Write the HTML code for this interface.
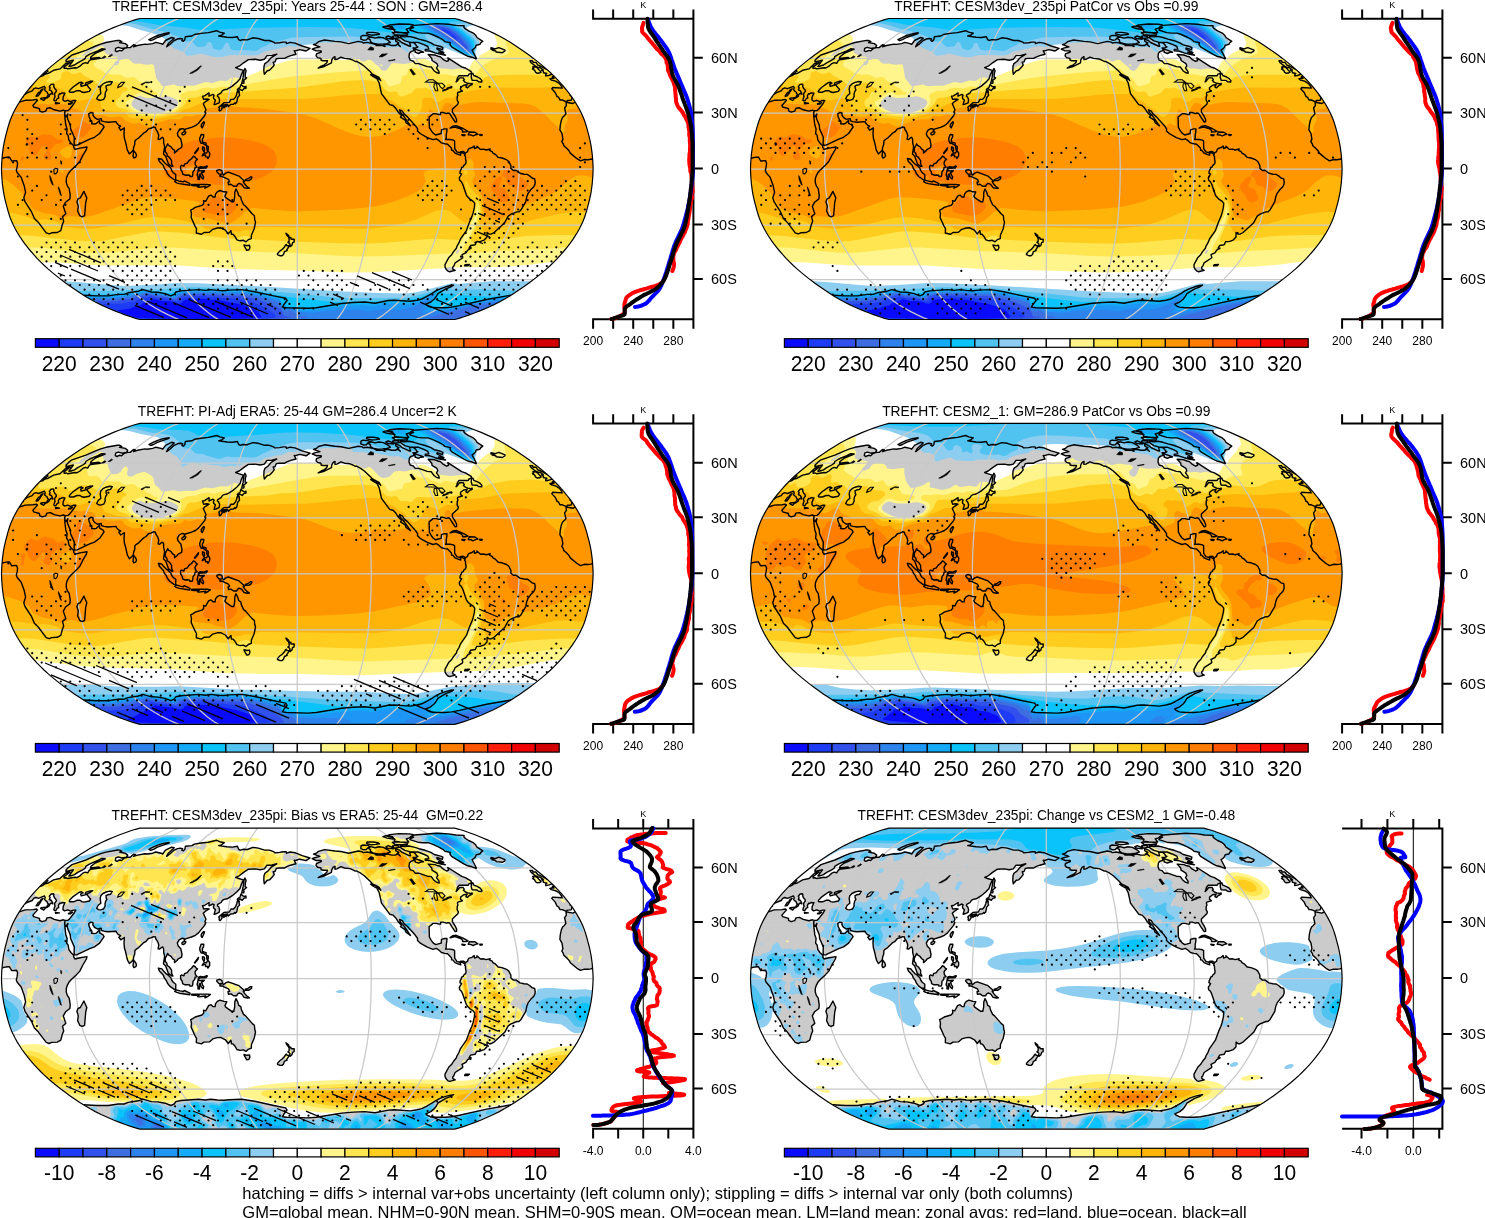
<!DOCTYPE html><html><head><meta charset="utf-8"><title>TREFHT SON</title><style>html,body{margin:0;padding:0;background:#fff}body{width:1485px;height:1218px;position:relative;overflow:hidden;font-family:"Liberation Sans",sans-serif}</style></head><body><svg width="1485" height="1218" viewBox="0 0 1485 1218" style="position:absolute;left:0;top:0" font-family="Liberation Sans, Arimo, Helvetica, Arial, sans-serif" fill="#000">
<defs>
<path id="land" d="M-272.1,-68.7l7.9-0.3 3.4-0.6 1,0.9-4.6,5.2 0.7,1.5 5.9,1.7 0.1,2.1 2.5,1.3 3.6-1 1.3-2.8 3.4-0.5 3.8,2 5.7,1.3 3.5-0.9 1.8,0.6-0.6,2.2 0.4,5.6 0.8,6.5 1.3,3.8-0.5,4.6 1.5,1.9 0.8,4.7 2,2.8 2.8,2.8 0.1,1.8 1.1,1.9 5.1-1.3 7-1.1-0.6,2.4-3.8,6.5-2.8,5.6-3.5,3.8-5,4.6-2.4,2.8-1.5,2.8-1,2.8-0.2,3.8 1.1,3.7 1.9,2.8 1,6.5-0.3,3.8-4.3,3.3-2.3,4.1 2.5,7.5-3.3,2.8 1.2,4.7-1.5,3.7-1.4,5.6-3.5,1.9-5.6,0.3-2.5,1.1-3-1.1-8-10.6-3.8-3.7-2.8-6.6-6.6-10.2-0.6-1.9-0.6-1.9 1.8-5.6-1.4-6.5-3-8.4-4-4.7-0.9-2.4 0.8-3.2 0.5-3.7-1-2.8-4.9,0.4-2.2-3.8-1.8-0.1-4,0.7-1.7,0.7 1-9.3 1.7-9.4 3.5-13.2 2.5-7.5 3.3-7.5 5.4-9.4zM275.6,-65.5l2.3-1.3 6.3,11.3 3.8,9.4 4.1,15 1.9,9.4 1.3,11.2-1.6,0.8-3.2,0.4-3.3-0.2-4,1.3-3.5-2.1-6.7-5.6-0.9-1.8-2.4-2.8-3.2-2.8-0.5-1.9-1.5-2.2 1.1-2.5-0.9-5.6-2.1-3.7 0.4-4.7 1-4.6 1.3-3.2 1.7-1.5 1.6-1.9-1.3-5.9 1.8-2.5-0.4-3.3zM-257.3,-92l3.1-1.3 1.9-1.5 3.3-0.8 5.3-3.1 6.4-1.4 5.6-5.3 4.5-1.2-6.1,4.7 0.1,1.3 2.2-0.2 1.3,0.7 7.5-1.2 1.7,0.3 3.2-1.8 2.8-2.6 2.5-1 2.4,0.7 1.3-2.3 1.4-1.2 10-1.4-1.4-1-8.4,1 0.4-1.7 4.3-3.3 9.9-4.2-3.5-0.4-3.9,2.1-8,3.3-4.1,2.5-0.3,1.7-2.7,1.8-5,2.6-3.2,2.2-3.6,1.2-2,0.2 4.5-6.2-7.4,1.7 0.1-1.7 2.6-2.6 3.3-2.6 13.9-4.6 9.7-4.4 5.1-1.9 5.2-1.6 11.6-2.1 2.4,0.1 1.9,1.2-2.3,0.8 5.8,1.1 2.4,1.9-1.2,2.1-4.6,0.8-3.6-1.1-2.6,1.1-0.4,2.5 1.6,0.8 2.7-1.3 2,0.5 2.8-2.5 3.4-0.8 2.4,0 3.3-2.9 1.9,0.5-1.8,1.6 3.8-1.3 7.6-1.4 2.1,0.3 5.6-0.8 3.1-1.2 5.3,1.2 1.6,0.8 2.8-3.9 6.1-3 2.6,0.7-5.9,5.4-1.7,3.2 3.3-2.4 4.3-3.9 3.3-1.5 2.7-0.5 2.4,0.5-0.8,1.5 1.6,0.8 1.4-1.6 0.6-3 6.4-0.7 2.6-1.5 6.7-1.1 7.3-0.8 8.3-1.9 3,1.4 4.6,1-2.8,2.1-2.8,0.8 8.3,1.2 5.5,0.3 4.9-0.8 1.3,3 1.4,0.8 2.7-0.8 4.6,0.2 5.4-2.1 5.5,0.7 6.3,2 4.7,0 4.4,1.6 1,1 4.8-0.3 3.6-0.7 3,0 0.4,1.5 3.7-1.2 4.7,0.7 7.3,2.9 7.8,2.4-3.9,2.6-6.3-1.4-4.4,1.3-1.2-0.3 1.8,3.6-5.2,1.4-3.9,1.5-2.3,1.3-5.7,0-2.6,0.4-1.3,3.1-1.8,0.3 1,2.8-1.6,2.1-3.1,3.2-2.2,0.4-3,3.5-0.5-3.5 0.2-4.5 0.9-2.6 3-2.1 3.3-3.9 5.6-3.4-4.7,1.2-5.1,0.2-2.7,3.7-4.1,0.9-5.1-0.9-6.7,0.3-4.8,3.2-4.4,3.4-3.5,1.5 2.8,1.2 4.9,1.4-2.2,4.8-1.1,3.7-3.4,3.6-4.4,3.7-5.1,3.1-3.1,0.6-1.7,0.9-1.3,2.2-3.4,1.9-0.3,1.4 1.3,1 0.9,2.8-0.5,2.8-3.2,1.4-1.8,0.4 1.3-4.6-1.6-1.3-0.4-1.5 0.7-1.9-1.2-0.9-3.9,1.8 0.1-3.3-4.6,3-2,0.3 1.2,3.2 3.2-0.4 2.2,0.4-3.9,2.4-1.9,1.9 2.7,6-1.2,2.4 1,0.9-1.2,2.8-6.1,7.5-3.1,2.4-3.9,1.7-6.1,1.8-1,1.9-0.3-2.2-2.2-0.2-2.8,1.5-1.8,3.3 0.9,2.8 2.6,2.8 1.2,5.6-0.4,2.8-3.7,2.1-0.9,1.3-2.5,2.1 0.1-2.7-1.6-0.9-2.2-2.8-2.4-1.3-0.7-1.5-2.3,4.7-0.2,3.1 1.6,1.9 0.5,2.4 2.1,1.5 2.2,3.2 0,3.2 1.3,2.6-1.5-0.2-3-2.4-2.7-7.5-2.2-2.2 1.1-7.5-0.9-3.7-0.1-3.8-0.9-1.8-1.2,0.5-1.8,1.7-1.6-0.4 0.7-3.7-1.2-3.4-2-3.1-0.1-1.5-2-0.4-2.6,1.3-2.5,0.6-2.3,2.8-2.3,1.3-5.1,5-2.3,1.5-1.5,1.5-0.2,3.6-1.1,2.9-0.2,2.3-1.4,1.8-2.6,2.3-1.8-3.2-0.6-2-1.5-6.8-1.1-3.7-0.4-4.7 0.4-5.6-3.6,2.3-2-2.6 1.9-1.5-2.2-1-1.6-1.8-0.9-1.7-8.1,0.6-3.9-0.6-2.5-0.7-0.2-2.3-3.9,0.8-2.7-1.7-1.7-2.4 0-2.3-2.2-0.5-2.1,1.4 0.4,2.8 1.2,2.5-0.2,2.2 1.4-0.9 0.5,1.8-0.5,1.4 3.1,0.3 1.8-0.5 3.1-3 0.1,2.8 3.2,1.7 1.3,2-4.5,6.5-5.1,3.8-4.8,1.8-12.6,6-2.5,0.2-0.5-2.4 0.2-5.6-3.7-8.4-0.3-3.8-2.4-5.6-0.7-2.8 0.7-2.8-1.8,2.8-1-0.9-0.4-2.6 0.5-2.4 2.8-0.2 1.6-1.3 4.3-5.6 1.9-3.2-2.3,0-2.9,1.1-2.8-1.3-3.2,1-1.6-1.3 0.1-2.8 1.8-4.1-2.9-0.2-1.5,1.1-0.8-0.4-1.3,2.1 0.3,2.4-1.4,0.4-1.4,2.4-1.2,0-0.8-0.6 0.3-1.8 0.9-1.9-0.5-1.7 0.1-1.4 1.7-2.3-0.4-1.4-1.3-1.3-1-2.1 0.2-1.6-0.6-0.7-2.2,0.3-1.8,2.2 0.8,1.3-0.7,2 2,1 1.3,2.4 0.1,0.9-1.7-0.7-1.6,1.4-0.1,1.3-2.7,1.9 0.4-1.5 1.4-2.2-1.1-1.1-0.2-1.1-1.6-1.2-1-1.1 0.6-2-0.8-1.6-5.9,2.4-2.7-0.8-2.1,0.9-1.5,2.1-5.2,2-2.5,1.8 8.1-10 5.3-5.8zM-223.8,-76.8l3.5-1.5 3,0 1.7,1.3 2.4,0.5 5.2-1.1 1.3-2-1.8-1.9-2.2-2.9 3.6-1.8 2.5-1.7-2.6,0.2-4.4,1.5-0.3,1.6 0.5,0.6-4.7,1.3-0.5-1.9 2.3-1.3-1.8-0.9-1.9,0.4-6.2,4.4-2.9,2.8-1,1.6 0.8,0.8zM-192.1,-72.8l-0.2-1.8 0.7-2.8 1.2-1.8-0.7-1.5-0.2-2.2 1.6-0.9 3-0.6 1.7-2.7-2.7-0.4-3.5,0.9-3.1,1.5-2.2,2.2-0.6,2.7 0.6,4.8-2.6,2.1-1.5,3 1.7,1.3 2.1,0.3 3.2-0.9zM267.4,-68.1l-2.4-0.9-2.3,0-1.5-2.8-1.4-0.6-1.9-4.1-3.4-3.7 0.8-1.3 9.6,0.6-0.8-2-2.2-2.8-3.6-2.2-4.3-1.1-1.4-1.2 1.9-0.6 2.2,0.2-1.6-1.8 2.5,0.3 1.8,2 8.7,9.8 4.7,6 0,0.6 1.7,1.7 0,1.8-0.8,1.5-3.6,0.2-0.9,1.3zM17.3,-120.9l5.3-1.3-6.4-2.2 2.9-1 2.1-1.9 6.1-1.7 10.3,1.4 6,0.5 7.8,1.7 9.7-2.2 3.8,0.7 1.1,0.9 3.8-0.6 5.5,1.2 3.7,1.3-0.3,0.6 6-0.1 3.1,1.1-1-1.6 3.3-0.5 4.4,1.1 4.2,0 0.4-1.1 2.2,0.5 1.7,1.6-2.6-2.9 1.2-0.8-3-1.5-0.5-2.2 4,1.4 2.2,2 7.5,3.5 1.5,0.3-1-3.5 1.3-0.4 2.8,0.4 2,1.6 0.7,1.6 1.5,0.8-1.8,1.1-3.1,0 1,1.3-0.6,1.7-2.6,0.8-1.4,1.7-0.4,3.7 1.2,3.1 2.9,0.8 2.2,2.6 3.4,0 8.6,3 4,0.4 2.7,3.7 2.4,1.8 2.7,0.9-0.1-1.8-2.5-3.6 1.3-2.1-0.9-2.3-4.9-3.1-0.2-2.1-3.6-3.9 6.8,0.5 2.9,1.2 2.4,0.5 2.7,2.6 3.6,2.1 2-0.9-0.8-2.6 13.9,8.9 3.7,1.2 5.8,3.6 0.3,1.8-2.6,0.8-0.7,1.5-9.2,0-1.6,2.2-0.6,2.7-0.7,1.3 1.5-1.3 2-2.7 3.6,0 1.1,1.8-0.9,0.9 2,1.8 2.4,0.9 3.3,0.6 1-0.6 0.1,1.3-2.9,1.3-1.9,2-1.5-0.9 1.2-2.4-3.4,0.6-3.1,2.3-0.1,2.3 1.6,0.9 0.3,0.5-4.6,1.3-0.4,1 0.5,1.8-0.6,1.3-0.2,3.4 1.3,2.4-0.6,1.8-5.4,5.1 0,2.8 2.7,4.1 1.5,3.3 0,2.3-1.4,0.2-3.6-5.3-2-3.3-1.6-0.4-1.5,0.6-3.4-1.1-2.4,0-0.1,2-1.8,0-2.5-0.7-3.2,0-4,3.3 0.3,10.3 1.8,3.3 1.9,2.5 2.6,1.8 5.5-1.5 0.3-3.7 3.1-0.9 2.4,0-0.3,3.7-0.5,2.2 0,3.4-0.7,1.3 4.6,0 3.3,0.6 1.2,0.9 0.1,7.5 2.2,3.3 2.5,0.8 1.7-1 2.3-0.1 2.1,1.5 2-1.4 0.7-2.2 1-0.9 2.9-0.8 2-1.8 0.5,2.6 2.4-1-0.1-1.3 3.5,3.2 3.3-0.2 2.5,0.8 4-1-0.7,1.3 2.6,1.3 0.9,1.5 2.6,1.5 2.6,2.8 3.8,0.6 4.5,1.7 2.3,1.8 2.1,4.1 0,2.8 2.5,2.1 2.5-0.2 4,3 4.1,0.9 3.2,0.2 2.4,1.5 2.4,2.1 2.7,0.9 0.5,3.2-0.2,2-1.2,2.6-2.8,2.8-2.9,3.8-1.4,3.7-0.9,4.7-4.9,8.4-2,1.8-2,0-5.8,2.3-2.9,2-3.5,6.5-10.6,9.8-3.1,1.6-1.8,0-2.1-1.6-0.1,4.6-2.8,3-4.2,1.5-3.3,0-1.5,3.1-4.6,0.8-1.5,2.7 2,0-3.4,1.9-1.8,2.7-3.9,1.9 0.8,2.4-0.3,0.9-7.4,4.9-1.4,3.4-1,1 0.2,1.8 2.3,1.2-5.5,1.5-1.7-0.6-1.6-1.6-1.3-2.3-0.1-2.7 3.9-7.2 2.8-2.7 1.7-2.8 3-3.7 0.5-1.8 2.1-3.7 1.5-3.7 5.9-8.4 3.4-9.3 2.1-4.7 1.2-3.7 1.3-5.6 0.3-4-1.5-2-3-1.9-2.8-2.8-1.1-1.8-3.6-10.5-1.3-2.6-1.7-1.5-0.4-2.4 2.3-3.8-1.7-0.9 0.4-2.2 1-1.9 0.3-1.5 1.7-0.7 0.3-1.2 2.1-1.8 0.4-2.1-0.6-3 0-2.2-0.9-1.1 0.6-1.3-1.3-0.4-2.1-1.3-1.4,1.3 0.3,1.5-2-0.6-3.7-1.6-2.3-2.7-1.1,0-0.2-2.2-3.8-3.9-2.8-0.4-3.3-0.9-2.7-2.5-2.6-1.6-3.2,0.9-5.7-2.1-7.1-4.1-2.7-2.6 0.1-2-2.2-3.2-7.7-8.6-3.7-3.2-1.7-2.8-2.7-1.3 0.6,2.3 3.3,3.7 7,10.1-4.4-3.2-0.9-2.6-4.7-3 1.1-1.3-3.1-3.3-2.7-4.2-2.8-2.8-3.3-0.9-8.2-11-2.3-10.6-2.2-4.1 2.5,0.2 1.2,1.5-1.7-3.1-6.6-3.3-2.3-2.6-5.8-5.4-3.6-2.6-4.1-2.2-1.3,0.1-2.4-1.3-3-1.2-5.4-0.6-3.6-1.3-4,2.2-2,0.3 0.1-2.9-1.8,0.9-1.5,2.6-0.2,2.6-8.2,4-5.1,1.2 3-1.8 3.2-1.4 2.4-2 0.7-2.1-4.3,0-2.1-0.5-0.2-1.8-3.4-0.8-1.4-1.7 0.4-2 4.8-1.9-0.2-1.1-5,0-3.9-1.8zM116.9,-143.6l22.8-1.8 11.3,0.7 7.5,1.1 8.3,0.4-0.2,1.4 1.6,1.7 3.1,2 4.7,2.2 2.3,2.1 1.4,2.3 5.8,3.8-2,1.5-0.9,1.6-3.7,0.8-0.7,1.9-1.6,1.8-1.8,1.2 4.3,8.3-0.3,0.4-4.1-1.6-4.3-1-3.9-2-12.2-7.4-1.7-2.4 0.6-1.6-5.5-1.2-2.2-1.9-3.9-2.2-6.6-3-4.2-1.4-5.5,0-4.9-0.5-7.8-2.6 0.6-1.1 3.2-1.3-3-0.6zM-104.6,40.1l2.5-1.7 6.8-2 1.8-1.9-0.3-2.8 2.2,0.6 2.9-5.2 2.4-1 2,1.9 2.1,0 0.4-2.8 1.8-2.4 2.7-1.3 3.8,1.3 3,0.2-1.9,4.1 0.8,1.5 6,4.1 2.1,0 0.9-4.7 0.1-4.7 1.2-3.3 1.7,3.3 1,3.4 2.1,1.3 0.5,2.8 2.3,5 2,1.5 6.5,7.5 2.3,1.9 0.3,3.7 0.8,3-1.3,6.3-2.8,6.5-0.1,3.4-3,1.1-2.3,2.1-2.6-1.5-3.3,0.5-3.2-0.9-2.1-3.7-1.8-1.9-1.5,0-0.6-3.7-2.6,3.3-2.9-3.7-4.7-2.4-3.4,0.2-4.5,1.3-3.4,3-5.4,0.2-2.7,1.8-5-1.3 0.2-4.3-1.6-2.8-3.8-8.4 0.4-3.7-0.8-3.7zM-50.4,76.7l2.6-0.4 0.4,2.4-0.9,2-2.2,0.6-2.6-4.5-0.2-0.9zM-8.8,66.2l0.8,2.5 1.5-0.2 0.4,1.7 3,0-0.1,2.9-1.5,0.6-0.6,2.4-1.8,1.5-0.7-0.6 0.5-1.8-0.4-0.8-1.7-1.1 1.2-0.9 0.1-2.4-0.7-1.9-2-2.4-0.5-1.5zM-10.1,76.8l1.5,0-0.1,1.2-2,3.1 0.5,0.5-2.7,1.1-0.9,2.8-1.5,1.3-1.8,0-2.7-1.1 0-0.9 2-2.4 2.9-2.2 2.1-2.2 0.9-1.7 0.9-0.8zM-210.5,28.9l-1.1,4.7-1.1,13.1-2.5,1.1-2.3-1.1-2.2-4.7 0.7-4.7-1.4-4.6 1.1-2.8 2.3-1 3.6-6.5zM-73.4,-66.2l5.4-0.4 1.7-3 2.6,0 1.9-2.2 1.2-2.8 0.4-2.2 2.2-0.4-0.2,1.7 0.5,1.8-1.9,2.2-1,4.9-1.4,1.3-0.3-0.9-1.6,1.4-2.8,0.2-2.2,2.1-0.9-2.1-6.6,1.1zM-75.3,-62.1l0.1,1.4-1.3,2.1-1,0.6-0.7-0.8 0.3-1.9-0.6-0.9 0.9-1.1 1.2-0.6zM-71.5,-64l1,0.9-0.9,1-1.1-0.4-0.9,1.3-0.8-0.9 0.3-1.4zM-59.4,-78.9l-0.6-0.5 1.2-1.3 1.2,0 1.3-3.9 1.6,1.7 2,0.9 1.4-0.6 0,1.9-2.3,0.5-1.4,1.9-1.8-1.1-1.5,0.3-0.7,1.1-1,0.6zM-51.2,-98.3l-0.7,2.7-0.3,3.6 1.5,0.9-3.2,2.7 0.7,1.3-0.4,1.4-2,0 1.3-5.4 1-7.2 0.9-2.3zM-92.8,-46.5l-1,2.6-1.3,2.8-1-1.3 0.1-1.8 1.3-1.9 1.2-1.1zM-113,-37.5l1.6,0.7-1,1.9-1.7,0.9-1.3-0.7 0.2-1.3zM-161.6,-15.9l0.8,2.3-0.7,1.7-1.9,0.9-0.9-1.7 0.7-5.6zM-135.4,-9.7l1.6,2.2 2.4,2.5 2.4,1.6 2.5,2.5 1.1,2.8 1.4,1.8 2.5,1.9-0.1,5.2-1.4,0-4.6-3.3-2.2-2.8-1.2-2.8-2.1-2.8-0.8-2.5-4-4.1-1.1-3zM-121,11.2l3.8,1.1 3.3,0.6 0.8-1 5.8,2.7-0.1,1.6-10.6-1.6-2.5-0.8-2.1-1.1zM-99.9,15.5l9.8,0 3.3,0.4-2.4,1.8-3.2,1.5 0.7-1.8-6.5,0.9-1.6-0.4 1.6-1.3-4.9,0.2-2.5-0.4 0-0.9zM-115.8,-3.7l2.4,0.9 0.6-2.1 2.8-1.1 1.7-2.4 2.5-1.9 2-2.6 1.6,1 1.3,1.6 1.1,0.6-1.6,1.5-0.9,1.7 0.4,2.4 1.7,2.2-2,0.4-0.5,2.4-1.6,1.9-0.3,3.4-0.5,1.3-2.3,0-0.2-1.2-2.4-0.3-2.2,0.2-2.5-1.2-0.3-2.2-1.3-1.9-0.4-1.5 0-2.2zM-96.9,-2.2l3.2,0.5 3.3-1.3 0.4,0.4-1.2,1.7-5.8,0.2-1.3,0.3-0.3,1.9 1.6,0.4 4-0.2-1,1.1-1.8,0.7 1,2.7 1.2,1.8-0.6,2.1-1.8-1.7-0.9-1.9 0-1.5-1,0.4 0.1,5.1-1.5-0.2 0-2.8-0.9-1.3 1.6-7.7zM-78.1,0.7l2.5,0.8 0.9,3.2 0.8,1.5 2.4-2.1 2.5-0.9 10.7,3.9 4.5,4.1 1,1.3-1.3,0.2 1.7,2.6 1.7,1.9 2.8,2-2,0.2-3.3-0.7-2.5-3.4-2.5-0.9-1.6,1.1-0.8,1.7-3.2,0-2.5-1.9-2.5,0.4-0.5-2.6 1.6-0.4-1.2-2.4-6.6-3-1.7,0.2-0.3-1.3 1.6-1-2.5-0.2-2.1-2.4 0-1.1zM-49.2,9.7l2.4-1.7 1.3,0-0.4,1.9-2.5,1.7-3.3,0-0.3-1zM-93.5,-34.3l-0.3,2.6-1.1,1.8 0,2.8 3.7,1.2 0,2.4-3.3-2.1-1.6,0-1.2-2.4-0.3-2.4 1.5-4.1zM-87.6,-15.9l-0.1,2.8-1.7,2.6-0.5-1.6-1.9,0 0-1.9-1.6,0-1.7,0.9 0.9-1.8 1.7-1.1 1.6,0.1 1.7-2.4zM-89,-22.4l-0.1,2.8-0.9,0.9-0.7-1.8 0.1-2.8zM-93.1,-21.5l0.4,2.8-0.6,1.7-1.5-2.6 0.1-2.4zM-98.8,-21.1l-0.5,1.9-3.1,3.7-0.4-0.4zM-250.6,-98.3l1.3,0.5-3.8,2.7-1.8,0.3 5.1-4.6zM253.3,-94.2l-2.1,0.7-2.8,0.4 0.2-1.8 1-0.6-3.5-0.7 0.3-0.3-0.8-1.5-1.4-0.9 1.9-0.1-3.7-2.7-1.7,0.4-0.4-0.6-1.8-0.7-4.6-3.6-1.2-2 2.5,0 0.7,1.6 2.7,0 2.2,3 1.1,0 7.9,4.2 5.1,4.6zM243.8,-96.9l-1.5,0.9-2.6,0.2-1.5-1.1-0.8-1.8-2.2-1.4 1.3-0.7-1.1-1.2 1.4-0.4 3,1.1zM193.7,-121.2l4.2,1.1 3.6-1.3 6.2,2.5-0.2,1.1-2.5,1.5-6.2-0.7-0.3-1-3.5-0.8 1.6-0.6-2.9-0.4zM-144.8,-131.2l5.1-2.3 5.7-1.7 5.8-1-0.1,0.8-11.6,3.9-3.9,2.2-2.8,1-1.8-1zM143.6,-114.6l-5.7-1.5-5.4-1.9-4.6-0.3 0.1-1.3 3.5-0.3-1-2.6-3.3-1.6-6.5-2.5-8.5-0.3-4.6-1.3-4-2.6-0.5-1.8 4.4,0.5 4.1-0.5 5,1.1 5.1,1.6 6.2,1.6 5.7,2.1 3.3,2.1 6.4,1.6 2.3,1.1-0.5,2.1-5.4-1.8 0,1.3 6.9,3.5-5.3-0.5 6.9,3zM85.1,-124.9l-4.7,0.2-4.7-1-2.7-1.7 0.2-1.6-2.8-1.8 3.2-1.2 4.2,1.1 3.9-0.9 4.4,0.6 4.9,2.7 2,2-3.4,1.1zM63.7,-132.6l2.1-1 4.8,0.4 2.6,1.4-3.1,1.5-1,1.2-2.8,0.3-2.8-1.1zM108.5,-136.4l-5.8-0.2-5.1-0.8-2.4-4.6-5.3-1 2.6-1 9.3-1 10.3,0.3 4,0.7-2.3,2.2-1.7,1-3.2,1 2.5,3.2zM109.8,-133.8l-6.2,0-6-0.4-2.5-2 2.6-0.6 6.3,0.3 6.4,1.3zM89.9,-140.5l-4.3-1.5 3-0.9 5.8,1.5 3.3,2.2zM78.8,-134.2l-4.7,0.4-4.9-1.4 0.5-1.4 6,0 4.9,0.7 1.6,1.1zM97,-130.5l-1.8-2.1 2.2-0.7 3.3,0.6 1.4,1.5zM90.1,-130.5l-1.6-1.3 2.4-1.2 3.5,1.5 1.5,1.8zM117,-120.2l7.6,2.6 1.6,0.8-2.7,0.2-2.3,1.1-3.5-1.3 0.3-0.5zM173.9,-92l0.3-2.8 1.3-1 1,2.3 3.8,1.5 2.6,1.6 1.7,2-0.2,1.4-3.2-0.3-1.5-1.3-4.9-0.2zM77.9,-93.3l3.5,3.1-2.3-0.4-3.4-2-2.4-1.8zM155.7,-42.9l3.2-0.4 6.9,2.8 4.9,2.8-2,0.6-3.5,0.1 0.1-1.4-1.9-1.7-5.9-1.9-4.7,1.1zM172.1,-37l5.5,0.2 3,2.1-2.5,0.5-2.3,1.2-1.8-1-3.1-0.3zM167.9,-34l-1,0.8-2.2-0.6-0.1-0.5zM185,-34.3l-0.4,0.8-1.9-0.1-0.2-0.9zM172.2,95.5l-1.7,1.4-3.2,0 0.6-1.3zM-251.3,-71.3l-2.3,2.8-3-1.7 0.5-0.7zM-256.7,-76.5l-2.4,3.4-2.1,0.3 2.4-3.7zM-254.2,-80.2l-2,2.8-1,0 1.1-1.8zM-237.9,-65.7l-3.8,0.4-0.2-0.9 2,0.2zM-224.8,-66.4l-1.9,1.5-2.1,0.1 0-0.5zM-213.8,126.2l13,0.7 11.9,0 9.7-1.5 6,0 4-1.6 10.3-1.6 4.5-1.6 8.6,2.4 6.4,0.3 7.2,1.3 5.8,2.3 3.3-1.5 1.6-2.4 5.2-1.1 17.5-1.3 6.7,0.8 5.6-0.8 6.6,0.8 6.3,0.3 5.9-0.6 12.1-0.5 13,2.1 19,4.2 12,2.4 1.4,2.2-3,3.7-1.7,2.9 4.3,0.6 21.1,0.6 8.5-0.6 25.3-4.2 11.6-1 11.4-0.5 10.4,1.2 13.3-2.7 5.9-0.3 16.1,1.1 6.8-1.1 4.7-1.2 4.6-2.3 5.5-3.1 3.5-2.4 4.7-2.4 5.6-2 5-1.3 2.9-0.4-3.2,2-4.7,1.7-7.8,4.8-1.3,2.3-2.2,3.1-3.6,3-5,2.2 1.3,1.4 3.2,1.5 6.3,0.6 8.5,0 6.5-0.6 7.9-1.5 27.2-6.1 24.4-4.3-13.6,7.7-12.5,5.8-15.3,6.1-15,4.7-314.8,0-15-4.7-15.3-6.1-12.5-5.8z" fill="#cbcbcb" fill-rule="evenodd"/>
<path id="coast" d="M-277.9,-66.8l5.8-1.9 7.9-0.3 3.4-0.6 1,0.9-4.6,5.2 0.7,1.5 5.9,1.7 0.1,2.1 2.5,1.3 3.6-1 1.3-2.8 3.4-0.5 3.8,2 5.7,1.3 3.5-0.9 1.8,0.6-0.6,2.2 0.4,5.6 0.8,6.5 1.3,3.8-0.5,4.6 1.5,1.9 0.8,4.7 2,2.8 2.8,2.8 0.1,1.8 1.1,1.9 5.1-1.3 7-1.1-0.6,2.4-3.8,6.5-2.8,5.6-3.5,3.8-5,4.6-2.4,2.8-1.5,2.8-1,2.8-0.2,3.8 1.1,3.7 1.9,2.8 1,6.5-0.3,3.8-4.3,3.3-2.3,4.1 2.5,7.5-3.3,2.8 1.2,4.7-1.5,3.7-1.4,5.6-3.5,1.9-5.6,0.3-2.5,1.1-3-1.1-8-10.6-3.8-3.7-2.8-6.6-6.6-10.2-0.6-1.9-0.6-1.9 1.8-5.6-1.4-6.5-3-8.4-4-4.7-0.9-2.4 0.8-3.2 0.5-3.7-1-2.8-4.9,0.4-2.2-3.8-1.8-0.1-4,0.7-1.7,0.7M295.3,-10.5l-1.6,0.8-3.2,0.4-3.3-0.2-4,1.3-3.5-2.1-6.7-5.6-0.9-1.8-2.4-2.8-3.2-2.8-0.5-1.9-1.5-2.2 1.1-2.5-0.9-5.6-2.1-3.7 0.4-4.7 1-4.6 1.3-3.2 1.7-1.5 1.6-1.9-1.3-5.9 1.8-2.5-0.4-3.3 6.9,1.3 2.3-1.3M-257.6,-92.1l3.4-1.2 1.9-1.5 3.3-0.8 5.3-3.1 6.4-1.4 5.6-5.3 4.5-1.2-6.1,4.7 0.1,1.3 2.2-0.2 1.3,0.7 7.5-1.2 1.7,0.3 3.2-1.8 2.8-2.6 2.5-1 2.4,0.7 1.3-2.3 1.4-1.2 10-1.4-1.4-1-8.4,1 0.4-1.7 4.3-3.3 9.9-4.2-3.5-0.4-3.9,2.1-8,3.3-4.1,2.5-0.3,1.7-2.7,1.8-5,2.6-3.2,2.2-3.6,1.2-2,0.2 4.5-6.2-7.4,1.7 0.1-1.7 2.6-2.6 3.3-2.6 13.9-4.6 9.7-4.4 5.1-1.9 5.2-1.6 11.6-2.1 2.4,0.1 1.9,1.2-2.3,0.8 5.8,1.1 2.4,1.9-1.2,2.1-4.6,0.8-3.6-1.1-2.6,1.1-0.4,2.5 1.6,0.8 2.7-1.3 2,0.5 2.8-2.5 3.4-0.8 2.4,0 3.3-2.9 1.9,0.5-1.8,1.6 3.8-1.3 7.6-1.4 2.1,0.3 5.6-0.8 3.1-1.2 5.3,1.2 1.6,0.8 2.8-3.9 6.1-3 2.6,0.7-5.9,5.4-1.7,3.2 3.3-2.4 4.3-3.9 3.3-1.5 2.7-0.5 2.4,0.5-0.8,1.5 1.6,0.8 1.4-1.6 0.6-3 6.4-0.7 2.6-1.5 6.7-1.1 7.3-0.8 8.3-1.9 3,1.4 4.6,1-2.8,2.1-2.8,0.8 8.3,1.2 5.5,0.3 4.9-0.8 1.3,3 1.4,0.8 2.7-0.8 4.6,0.2 5.4-2.1 5.5,0.7 6.3,2 4.7,0 4.4,1.6 1,1 4.8-0.3 3.6-0.7 3,0 0.4,1.5 3.7-1.2 4.7,0.7 7.3,2.9 7.8,2.4-3.9,2.6-6.3-1.4-4.4,1.3-1.2-0.3 1.8,3.6-5.2,1.4-3.9,1.5-2.3,1.3-5.7,0-2.6,0.4-1.3,3.1-1.8,0.3 1,2.8-1.6,2.1-3.1,3.2-2.2,0.4-3,3.5-0.5-3.5 0.2-4.5 0.9-2.6 3-2.1 3.3-3.9 5.6-3.4-4.7,1.2-5.1,0.2-2.7,3.7-4.1,0.9-5.1-0.9-6.7,0.3-4.8,3.2-4.4,3.4-3.5,1.5 2.8,1.2 4.9,1.4-2.2,4.8-1.1,3.7-3.4,3.6-4.4,3.7-5.1,3.1-3.1,0.6-1.7,0.9-1.3,2.2-3.4,1.9-0.3,1.4 1.3,1 0.9,2.8-0.5,2.8-3.2,1.4-1.8,0.4 1.3-4.6-1.6-1.3-0.4-1.5 0.7-1.9-1.2-0.9-3.9,1.8 0.1-3.3-4.6,3-2,0.3 1.2,3.2 3.2-0.4 2.2,0.4-3.9,2.4-1.9,1.9 2.7,6-1.2,2.4 1,0.9-1.2,2.8-6.1,7.5-3.1,2.4-3.9,1.7-6.1,1.8-1,1.9-0.3-2.2-2.2-0.2-2.8,1.5-1.8,3.3 0.9,2.8 2.6,2.8 1.2,5.6-0.4,2.8-3.7,2.1-0.9,1.3-2.5,2.1 0.1-2.7-1.6-0.9-2.2-2.8-2.4-1.3-0.7-1.5-2.3,4.7-0.2,3.1 1.6,1.9 0.5,2.4 2.1,1.5 2.2,3.2 0,3.2 1.3,2.6-1.5-0.2-3-2.4-2.7-7.5-2.2-2.2 1.1-7.5-0.9-3.7-0.1-3.8-0.9-1.8-1.2,0.5-1.8,1.7-1.6-0.4 0.7-3.7-1.2-3.4-2-3.1-0.1-1.5-2-0.4-2.6,1.3-2.5,0.6-2.3,2.8-2.3,1.3-5.1,5-2.3,1.5-1.5,1.5-0.2,3.6-1.1,2.9-0.2,2.3-1.4,1.8-2.6,2.3-1.8-3.2-0.6-2-1.5-6.8-1.1-3.7-0.4-4.7 0.4-5.6-3.6,2.3-2-2.6 1.9-1.5-2.2-1-1.6-1.8-0.9-1.7-8.1,0.6-3.9-0.6-2.5-0.7-0.2-2.3-3.9,0.8-2.7-1.7-1.7-2.4 0-2.3-2.2-0.5-2.1,1.4 0.4,2.8 1.2,2.5-0.2,2.2 1.4-0.9 0.5,1.8-0.5,1.4 3.1,0.3 1.8-0.5 3.1-3 0.1,2.8 3.2,1.7 1.3,2-4.5,6.5-5.1,3.8-4.8,1.8-12.6,6-2.5,0.2-0.5-2.4 0.2-5.6-3.7-8.4-0.3-3.8-2.4-5.6-0.7-2.8 0.7-2.8-1.8,2.8-1-0.9-0.4-2.6 0.5-2.4 2.8-0.2 1.6-1.3 4.3-5.6 1.9-3.2-2.3,0-2.9,1.1-2.8-1.3-3.2,1-1.6-1.3 0.1-2.8 1.8-4.1-2.9-0.2-1.5,1.1-0.8-0.4-1.3,2.1 0.3,2.4-1.4,0.4-1.4,2.4-1.2,0-0.8-0.6 0.3-1.8 0.9-1.9-0.5-1.7 0.1-1.4 1.7-2.3-0.4-1.4-1.3-1.3-1-2.1 0.2-1.6-0.6-0.7-2.2,0.3-1.8,2.2 0.8,1.3-0.7,2 2,1 1.3,2.4 0.1,0.9-1.7-0.7-1.6,1.4-0.1,1.3-2.7,1.9 0.4-1.5 1.4-2.2-1.1-1.1-0.2-1.1-1.6-1.2-1-1.1 0.6-2-0.8-1.6-5.9,2.4-2.7-0.8-2.1,0.9-1.5,2.1-5.2,2-2.5,1.8M-223.8,-76.8l3.5-1.5 3,0 1.7,1.3 2.4,0.5 5.2-1.1 1.3-2-1.8-1.9-2.2-2.9 3.6-1.8 2.5-1.7-2.6,0.2-4.4,1.5-0.3,1.6 0.5,0.6-4.7,1.3-0.5-1.9 2.3-1.3-1.8-0.9-1.9,0.4-6.2,4.4-2.9,2.8-1,1.6 0.8,0.8zM-192.1,-72.8l-0.2-1.8 0.7-2.8 1.2-1.8-0.7-1.5-0.2-2.2 1.6-0.9 3-0.6 1.7-2.7-2.7-0.4-3.5,0.9-3.1,1.5-2.2,2.2-0.6,2.7 0.6,4.8-2.6,2.1-1.5,3 1.7,1.3 2.1,0.3 3.2-0.9zM-273.9,-72.9l0,0.5-0.6,0.4M272.8,-74.3l0,0.6 1.1,0.8M274.5,-72l0,1.8-0.8,1.5-3.6,0.2-0.9,1.3-4.2-1.8-2.3,0-1.5-2.8-1.4-0.6-1.9-4.1-3.4-3.7 0.8-1.3 9.6,0.6-0.8-2-2.2-2.8-3.6-2.2-4.3-1.1-1.4-1.2 1.9-0.6 2.2,0.2-1.6-1.8 2.5,0.3M17.3,-120.9l5.3-1.3-6.4-2.2 2.9-1 2.1-1.9 6.1-1.7 10.3,1.4 6,0.5 7.8,1.7 9.7-2.2 3.8,0.7 1.1,0.9 3.8-0.6 5.5,1.2 3.7,1.3-0.3,0.6 6-0.1 3.1,1.1-1-1.6 3.3-0.5 4.4,1.1 4.2,0 0.4-1.1 2.2,0.5 1.7,1.6-2.6-2.9 1.2-0.8-3-1.5-0.5-2.2 4,1.4 2.2,2 7.5,3.5 1.5,0.3-1-3.5 1.3-0.4 2.8,0.4 2,1.6 0.7,1.6 1.5,0.8-1.8,1.1-3.1,0 1,1.3-0.6,1.7-2.6,0.8-1.4,1.7-0.4,3.7 1.2,3.1 2.9,0.8 2.2,2.6 3.4,0 8.6,3 4,0.4 2.7,3.7 2.4,1.8 2.7,0.9-0.1-1.8-2.5-3.6 1.3-2.1-0.9-2.3-4.9-3.1-0.2-2.1-3.6-3.9 6.8,0.5 2.9,1.2 2.4,0.5 2.7,2.6 3.6,2.1 2-0.9-0.8-2.6 13.9,8.9 3.7,1.2 5.8,3.6 0.3,1.8-2.6,0.8-0.7,1.5-9.2,0-1.6,2.2-0.6,2.7-0.7,1.3 1.5-1.3 2-2.7 3.6,0 1.1,1.8-0.9,0.9 2,1.8 2.4,0.9 3.3,0.6 1-0.6 0.1,1.3-2.9,1.3-1.9,2-1.5-0.9 1.2-2.4-3.4,0.6-3.1,2.3-0.1,2.3 1.6,0.9 0.3,0.5-4.6,1.3-0.4,1 0.5,1.8-0.6,1.3-0.2,3.4 1.3,2.4-0.6,1.8-5.4,5.1 0,2.8 2.7,4.1 1.5,3.3 0,2.3-1.4,0.2-3.6-5.3-2-3.3-1.6-0.4-1.5,0.6-3.4-1.1-2.4,0-0.1,2-1.8,0-2.5-0.7-3.2,0-4,3.3 0.3,10.3 1.8,3.3 1.9,2.5 2.6,1.8 5.5-1.5 0.3-3.7 3.1-0.9 2.4,0-0.3,3.7-0.5,2.2 0,3.4-0.7,1.3 4.6,0 3.3,0.6 1.2,0.9 0.1,7.5 2.2,3.3 2.5,0.8 1.7-1 2.3-0.1 2.1,1.5 2-1.4 0.7-2.2 1-0.9 2.9-0.8 2-1.8 0.5,2.6 2.4-1-0.1-1.3 3.5,3.2 3.3-0.2 2.5,0.8 4-1-0.7,1.3 2.6,1.3 0.9,1.5 2.6,1.5 2.6,2.8 3.8,0.6 4.5,1.7 2.3,1.8 2.1,4.1 0,2.8 2.5,2.1 2.5-0.2 4,3 4.1,0.9 3.2,0.2 2.4,1.5 2.4,2.1 2.7,0.9 0.5,3.2-0.2,2-1.2,2.6-2.8,2.8-2.9,3.8-1.4,3.7-0.9,4.7-4.9,8.4-2,1.8-2,0-5.8,2.3-2.9,2-3.5,6.5-10.6,9.8-3.1,1.6-1.8,0-2.1-1.6-0.1,4.6-2.8,3-4.2,1.5-3.3,0-1.5,3.1-4.6,0.8-1.5,2.7 2,0-3.4,1.9-1.8,2.7-3.9,1.9 0.8,2.4-0.3,0.9-7.4,4.9-1.4,3.4-1,1 0.2,1.8 2.3,1.2-5.5,1.5-1.7-0.6-1.6-1.6-1.3-2.3-0.1-2.7 3.9-7.2 2.8-2.7 1.7-2.8 3-3.7 0.5-1.8 2.1-3.7 1.5-3.7 5.9-8.4 3.4-9.3 2.1-4.7 1.2-3.7 1.3-5.6 0.3-4-1.5-2-3-1.9-2.8-2.8-1.1-1.8-3.6-10.5-1.3-2.6-1.7-1.5-0.4-2.4 2.3-3.8-1.7-0.9 0.4-2.2 1-1.9 0.3-1.5 1.7-0.7 0.3-1.2 2.1-1.8 0.4-2.1-0.6-3 0-2.2-0.9-1.1 0.6-1.3-1.3-0.4-2.1-1.3-1.4,1.3 0.3,1.5-2-0.6-3.7-1.6-2.3-2.7-1.1,0-0.2-2.2-3.8-3.9-2.8-0.4-3.3-0.9-2.7-2.5-2.6-1.6-3.2,0.9-5.7-2.1-7.1-4.1-2.7-2.6 0.1-2-2.2-3.2-7.7-8.6-3.7-3.2-1.7-2.8-2.7-1.3 0.6,2.3 3.3,3.7 7,10.1-4.4-3.2-0.9-2.6-4.7-3 1.1-1.3-3.1-3.3-2.7-4.2-2.8-2.8-3.3-0.9-8.2-11-2.3-10.6-2.2-4.1 2.5,0.2 1.2,1.5-1.7-3.1-6.6-3.3-2.3-2.6-5.8-5.4-3.6-2.6-4.1-2.2-1.3,0.1-2.4-1.3-3-1.2-5.4-0.6-3.6-1.3-4,2.2-2,0.3 0.1-2.9-1.8,0.9-1.5,2.6-0.2,2.6-8.2,4-5.1,1.2 3-1.8 3.2-1.4 2.4-2 0.7-2.1-4.3,0-2.1-0.5-0.2-1.8-3.4-0.8-1.4-1.7 0.4-2 4.8-1.9-0.2-1.1-5,0-3.9-1.8zM116.9,-143.6l22.8-1.8 11.3,0.7 7.5,1.1 8.3,0.4-0.2,1.4 1.6,1.7 3.1,2 4.7,2.2 2.3,2.1 1.4,2.3 5.8,3.8-2,1.5-0.9,1.6-3.7,0.8-0.7,1.9-1.6,1.8-1.8,1.2 4.3,8.3-0.3,0.4-4.1-1.6-4.3-1-3.9-2-12.2-7.4-1.7-2.4 0.6-1.6-5.5-1.2-2.2-1.9-3.9-2.2-6.6-3-4.2-1.4-5.5,0-4.9-0.5-7.8-2.6 0.6-1.1 3.2-1.3-3-0.6zM-104.6,40.1l2.5-1.7 6.8-2 1.8-1.9-0.3-2.8 2.2,0.6 2.9-5.2 2.4-1 2,1.9 2.1,0 0.4-2.8 1.8-2.4 2.7-1.3 3.8,1.3 3,0.2-1.9,4.1 0.8,1.5 6,4.1 2.1,0 0.9-4.7 0.1-4.7 1.2-3.3 1.7,3.3 1,3.4 2.1,1.3 0.5,2.8 2.3,5 2,1.5 6.5,7.5 2.3,1.9 0.3,3.7 0.8,3-1.3,6.3-2.8,6.5-0.1,3.4-3,1.1-2.3,2.1-2.6-1.5-3.3,0.5-3.2-0.9-2.1-3.7-1.8-1.9-1.5,0-0.6-3.7-2.6,3.3-2.9-3.7-4.7-2.4-3.4,0.2-4.5,1.3-3.4,3-5.4,0.2-2.7,1.8-5-1.3 0.2-4.3-1.6-2.8-3.8-8.4 0.4-3.7-0.8-3.7zM-50.4,76.7l2.6-0.4 0.4,2.4-0.9,2-2.2,0.6-2.6-4.5-0.2-0.9zM-8.8,66.2l0.8,2.5 1.5-0.2 0.4,1.7 3,0-0.1,2.9-1.5,0.6-0.6,2.4-1.8,1.5-0.7-0.6 0.5-1.8-0.4-0.8-1.7-1.1 1.2-0.9 0.1-2.4-0.7-1.9-2-2.4-0.5-1.5zM-10.1,76.8l1.5,0-0.1,1.2-2,3.1 0.5,0.5-2.7,1.1-0.9,2.8-1.5,1.3-1.8,0-2.7-1.1 0-0.9 2-2.4 2.9-2.2 2.1-2.2 0.9-1.7 0.9-0.8zM-210.5,28.9l-1.1,4.7-1.1,13.1-2.5,1.1-2.3-1.1-2.2-4.7 0.7-4.7-1.4-4.6 1.1-2.8 2.3-1 3.6-6.5zM-73.4,-66.2l5.4-0.4 1.7-3 2.6,0 1.9-2.2 1.2-2.8 0.4-2.2 2.2-0.4-0.2,1.7 0.5,1.8-1.9,2.2-1,4.9-1.4,1.3-0.3-0.9-1.6,1.4-2.8,0.2-2.2,2.1-0.9-2.1-6.6,1.1zM-75.3,-62.1l0.1,1.4-1.3,2.1-1,0.6-0.7-0.8 0.3-1.9-0.6-0.9 0.9-1.1 1.2-0.6zM-71.5,-64l1,0.9-0.9,1-1.1-0.4-0.9,1.3-0.8-0.9 0.3-1.4zM-59.4,-78.9l-0.6-0.5 1.2-1.3 1.2,0 1.3-3.9 1.6,1.7 2,0.9 1.4-0.6 0,1.9-2.3,0.5-1.4,1.9-1.8-1.1-1.5,0.3-0.7,1.1-1,0.6zM-51.2,-98.3l-0.7,2.7-0.3,3.6 1.5,0.9-3.2,2.7 0.7,1.3-0.4,1.4-2,0 1.3-5.4 1-7.2 0.9-2.3zM-92.8,-46.5l-1,2.6-1.3,2.8-1-1.3 0.1-1.8 1.3-1.9 1.2-1.1zM-113,-37.5l1.6,0.7-1,1.9-1.7,0.9-1.3-0.7 0.2-1.3zM-161.6,-15.9l0.8,2.3-0.7,1.7-1.9,0.9-0.9-1.7 0.7-5.6zM-135.4,-9.7l1.6,2.2 2.4,2.5 2.4,1.6 2.5,2.5 1.1,2.8 1.4,1.8 2.5,1.9-0.1,5.2-1.4,0-4.6-3.3-2.2-2.8-1.2-2.8-2.1-2.8-0.8-2.5-4-4.1-1.1-3zM-121,11.2l3.8,1.1 3.3,0.6 0.8-1 5.8,2.7-0.1,1.6-10.6-1.6-2.5-0.8-2.1-1.1zM-99.9,15.5l9.8,0 3.3,0.4-2.4,1.8-3.2,1.5 0.7-1.8-6.5,0.9-1.6-0.4 1.6-1.3-4.9,0.2-2.5-0.4 0-0.9zM-115.8,-3.7l2.4,0.9 0.6-2.1 2.8-1.1 1.7-2.4 2.5-1.9 2-2.6 1.6,1 1.3,1.6 1.1,0.6-1.6,1.5-0.9,1.7 0.4,2.4 1.7,2.2-2,0.4-0.5,2.4-1.6,1.9-0.3,3.4-0.5,1.3-2.3,0-0.2-1.2-2.4-0.3-2.2,0.2-2.5-1.2-0.3-2.2-1.3-1.9-0.4-1.5 0-2.2zM-96.9,-2.2l3.2,0.5 3.3-1.3 0.4,0.4-1.2,1.7-5.8,0.2-1.3,0.3-0.3,1.9 1.6,0.4 4-0.2-1,1.1-1.8,0.7 1,2.7 1.2,1.8-0.6,2.1-1.8-1.7-0.9-1.9 0-1.5-1,0.4 0.1,5.1-1.5-0.2 0-2.8-0.9-1.3 1.6-7.7zM-78.1,0.7l2.5,0.8 0.9,3.2 0.8,1.5 2.4-2.1 2.5-0.9 10.7,3.9 4.5,4.1 1,1.3-1.3,0.2 1.7,2.6 1.7,1.9 2.8,2-2,0.2-3.3-0.7-2.5-3.4-2.5-0.9-1.6,1.1-0.8,1.7-3.2,0-2.5-1.9-2.5,0.4-0.5-2.6 1.6-0.4-1.2-2.4-6.6-3-1.7,0.2-0.3-1.3 1.6-1-2.5-0.2-2.1-2.4 0-1.1zM-49.2,9.7l2.4-1.7 1.3,0-0.4,1.9-2.5,1.7-3.3,0-0.3-1zM-93.5,-34.3l-0.3,2.6-1.1,1.8 0,2.8 3.7,1.2 0,2.4-3.3-2.1-1.6,0-1.2-2.4-0.3-2.4 1.5-4.1zM-87.6,-15.9l-0.1,2.8-1.7,2.6-0.5-1.6-1.9,0 0-1.9-1.6,0-1.7,0.9 0.9-1.8 1.7-1.1 1.6,0.1 1.7-2.4zM-89,-22.4l-0.1,2.8-0.9,0.9-0.7-1.8 0.1-2.8zM-93.1,-21.5l0.4,2.8-0.6,1.7-1.5-2.6 0.1-2.4zM-98.8,-21.1l-0.5,1.9-3.1,3.7-0.4-0.4zM-249.8,-99.4l-0.8,1.1 1.3,0.5-3.8,2.7-1.8,0.3M254.9,-94.8l-3.7,1.3-2.8,0.4 0.2-1.8 1-0.6-3.5-0.7 0.3-0.3-0.8-1.5-1.4-0.9 1.9-0.1-3.7-2.7-1.7,0.4-0.4-0.6-1.8-0.7-4.6-3.6-1.2-2 2.5,0 0.7,1.6 2.7,0 2.2,3 1.1,0 7.9,4.2M243.8,-96.9l-1.5,0.9-2.6,0.2-1.5-1.1-0.8-1.8-2.2-1.4 1.3-0.7-1.1-1.2 1.4-0.4 3,1.1zM193.7,-121.2l4.2,1.1 3.6-1.3 6.2,2.5-0.2,1.1-2.5,1.5-6.2-0.7-0.3-1-3.5-0.8 1.6-0.6-2.9-0.4zM-144.8,-131.2l5.1-2.3 5.7-1.7 5.8-1-0.1,0.8-11.6,3.9-3.9,2.2-2.8,1-1.8-1zM143.6,-114.6l-5.7-1.5-5.4-1.9-4.6-0.3 0.1-1.3 3.5-0.3-1-2.6-3.3-1.6-6.5-2.5-8.5-0.3-4.6-1.3-4-2.6-0.5-1.8 4.4,0.5 4.1-0.5 5,1.1 5.1,1.6 6.2,1.6 5.7,2.1 3.3,2.1 6.4,1.6 2.3,1.1-0.5,2.1-5.4-1.8 0,1.3 6.9,3.5-5.3-0.5 6.9,3zM85.1,-124.9l-4.7,0.2-4.7-1-2.7-1.7 0.2-1.6-2.8-1.8 3.2-1.2 4.2,1.1 3.9-0.9 4.4,0.6 4.9,2.7 2,2-3.4,1.1zM63.7,-132.6l2.1-1 4.8,0.4 2.6,1.4-3.1,1.5-1,1.2-2.8,0.3-2.8-1.1zM108.5,-136.4l-5.8-0.2-5.1-0.8-2.4-4.6-5.3-1 2.6-1 9.3-1 10.3,0.3 4,0.7-2.3,2.2-1.7,1-3.2,1 2.5,3.2zM109.8,-133.8l-6.2,0-6-0.4-2.5-2 2.6-0.6 6.3,0.3 6.4,1.3zM89.9,-140.5l-4.3-1.5 3-0.9 5.8,1.5 3.3,2.2zM78.8,-134.2l-4.7,0.4-4.9-1.4 0.5-1.4 6,0 4.9,0.7 1.6,1.1zM97,-130.5l-1.8-2.1 2.2-0.7 3.3,0.6 1.4,1.5zM90.1,-130.5l-1.6-1.3 2.4-1.2 3.5,1.5 1.5,1.8zM117,-120.2l7.6,2.6 1.6,0.8-2.7,0.2-2.3,1.1-3.5-1.3 0.3-0.5zM173.9,-92l0.3-2.8 1.3-1 1,2.3 3.8,1.5 2.6,1.6 1.7,2-0.2,1.4-3.2-0.3-1.5-1.3-4.9-0.2zM77.9,-93.3l3.5,3.1-2.3-0.4-3.4-2-2.4-1.8zM155.7,-42.9l3.2-0.4 6.9,2.8 4.9,2.8-2,0.6-3.5,0.1 0.1-1.4-1.9-1.7-5.9-1.9-4.7,1.1zM172.1,-37l5.5,0.2 3,2.1-2.5,0.5-2.3,1.2-1.8-1-3.1-0.3zM167.9,-34l-1,0.8-2.2-0.6-0.1-0.5zM185,-34.3l-0.4,0.8-1.9-0.1-0.2-0.9zM172.2,95.5l-1.7,1.4-3.2,0 0.6-1.3zM-251.3,-71.3l-2.3,2.8-3-1.7 0.5-0.7zM-256.7,-76.5l-2.4,3.4-2.1,0.3 2.4-3.7zM-254.2,-80.2l-2,2.8-1,0 1.1-1.8zM-237.9,-65.7l-3.8,0.4-0.2-0.9 2,0.2zM-224.8,-66.4l-1.9,1.5-2.1,0.1 0-0.5zM-213.8,126.2l13,0.7 11.9,0 9.7-1.5 6,0 4-1.6 10.3-1.6 4.5-1.6 8.6,2.4 6.4,0.3 7.2,1.3 5.8,2.3 3.3-1.5 1.6-2.4 5.2-1.1 17.5-1.3 6.7,0.8 5.6-0.8 6.6,0.8 6.3,0.3 5.9-0.6 12.1-0.5 13,2.1 19,4.2 12,2.4 1.4,2.2-3,3.7-1.7,2.9 4.3,0.6 21.1,0.6 8.5-0.6 25.3-4.2 11.6-1 11.4-0.5 10.4,1.2 13.3-2.7 5.9-0.3 16.1,1.1 6.8-1.1 4.7-1.2 4.6-2.3 5.5-3.1 3.5-2.4 4.7-2.4 5.6-2 5-1.3 2.9-0.4-3.2,2-4.7,1.7-7.8,4.8-1.3,2.3-2.2,3.1-3.6,3-5,2.2 1.3,1.4 3.2,1.5 6.3,0.6 8.5,0 6.5-0.6 7.9-1.5 27.2-6.1 24.4-4.3" fill="none" stroke="#000" stroke-width="1.4" stroke-linejoin="round"/>
<g id="lakes"><path d="M131.5,-89.3l4.4,0 3.5,2.7-11.1-0.4zM136.6,-82l0.4-3.3 2.2,0 1.2,7-2.2,0zM144.9,-85.7l2.8,2.8-2.4,2.7-2.3-1.8-1.1-2.4-2.1-1.3zM146.4,-79.2l4.1-1 0.2,0.4-5.6,2zM153.6,-82l0.5,0.9-3.8,0.6-1.1-0.2zM-175.9,-86.6l3,0-2.9,3.7-3.8,1.4 0.7-2.3zM-241.6,-0.6l2,0.6-0.3,2.8-1.6,2.1-1.6-0.2-0.4-4.1z" fill="none" stroke="#000" stroke-width="1.1"/><path d="M73.3,-122.2l3,1.1-0.1,2.2-3.2,0-2.6-0.4zM84.5,-115l2.7-0.1 2.8-0.2-2.3,1.7-3.1,1.5-2.7-0.2zM97.7,-109.5l0.2,0.5-6.1,1-0.8-0.3zM112.5,-99.2l1.8-0.6 3.9,5-2.4,0.9zM-105.2,-97.1l3.8-2.1 4.5-3.9 1.1,0-3.7,4.2-5.5,3.1-2.6,0.2zM-151.5,-87.1l4.2,0.3-0.7,0.8-4-0.2-3.4,2.4-1-1zM-192.7,-113.1l1.6,0.8-2.1,1.4-3,0.3zM-185.7,-114.8l1,0.8-2.5,1.7-1.9,0zM-246.5,8.4l1.6,4.7 0.9,3.1-1.2-0.7-2-4.7-0.4-4.3zM-237.5,20.5l1,3.8 0.7,2.4-1.1-0.6-2-6.5 0-1.9zM-235.6,-7.5l-0.1,2.8-0.8-0.5-0.2-3.2zM180.4,29.5l0.1,1.3-1.5-0.9-0.1-1.3zM-269.7,-25.6l0.2,1.7-1.7,0.4-0.2-1.7z" fill="#000" stroke="#000" stroke-width="0.6"/></g>
<path id="grid" d="M-118.1,150.5 -123.1,148.6 -129,145.9 -135.5,142.6 -142.5,138.7 -149.3,134.5 -155.6,130 -161.3,125.4 -166.8,120.6 -172,115.6 -177.2,110.6 -182.1,105.4 -186.8,100.1 -191.2,94.8 -195.2,89.3 -198.8,83.8 -202.3,78.3 -205.5,72.8 -208.3,67.2 -210.8,61.6 -213,56 -214.8,50.4 -216.3,44.8 -217.5,39.2 -218.6,33.6 -219.6,28 -220.4,22.4 -221,16.8 -221.4,11.2 -221.7,5.6 -221.8,0 -221.7,-5.6 -221.4,-11.2 -221,-16.8 -220.4,-22.4 -219.6,-28 -218.6,-33.6 -217.5,-39.2 -216.3,-44.8 -214.8,-50.4 -213,-56 -210.8,-61.6 -208.3,-67.2 -205.5,-72.8 -202.3,-78.3 -198.8,-83.8 -195.2,-89.3 -191.2,-94.8 -186.8,-100.1 -182.1,-105.4 -177.2,-110.6 -172,-115.6 -166.8,-120.6 -161.3,-125.4 -155.6,-130 -149.3,-134.5 -142.5,-138.7 -135.5,-142.6 -129,-145.9 -123.1,-148.6 -118.1,-150.5M-78.7,150.5 -82.1,148.6 -86,145.9 -90.4,142.6 -95,138.7 -99.6,134.5 -103.7,130 -107.5,125.4 -111.2,120.6 -114.7,115.6 -118.1,110.6 -121.4,105.4 -124.5,100.1 -127.4,94.8 -130.1,89.3 -132.5,83.8 -134.9,78.3 -137,72.8 -138.8,67.2 -140.5,61.6 -142,56 -143.2,50.4 -144.2,44.8 -145,39.2 -145.8,33.6 -146.4,28 -146.9,22.4 -147.3,16.8 -147.6,11.2 -147.8,5.6 -147.9,0 -147.8,-5.6 -147.6,-11.2 -147.3,-16.8 -146.9,-22.4 -146.4,-28 -145.8,-33.6 -145,-39.2 -144.2,-44.8 -143.2,-50.4 -142,-56 -140.5,-61.6 -138.8,-67.2 -137,-72.8 -134.9,-78.3 -132.5,-83.8 -130.1,-89.3 -127.4,-94.8 -124.5,-100.1 -121.4,-105.4 -118.1,-110.6 -114.7,-115.6 -111.2,-120.6 -107.5,-125.4 -103.7,-130 -99.6,-134.5 -95,-138.7 -90.4,-142.6 -86,-145.9 -82.1,-148.6 -78.7,-150.5M-39.4,150.5 -41,148.6 -43,145.9 -45.2,142.6 -47.5,138.7 -49.8,134.5 -51.9,130 -53.8,125.4 -55.6,120.6 -57.3,115.6 -59.1,110.6 -60.7,105.4 -62.3,100.1 -63.7,94.8 -65.1,89.3 -66.3,83.8 -67.4,78.3 -68.5,72.8 -69.4,67.2 -70.3,61.6 -71,56 -71.6,50.4 -72.1,44.8 -72.5,39.2 -72.9,33.6 -73.2,28 -73.5,22.4 -73.7,16.8 -73.8,11.2 -73.9,5.6 -74,0 -73.9,-5.6 -73.8,-11.2 -73.7,-16.8 -73.5,-22.4 -73.2,-28 -72.9,-33.6 -72.5,-39.2 -72.1,-44.8 -71.6,-50.4 -71,-56 -70.3,-61.6 -69.4,-67.2 -68.5,-72.8 -67.4,-78.3 -66.3,-83.8 -65.1,-89.3 -63.7,-94.8 -62.3,-100.1 -60.7,-105.4 -59.1,-110.6 -57.3,-115.6 -55.6,-120.6 -53.8,-125.4 -51.9,-130 -49.8,-134.5 -47.5,-138.7 -45.2,-142.6 -43,-145.9 -41,-148.6 -39.4,-150.5M0,150.5 0,148.6 0,145.9 0,142.6 0,138.7 0,134.5 0,130 0,125.4 0,120.6 0,115.6 0,110.6 0,105.4 0,100.1 0,94.8 0,89.3 0,83.8 0,78.3 0,72.8 0,67.2 0,61.6 0,56 0,50.4 0,44.8 0,39.2 0,33.6 0,28 0,22.4 0,16.8 0,11.2 0,5.6 0,0 0,-5.6 0,-11.2 0,-16.8 0,-22.4 0,-28 0,-33.6 0,-39.2 0,-44.8 0,-50.4 0,-56 0,-61.6 0,-67.2 0,-72.8 0,-78.3 0,-83.8 0,-89.3 0,-94.8 0,-100.1 0,-105.4 0,-110.6 0,-115.6 0,-120.6 0,-125.4 0,-130 0,-134.5 0,-138.7 0,-142.6 0,-145.9 0,-148.6 0,-150.5M39.4,150.5 41,148.6 43,145.9 45.2,142.6 47.5,138.7 49.8,134.5 51.9,130 53.8,125.4 55.6,120.6 57.3,115.6 59.1,110.6 60.7,105.4 62.3,100.1 63.7,94.8 65.1,89.3 66.3,83.8 67.4,78.3 68.5,72.8 69.4,67.2 70.3,61.6 71,56 71.6,50.4 72.1,44.8 72.5,39.2 72.9,33.6 73.2,28 73.5,22.4 73.7,16.8 73.8,11.2 73.9,5.6 74,0 73.9,-5.6 73.8,-11.2 73.7,-16.8 73.5,-22.4 73.2,-28 72.9,-33.6 72.5,-39.2 72.1,-44.8 71.6,-50.4 71,-56 70.3,-61.6 69.4,-67.2 68.5,-72.8 67.4,-78.3 66.3,-83.8 65.1,-89.3 63.7,-94.8 62.3,-100.1 60.7,-105.4 59.1,-110.6 57.3,-115.6 55.6,-120.6 53.8,-125.4 51.9,-130 49.8,-134.5 47.5,-138.7 45.2,-142.6 43,-145.9 41,-148.6 39.4,-150.5M78.7,150.5 82.1,148.6 86,145.9 90.4,142.6 95,138.7 99.6,134.5 103.7,130 107.5,125.4 111.2,120.6 114.7,115.6 118.1,110.6 121.4,105.4 124.5,100.1 127.4,94.8 130.1,89.3 132.5,83.8 134.9,78.3 137,72.8 138.8,67.2 140.5,61.6 142,56 143.2,50.4 144.2,44.8 145,39.2 145.8,33.6 146.4,28 146.9,22.4 147.3,16.8 147.6,11.2 147.8,5.6 147.9,0 147.8,-5.6 147.6,-11.2 147.3,-16.8 146.9,-22.4 146.4,-28 145.8,-33.6 145,-39.2 144.2,-44.8 143.2,-50.4 142,-56 140.5,-61.6 138.8,-67.2 137,-72.8 134.9,-78.3 132.5,-83.8 130.1,-89.3 127.4,-94.8 124.5,-100.1 121.4,-105.4 118.1,-110.6 114.7,-115.6 111.2,-120.6 107.5,-125.4 103.7,-130 99.6,-134.5 95,-138.7 90.4,-142.6 86,-145.9 82.1,-148.6 78.7,-150.5M118.1,150.5 123.1,148.6 129,145.9 135.5,142.6 142.5,138.7 149.3,134.5 155.6,130 161.3,125.4 166.8,120.6 172,115.6 177.2,110.6 182.1,105.4 186.8,100.1 191.2,94.8 195.2,89.3 198.8,83.8 202.3,78.3 205.5,72.8 208.3,67.2 210.8,61.6 213,56 214.8,50.4 216.3,44.8 217.5,39.2 218.6,33.6 219.6,28 220.4,22.4 221,16.8 221.4,11.2 221.7,5.6 221.8,0 221.7,-5.6 221.4,-11.2 221,-16.8 220.4,-22.4 219.6,-28 218.6,-33.6 217.5,-39.2 216.3,-44.8 214.8,-50.4 213,-56 210.8,-61.6 208.3,-67.2 205.5,-72.8 202.3,-78.3 198.8,-83.8 195.2,-89.3 191.2,-94.8 186.8,-100.1 182.1,-105.4 177.2,-110.6 172,-115.6 166.8,-120.6 161.3,-125.4 155.6,-130 149.3,-134.5 142.5,-138.7 135.5,-142.6 129,-145.9 123.1,-148.6 118.1,-150.5M-236.2,110.6H236.2M-284,56H284M-295.8,0H295.8M-284,-56H284M-236.2,-110.6H236.2" fill="none" stroke="#c9c9c9" stroke-width="1.25"/>
<path id="outl" d="M157.4,150.5 161.7,149.3 166.6,147.8 172,145.9 177.7,143.8 183.8,141.4 190,138.7 196.2,135.9 202,133 207.4,130 212.6,126.9 217.5,123.8 222.3,120.6 227.1,117.3 231.7,114 236.2,110.6 240.6,107.1 244.9,103.6 249,100.1 253,96.5 256.7,92.9 260.2,89.3 263.5,85.7 266.7,82 269.7,78.3 272.6,74.6 275.3,70.9 277.7,67.2 280,63.5 282.1,59.7 284,56 285.7,52.3 287.2,48.5 288.4,44.8 289.5,41.1 290.5,37.3 291.5,33.6 292.4,29.9 293.2,26.1 293.9,22.4 294.4,18.7 294.9,14.9 295.2,11.2 295.5,7.5 295.7,3.7 295.8,0 295.7,-3.7 295.5,-7.5 295.2,-11.2 294.9,-14.9 294.4,-18.7 293.9,-22.4 293.2,-26.1 292.4,-29.9 291.5,-33.6 290.5,-37.3 289.5,-41.1 288.4,-44.8 287.2,-48.5 285.7,-52.3 284,-56 282.1,-59.7 280,-63.5 277.7,-67.2 275.3,-70.9 272.6,-74.6 269.7,-78.3 266.7,-82 263.5,-85.7 260.2,-89.3 256.7,-92.9 253,-96.5 249,-100.1 244.9,-103.6 240.6,-107.1 236.2,-110.6 231.7,-114 227.1,-117.3 222.3,-120.6 217.5,-123.8 212.6,-126.9 207.4,-130 202,-133 196.2,-135.9 190,-138.7 183.8,-141.4 177.7,-143.8 172,-145.9 166.6,-147.8 161.7,-149.3 157.4,-150.5 -157.4,-150.5 -161.7,-149.3 -166.6,-147.8 -172,-145.9 -177.7,-143.8 -183.8,-141.4 -190,-138.7 -196.2,-135.9 -202,-133 -207.4,-130 -212.6,-126.9 -217.5,-123.8 -222.3,-120.6 -227.1,-117.3 -231.7,-114 -236.2,-110.6 -240.6,-107.1 -244.9,-103.6 -249,-100.1 -253,-96.5 -256.7,-92.9 -260.2,-89.3 -263.5,-85.7 -266.7,-82 -269.7,-78.3 -272.6,-74.6 -275.3,-70.9 -277.7,-67.2 -280,-63.5 -282.1,-59.7 -284,-56 -285.7,-52.3 -287.2,-48.5 -288.4,-44.8 -289.5,-41.1 -290.5,-37.3 -291.5,-33.6 -292.4,-29.9 -293.2,-26.1 -293.9,-22.4 -294.4,-18.7 -294.9,-14.9 -295.2,-11.2 -295.5,-7.5 -295.7,-3.7 -295.8,0 -295.7,3.7 -295.5,7.5 -295.2,11.2 -294.9,14.9 -294.4,18.7 -293.9,22.4 -293.2,26.1 -292.4,29.9 -291.5,33.6 -290.5,37.3 -289.5,41.1 -288.4,44.8 -287.2,48.5 -285.7,52.3 -284,56 -282.1,59.7 -280,63.5 -277.7,67.2 -275.3,70.9 -272.6,74.6 -269.7,78.3 -266.7,82 -263.5,85.7 -260.2,89.3 -256.7,92.9 -253,96.5 -249,100.1 -244.9,103.6 -240.6,107.1 -236.2,110.6 -231.7,114 -227.1,117.3 -222.3,120.6 -217.5,123.8 -212.6,126.9 -207.4,130 -202,133 -196.2,135.9 -190,138.7 -183.8,141.4 -177.7,143.8 -172,145.9 -166.6,147.8 -161.7,149.3 -157.4,150.5z" fill="none" stroke="#000" stroke-width="1.2"/>
<clipPath id="clip"><path d="M157.4,150.5 161.7,149.3 166.6,147.8 172,145.9 177.7,143.8 183.8,141.4 190,138.7 196.2,135.9 202,133 207.4,130 212.6,126.9 217.5,123.8 222.3,120.6 227.1,117.3 231.7,114 236.2,110.6 240.6,107.1 244.9,103.6 249,100.1 253,96.5 256.7,92.9 260.2,89.3 263.5,85.7 266.7,82 269.7,78.3 272.6,74.6 275.3,70.9 277.7,67.2 280,63.5 282.1,59.7 284,56 285.7,52.3 287.2,48.5 288.4,44.8 289.5,41.1 290.5,37.3 291.5,33.6 292.4,29.9 293.2,26.1 293.9,22.4 294.4,18.7 294.9,14.9 295.2,11.2 295.5,7.5 295.7,3.7 295.8,0 295.7,-3.7 295.5,-7.5 295.2,-11.2 294.9,-14.9 294.4,-18.7 293.9,-22.4 293.2,-26.1 292.4,-29.9 291.5,-33.6 290.5,-37.3 289.5,-41.1 288.4,-44.8 287.2,-48.5 285.7,-52.3 284,-56 282.1,-59.7 280,-63.5 277.7,-67.2 275.3,-70.9 272.6,-74.6 269.7,-78.3 266.7,-82 263.5,-85.7 260.2,-89.3 256.7,-92.9 253,-96.5 249,-100.1 244.9,-103.6 240.6,-107.1 236.2,-110.6 231.7,-114 227.1,-117.3 222.3,-120.6 217.5,-123.8 212.6,-126.9 207.4,-130 202,-133 196.2,-135.9 190,-138.7 183.8,-141.4 177.7,-143.8 172,-145.9 166.6,-147.8 161.7,-149.3 157.4,-150.5 -157.4,-150.5 -161.7,-149.3 -166.6,-147.8 -172,-145.9 -177.7,-143.8 -183.8,-141.4 -190,-138.7 -196.2,-135.9 -202,-133 -207.4,-130 -212.6,-126.9 -217.5,-123.8 -222.3,-120.6 -227.1,-117.3 -231.7,-114 -236.2,-110.6 -240.6,-107.1 -244.9,-103.6 -249,-100.1 -253,-96.5 -256.7,-92.9 -260.2,-89.3 -263.5,-85.7 -266.7,-82 -269.7,-78.3 -272.6,-74.6 -275.3,-70.9 -277.7,-67.2 -280,-63.5 -282.1,-59.7 -284,-56 -285.7,-52.3 -287.2,-48.5 -288.4,-44.8 -289.5,-41.1 -290.5,-37.3 -291.5,-33.6 -292.4,-29.9 -293.2,-26.1 -293.9,-22.4 -294.4,-18.7 -294.9,-14.9 -295.2,-11.2 -295.5,-7.5 -295.7,-3.7 -295.8,0 -295.7,3.7 -295.5,7.5 -295.2,11.2 -294.9,14.9 -294.4,18.7 -293.9,22.4 -293.2,26.1 -292.4,29.9 -291.5,33.6 -290.5,37.3 -289.5,41.1 -288.4,44.8 -287.2,48.5 -285.7,52.3 -284,56 -282.1,59.7 -280,63.5 -277.7,67.2 -275.3,70.9 -272.6,74.6 -269.7,78.3 -266.7,82 -263.5,85.7 -260.2,89.3 -256.7,92.9 -253,96.5 -249,100.1 -244.9,103.6 -240.6,107.1 -236.2,110.6 -231.7,114 -227.1,117.3 -222.3,120.6 -217.5,123.8 -212.6,126.9 -207.4,130 -202,133 -196.2,135.9 -190,138.7 -183.8,141.4 -177.7,143.8 -172,145.9 -166.6,147.8 -161.7,149.3 -157.4,150.5z"/></clipPath>
<g id="t1"><path d="M14.8,101.9l36.9,1.6 23.2-0.2 71-4.1 6.4-1.3 8.1,0.5 7.3-0.5 5.3,0.4 16.7,0 21.6-0.7 23.1-2.2 16.3-2.2 6.1-0.3 8.3-9.1 7.5-9.2 5.1-7.4 5.3-9.3 3.4-7.5 3.1-9.3 3.3-13.1 1.9-11.2 0.9-11.2 0.1-9.3-1-13.1-1.9-11.2-3.3-13.1-3.1-9.3-4.3-9.3-5.6-9.3-5.3-7.5-9.3-11-7-7.3-7.9-7.1-10.8-8.7-13.9-10-12.3-7.9-10.9-6-1.5,0.4-0.3,1 2.3,6.2 0.2,1.7-0.4,1.4-2.1,3-0.3,1.6-0.9,0.3-3.9-0.1-8.9,5-1.5,1.5-0.9,3.1-3.6,0.6-2.2,1.7-2.9,6.1-0.8,0.6-3.6,0.8-6.2-0.8-7.5,1-6.3-1.1-4.1,0-3-1.4-4.2-3.5-5.1-3.1-3.7-1.4-4.5-0.8-3.5,0.5-1.9,1.1-1.5,2-5.7,1.7-3.9,0.3-11.2-0.8-1.2,0.5-4.2,5.6-2.2,1.5-1.4,0.1-1.6-0.6-1.7-1.3-1-1.8-3.6-2.6-4.3-4-1.6-0.7-2.6,0.1-3.4,1.5-1.3,0.1-1.6-0.8-2.9-2.3-2.1-0.8-2.6,0.1-3.4,1.7-2.5,0.7-9.2,0.2-8.1-1-4.2-1.2-2.6-0.2-3.8,1.4-2.6,0.3-21.1,0-9.3,1.3-11.1,3.7-5.5,0.8-4.4,2.3-4.6,3-12.2,4.9-4.9,3-4.3,0.1-4.1-1.3-2.8-0.1-1.9,0.6-3.2,2.7-1.5,0.3-5.8-0.3-7.9,2.4-7-1-11.5,3.7-7.3,0-7.6,0.6-1.4-0.2-3.9-1.6-9.5,1.7-1.4-0.1-1.2-0.6-1.8-2.7-3.7-4.2-2.2-12.6-0.5-1.2-1-0.5-5.8,0.4-3.7-0.4-3.3-0.9-4.4,0.4-1.2-0.2-1.8-1.1-2.8-2.8-3.1-0.9-7.6,1.4 0.7,0.2-0.7,3.2-2.1,1.8-1.4-0.3-0.8-1.5 0.5-1.7 3.2-1.7 0-1.1 0.4-0.7-1.9-1.7-5.1-0.2-5.7-2.9-1.4-1.9-0.6-4.6-1.3-0.9-1.1-0.1-2.4,0.7-14.6,8.6-2.3,0.8 0.1-1.2 3.5-3.3 15.3-8.1 2.6-2.4 0.4-1-0.2-2.1-0.9-2-2-1.3-2.8-0.3-10.9,6-14.7,9.6-13.7,10.1-12.6,10.5-9.2,9-9.5,11-6.8,9.3-5.6,9.3-3.6,7.4-2.7,7.5-4,14.9-1.8,9.4-1.2,11.2-0.4,9.3 0.6,11.2 1.3,11.2 1.9,9.3 3.6,13.1 2.7,7.5 3.6,7.4 4.4,7.5 5.1,7.4 7.5,9.2 8.3,9.1 16.2,0.5 43.7,3 77.5,0.2 54.3,3.4zM158.6,84.7l0-0.9 0.8-1.8 1.4-1.5 1.2,0.4-0.1,1.1-1.1,1.8-0.6,0.6zM-148.3,-55.9l-4.6-0.6-4.4-1.3-4-1.9-2.6-1.9-1.6-1.9-0.4-1.8 0.6-1.9 2.9-3.7 2.5-1.7 1.8-0.5 1.5,0 3.9,1.5 2.9,0.6 10.8-0.4 9.6-1.3 2.9,0.6 5.3,2.4 1.3,1.1 0.8,1.4-0.1,1.9-0.9,1.8-1.7,1.9-2.8,1.9-4.7,1.8-6.3,1.7zM82.7,-103.6l0.6,0.6 1.4,0.3 0.6-0.9-1.6-1.7z" fill="#fff58c"/><path d="M62,87.5l29.8-0.4 61-2.5 2.3-1.7 7.9-8.3 2.8-5.6 4.8-7.4 3.3-7.5 3.5-5.6 0.8-1.8 1.3-5.6 1-1.8 0.8,3.6-0.2,1.9-1.5,3.7-1.9,7.5-7.2,14.9-3.6,5.6-0.7,1.8-0.8,4.6 0.6,1.8 32.5-2.6 47.5-2 23.8-1.9 5.5-7.3 5.7-9.3 3.8-7.5 3-7.4 3.7-13.1 2.1-9.3 1.5-11.2 0.7-13.1-0.6-11.2-1.3-11.2-1.9-9.3-3.6-13.1-2.7-7.5-3.6-7.4-5.6-9.3-5.3-7.5-12.7-14.6-11.5-10.8-17.6-13.7-19.1-12.7-1.4,0.6-0.3,0.8 2.8,9.2-0.3,1.7-0.6,0.6-1.4,0.9-11.9,3.9-6.3,3.5-7.2,5-6.2,8-4.6,1.6-5.6,0.2-12-0.9-6.6-1.5-4.1,0.2-1.7-0.5-3.3-3.1-2-1-2.3,0.8-5.4-2-6.2,1.1-8.4-2.6-2.4,0.7-1.5,1-1,1.8-0.3,2.8-0.8,1.4-3.8,1.1-1,1-0.9,5.3-0.9,1-9.5,3.2-1.6-0.4-1.1-0.9-3-5.5-8-4.7-4.4-5-1.8-1.3-1.5-0.2-2.2,1.7-2.6,0.6-16.6,0.7-16.6,1.2-38.1,3.8-14.4,2.1-32.7,5.8-10.6,1.4-6.2,1.3-7.2-0.7-8,2.2-5.7-0.8-3,0-4.7,0.9-5.1,2.1-7.6,0.3-3.4,1.3-3.8,2-0.4,1.8 1.3,3.8-0.4,3.7-1,1.8-1.8,1.9-3.4,2.7-3.5,1.6-8.4,2.4-9.7,0.6-7.8-0.3-7.4-1.8-5.6-2.5-5.4-4.6-1.4-1.8 0.5-1.9 4-2.6 4.7-4.1 4-2.1 3.3-0.8 1.5,0.2 3.4,2.5 3,0.3 7.3-0.8 0-1.9-2.9-0.7-4.3-3.8-2.6-0.9-1.1-0.8-1.7-2.5-1.1-0.8-5-1.4-3.6-3.9-1.1-0.6-1.3-0.1-6.2,0.8-1.2-0.4-3-2-2.3-0.8-2.6-0.2-4.6,0.4-6.2-1.2-1.1-0.3-3.3-2.8-5.8-2.7-1.7-1.2-0.8-1.2 0-0.7 0.1-1.1 2.6-3.4 0.8-3.5-0.5-1.7-2.5-1.4-1-0.2-2.1,0.6-3.4,1.8-10.4,6.5-2.8,1.3-1.3,0-0.2-1 2-4.2 3.1-3.4 4.2-3.3 8.7-4.9 2.4-2 0-1.2-1.2-1.5-2.4-1.1-3-0.3-12,7.7-13.9,10-12.8,10.5-9.5,9-9.7,10.9-7.1,9.3-6.8,11.2-4.3,9.3-2.6,7.5-3,11.2-2.7,14.9-1.1,16.8 0.4,9.3 1,9.4 1.2,7.4 2.2,9.4 2.6,9.3 2.7,7.5 2.7,5.6 4.1,7.4 4.9,7.5 4.2,5.4 17.1,0.9 38.7,4.1 15.2,0.7 15.7-0.8 42.3-4.5 15-0.1 59.1,3.5 44.6,1.4 5.9-0.4 4.4,0.5 54.1,3.3z" fill="#ffe650"/><path d="M1,72.8l43,1.5 25.7,0.3 18.4-0.9 43.7-3.8 10.8,0 18,1 2.2-1.7 5.6-6.9 7.1-14 1.3-3.5 1.8-9.3 0.3-1.9-0.4-2.3 1.6,0.4 2.4,5.3 0.5,5.9-0.7,3.8-2.7,9.3-5.7,13-0.1,3.1 1.2,0.7 15.6-0.7 37.9-5.2 29.8-0.9 20.1,0 6.4-11.9 2.4-5.6 2.3-7.4 4.1-16.8 1.3-9.4 0.7-9.3-0.1-13.1-1.9-16.8-4.6-18.6-4.2-11.2-5.9-11.2-6.3-9.3-9.1-11.1-7.7-8.1-4.8-0.6-6.5,0.6-7.6-0.5-24.1,0-12.3,0.6-10.4,1.3-3.3,1.4-3.7,3.2-1.1,0.5-7.7,1.8-5.5,0.6-2.5,0.8-2.3,1.3-3,2.8-1.4,0.2-2.2-0.4-2.4-1.8-2.4-3-1.8-0.7-1.6,2.9-1.2,0.5-4.4,0.1-3.4,2.3-2.7,0.7-4.4,0.1-3.8-2-1.7-0.4-4.1,1-3.1-0.4-1.4,0.3-1.2,0.7-3.2,3.6-1.3,0.9-8.2,2.8-1.5,0.1-1.8-0.8-1.7-3.2-0.9-0.7-1.6-0.4-4.3,0.6-1.6-0.2-2.6-1.1-2.2-1.9-4.6-5.5-3.5-1.8-4.9-1-8.8-0.4-10,0.4-10.9,1-42.7,5.9-54.1,4-6.1,0.8-4.5,0-10.7,0.8-3.2,0.5-4.8,1.5-12.2,0.2-8.3,2.5-4.5,0-1.8,0.7-1.3,1.6-2,3.7-1.4,1.8-6.9,5.6-2.7,1.5-8.4,2.4-4.9,1-6.5,0.4-7.9-0.1-4.6-0.5-9-1.9-6.6-4.3-7.6-2.2-2.1-1.3-1.2-2.4-0.1-1.9 1.2-1.8 2.2-1.9 1.5-1.9 1.8-3.7 0.7-0.6 4-1.2 1.6-1.9-5.6-2.4-4-3.2-2.4-1-1.5,0.2-6.2,3-10-0.6-2-1.4-1.6-1.9-3.5-1.3-2.7-2.1-5.1-2.5-2.9-3.2-1.4,0-4.3,1.7-1.5,0-2.3-0.6-2.4-1.8-2.2-0.6-1.5,0.1-3,1.3-0.9,1.7-0.2,3.7-1.9,1.8-5.3,2.2-3.8,1.1-2.7-0.4-1.6-1.1 3.6-3.6 0-2.3-0.6-0.7-6.2,1.9-1.2-1.6-9.3,10-8.9,11-7,11.2-4.7,9.3-3.8,11.2-4.1,16.8-1.9,16.8-0.1,13.1 0.7,9.3 1.3,9.4 4.1,16.8 2.3,7.4 2.4,5.6 6.4,11.9 12.8,0.8 42.7,4.7 18.7,0.8 7.4-0.4 7.2-1 40.2-7.8 6-0.6 7.8-0.1 19,1.3 53.8,6.2 1.5,0.1 5.7-2.8 4.6-0.4 1.3,0.4 3.7,2.4 3.2,1 30.6,1.7 3-0.3 3.1-1 4.6,1.5zM-167.5,-80.2l1.8,0.6 1.5,0 1-0.6-1.4-1.6z" fill="#ffcd1e"/><path d="M187.3,63.5l2.2,0.6 4.5-0.6 4.6-2.6 3.7-1.6 15.4-3.2 19.4-5.6 22.3-5.2 8.5-1.4 8.2-0.9 6.5-0.2 6.3,0.5 4.7-19 1.9-16.8 0.3-7.5-0.3-7.5-1.9-16.8-4.6-18.6-2.6-7.5-2.4-5.6-4-7.5-4.7-7.4-9.4-12.1-5.3,0.8-2.1,1.1-0.6,1-1.4,0.1-2.7-1.4-1.7-0.3-8.5,0.5-44.7-0.2-8.5,0.6-13.8,2.1-8.1,1.8-9.2,2.9-3.5,2.8-1,0.3-5.1-0.4-1.4,0.4-6.3,3.9-1.5,0-1.8-0.7-4.3-3.6-7.5,0.3-1.3,0.7-0.7,1.3 0,5.5-1,4-3.2,5.4-1.7,1.6-1.5,0.6-1.6-0.1-1.7-0.9-7.8-7.5-5.7-3.1-3.9-3.7-4.6-1.9-3.9-3.6-3.6-2.5-1.6-0.4-2.9,0.8-13.6-0.3-11.4,0.5-33.8,3.5-15.3,1-61.3,0.1-3.1,0.3-3.2,0.9-5.9-1.4-7.7,0.4-4.8,1-4.7,0.1-4.7,0.7-3.3,0.8-6.7,2.6-7,3.4-1.6,0.6-4.9,0.8-1.7,0.8-5.7,4.5-1.7,0.6-16.5,3.5-9.8,1-7.7-1.4-9.5,0-2.9-1.2-3.6-4-1.4-0.7-3-0.6-7.8-0.3-10.2-2.1-1.7-1.9-0.9-6.8-0.7-1.8-2.9-0.3-7.9,0.5-8.6,1.8-3-0.2-2.5-1.1-6.2-1.4-1.7-0.9-0.6-1-0.9-3.9-0.7-1.1-7.5-4-4.8,0.4-2.4-0.7-2.8-0.2-7.1,1.4-3.1,0.2-2.6-0.5-3-1.8-9.4,12.1-4.7,7.4-4,7.5-2.4,5.6-2.6,7.5-4.6,18.6-1.9,16.8-0.3,7.5 0.3,7.5 1.9,16.8 4.7,19 5.1,0.8 8.7,2.3 7.1,2.2 5.8,2.8 1.8,0.5 4.2-1.4 3.1-0.3 2.6,0.2 7.6,1.5 3.8,1.7 4.4,3.4 1.9,0.7 16.5,1.9 6.3,0.1 7.7-0.5 8.9-1.3 20.8-4.1 19.6-4.7 9.3-1 14.6,1 19.6,3.3 6.7,2.4 5.8,1.2 4.5,3.5 3.3,0.9 12.4-1.1 3.2,0.5 4.9,1.6 6.4,1.1 4.6-0.1 6.1-1.6 6.3,0.3 4.5-2.3 3.1-0.7 42.4,0.4 50.2,1 18.8-0.1 15.9-1.6 16.4-3.4 12.7-4 19.5-8.3 5-1.4 3.3-0.3 3.1,0.5 3,1.4 10.2,8.1 5,3.4 1.7-0.3 4.9-7.2 1.2-5.2 0.8-5.6-0.6-1.9-2-3.4-3.5-4.1-2.9-11.2 0.1-1.8 1.4-1.5 1.5,2.1 1.1,3.1 3.4,3.7 2.8,3.8 3,2.5 1.7,3.1 1.5,5.6 0.5,5.6-0.1,3.7-1.8,7.5 0,1.8 0.5,2 2.3,2.5 0.8,3zM167.5,6.2l-0.9-2.5 0.3-1.8 0.7-1.2 1.7-0.1 0.8,1.3 0.4,1.8-1.4,2.6z" fill="#ffb40a"/><path d="M-71.6,54.1l2,0.6 1.6-0.1 6-3.2 6-4.7 3.4-3.8 4.4-1.7 1.5-1.7 1.6-0.6 21.9,2.2 13.6,0.8 11.2,0.3 17.7-0.4 24.1-1.1 21.1-1.6 13-1.7 11.5-2.6 8.3-2.5 11.2-4.3 8.3-3.7 6.4-3.8 1.9-1.8 2.9-5.6 0.2-1.9-1.9-5.6 0.3-1.9 2.2-1.8 5.9-1.9 8.3-0.8 8.2,0.4 8.2,1.8 1.6,0 2.7-3.3 3.8-3.5 2.9-3.9 1.9-0.9 2.1,0.9 1.3,1.8 0.6,1.9-0.2,5.6 1.6,5.6-0.4,1.9-2,3.7-0.2,1.9 0.6,1.8 5.6,6.7 3.9,6.4 1.2,14 0.8,4.3 1.2,1.7 4.5,0.8 5.8,2.4 1.5,0.2 1.7-0.3 13-7.2 5.8-4.7 3.4-0.7 5.5-3.2 18.9-7.3 7.6-3.7 5.5-3.8 9-8.4 6.9-4.6 3.3-1.1 4.9-0.2 4.9,1.1 4.8,1.9 0.4-9.2-0.4-9.3-1.2-11.2-1.8-9.4-3.4-13-2.6-7.5-3.4-7.5-4.6-8.2-0.3,0.8 1.8,4.5-8.7,1.3-1.3,0.6-0.4,1-0.4,1.9 1.6,5.6-0.3,1.9-3.1,5.6 0,5.6-0.7,1-1.6,0.3-1.6-1.3-3.2-5.3-4.9-4.1-9.3-9.4-5-4.3-6.4-3.5-3.5-0.8-6.5-0.7-41-1.6-6,0.3-9.3,1.4-9.5,2.4-1.6-0.2-3.6-2.2-2-0.8-1.6-0.2-1.5,0.4-2.4,2.4-2.9,6-1.6,1.5-1.1,0.4-1.6-0.1-1.8-0.9-3.6-3.1-1.7,0.5-2.6,8.8-0.1,1.9 0.8,4.4-1.5,1.2-2.1-1.9-1.4-0.6-1.6,0.2-2.9,2-1.6-0.2-5.1-2.1-1.6,0.4-11.8,5.9-9,3.7-8.7,2.4-9.6,1.1-9.8-1.1-9.1-2.4-9.9-3.7-25.3-11.2-7.8-2.8-6.4-1.8-5.1-1-28.4-3.7-20.5-1.9-13.1-0.5-1.5-0.2-2.9-1.5-3.6,0.3-2.9,1.1-6.2,0.3-9.7,1.7-1.8,1.1-1.1,3.3-1.2,1.9-1.8,0.7-4.5-1.2-6.7,2-1.6,0.2-3-0.7-1.6,0-3.7,3.2-1.7,0.3-7.9-0.2-6.6,1.2-10.2,3.7-5.2,2.4-1.6,0.2-3.1-0.9-4.4-2.6-1.5-0.1-5,0.7-7.5-2.6-1.4-0.7-3.8-4-1.5-0.2-8.2,0.9-3.1-0.4-5.8-1.8-6.3,0.1-1.3-0.9-2.2-2.9-1.3-0.6-1.7,0.2-3.7,1.7-3.1-0.4-2.8-1.1-3.6-2.4-2.9-0.5-1.3-0.6-2.1-2.2-4.3-0.8-7.4-0.6-6.3,0.2-16.8-0.6-1.4-0.2-1.5-2.6-1.2-0.6-2.9-0.3-3.6,0.8-6,2.2-3.7,6.4-3.6,7.4-2.1,5.6-3.2,11.2-2.2,9.4-1.5,9.3-0.8,9.3-0.3,7.5 0.4,9.2 5.1,2.4 5.2,3.3 8.4,7.5 1.5,1.9 2.8,5.6 3.6,3.8 3.5,5.5 1.9,1.9 1.4,0.5 3.3,0.6 5.4,2 4.9,0.5 5.1,1 2.5,1 3.2,2.1 1.7,0.4 7.3-2.3 14.8,1.4 8.7-1.6 6.5-1.9 42.6-15.2 8-1.4 14.7,0.5 14.7,1.3 13.8,1.7 5.9,1.2 1.1,0.7-0.6,1.9-4.7,3.4-1.4,2.2-0.4,1.8 0.4,1.9 0.8,1.9 1.5,1.2 14.6,1.5 6.6,2.3zM-234.9,4l-1.7-0.9-0.6-1.2 0.6-1.2 1.6,0 1.2,1.2-0.7,1.8zM-231.3,-11.1l-3.2-1.4-2.1-2.4-0.8-1.9 0.8-1.9 6.4-4 1.7-0.4 1.6,0.6 1.1,2 0.4,3.7-0.2,1.9-0.7,1.8-1.7,2-1.7,0.3z" fill="#ff9600"/><path d="M-76.1,46.7l2.6,0 4.7-1 3.1-1.5 3.2-3.1 1.4-1.9 0.6-1.9-0.6-3.7-0.5-0.7-1.6-0.5-3.3-0.2-3.3-1.7-4.9,0.2-1.6-0.5-0.6-0.3-1.3-3.1-8,1.9-7.3,8.6-0.7,1.9 0.2,1.9 0.8,1.5 1.8,1.1zM201.7,31.7l2.4,1.5 3.2,0.1 3.3-1.6 1.2-1.8 0.2-1.9-4.3-8.6-4.9-0.7-1-1.9 0.6-1.9 2-3.7 0.3-1.9-0.2-1.8-0.9-0.2-1.7,0.4-2.4,1.6-5,5.6-1,1.9 0.2,1.9 1.8,3.7 3.5,3.7 1.6,3.8zM-77.4,24.3l0.8,1 0.4-1-0.5-1zM218.6,20.5l1.8,1.7 1.7,0.1 3.3-1 1.8-0.8 2-1.8 1.1-1.9 0.3-1.9-0.9-1.8-5.4-3.8-4.1-5.8-6.4-3.5-1.8-1.6-1.7-0.6-1,0.3-1.7,1.9-2.9,5.6 0.5,1.6 1.6,0.7 1.6,1.4 1.8,5.6 1,1.5 4.9,0.6 1.5,1.2zM-63.5,16.8l1.3,1 1.7,0.5 6.5-0.5 1.7-1 1.1-1.9-1.2-0.9-1.7-0.6-3.3,0-5.7,1.5zM-116.3,14.9l3.3,1.8 1.7-0.1 2.7-1.7 0.4-1.4 1.6-1.6 5,1.1 5,2.1 1.6,0.1 4.9-1.4 1.6,0.2 5,1.6 9.8,0.2 1.6-0.9 0.1-1.8-2.1-3.8 0.3-1.8 1.7-1.9 1.5-1 1.6-0.3 9.9,1.2 6.6,3.3 5.6,0.5 2.6,1.8 3.3-0.4 6.5-2.7 4.5-2.4 3.7-2.8 2.6-2.8 1.2-1.9 1.5-3.7 0.5-3.7-0.5-3.8-1.6-3.7-1.9-2.5-4.2-3.1-4-1.9-6.4-2.2-8.1-2.1-8-1.5-9.7-1.1-9.7-0.3-8.2,0.3-6.5,0.6-5,2.1-4.9-0.3-3.3,0.4-8.3,2.1-1.6,0.8-7,5.8-1.6,0.5-1.6-0.3-3.2-1.8-1.6-0.1-3.4,1.4-1.4,3.2 0,1.9 1.5,3.7 0.5,3.7-0.2,1.9-3,3.7-0.7,1.9 0.3,1.9 1.7,3.7 1.5,1.9 2.6,1.9 1.7,0.7 1.6,0.1 1.6-0.8 1.6-1.7 1.6-0.8 1.7,0.6 1.4,1.8-1.1,3.8zM-108.3,7.8l-1.7-0.6-0.6-1.6-0.7-5.6 0.9-1.9 3.6-1.4 2.2-0.4 1.1,0.4 0.6,1.4-1.3,5.6-0.9,2.1-1.6,1.4zM-220.5,-5.6l0.4,0.3 1.7-0.5 1.5-1.7 1.1-1.8 1.1-3.8 0.2-3.6-3.4,2.3-2.7,3.2-0.7,1.9-0.2,1.8zM-139.1,-7.5l1.1,1.5 1.7,0.1 1-1.6 0.1-1.8-1-1.4-1.6-0.2-1.4,1.6zM-276.6,-9.3l0.8,1 1.7-0.5 0.6-2.4-0.3-1.6-1.6,0.2zM-251.3,-9.3l1.8,0.7 1.7-0.4 1.6-2.2 0.4-1.9-2-3.7 0.2-1.9 2.5-2 2.8-3.6 1-0.7 5.8-1.1 1.4-1.9-0.1-0.5-1.4-1.2-3.3,0.2-1.5-0.5-4.2-3.2-1.5-0.5-6.3-1.1-1.6,0-1.8,0.7-3.7,2-1.7,0.5-4.7-0.9-1.7,0.7-2.3,1.9-1.5,1.9 0.2,1.9 3,3.7 0.7,5.6 1.1,1.9 2.5,1.8 1.7-0.4 3.1-3.3 2.6-4.5 1-1.1 2.5-0.7 1.6,0.6 1.1,2 0.2,1.8-2.8,3.8-0.8,1.8 0.2,1.9zM-218.7,-31.7l3,0 3.9-1.9 5.5-7.5-0.1-1.8-1.6-1.9-6-2.9-1.7,0.5-1.1,2.4-1.4,1.9-5.5,3.7-0.8,1.9 0.2,1.8 0.8,1.8 1.4,1.1z" fill="#ff7d00"/><path d="M-157.4,150.5l314.8,0 9.2-2.7 11.1-4 12.3-5.1 9.1-4.2 16-9.1 18.8-13.1-40.3,0-33.6,2.6-3.2-0.7-2.6,0.1-30.7,7.9-7.8,1.6-7.5,0.7-26.1-0.5-35.8-1.4-103.5-6.4-41.8-2-20.7-0.2-21.6,1.6-30.7,1.3-14.8-0.8-33.4-3.2-13.7-0.6 18.8,13.1 16,9.1 9.1,4.2 12.3,5.1 11.1,4zM-83.9,-112.3l3,0.6 5.3,0 5.9-1.7 5.4-0.7 6.3,0.4 5.2-0.3 7.6,0.5 3.9-0.2 2.8-0.5 5.7-3.3 14.2-2.8 8.9-2.5 2.4-0.2 6.1,1 2.4,0 4.8-1.8 2.4-0.4 10.7-1 7-1.2 9.5,0 6.8-1 7.3,0.7 8.3,0.1 4,0.9 5.1,0.3 6.7,1.7 6,0 11,2.1 10.7-0.5 3.2,1.2 4.3,3.6 2,0 1.9-0.8 4.4-1 6.3,0.1 2.8,0.4 13.1,3.7 3,0.5 2.1-0.5 0.6-0.7 1.8-3.3 0-1.6 1-0.4 20.3,8 5.1,1.2 2.9,0.2 1.2-0.1 0.6-0.6 0.3-1-0.2-3.8 1.1-2.4 0.3-2.8 0.6-1.5 1.8-1.4 0-0.9-0.8-2.5-7.8-8-3.3-2.7-1.1-1.5 0.3-0.8 1.7-1.1 3.5-0.9 3.4-0.2-11.3-4.1-9.2-2.7-314.8,0-9.2,2.7-11.3,4.1 5.3,0.2 5.3,0.9 9.8,3.4 17.1,4.7 1.3,1.4 3.5,0.9 3.1,2.2 1.2,1.5 0.3,1.5 3.3,1.5 1.5,2.3 2,2 11.4,4.7 1.4,2.5 1.5,0.8 5.5-0.6 7.5-1.8z" fill="#8ccdf0"/><path d="M-157.4,150.5l314.8,0 17.4-5.6 18.3-7.5 14.3-7.4 12.7-7.9-32.3-1.6-33.2-0.1-1.2-0.1-0.6-0.6 0.7-2.4-0.3-0.6-7.8,1.7-9.7,3.8-5,1.4-19.8,4.9-5.1,0.4-5.6-0.2-17.8,0.5-32.5-0.1-12.6-0.6-32.5-3.6-41.7-3.6-11.5-1.5-7.7-0.6-18.7-0.1-25.5-0.8-16.1,0.2-20.8,2-11,0.1-7.4-1.2-3.2,0.5-2.7,0.9-8.4,0.3-4.1,0.7-46.1,0.3 12.7,7.9 14.3,7.4 18.3,7.5zM168.6,-114l5.4,1.5 2.6,0.1 0.7-0.6 0.1-2.3-0.4-2.8 0.8-1.4 0.4-4.8 1.1-2.6-2.4-3.1-4.7-4.5-12.1-9.2-0.2-0.5 0.6-0.6 3.3-0.6 8.2-0.5-14.6-4.6-314.8,0-14.6,4.6 6,0.2 5.6,0.9 15.1,4.7 14.7,3.3 12.6,5 5.5,3.9 2,0.3 4.8-0.1 1.5,1.1 2.4,3.2 2.7,1.4 6.4-0.5 1.7-1.3 0.6-1.6 1.5-1.5 1.5,0 1.7,1.5 1.7,4.8 5.3,1.8 1.8-0.1 2.4-1.7 2.5-4.8 0.6-0.6 1.4-0.2 0.9,0.5 0.7,1 1.6,4.1 1.9,1.7 3.6,0.3 6.5-0.6 12.1,1.1 3.2-0.8 3.9-2.5 5.5-2.4 4.1-2.8 1.2-0.3 4.8-0.7 15.4-3.9 14.8-0.5 42.9-0.4 6.8,0.2 5,0.8 5-1.1 2.2-0.1 2.5,0.4 8.8,2.8 6.6-0.4 6,0.2 3.1-0.4 4.5,1.2 5,0.5 6,2.8 3.2-0.5 2.4,0.1 15.5,3.8 1.5,0.3 0.7-0.4-1.4-1.6-5.6-4.7-2.4-3-0.7-1.5 0-1 0.4-0.6 2-0.1 3.4,0.9 5,2.3 19.6,12.6z" fill="#50c3f0"/><path d="M-157.4,150.5l314.8,0 14.6-4.6 18-7.2 12-5.7 11.9-6.9-2.3,0-18,1.7-22.1-1-26.9-2.6-0.4-0.8 0.2-2.7-2.4-0.1-13,6-11,3-7,1.3-7.4,0.5-4.1-0.5-4.7,0.1-13.7,1.6-32.7,0.1-11.5,0.6-45.1-5.3-39.7-6.6-7.6-0.7-18.4,0.3-25-0.6-17,0.5-6.2,1.4-2.7,1.5-4.1,0.4-11.2-1.6-6.3-0.2-7.8-1.6-3.1,0.5-1.4,0.9-1.1,0.2-6.9,0.4-3.6,1.1-11.5,1.4-14.8,0.4-15.7-0.1-1.6,0.5 11.9,6.9 12,5.7 18,7.2zM170.9,-114l3.7,0.9 1.2-0.1 0.7-0.6 0.1-1.8-0.6-3.3 0.8-1.7-0.2-6.3-0.9-1.6-3-3-8.6-7.2-5.9-3.9-6.5-3.3 0-0.9 1.3-0.6 13.4-0.5-9-2.6-314.8,0-9,2.6 9.8,0.5 19.1,3.6 25.4,2.3 15.2,2.6 14.5,0.2 5.1-0.9 30.3-1.7 59.2-0.7 33.7,0.6 10.7,0.6 42.4,4.7 10.9,2 4.1-0.4 3.1-1.1 3-0.2 3.7-1.2 3.3,0 5.5,1.6 5.7,2.6 12.6,7.4 12.1,8.1z" fill="#0ac3fa"/><path d="M-157.4,150.5l314.8,0 14.6-4.6 14.9-5.8 12.2-5.6 11.2-6.2-1.5-0.5-15.7,2.5-11.6,2.2-21.1,4.9-8.5,1.3-6.1,0.6-7.4,0-5.6-0.5 0.3-0.8 1.6-1.8-0.1-0.6-0.4-0.5-1.1-0.1-2.5,1.1 6.2-6.1 2.6-3.1-0.6-0.5-1.7,0.4 2.7-3 0.7-1.6-17.2,8.9-9,2.1-2.5,0.3-8.8-0.3-8.4-0.6-3.6,0.3-14.1,2.3-10.5-0.8-19.1,0.7-28.5,4.3-8.4,0.4-10.4-0.5-3.2-1.2-3.2-0.4-3.2-0.1-1,0.4-1.4-1.9-1,0.3-1,0.8-1.1-1.3-1-4.4-0.5-1.5-0.8-1-22.4-5-15.4-2.4-18.1,0.6-12.7-0.8-5.8,0.5-6.5-0.6-16.5,0.9-5.3,1-1.5,1.1-1.2,1.4-3.5,1.3-6.9-2.2-5.7-0.9-6.5-0.5-8-1.8-5.5,1.7-7.5,0.8-6.3,1.7-4.5,0.2-11.2,1.3-20.5-0.3-1.7,0.4 0.3,0.9 5.5,3.2 14.8,7.2 18,7.2zM173.7,-114l1.4,0.1 0.6-0.7 0.1-1.1-0.8-3.2 0.6-1.7 0.1-1.6-1.5-4.7-2.4-3.1-7.3-6.6-8.7-6-3.1-1.2-7.5-1.8-9.9-0.9-3.9-0.1-1.2,0.8-5,0.4-2.3,0.8-0.8,0.6 0.2,1.4 2.7,2.5 9.9,4.8 9.9,5.3 7.8,4.6 12.1,8.1 3.7,1.7zM100.9,-140.1l3.5,0.4 2.9-0.1 0.5-1.9 1.3-0.9-2.5-1.2-4.1-0.8-6.3,0.8-1.2,0.9 1.6,1.5z" fill="#14aaf8"/><path d="M-157.3,150.5l314.9,0 14.4-4.6 18-7.2 15-7.3 1.3-1.4 0-0.7-22,3.6-24.1,5.4-9.7,1.8-7.7,0.8-7.5,0.2-5.6-0.3-0.1-0.6 2.1-2-0.3-1.2-1.1,0-3.2,1.5 2.1-2.6 6.3-5.9 0.2-0.7-1.9,0.6 4.1-5-1.3,0.1-11.2,6.3-4.5,2-10.2,2.1-7.6-0.1-9.1-0.8-6,0.5-12.8,2.2-10.1-0.9-16.6,0.6-5.4,0.5-24.7,3.7-8.2,0.3-10.2-0.5-3.1-1.2-5.3-0.7-1.1,0.1-0.9,0.7-1.3-1.4-1-0.2-1,0.6-1.1,0-1.9-7.3-0.5-0.8-1.2-0.7-22.4-5.1-14-2.3-18,0.5-12.7-0.8-5.8,0.5-6.5-0.6-16.4,0.9-6,1.4-1.7,2.2-3.6,1.2-6.8-2.1-5.8-1.1-6.4-0.4-8-1.9-5.5,1.7-7.4,0.8-6.2,1.8-15.4,1.5-21.4-0.1-0.1,0.6 3.5,2.7 15,7.3 18,7.2zM170.6,-115.6l3.4,0.7 0.8-0.5 0.1-1.1-0.9-3.1 0.5-2.6-1.3-3.2-2.1-3.1-3.7-3.6-5.8-5.3-5.8-4-2.4-1.2-3.9-1.2-9.5-1.5-6.1-0.1-1.3,0.7-3.9,0.6-1.5,0.8-0.3,0.7 1.2,1.2 7.9,5.5 18.3,10.5 9.5,6.5z" fill="#1e96f5"/><path d="M-159.3,150l3.4,0.5 128.9,0 115.9-1.1 67,0.8 4.9-0.6 3.3-1 16.6-6 11.9-5.2 7.9-4.4 2.5-1.8-0.8-0.2-4,0.5-17,3-34.5,7.6-15.1,1.5-7.2,0.2-0.3-0.4 4.2-3.1 0.5-0.9-0.1-0.6-1.8,0.5-5.6,2.9 4.9-4.5 0.7-2.1 4.2-4.3 0.5-1.5-9.3,5.1-8,3.6-4.9,1.3-6.7,1.2-14.4-0.9-4.3,0.1-13.3,2-9-1.4-15.4,0-18,1.3-10.4,1.3-7,0-9.9-0.6-4.1-1.7-4.4-1-1.8,0.1-0.9,1-1.3-1.5-1-0.1-2,0.8-1.2-3-1.1-4.5-1.4-1.4-22.2-5.4-14.1-2.5-17.8,0.5-12.7-1-5.7,0.5-6.5-0.6-15.3,0.8-6.1,1.2-0.9,0.4-1.6,2.2-3.5,1.1-6.9-2.1-5.8-1.1-6.3-0.4-8.1-1.9-2.6,0.6-1.8,0.9-8.2,1.1-6,1.8-4.4,0.2-10.8,1.5-20.3-0.4-0.7,0.3 1.2,1.4 3.8,2.4 13.4,6.6 16.1,6.3zM168.8,-117.3l4.1,1.2 0.8-0.4 0.2-1-0.9-3 0.2-1.7-0.7-1.6-3.4-4.7-5-5.1-2.6-2.3-5.6-4.2-5.2-2.5-10-1.9-5.1-0.1-4.8,2 0.7,1.2 5.2,4 7.5,4.4 14.6,9.2 6.8,4.9z" fill="#2d82eb"/><path d="M-158.6,150l4.1,0.3 110.6,0.1 38.6-0.6 10.8-0.5 4.8-0.7-1.9-0.8-8.4-1.9-4.5-3.3-3.1-1.2-1.6,0.2-0.7,1.8-1.3-2-1,0.1-0.9,1-0.9,0.2-3.7-8.5-19.5-5.7-16.7-3.5-17.9,0.3-12.6-1.2-5.7,0.6-6.5-0.8-16.1,1-5.9,1.4-1.7,2.1-3.4,1.3-6.8-2.2-5.8-1-6.3-0.4-8.1-2-5.3,1.7-7.6,1.1-5.3,1.8-4.3,0.2-10.6,1.5-11.3,0.1-8.8-0.4-0.1,0.5 1,0.9 3.9,2.4 12.8,6.2 14.6,5.8zM134.1,149.3l16.6,0.4 9.4-0.4 10.4-3.4 11.6-4.5 11.1-5.1 3.1-2.1-12.9,1.7-13.9,2.8-32.8,8.2-5.5,1.7zM167.8,-118.9l3.4,1.3 1.1-0.2 0.2-0.9-1.7-5.1-7.3-8.7-5.6-4.9-4-2.7-2.7-1.3-5.1-1.5-4.8-0.8-3.3-0.2-3.6,1.3-0.1,1.2 2.9,2.7 7.8,4.2z" fill="#3c6ee1"/><path d="M-157.5,150l57.4,0.3 54.2-0.2 31.6-0.7 1-0.1 0.6-0.4 2.7,0 0.5-0.3-0.8-1.7-1.8,0.8-1-0.3-3.5-7.4-2.4-1.3-9.3-4.2-8.4-3-16.3-4.3-12-0.4-5.9,0.1-12.7-1.4-5.6,0.5-6.5-0.8-6.8,0.2-9.2,0.7-4.8,0.8-1.1,0.6-1.5,2.1-3.3,1.3-7-2.3-5.6-0.9-6.2-0.3-8.2-2.1-4.2,1.6-8.6,1.6-4.5,1.8-5.3,0.3-9,1.6-19.5-0.2 0.8,1.1 5.2,2.8 13.7,6.3 14.9,5.6zM-8.6,148.6l0.4,0.2 1.5-0.2-0.8-1.3-0.9,0zM167.5,-120.6l2.4,0.6 0.3-0.6-1.5-3.2-7.6-9.2-5-4-4.8-3.1-5.2-1.8-6-0.9-1.6,0.2-1.1,1-0.2,0.2 1,1.3 9.8,5.6z" fill="#3250eb"/><path d="M-125.8,150l39.3,0.1 42-0.3 16.5-0.5 6.1-0.7 0.6-0.8-0.8-1.9-1-1-7.4-4.8-7.6-4.2-11.4-4.4-5.6-1.1-8.5-0.8-5.8,0-12.8-1.9-5.6,0.3-7.7-0.9-15.8,0.8-4.8,1.2-1.4,2.1-3,1.4-7.1-2.2-5.5-0.9-6.1-0.2-7.9-1.9-4,1.6-8.8,2.1-3.3,1.6-5.1,0.3-8.1,1.8-17.4,0.1-0.5,0.4 4.6,2.6 10.6,4.7 11.2,4.3 7.8,2.4 3.2,0.4zM158.5,-130l0.9,0.2 0.1-0.7-0.8-1.4-8.2-6.5-4.2-1.7-2.9,0 8.9,5.6 3.5,3z" fill="#1e3cf5"/><path d="M-152.7,149.3l52.4,0.6 38.8-0.2 18.5-0.4 6.5-0.7 0.5-0.8-3.4-5.2-4.3-2.5-5.9-2.7-10.3-2.9-7.1-1-13.1-2.7-5.7,0.1-6.6-1.1-9.1,0.1-8.7,0.6-3.7,0.9-1.1,2.1-2.9,1.4-7-2.1-5.4-0.8-5.8-0.1-7.8-1.8-3.5,1.8-7.5,2.6-2.2,1.9-4.3,0.7-5.8,2.5-12.4,1.8 1.4,1 5.9,2.5 10.5,3.7 2.9,0.5z" fill="#0a0aff"/></g>
</defs>
<g transform="translate(297.3,169)">
<g clip-path="url(#clip)"><path d="M157.4,150.5 161.7,149.3 166.6,147.8 172,145.9 177.7,143.8 183.8,141.4 190,138.7 196.2,135.9 202,133 207.4,130 212.6,126.9 217.5,123.8 222.3,120.6 227.1,117.3 231.7,114 236.2,110.6 240.6,107.1 244.9,103.6 249,100.1 253,96.5 256.7,92.9 260.2,89.3 263.5,85.7 266.7,82 269.7,78.3 272.6,74.6 275.3,70.9 277.7,67.2 280,63.5 282.1,59.7 284,56 285.7,52.3 287.2,48.5 288.4,44.8 289.5,41.1 290.5,37.3 291.5,33.6 292.4,29.9 293.2,26.1 293.9,22.4 294.4,18.7 294.9,14.9 295.2,11.2 295.5,7.5 295.7,3.7 295.8,0 295.7,-3.7 295.5,-7.5 295.2,-11.2 294.9,-14.9 294.4,-18.7 293.9,-22.4 293.2,-26.1 292.4,-29.9 291.5,-33.6 290.5,-37.3 289.5,-41.1 288.4,-44.8 287.2,-48.5 285.7,-52.3 284,-56 282.1,-59.7 280,-63.5 277.7,-67.2 275.3,-70.9 272.6,-74.6 269.7,-78.3 266.7,-82 263.5,-85.7 260.2,-89.3 256.7,-92.9 253,-96.5 249,-100.1 244.9,-103.6 240.6,-107.1 236.2,-110.6 231.7,-114 227.1,-117.3 222.3,-120.6 217.5,-123.8 212.6,-126.9 207.4,-130 202,-133 196.2,-135.9 190,-138.7 183.8,-141.4 177.7,-143.8 172,-145.9 166.6,-147.8 161.7,-149.3 157.4,-150.5 -157.4,-150.5 -161.7,-149.3 -166.6,-147.8 -172,-145.9 -177.7,-143.8 -183.8,-141.4 -190,-138.7 -196.2,-135.9 -202,-133 -207.4,-130 -212.6,-126.9 -217.5,-123.8 -222.3,-120.6 -227.1,-117.3 -231.7,-114 -236.2,-110.6 -240.6,-107.1 -244.9,-103.6 -249,-100.1 -253,-96.5 -256.7,-92.9 -260.2,-89.3 -263.5,-85.7 -266.7,-82 -269.7,-78.3 -272.6,-74.6 -275.3,-70.9 -277.7,-67.2 -280,-63.5 -282.1,-59.7 -284,-56 -285.7,-52.3 -287.2,-48.5 -288.4,-44.8 -289.5,-41.1 -290.5,-37.3 -291.5,-33.6 -292.4,-29.9 -293.2,-26.1 -293.9,-22.4 -294.4,-18.7 -294.9,-14.9 -295.2,-11.2 -295.5,-7.5 -295.7,-3.7 -295.8,0 -295.7,3.7 -295.5,7.5 -295.2,11.2 -294.9,14.9 -294.4,18.7 -293.9,22.4 -293.2,26.1 -292.4,29.9 -291.5,33.6 -290.5,37.3 -289.5,41.1 -288.4,44.8 -287.2,48.5 -285.7,52.3 -284,56 -282.1,59.7 -280,63.5 -277.7,67.2 -275.3,70.9 -272.6,74.6 -269.7,78.3 -266.7,82 -263.5,85.7 -260.2,89.3 -256.7,92.9 -253,96.5 -249,100.1 -244.9,103.6 -240.6,107.1 -236.2,110.6 -231.7,114 -227.1,117.3 -222.3,120.6 -217.5,123.8 -212.6,126.9 -207.4,130 -202,133 -196.2,135.9 -190,138.7 -183.8,141.4 -177.7,143.8 -172,145.9 -166.6,147.8 -161.7,149.3 -157.4,150.5z" fill="#fff"/><use href="#land"/>
<use href="#t1"/>
<use href="#grid"/><use href="#coast"/><use href="#lakes"/>
<path d="M-146-86.9h0m-52.4,4.7h0m47.6,0h0m38.2,0h0m266.8,0h0m9.5,0h0m19.1,0h0m9.5,0h0m-338.3,4.7h0m28.6,0h0m-52.4,4.7h0m28.6,0h0m9.5,0h0m-52.4,4.7h0m9.5,0h0m47.6,0h0m9.6,0h0m9.5,0h0m-61.9,4.8h0m19,0h0m9.6,0h0m9.5,0h0m-62,4.7h0m38.1,0h0m28.6,0h0m238.3,0h0m-386,4.7h0m47.7,0h0m66.7,0h0m9.5,0h0m-119.1,4.7h0m114.3,0h0m9.6,0h0m209.6,0h0m9.6,0h0m9.5,0h0m9.5,0h0m19.1,0h0m19,0h0m9.6,0h0m-376.4,4.7h0m9.5,0h0m76.2,0h0m9.6,0h0m19,0h0m181.1,0h0m9.5,0h0m9.5,0h0m9.6,0h0m9.5,0h0m19.1,0h0m9.5,0h0m9.5,0h0m-405,4.8h0m38.1,0h0m95.3,0h0m9.5,0h0m9.6,0h0m181,0h0m9.6,0h0m9.5,0h0m9.5,0h0m19.1,0h0m-376.4,4.7h0m28.6,0h0m9.5,0h0m314.5,0h0m28.6,0h0m-386,4.7h0m9.5,0h0m38.1,0h0m343.1,0h0m9.5,0h0m-395.4,4.7h0m38.1,0h0m9.5,0h0m505.1,0h0m-576.6,4.7h0m38.2,0h0m381.1,0h0m152.5,0h0m-547.9,4.8h0m-23.9,4.7h0m19.1,0h0m9.5,0h0m9.6,0h0m9.5,0h0m19,0h0m505.1,0h0m-567,4.7h0m66.7,0h0m428.9,0h0m76.2,0h0m-509.9,4.7h0m409.8,0h0m9.6,0h0m9.5,0h0m9.5,0h0m66.7,0h0m-528.9,4.7h0m152.5,0h0m285.9,0h0m9.5,0h0m9.6,0h0m9.5,0h0m-500.3,4.8h0m9.5,0h0m457.4,0h0m9.6,0h0m19,0h0m-81,4.7h0m9.6,0h0m38.1,0h0m28.6,0h0m19,0h0m38.1,0h0m9.6,0h0m-538.5,4.7h0m104.8,0h0m9.6,0h0m276.3,0h0m9.6,0h0m9.5,0h0m28.6,0h0m19.1,0h0m9.5,0h0m9.5,0h0m9.5,0h0m19.1,0h0m19.1,0h0m9.5,0h0m9.5,0h0m-547.9,4.7h0m95.3,0h0m9.5,0h0m9.5,0h0m9.6,0h0m9.5,0h0m257.3,0h0m9.5,0h0m9.6,0h0m9.5,0h0m28.6,0h0m28.6,0h0m19,0h0m9.6,0h0m9.5,0h0m9.5,0h0m9.5,0h0m9.6,0h0m9.5,0h0m-538.4,4.7h0m76.2,0h0m9.5,0h0m9.5,0h0m9.6,0h0m9.5,0h0m9.5,0h0m247.8,0h0m9.5,0h0m9.6,0h0m9.5,0h0m38.1,0h0m9.6,0h0m9.5,0h0m9.5,0h0m9.5,0h0m9.6,0h0m9.5,0h0m9.5,0h0m9.6,0h0m9.5,0h0m9.5,0h0m-557.5,4.8h0m19.1,0h0m19.1,0h0m66.7,0h0m9.5,0h0m9.5,0h0m9.6,0h0m9.5,0h0m9.5,0h0m47.7,0h0m9.5,0h0m190.6,0h0m9.5,0h0m9.6,0h0m28.5,0h0m9.6,0h0m19,0h0m9.6,0h0m9.5,0h0m9.5,0h0m9.6,0h0m9.5,0h0m9.5,0h0m9.5,0h0m9.6,0h0m9.5,0h0m-567,4.7h0m38.1,0h0m9.5,0h0m57.2,0h0m9.5,0h0m9.5,0h0m9.6,0h0m57.2,0h0m9.5,0h0m9.5,0h0m9.6,0h0m247.7,0h0m9.6,0h0m9.5,0h0m9.5,0h0m9.5,0h0m9.6,0h0m9.5,0h0m9.5,0h0m9.6,0h0m9.5,0h0m9.5,0h0m-452.6,4.7h0m9.5,0h0m9.5,0h0m57.2,0h0m19.1,0h0m19,0h0m219.2,0h0m28.6,0h0m9.5,0h0m9.6,0h0m9.5,0h0m9.5,0h0m9.6,0h0m9.5,0h0m9.5,0h0m9.5,0h0m9.6,0h0m9.5,0h0m-557.5,4.7h0m104.8,0h0m9.5,0h0m76.3,0h0m9.5,0h0m247.8,0h0m9.5,0h0m9.6,0h0m9.5,0h0m9.5,0h0m9.5,0h0m47.7,0h0m9.5,0h0m-528.9,4.7h0m9.6,0h0m142.9,0h0m266.8,0h0m9.6,0h0m9.5,0h0m9.5,0h0m9.6,0h0m9.5,0h0m-300.2,4.8h0m9.5,0h0m19.1,0h0m228.7,0h0m9.5,0h0m9.6,0h0m9.5,0h0m9.5,0h0m9.5,0h0m-300.1,4.7h0m238.2,0h0m9.5,0h0m9.6,0h0m9.5,0h0m9.5,0h0m19.1,0h0m-290.7,4.7h0m238.3,0h0m9.5,0h0m9.5,0h0m9.6,0h0m9.5,0h0m9.5,0h0m-42.9,4.7h0m9.6,0h0m9.5,0h0m9.5,0h0m9.6,0h0m-462.2,4.7h0m9.5,0h0m9.5,0h0m9.5,0h0m19.1,0h0m9.5,0h0m9.6,0h0m9.5,0h0m9.5,0h0m333.6,0h0m9.5,0h0m9.5,0h0m9.6,0h0m9.5,0h0m28.6,0h0m28.6,0h0m-519.4,4.8h0m9.5,0h0m9.6,0h0m9.5,0h0m9.5,0h0m9.5,0h0m9.6,0h0m9.5,0h0m9.5,0h0m9.6,0h0m9.5,0h0m9.5,0h0m9.6,0h0m9.5,0h0m295.4,0h0m9.5,0h0m28.6,0h0m9.6,0h0m9.5,0h0m9.5,0h0m9.6,0h0m9.5,0h0m9.5,0h0m-519.4,4.7h0m9.6,0h0m9.5,0h0m9.5,0h0m9.5,0h0m9.6,0h0m9.5,0h0m9.5,0h0m9.6,0h0m9.5,0h0m9.5,0h0m9.5,0h0m9.6,0h0m9.5,0h0m9.5,0h0m295.5,0h0m9.5,0h0m9.5,0h0m9.6,0h0m9.5,0h0m9.5,0h0m9.5,0h0m9.6,0h0m9.5,0h0m9.5,0h0m9.6,0h0m-519.4,4.7h0m9.5,0h0m9.6,0h0m9.5,0h0m9.5,0h0m9.5,0h0m9.6,0h0m9.5,0h0m9.5,0h0m9.6,0h0m9.5,0h0m9.5,0h0m9.6,0h0m9.5,0h0m9.5,0h0m285.9,0h0m9.5,0h0m9.6,0h0m9.5,0h0m9.5,0h0m9.6,0h0m9.5,0h0m9.5,0h0m9.6,0h0m9.5,0h0m9.5,0h0m-509.8,4.7h0m9.5,0h0m9.5,0h0m9.5,0h0m9.6,0h0m9.5,0h0m9.5,0h0m9.6,0h0m9.5,0h0m9.5,0h0m9.5,0h0m9.6,0h0m9.5,0h0m9.5,0h0m47.7,0h0m9.5,0h0m238.3,0h0m9.5,0h0m9.5,0h0m9.6,0h0m9.5,0h0m9.5,0h0m9.5,0h0m9.6,0h0m9.5,0h0m9.5,0h0m-500.3,4.7h0m9.6,0h0m9.5,0h0m9.5,0h0m9.5,0h0m9.6,0h0m9.5,0h0m9.5,0h0m9.6,0h0m9.5,0h0m9.5,0h0m9.6,0h0m9.5,0h0m9.5,0h0m38.1,0h0m9.6,0h0m9.5,0h0m228.7,0h0m9.5,0h0m9.6,0h0m9.5,0h0m9.5,0h0m9.6,0h0m9.5,0h0m9.5,0h0m9.6,0h0m9.5,0h0m-433.6,4.8h0m9.5,0h0m9.5,0h0m9.5,0h0m9.6,0h0m9.5,0h0m9.5,0h0m47.7,0h0m9.5,0h0m76.3,0h0m9.5,0h0m9.5,0h0m9.6,0h0m9.5,0h0m123.9,0h0m9.5,0h0m9.5,0h0m9.6,0h0m9.5,0h0m9.5,0h0m9.5,0h0m9.6,0h0m9.5,0h0m-481.2,4.7h0m9.5,0h0m57.2,0h0m9.5,0h0m9.5,0h0m9.6,0h0m9.5,0h0m133.4,0h0m9.5,0h0m19.1,0h0m9.5,0h0m123.9,0h0m9.5,0h0m9.6,0h0m9.5,0h0m9.5,0h0m9.6,0h0m9.5,0h0m9.5,0h0m9.6,0h0m-471.8,4.7h0m9.5,0h0m9.6,0h0m9.5,0h0m9.5,0h0m9.6,0h0m9.5,0h0m9.5,0h0m9.5,0h0m9.6,0h0m9.5,0h0m9.5,0h0m9.6,0h0m38.1,0h0m9.5,0h0m9.6,0h0m9.5,0h0m9.5,0h0m57.2,0h0m19.1,0h0m9.5,0h0m47.6,0h0m9.6,0h0m9.5,0h0m47.6,0h0m9.6,0h0m9.5,0h0m9.5,0h0m9.6,0h0m9.5,0h0m9.5,0h0m9.5,0h0m-452.6,4.7h0m9.5,0h0m9.5,0h0m9.6,0h0m9.5,0h0m9.5,0h0m9.6,0h0m9.5,0h0m9.5,0h0m9.6,0h0m9.5,0h0m9.5,0h0m38.1,0h0m9.6,0h0m9.5,0h0m9.5,0h0m9.6,0h0m9.5,0h0m9.5,0h0m38.1,0h0m9.6,0h0m9.5,0h0m9.5,0h0m9.6,0h0m9.5,0h0m19,0h0m19.1,0h0m9.5,0h0m9.6,0h0m9.5,0h0m28.6,0h0m9.5,0h0m9.5,0h0m9.6,0h0m9.5,0h0m9.5,0h0m9.6,0h0m9.5,0h0m-433.6,4.7h0m9.5,0h0m9.5,0h0m9.6,0h0m9.5,0h0m9.5,0h0m9.5,0h0m9.6,0h0m9.5,0h0m9.5,0h0m9.6,0h0m9.5,0h0m9.5,0h0m9.6,0h0m9.5,0h0m9.5,0h0m9.6,0h0m9.5,0h0m9.5,0h0m9.5,0h0m9.6,0h0m28.6,0h0m9.5,0h0m9.5,0h0m9.6,0h0m9.5,0h0m28.6,0h0m9.5,0h0m9.5,0h0m9.6,0h0m28.5,0h0m9.6,0h0m9.5,0h0m9.5,0h0m9.6,0h0m19,0h0m9.6,0h0m9.5,0h0m9.5,0h0m-424.1,4.8h0m9.6,0h0m9.5,0h0m9.5,0h0m9.6,0h0m9.5,0h0m9.5,0h0m9.6,0h0m9.5,0h0m9.5,0h0m9.6,0h0m9.5,0h0m9.5,0h0m9.5,0h0m9.6,0h0m9.5,0h0m9.5,0h0m9.6,0h0m9.5,0h0m9.5,0h0m28.6,0h0m9.5,0h0m9.6,0h0m9.5,0h0m9.5,0h0m19.1,0h0m9.5,0h0m38.1,0h0m9.6,0h0m19,0h0m9.6,0h0m9.5,0h0m9.5,0h0m9.5,0h0m9.6,0h0m9.5,0h0m9.5,0h0m-405,4.7h0m9.5,0h0m9.6,0h0m9.5,0h0m9.5,0h0m9.5,0h0m9.6,0h0m9.5,0h0m9.5,0h0m9.6,0h0m9.5,0h0m9.5,0h0m9.6,0h0m9.5,0h0m9.5,0h0m9.6,0h0m9.5,0h0m9.5,0h0m9.5,0h0m19.1,0h0m19.1,0h0m9.5,0h0m19.1,0h0m9.5,0h0m9.5,0h0m19.1,0h0m38.1,0h0m9.5,0h0m9.5,0h0m9.6,0h0m9.5,0h0m9.5,0h0m9.6,0h0m9.5,0h0m9.5,0h0m9.6,0h0m-386,4.7h0m28.6,0h0m9.5,0h0m9.6,0h0m9.5,0h0m9.5,0h0m28.6,0h0m9.5,0h0m9.6,0h0m9.5,0h0m9.5,0h0m9.6,0h0m9.5,0h0m9.5,0h0m9.5,0h0m9.6,0h0m9.5,0h0m85.8,0h0m19,0h0m9.6,0h0m28.6,0h0m9.5,0h0m9.5,0h0m9.5,0h0m9.6,0h0m9.5,0h0m-271.6,4.7h0m9.5,0h0m9.6,0h0m9.5,0h0m9.5,0h0m9.5,0h0m9.6,0h0m9.5,0h0m9.5,0h0m9.6,0h0m9.5,0h0m142.9,0h0m-223.9,4.7h0m9.5,0h0m9.6,0h0m28.5,0h0m19.1,0h0m152.5,0h0" stroke="#000" stroke-width="2.2" stroke-linecap="round" fill="none"/>
<path d="M189.7,29.1L201.7,34.1M184.7,36.4L205.7,45.3M180.7,44.2L187.7,47.1M197.7,51.4L202.7,53.4M-165.3-82.2L-120.3-63.3M179.7,62.7L192.7,68.1M-169.3-74.4L-132.3-58.9M179.7,72.1L185.7,74.7M94.7,102.6L114.7,111M167.7,133.2L181.7,139.1M74.7,103.6L112.7,119.6M138.7,130.5L154.7,137.2M167.7,142.7L172.7,144.8M59.7,106.8L77.7,114.4M79.7,115.2L90.7,119.8M122.7,133.2L151.7,145.4M52.7,113.3L61.7,117.1M35.7,125.1L46.7,129.7M32.7,133.2L40.7,136.6M-30.3,135.1L-24.3,137.7M-57.3,133.2L-29.3,145M-82.3,132.2L-44.3,148.2M-228.3,80.3L-196.3,93.8M-107.3,131.1L-66.3,148.4M-237.3,86L-199.3,102M-188.3,106.6L-172.3,113.3M-124.3,133.5L-88.3,148.6M-242.3,93.3L-229.3,98.8M-226.3,100.1L-196.3,112.7M-191.3,114.8L-178.3,120.2M-150.3,132L-110.3,148.8M-239.3,104.1L-232.3,107M-162.3,136.4L-133.3,148.6" stroke="#000" stroke-width="1.25" fill="none"/>
</g><use href="#outl"/></g>
<text x="297.3" y="10.8" font-size="13.8" text-anchor="middle" xml:space="preserve">TREFHT: CESM3dev_235pi: Years 25-44 : SON : GM=286.4</text>
<rect x="35.4" y="338.7" width="23.81" height="8.6" fill="#0a0aff" stroke="#000" stroke-width="1.2"/><rect x="59.21" y="338.7" width="23.81" height="8.6" fill="#1e3cf5" stroke="#000" stroke-width="1.2"/><rect x="83.02" y="338.7" width="23.81" height="8.6" fill="#3250eb" stroke="#000" stroke-width="1.2"/><rect x="106.83" y="338.7" width="23.81" height="8.6" fill="#3c6ee1" stroke="#000" stroke-width="1.2"/><rect x="130.64" y="338.7" width="23.81" height="8.6" fill="#2d82eb" stroke="#000" stroke-width="1.2"/><rect x="154.45" y="338.7" width="23.81" height="8.6" fill="#1e96f5" stroke="#000" stroke-width="1.2"/><rect x="178.26" y="338.7" width="23.81" height="8.6" fill="#14aaf8" stroke="#000" stroke-width="1.2"/><rect x="202.07" y="338.7" width="23.81" height="8.6" fill="#0ac3fa" stroke="#000" stroke-width="1.2"/><rect x="225.88" y="338.7" width="23.81" height="8.6" fill="#50c3f0" stroke="#000" stroke-width="1.2"/><rect x="249.69" y="338.7" width="23.81" height="8.6" fill="#8ccdf0" stroke="#000" stroke-width="1.2"/><rect x="273.5" y="338.7" width="23.81" height="8.6" fill="#ffffff" stroke="#000" stroke-width="1.2"/><rect x="297.31" y="338.7" width="23.81" height="8.6" fill="#ffffff" stroke="#000" stroke-width="1.2"/><rect x="321.12" y="338.7" width="23.81" height="8.6" fill="#fff58c" stroke="#000" stroke-width="1.2"/><rect x="344.93" y="338.7" width="23.81" height="8.6" fill="#ffe650" stroke="#000" stroke-width="1.2"/><rect x="368.74" y="338.7" width="23.81" height="8.6" fill="#ffcd1e" stroke="#000" stroke-width="1.2"/><rect x="392.55" y="338.7" width="23.81" height="8.6" fill="#ffb40a" stroke="#000" stroke-width="1.2"/><rect x="416.36" y="338.7" width="23.81" height="8.6" fill="#ff9600" stroke="#000" stroke-width="1.2"/><rect x="440.17" y="338.7" width="23.81" height="8.6" fill="#ff7d00" stroke="#000" stroke-width="1.2"/><rect x="463.98" y="338.7" width="23.81" height="8.6" fill="#ff5500" stroke="#000" stroke-width="1.2"/><rect x="487.79" y="338.7" width="23.81" height="8.6" fill="#ff1e0a" stroke="#000" stroke-width="1.2"/><rect x="511.6" y="338.7" width="23.81" height="8.6" fill="#f00000" stroke="#000" stroke-width="1.2"/><rect x="535.41" y="338.7" width="23.81" height="8.6" fill="#d20000" stroke="#000" stroke-width="1.2"/><text transform="translate(59.21,370.8) scale(1,1.075)" font-size="21" text-anchor="middle">220</text><text transform="translate(106.83,370.8) scale(1,1.075)" font-size="21" text-anchor="middle">230</text><text transform="translate(154.45,370.8) scale(1,1.075)" font-size="21" text-anchor="middle">240</text><text transform="translate(202.07,370.8) scale(1,1.075)" font-size="21" text-anchor="middle">250</text><text transform="translate(249.69,370.8) scale(1,1.075)" font-size="21" text-anchor="middle">260</text><text transform="translate(297.31,370.8) scale(1,1.075)" font-size="21" text-anchor="middle">270</text><text transform="translate(344.93,370.8) scale(1,1.075)" font-size="21" text-anchor="middle">280</text><text transform="translate(392.55,370.8) scale(1,1.075)" font-size="21" text-anchor="middle">290</text><text transform="translate(440.17,370.8) scale(1,1.075)" font-size="21" text-anchor="middle">300</text><text transform="translate(487.79,370.8) scale(1,1.075)" font-size="21" text-anchor="middle">310</text><text transform="translate(535.41,370.8) scale(1,1.075)" font-size="21" text-anchor="middle">320</text>
<path d="M593.1,18.8H693.4V319.2H593.1M593.1,19.8v-10.4M593.1,318.2v10.6M613.16,19.8v-10.4M613.16,318.2v10.6M633.22,19.8v-10.4M633.22,318.2v10.6M653.28,19.8v-10.4M653.28,318.2v10.6M673.34,19.8v-10.4M673.34,318.2v10.6M693.4,19.8v-10.4M693.4,318.2v10.6M692.4,57.84h10.4M692.4,112.41h10.4M692.4,168.4h10.4M692.4,224.39h10.4M692.4,278.96h10.4" stroke="#000" stroke-width="2" fill="none" stroke-linecap="butt"/><text x="711" y="63.14" font-size="14.5">60N</text><text x="711" y="117.71" font-size="14.5">30N</text><text x="711" y="173.7" font-size="14.5">0</text><text x="711" y="229.69" font-size="14.5">30S</text><text x="711" y="284.26" font-size="14.5">60S</text><text x="593.1" y="345" font-size="12" text-anchor="middle">200</text><text x="633.22" y="345" font-size="12" text-anchor="middle">240</text><text x="673.34" y="345" font-size="12" text-anchor="middle">280</text><text x="643.25" y="7.8" font-size="9" text-anchor="middle">K</text>
<path d="M643.5,22.9 643,24.5 642.5,26.1 642,27.6 642,29.1 642.2,30.4 642.1,31.7 643,32.9 644.3,34.1 645.5,35.2 646.4,36.4 647.4,37.5 648.3,38.7 649.2,39.8 650.2,41 651.3,42.2 652.3,43.3 653.2,44.5 654.1,45.6 655.1,46.8 656.1,48 657.1,49.1 658.4,50.2 659.6,51.4 660.3,52.5 661.1,53.6 662.5,54.7 663.6,55.8 664.6,57 665.4,58.2 666.2,59.5 666.5,60.9 666.5,62.3 667.3,63.8 667.7,65.3 667.8,66.9 668,68.4 668,69.9 668.6,71.4 669.3,72.8 669.7,74.2 670.2,75.6 671,77 671.7,78.4 672.3,79.8 673.1,81.2 673.6,82.6 674,84 674.5,85.4 674.9,86.9 675.1,88.4 675.1,89.9 675.3,91.5 675.4,93 675.6,94.6 675.7,96.1 675.8,97.7 676.1,99.2 676,100.6 676.2,102.1 676.7,103.5 677.2,104.8 677.8,106.1 678.5,107.4 679.6,108.6 680.6,109.8 681.6,111.1 682.7,112.3 683.3,113.6 683.9,115 685,116.3 685.7,117.7 686.2,119.1 687,120.5 687.7,121.9 688.2,123.3 688.5,124.7 688.4,126.2 688.6,127.6 688.9,129.1 689.2,130.6 689.4,132.1 689.2,133.6 689.2,135.1 689.6,136.7 689.9,138.2 689.8,139.7 689.8,141.3 690,142.8 690.1,144.3 690.2,145.9 690.1,147.4 690,148.9 689.9,150.4 690,151.9 689.6,153.5 689.4,155 689.5,156.5 689.3,158 689.2,159.5 689.3,161 689.3,162.5 689.5,164.1 689.6,165.6 690,167 690.3,168.5 690.3,170 690.4,171.5 691.1,173 691.5,174.5 691.4,176 691.6,177.5 691.8,179 692,180.6 692.2,182.1 692.2,183.6 692.2,185.1 692.4,186.6 692.4,188.1 692.5,189.6 692.8,191.2 692.4,192.7 691.7,194.2 691.8,195.7 692.2,197.2 691.8,198.7 691,200.2 691,201.7 690.8,203.2 690.4,204.7 690.2,206.2 690.1,207.7 689.9,209.2 689.7,210.7 689.5,212.2 689.2,213.8 688.9,215.3 688.7,216.8 688.5,218.3 688.2,219.8 687.8,221.3 687.8,222.7 687.7,224.2 687.1,225.6 686.8,227.1 686.3,228.5 685.6,229.9 685.2,231.3 684.6,232.6 683.7,234 683.1,235.4 682.5,236.7 681.5,238.1 680.8,239.5 680.1,240.8 679.8,242.2 679,243.6 678.2,245 677.5,246.4 676.7,247.8 676.4,249.1 675.6,250.5 674.7,251.9 674.1,253.3 673.7,254.7 673.4,256.2 673.3,257.6 673.4,259.1 673.3,260.6 673.7,262.1 674,263.6 674,265.1 673.8,266.6 673.5,268 672.9,269.5 672.4,271" stroke="#ff0000" stroke-width="4" fill="none" stroke-linejoin="round" stroke-linecap="round"/>
<path d="M664,280 663,281.3 661.9,282.5 660.6,283.5 659.4,284.3 658.1,284.9 656.7,285.4 655.4,285.9 653.8,286.4 652.1,286.8 650.6,287.2 649.2,287.6 647.7,288.1 646,288.6 644.5,289 643.1,289.5 641.5,289.9 639.8,290.3 638.3,290.8 636.7,291.3 635.3,291.8 634,292.4 632.7,293.1 631.4,293.8 630.1,294.7 628.7,295.7 627.2,296.8 626.2,298 625.8,299.2 625.4,300.6 624.9,302.1 624.5,303.7 624.4,305.4 624.3,306.9 624.6,308.6 624.7,310.2 624.6,311.7 624.5,312.9 623.5,314 621.9,315 620.4,315.8 618.9,316.5 617.4,317.2 616,317.8 614.8,318.3 613.1,318.7 611.4,319" stroke="#ff0000" stroke-width="4" fill="none" stroke-linejoin="round" stroke-linecap="round"/>
<path d="M648,19.5 648.5,21 649,22.4 649.5,23.8 650.1,25.2 650.8,26.6 651.5,27.9 652.2,29.1 653,30.4 653.9,31.6 654.8,32.8 655.7,34 656.7,35.2 657.7,36.4 658.7,37.6 659.6,38.8 660.6,40 661.5,41.2 662.4,42.4 663.3,43.6 664.2,44.9 665.1,46.1 666,47.4 666.8,48.6 667.6,49.9 668.3,51.2 669,52.5 669.6,53.9 670.1,55.3 670.7,56.7 671.2,58.1 671.6,59.6 672.1,61 672.6,62.5 673.1,64 673.6,65.4 674.1,66.8 674.6,68.2 675.2,69.7 675.7,71.1 676.3,72.5 676.9,73.9 677.5,75.2 678.1,76.6 678.7,78 679.3,79.4 679.9,80.8 680.4,82.2 681,83.6 681.6,85 682.2,86.4 682.8,87.8 683.4,89.2 684,90.6 684.6,92 685.2,93.4 685.8,94.8 686.4,96.2 686.9,97.6 687.4,99 687.8,100.5 688.2,101.9 688.7,103.4 689.1,104.8 689.5,106.3 689.8,107.8 690.2,109.2 690.5,110.7 690.8,112.2 691.1,113.7 691.3,115.2 691.5,116.7 691.7,118.2 691.8,119.7 692,121.2 692.1,122.7 692.2,124.2 692.4,125.7 692.5,127.2 692.6,128.8 692.7,130.3 692.7,131.8 692.8,133.3 692.8,134.8 692.8,136.3 692.8,137.8 692.8,139.4 692.9,140.9 692.9,142.4 692.9,143.9 692.9,145.4 692.9,146.9 692.9,148.4 692.9,150 692.9,151.5 693,153 693,154.5 693,156 693,157.5 693,159.1 693,160.6 693,162.1 693,163.6 693,165.1 693,166.6 693,168.1 693,169.6 692.9,171.1 692.9,172.7 692.8,174.2 692.7,175.7 692.5,177.2 692.4,178.7 692.2,180.2 692,181.7 691.9,183.2 691.7,184.7 691.5,186.2 691.3,187.7 691.1,189.2 690.9,190.7 690.7,192.2 690.5,193.7 690.3,195.2 690,196.7 689.8,198.2 689.5,199.7 689.2,201.2 688.9,202.7 688.6,204.2 688.3,205.7 688,207.2 687.7,208.7 687.3,210.2 687,211.6 686.6,213.1 686.2,214.6 685.8,216 685.4,217.5 685,219 684.6,220.4 684.2,221.9 683.8,223.3 683.4,224.7 682.9,226.2 682.4,227.6 681.9,229 681.3,230.4 680.7,231.7 680,233.1 679.4,234.5 678.7,235.9 678,237.2 677.4,238.6 676.7,240 676.1,241.4 675.5,242.8 674.9,244.2 674.3,245.6 673.9,247 673.4,248.4 672.9,249.9 672.5,251.3 672.1,252.8 671.6,254.2 671.2,255.7 670.8,257.1 670.4,258.6 669.9,260.1 669.5,261.5 669,263 668.6,264.4 668.2,265.8 667.7,267.3 667.3,268.7 666.8,270.2 666.4,271.6 665.9,273.1 665.4,274.5 665,276 664.5,277.4 663.9,278.8 663.4,280.2 662.9,281.6 662.3,283.1 661.7,284.5 661.1,285.9 660.4,287.2 659.7,288.5 658.9,289.7 657.9,290.9 656.9,292 655.8,293.1 654.8,294.2 653.7,295.3 652.6,296.4 651.6,297.5 650.5,298.7 649.5,299.9 648.5,301.1 647.4,302.2 646.3,303.2 645.1,303.9 643.9,304.5 642.5,305.1 641.2,305.7 639.7,306.1 638.2,306.5 636.6,306.8 635,307" stroke="#0000ff" stroke-width="4" fill="none" stroke-linejoin="round" stroke-linecap="round"/>
<path d="M647.5,18.8 647.5,20.4 647.6,21.9 647.7,23.4 647.8,24.9 648,26.3 648.2,27.7 648.7,29.1 649.4,30.4 650.2,31.7 651.1,33 652.1,34.3 653,35.6 653.9,36.8 654.7,38.1 655.5,39.4 656.3,40.6 657.1,41.9 658,43.2 658.8,44.4 659.7,45.7 660.5,46.9 661.4,48.2 662.2,49.4 663,50.7 663.9,51.9 664.8,53.2 665.7,54.4 666.7,55.7 667.5,56.9 668.4,58.2 669.1,59.5 669.7,60.8 670.2,62.2 670.5,63.6 670.8,65.1 671,66.6 671.2,68.1 671.5,69.7 671.7,71.2 672,72.6 672.4,74.1 672.8,75.5 673.4,76.8 674.1,78.2 674.9,79.5 675.6,80.8 676.4,82.2 677.1,83.5 677.8,84.9 678.4,86.2 679,87.6 679.5,89 680,90.5 680.5,91.9 681,93.3 681.5,94.7 682,96.2 682.4,97.6 682.9,99.1 683.4,100.5 683.9,101.9 684.5,103.3 685,104.7 685.6,106.1 686.1,107.6 686.6,109 687.1,110.4 687.6,111.8 688.1,113.3 688.5,114.7 688.8,116.2 689.2,117.6 689.6,119.1 689.9,120.6 690.2,122 690.5,123.5 690.8,125 691.1,126.5 691.3,128 691.4,129.5 691.6,131 691.7,132.5 691.9,134 692,135.5 692.1,137 692.2,138.5 692.3,140 692.4,141.5 692.5,143 692.6,144.5 692.6,146.1 692.6,147.6 692.6,149.1 692.6,150.6 692.6,152.1 692.6,153.6 692.6,155.1 692.6,156.6 692.6,158.1 692.6,159.6 692.6,161.1 692.6,162.7 692.6,164.2 692.6,165.7 692.6,167.2 692.6,168.7 692.6,170.2 692.5,171.7 692.4,173.2 692.2,174.7 692.1,176.2 691.9,177.7 691.8,179.2 691.6,180.7 691.5,182.2 691.4,183.7 691.2,185.2 691.1,186.7 690.9,188.2 690.7,189.7 690.6,191.2 690.4,192.7 690.2,194.2 690.1,195.7 689.9,197.2 689.7,198.7 689.5,200.2 689.3,201.7 689.1,203.2 688.8,204.7 688.6,206.2 688.4,207.7 688.2,209.2 687.9,210.7 687.7,212.2 687.4,213.7 687.2,215.2 686.9,216.7 686.6,218.2 686.3,219.6 686,221.1 685.6,222.6 685.3,224 684.9,225.4 684.4,226.9 683.9,228.2 683.4,229.6 682.8,231 682.1,232.4 681.5,233.7 680.8,235.1 680.1,236.5 679.4,237.8 678.7,239.2 678,240.5 677.3,241.9 676.7,243.3 676.1,244.7 675.6,246.1 675.1,247.5 674.6,248.9 674.1,250.4 673.7,251.8 673.2,253.2 672.8,254.7 672.4,256.1 671.9,257.6 671.5,259 671,260.5 670.6,261.9 670.1,263.4 669.6,264.8 669.2,266.3 668.7,267.8 668.3,269.3 667.8,270.7 667.3,272.2 666.8,273.6 666.3,275 665.8,276.4 665.2,277.8 664.5,279.1 663.8,280.3 663,281.5 662.1,282.7 661.1,283.9 660.1,285.1 659,286.2 657.8,287.2 656.7,288.2 655.5,289.1 654.3,289.9 653,290.6 651.7,291.3 650.3,292 648.9,292.7 647.6,293.3 646.2,294 644.8,294.6 643.4,295.3 642.1,296.1 640.8,296.9 639.6,297.7 638.3,298.5 637,299.3 635.7,300.1 634.5,300.9 633.2,301.8 632,302.7 630.8,303.6 629.5,304.6 628,305.5 626.7,306.5 625.5,307.6 624.8,308.7 624.7,310 624.7,311.6 624.7,313.3 624.6,314.3 623.7,315 622,315.6 620.2,316.1 618.7,316.6 617.3,317.2 615.8,317.7 614.4,318.1 613,318.6 611.5,319" stroke="#000000" stroke-width="4" fill="none" stroke-linejoin="round" stroke-linecap="round"/>
<g transform="translate(1046.3,169)">
<g clip-path="url(#clip)"><path d="M157.4,150.5 161.7,149.3 166.6,147.8 172,145.9 177.7,143.8 183.8,141.4 190,138.7 196.2,135.9 202,133 207.4,130 212.6,126.9 217.5,123.8 222.3,120.6 227.1,117.3 231.7,114 236.2,110.6 240.6,107.1 244.9,103.6 249,100.1 253,96.5 256.7,92.9 260.2,89.3 263.5,85.7 266.7,82 269.7,78.3 272.6,74.6 275.3,70.9 277.7,67.2 280,63.5 282.1,59.7 284,56 285.7,52.3 287.2,48.5 288.4,44.8 289.5,41.1 290.5,37.3 291.5,33.6 292.4,29.9 293.2,26.1 293.9,22.4 294.4,18.7 294.9,14.9 295.2,11.2 295.5,7.5 295.7,3.7 295.8,0 295.7,-3.7 295.5,-7.5 295.2,-11.2 294.9,-14.9 294.4,-18.7 293.9,-22.4 293.2,-26.1 292.4,-29.9 291.5,-33.6 290.5,-37.3 289.5,-41.1 288.4,-44.8 287.2,-48.5 285.7,-52.3 284,-56 282.1,-59.7 280,-63.5 277.7,-67.2 275.3,-70.9 272.6,-74.6 269.7,-78.3 266.7,-82 263.5,-85.7 260.2,-89.3 256.7,-92.9 253,-96.5 249,-100.1 244.9,-103.6 240.6,-107.1 236.2,-110.6 231.7,-114 227.1,-117.3 222.3,-120.6 217.5,-123.8 212.6,-126.9 207.4,-130 202,-133 196.2,-135.9 190,-138.7 183.8,-141.4 177.7,-143.8 172,-145.9 166.6,-147.8 161.7,-149.3 157.4,-150.5 -157.4,-150.5 -161.7,-149.3 -166.6,-147.8 -172,-145.9 -177.7,-143.8 -183.8,-141.4 -190,-138.7 -196.2,-135.9 -202,-133 -207.4,-130 -212.6,-126.9 -217.5,-123.8 -222.3,-120.6 -227.1,-117.3 -231.7,-114 -236.2,-110.6 -240.6,-107.1 -244.9,-103.6 -249,-100.1 -253,-96.5 -256.7,-92.9 -260.2,-89.3 -263.5,-85.7 -266.7,-82 -269.7,-78.3 -272.6,-74.6 -275.3,-70.9 -277.7,-67.2 -280,-63.5 -282.1,-59.7 -284,-56 -285.7,-52.3 -287.2,-48.5 -288.4,-44.8 -289.5,-41.1 -290.5,-37.3 -291.5,-33.6 -292.4,-29.9 -293.2,-26.1 -293.9,-22.4 -294.4,-18.7 -294.9,-14.9 -295.2,-11.2 -295.5,-7.5 -295.7,-3.7 -295.8,0 -295.7,3.7 -295.5,7.5 -295.2,11.2 -294.9,14.9 -294.4,18.7 -293.9,22.4 -293.2,26.1 -292.4,29.9 -291.5,33.6 -290.5,37.3 -289.5,41.1 -288.4,44.8 -287.2,48.5 -285.7,52.3 -284,56 -282.1,59.7 -280,63.5 -277.7,67.2 -275.3,70.9 -272.6,74.6 -269.7,78.3 -266.7,82 -263.5,85.7 -260.2,89.3 -256.7,92.9 -253,96.5 -249,100.1 -244.9,103.6 -240.6,107.1 -236.2,110.6 -231.7,114 -227.1,117.3 -222.3,120.6 -217.5,123.8 -212.6,126.9 -207.4,130 -202,133 -196.2,135.9 -190,138.7 -183.8,141.4 -177.7,143.8 -172,145.9 -166.6,147.8 -161.7,149.3 -157.4,150.5z" fill="#fff"/><use href="#land"/>
<use href="#t1"/>
<use href="#grid"/><use href="#coast"/><use href="#lakes"/>
<path d="M205.7-101.1h0m-4.8,4.7h0m4.8,4.7h0m-371.7,9.5h0m-14.3,4.7h0m9.6,0h0m9.5,0h0m9.5,0h0m19.1,0h0m-33.4,4.7h0m9.6,0h0m19,0h0m305,0h0m-366.9,4.7h0m9.5,0h0m28.6,0h0m324,0h0m-366.9,4.8h0m9.6,0h0m19,0h0m9.5,0h0m28.6,0h0m28.6,0h0m-81,4.7h0m9.5,0h0m9.6,0h0m28.6,0h0m19,0h0m9.5,0h0m9.6,0h0m-90.5,4.7h0m19,0h0m9.5,0h0m28.6,0h0m-52.4,4.7h0m9.5,0h0m9.6,0h0m38.1,0h0m19,0h0m-80.9,4.7h0m247.7,0h0m28.6,0h0m-23.8,4.8h0m9.5,0h0m9.5,0h0m9.6,0h0m9.5,0h0m9.5,0h0m-52.4,4.7h0m9.6,0h0m9.5,0h0m9.5,0h0m-366.9,4.7h0m9.5,0h0m9.6,0h0m9.5,0h0m9.5,0h0m-33.3,4.7h0m9.5,0h0m9.5,0h0m9.6,0h0m9.5,0h0m38.1,0h0m-81,4.7h0m9.5,0h0m9.6,0h0m9.5,0h0m9.5,0h0m9.6,0h0m9.5,0h0m9.5,0h0m9.5,0h0m228.8,0h0m9.5,0h0m-300.2,4.8h0m9.5,0h0m9.6,0h0m9.5,0h0m9.5,0h0m9.6,0h0m209.6,0h0m19.1,0h0m9.5,0h0m19.1,0h0m200.1,0h0m9.5,0h0m19.1,0h0m9.5,0h0m-290.7,4.7h0m47.7,0h0m9.5,0h0m190.6,0h0m19.1,0h0m38.1,0h0m-309.7,4.7h0m19,0h0m9.6,0h0m19,0h0m-166.7,4.7h0m123.8,0h0m9.6,0h0m9.5,0h0m-185.8,4.7h0m28.6,0h0m9.5,0h0m9.5,0h0m143,0h0m123.9,0h0m9.5,0h0m-100.1,4.8h0m95.3,0h0m9.6,0h0m9.5,0h0m9.5,0h0m-33.3,4.7h0m9.5,0h0m9.5,0h0m9.6,0h0m9.5,0h0m-443.2,4.7h0m19.1,0h0m9.5,0h0m371.7,0h0m9.5,0h0m9.6,0h0m9.5,0h0m9.5,0h0m19.1,0h0m-462.2,4.7h0m38.1,0h0m362.1,0h0m9.6,0h0m9.5,0h0m9.5,0h0m9.6,0h0m9.5,0h0m19,0h0m85.8,0h0m-557.5,4.7h0m19.1,0h0m9.5,0h0m9.5,0h0m9.6,0h0m362.1,0h0m9.5,0h0m9.6,0h0m9.5,0h0m104.8,0h0m9.5,0h0m-547.9,4.8h0m19,0h0m447.9,0h0m-471.7,4.7h0m19.1,0h0m19,0h0m9.6,0h0m428.8,0h0m-462.2,4.7h0m9.5,0h0m9.6,0h0m438.3,0h0m9.6,0h0m-462.2,4.7h0m9.5,0h0m9.5,0h0m9.6,0h0m419.3,0h0m9.5,0h0m-452.7,4.7h0m9.6,0h0m438.3,0h0m-462.2,4.8h0m9.6,0h0m9.5,0h0m9.5,0h0m443.2,4.7h0m-4.8,4.7h0m-419.3,9.4h0m9.5,0h0m9.5,0h0m-23.8,4.8h0m9.6,0h0m9.5,0h0m285.9,9.4h0m-4.8,4.7h0m9.5,0h0m9.6,0h0m9.5,0h0m9.5,0h0m-319.2,4.7h0m247.8,0h0m9.5,0h0m9.5,0h0m9.6,0h0m9.5,0h0m9.5,0h0m9.6,0h0m9.5,0h0m9.5,0h0m-319.3,4.8h0m123.9,0h0m114.4,0h0m9.5,0h0m9.6,0h0m9.5,0h0m9.5,0h0m9.5,0h0m9.6,0h0m9.5,0h0m9.5,0h0m9.6,0h0m-90.6,4.7h0m9.6,0h0m9.5,0h0m9.5,0h0m9.6,0h0m9.5,0h0m9.5,0h0m9.6,0h0m9.5,0h0m9.5,0h0m9.5,0h0m-195.3,4.7h0m95.3,0h0m9.5,0h0m9.5,0h0m9.6,0h0m9.5,0h0m9.5,0h0m9.5,0h0m9.6,0h0m9.5,0h0m9.5,0h0m9.6,0h0m-290.7,4.7h0m9.5,0h0m47.7,0h0m28.6,0h0m9.5,0h0m9.5,0h0m9.6,0h0m85.7,0h0m9.6,0h0m9.5,0h0m9.5,0h0m9.6,0h0m9.5,0h0m9.5,0h0m9.6,0h0m9.5,0h0m9.5,0h0m9.5,0h0m-328.8,4.7h0m9.6,0h0m19,0h0m9.6,0h0m9.5,0h0m9.5,0h0m9.6,0h0m9.5,0h0m9.5,0h0m9.5,0h0m9.6,0h0m9.5,0h0m9.5,0h0m9.6,0h0m9.5,0h0m9.5,0h0m19.1,0h0m66.7,0h0m9.5,0h0m9.6,0h0m9.5,0h0m9.5,0h0m9.5,0h0m9.6,0h0m9.5,0h0m9.5,0h0m9.6,0h0m57.1,0h0m-385.9,4.8h0m9.5,0h0m9.6,0h0m9.5,0h0m9.5,0h0m9.5,0h0m9.6,0h0m9.5,0h0m9.5,0h0m9.6,0h0m9.5,0h0m9.5,0h0m9.6,0h0m9.5,0h0m9.5,0h0m9.5,0h0m19.1,0h0m9.5,0h0m38.1,0h0m47.7,0h0m9.5,0h0m28.6,0h0m9.6,0h0m9.5,0h0m9.5,0h0m38.1,0h0m9.6,0h0m9.5,0h0m9.5,0h0m-376.4,4.7h0m9.5,0h0m9.5,0h0m9.6,0h0m9.5,0h0m9.5,0h0m19.1,0h0m9.5,0h0m9.5,0h0m9.6,0h0m9.5,0h0m9.5,0h0m9.6,0h0m9.5,0h0m9.5,0h0m9.5,0h0m9.6,0h0m19,0h0m9.6,0h0m104.8,0h0m9.5,0h0m57.2,0h0m9.5,0h0m9.6,0h0m9.5,0h0m-376.4,4.7h0m9.5,0h0m9.5,0h0m19.1,0h0m9.5,0h0m9.6,0h0m19,0h0m9.6,0h0m9.5,0h0m9.5,0h0m9.5,0h0m9.6,0h0m19,0h0m9.6,0h0m19,0h0m9.5,0h0m19.1,0h0m9.5,0h0m-204.9,4.7h0m9.6,0h0m9.5,0h0m9.5,0h0m9.6,0h0m38.1,0h0m9.5,0h0m9.5,0h0m9.6,0h0m9.5,0h0m19,0h0m9.6,0h0m9.5,0h0m9.5,0h0m38.2,0h0m-185.9,4.7h0m19.1,0h0m38.1,0h0m9.6,0h0m9.5,0h0m9.5,0h0m9.5,0h0m28.6,0h0m9.6,0h0m9.5,0h0" stroke="#000" stroke-width="2.2" stroke-linecap="round" fill="none"/>
</g><use href="#outl"/></g>
<text x="1046.3" y="10.8" font-size="13.8" text-anchor="middle" xml:space="preserve">TREFHT: CESM3dev_235pi PatCor vs Obs =0.99</text>
<rect x="784.4" y="338.7" width="23.81" height="8.6" fill="#0a0aff" stroke="#000" stroke-width="1.2"/><rect x="808.21" y="338.7" width="23.81" height="8.6" fill="#1e3cf5" stroke="#000" stroke-width="1.2"/><rect x="832.02" y="338.7" width="23.81" height="8.6" fill="#3250eb" stroke="#000" stroke-width="1.2"/><rect x="855.83" y="338.7" width="23.81" height="8.6" fill="#3c6ee1" stroke="#000" stroke-width="1.2"/><rect x="879.64" y="338.7" width="23.81" height="8.6" fill="#2d82eb" stroke="#000" stroke-width="1.2"/><rect x="903.45" y="338.7" width="23.81" height="8.6" fill="#1e96f5" stroke="#000" stroke-width="1.2"/><rect x="927.26" y="338.7" width="23.81" height="8.6" fill="#14aaf8" stroke="#000" stroke-width="1.2"/><rect x="951.07" y="338.7" width="23.81" height="8.6" fill="#0ac3fa" stroke="#000" stroke-width="1.2"/><rect x="974.88" y="338.7" width="23.81" height="8.6" fill="#50c3f0" stroke="#000" stroke-width="1.2"/><rect x="998.69" y="338.7" width="23.81" height="8.6" fill="#8ccdf0" stroke="#000" stroke-width="1.2"/><rect x="1022.5" y="338.7" width="23.81" height="8.6" fill="#ffffff" stroke="#000" stroke-width="1.2"/><rect x="1046.31" y="338.7" width="23.81" height="8.6" fill="#ffffff" stroke="#000" stroke-width="1.2"/><rect x="1070.12" y="338.7" width="23.81" height="8.6" fill="#fff58c" stroke="#000" stroke-width="1.2"/><rect x="1093.93" y="338.7" width="23.81" height="8.6" fill="#ffe650" stroke="#000" stroke-width="1.2"/><rect x="1117.74" y="338.7" width="23.81" height="8.6" fill="#ffcd1e" stroke="#000" stroke-width="1.2"/><rect x="1141.55" y="338.7" width="23.81" height="8.6" fill="#ffb40a" stroke="#000" stroke-width="1.2"/><rect x="1165.36" y="338.7" width="23.81" height="8.6" fill="#ff9600" stroke="#000" stroke-width="1.2"/><rect x="1189.17" y="338.7" width="23.81" height="8.6" fill="#ff7d00" stroke="#000" stroke-width="1.2"/><rect x="1212.98" y="338.7" width="23.81" height="8.6" fill="#ff5500" stroke="#000" stroke-width="1.2"/><rect x="1236.79" y="338.7" width="23.81" height="8.6" fill="#ff1e0a" stroke="#000" stroke-width="1.2"/><rect x="1260.6" y="338.7" width="23.81" height="8.6" fill="#f00000" stroke="#000" stroke-width="1.2"/><rect x="1284.41" y="338.7" width="23.81" height="8.6" fill="#d20000" stroke="#000" stroke-width="1.2"/><text transform="translate(808.21,370.8) scale(1,1.075)" font-size="21" text-anchor="middle">220</text><text transform="translate(855.83,370.8) scale(1,1.075)" font-size="21" text-anchor="middle">230</text><text transform="translate(903.45,370.8) scale(1,1.075)" font-size="21" text-anchor="middle">240</text><text transform="translate(951.07,370.8) scale(1,1.075)" font-size="21" text-anchor="middle">250</text><text transform="translate(998.69,370.8) scale(1,1.075)" font-size="21" text-anchor="middle">260</text><text transform="translate(1046.31,370.8) scale(1,1.075)" font-size="21" text-anchor="middle">270</text><text transform="translate(1093.93,370.8) scale(1,1.075)" font-size="21" text-anchor="middle">280</text><text transform="translate(1141.55,370.8) scale(1,1.075)" font-size="21" text-anchor="middle">290</text><text transform="translate(1189.17,370.8) scale(1,1.075)" font-size="21" text-anchor="middle">300</text><text transform="translate(1236.79,370.8) scale(1,1.075)" font-size="21" text-anchor="middle">310</text><text transform="translate(1284.41,370.8) scale(1,1.075)" font-size="21" text-anchor="middle">320</text>
<path d="M1342.1,18.8H1442.4V319.2H1342.1M1342.1,19.8v-10.4M1342.1,318.2v10.6M1362.16,19.8v-10.4M1362.16,318.2v10.6M1382.22,19.8v-10.4M1382.22,318.2v10.6M1402.28,19.8v-10.4M1402.28,318.2v10.6M1422.34,19.8v-10.4M1422.34,318.2v10.6M1442.4,19.8v-10.4M1442.4,318.2v10.6M1441.4,57.84h10.4M1441.4,112.41h10.4M1441.4,168.4h10.4M1441.4,224.39h10.4M1441.4,278.96h10.4" stroke="#000" stroke-width="2" fill="none" stroke-linecap="butt"/><text x="1460" y="63.14" font-size="14.5">60N</text><text x="1460" y="117.71" font-size="14.5">30N</text><text x="1460" y="173.7" font-size="14.5">0</text><text x="1460" y="229.69" font-size="14.5">30S</text><text x="1460" y="284.26" font-size="14.5">60S</text><text x="1342.1" y="345" font-size="12" text-anchor="middle">200</text><text x="1382.22" y="345" font-size="12" text-anchor="middle">240</text><text x="1422.34" y="345" font-size="12" text-anchor="middle">280</text><text x="1392.25" y="7.8" font-size="9" text-anchor="middle">K</text>
<path d="M1392.5,22.9 1391.8,24.5 1391.3,26.1 1390.8,27.6 1390.9,29.1 1391.4,30.4 1391.3,31.7 1392,32.9 1393.3,34.1 1394.4,35.2 1395.5,36.4 1396.5,37.5 1397.3,38.7 1398.2,39.8 1399.3,41 1400.3,42.2 1401.3,43.3 1402.2,44.5 1403.1,45.6 1404.1,46.8 1405.2,48 1406.3,49.1 1407.3,50.2 1408.4,51.4 1409.4,52.5 1410.6,53.6 1412.1,54.7 1412.8,55.8 1413.2,57 1413.9,58.2 1414.8,59.5 1415.5,60.9 1415.9,62.3 1416.3,63.8 1416.5,65.3 1416.7,66.9 1417,68.4 1417.4,69.9 1417.7,71.4 1418.1,72.8 1418.8,74.2 1419.7,75.6 1420.3,77 1420.6,78.4 1421.2,79.8 1422.1,81.2 1422.7,82.6 1423.2,84 1423.4,85.4 1423.6,86.9 1424.2,88.4 1424.1,89.9 1424.1,91.5 1424.6,93 1424.7,94.6 1424.8,96.1 1425.2,97.7 1425.3,99.2 1425.2,100.6 1425.3,102.1 1425.7,103.5 1426.2,104.8 1426.8,106.1 1427.7,107.4 1428.7,108.6 1429.6,109.8 1430.3,111.1 1431.1,112.3 1432.2,113.6 1433.3,115 1434,116.3 1434.8,117.7 1435.2,119.1 1436,120.5 1436.7,121.9 1436.9,123.3 1437.2,124.7 1437.8,126.2 1438.1,127.6 1438.1,129.1 1438.2,130.6 1438.2,132.1 1438.4,133.6 1438.6,135.1 1438.5,136.7 1438.6,138.2 1438.7,139.7 1438.8,141.3 1439.1,142.8 1439,144.3 1439.1,145.9 1439.1,147.4 1438.9,148.9 1438.9,150.4 1438.7,151.9 1438.7,153.5 1438.6,155 1438.4,156.5 1438.3,158 1438.2,159.5 1438,161 1438.1,162.5 1438.4,164.1 1438.7,165.6 1439,167 1439.5,168.5 1439.8,170 1439.7,171.5 1440.2,173 1440.4,174.5 1440.5,176 1440.7,177.5 1440.7,179 1440.8,180.6 1441,182.1 1441.3,183.6 1441.2,185.1 1441.5,186.6 1441.8,188.1 1441.6,189.6 1441.4,191.2 1441.3,192.7 1441.2,194.2 1441.1,195.7 1441,197.2 1440.6,198.7 1440.2,200.2 1439.9,201.7 1439.5,203.2 1439.3,204.7 1439.2,206.2 1439.2,207.7 1439.2,209.2 1438.8,210.7 1438.5,212.2 1438.3,213.8 1438.3,215.3 1438.1,216.8 1437.7,218.3 1437.3,219.8 1436.9,221.3 1436.7,222.7 1436.5,224.2 1436.1,225.6 1435.6,227.1 1435.1,228.5 1434.7,229.9 1434.2,231.3 1433.7,232.6 1432.9,234 1432.1,235.4 1431.3,236.7 1430.7,238.1 1429.8,239.5 1429.2,240.8 1428.6,242.2 1427.9,243.6 1427.4,245 1426.9,246.4 1426.1,247.8 1425.1,249.1 1424.2,250.5 1423.7,251.9 1422.8,253.3 1422.4,254.7 1422.3,256.2 1421.9,257.6 1422.2,259.1 1422.6,260.6 1422.9,262.1 1422.9,263.6 1422.9,265.1 1422.9,266.6 1422.4,268 1422.1,269.5 1421.7,271" stroke="#ff0000" stroke-width="4" fill="none" stroke-linejoin="round" stroke-linecap="round"/>
<path d="M1412.8,280 1411.7,281.3 1410.6,282.5 1409.6,283.5 1408.3,284.3 1407,284.9 1405.7,285.4 1404.3,285.9 1402.9,286.4 1401.4,286.8 1399.9,287.2 1398.2,287.6 1396.7,288.1 1395.4,288.6 1393.7,289 1392.1,289.5 1390.6,289.9 1389.1,290.3 1387.6,290.8 1385.9,291.3 1384.6,291.8 1383.3,292.4 1381.7,293.1 1380.4,293.8 1379.1,294.7 1377.7,295.7 1376.5,296.8 1375.5,298 1374.7,299.2 1374.4,300.6 1374.1,302.1 1373.4,303.7 1373.3,305.4 1373.7,306.9 1373.7,308.6 1373.8,310.2 1374,311.7 1373.5,312.9 1372.1,314 1370.6,315 1369.4,315.8 1367.9,316.5 1366.3,317.2 1364.8,317.8 1363.5,318.3 1362.1,318.7 1360.6,319" stroke="#ff0000" stroke-width="4" fill="none" stroke-linejoin="round" stroke-linecap="round"/>
<path d="M1397,19.5 1397.5,21 1398,22.4 1398.5,23.8 1399.1,25.2 1399.8,26.6 1400.5,27.9 1401.2,29.1 1402,30.4 1402.9,31.6 1403.8,32.8 1404.7,34 1405.7,35.2 1406.7,36.4 1407.7,37.6 1408.6,38.8 1409.6,40 1410.5,41.2 1411.4,42.4 1412.3,43.6 1413.2,44.9 1414.1,46.1 1415,47.4 1415.8,48.6 1416.6,49.9 1417.3,51.2 1418,52.5 1418.6,53.9 1419.1,55.3 1419.7,56.7 1420.2,58.1 1420.6,59.6 1421.1,61 1421.6,62.5 1422.1,64 1422.6,65.4 1423.1,66.8 1423.6,68.2 1424.2,69.7 1424.7,71.1 1425.3,72.5 1425.9,73.9 1426.5,75.2 1427.1,76.6 1427.7,78 1428.3,79.4 1428.9,80.8 1429.4,82.2 1430,83.6 1430.6,85 1431.2,86.4 1431.8,87.8 1432.4,89.2 1433,90.6 1433.6,92 1434.2,93.4 1434.8,94.8 1435.4,96.2 1435.9,97.6 1436.4,99 1436.8,100.5 1437.2,101.9 1437.7,103.4 1438.1,104.8 1438.5,106.3 1438.8,107.8 1439.2,109.2 1439.5,110.7 1439.8,112.2 1440.1,113.7 1440.3,115.2 1440.5,116.7 1440.7,118.2 1440.8,119.7 1441,121.2 1441.1,122.7 1441.2,124.2 1441.4,125.7 1441.5,127.2 1441.6,128.8 1441.7,130.3 1441.7,131.8 1441.8,133.3 1441.8,134.8 1441.8,136.3 1441.8,137.8 1441.8,139.4 1441.9,140.9 1441.9,142.4 1441.9,143.9 1441.9,145.4 1441.9,146.9 1441.9,148.4 1441.9,150 1441.9,151.5 1442,153 1442,154.5 1442,156 1442,157.5 1442,159.1 1442,160.6 1442,162.1 1442,163.6 1442,165.1 1442,166.6 1442,168.1 1442,169.6 1441.9,171.1 1441.9,172.7 1441.8,174.2 1441.7,175.7 1441.5,177.2 1441.4,178.7 1441.2,180.2 1441,181.7 1440.9,183.2 1440.7,184.7 1440.5,186.2 1440.3,187.7 1440.1,189.2 1439.9,190.7 1439.7,192.2 1439.5,193.7 1439.3,195.2 1439,196.7 1438.8,198.2 1438.5,199.7 1438.2,201.2 1437.9,202.7 1437.6,204.2 1437.3,205.7 1437,207.2 1436.7,208.7 1436.3,210.2 1436,211.6 1435.6,213.1 1435.2,214.6 1434.8,216 1434.4,217.5 1434,219 1433.6,220.4 1433.2,221.9 1432.8,223.3 1432.4,224.7 1431.9,226.2 1431.4,227.6 1430.9,229 1430.3,230.4 1429.7,231.7 1429,233.1 1428.4,234.5 1427.7,235.9 1427,237.2 1426.4,238.6 1425.7,240 1425.1,241.4 1424.5,242.8 1423.9,244.2 1423.3,245.6 1422.9,247 1422.4,248.4 1421.9,249.9 1421.5,251.3 1421.1,252.8 1420.6,254.2 1420.2,255.7 1419.8,257.1 1419.4,258.6 1418.9,260.1 1418.5,261.5 1418,263 1417.6,264.4 1417.2,265.8 1416.7,267.3 1416.3,268.7 1415.8,270.2 1415.4,271.6 1414.9,273.1 1414.4,274.5 1414,276 1413.5,277.4 1412.9,278.8 1412.4,280.2 1411.9,281.6 1411.3,283.1 1410.7,284.5 1410.1,285.9 1409.4,287.2 1408.7,288.5 1407.9,289.7 1406.9,290.9 1405.9,292 1404.8,293.1 1403.8,294.2 1402.7,295.3 1401.6,296.4 1400.6,297.5 1399.5,298.7 1398.5,299.9 1397.5,301.1 1396.4,302.2 1395.3,303.2 1394.1,303.9 1392.9,304.5 1391.5,305.1 1390.2,305.7 1388.7,306.1 1387.2,306.5 1385.6,306.8 1384,307" stroke="#0000ff" stroke-width="4" fill="none" stroke-linejoin="round" stroke-linecap="round"/>
<path d="M1396.5,18.8 1396.5,20.4 1396.6,21.9 1396.7,23.4 1396.8,24.9 1397,26.3 1397.2,27.7 1397.7,29.1 1398.4,30.4 1399.2,31.7 1400.1,33 1401.1,34.3 1402,35.6 1402.9,36.8 1403.7,38.1 1404.5,39.4 1405.3,40.6 1406.1,41.9 1407,43.2 1407.8,44.4 1408.7,45.7 1409.5,46.9 1410.4,48.2 1411.2,49.4 1412,50.7 1412.9,51.9 1413.8,53.2 1414.7,54.4 1415.7,55.7 1416.5,56.9 1417.4,58.2 1418.1,59.5 1418.7,60.8 1419.2,62.2 1419.5,63.6 1419.8,65.1 1420,66.6 1420.2,68.1 1420.5,69.7 1420.7,71.2 1421,72.6 1421.4,74.1 1421.8,75.5 1422.4,76.8 1423.1,78.2 1423.9,79.5 1424.6,80.8 1425.4,82.2 1426.1,83.5 1426.8,84.9 1427.4,86.2 1428,87.6 1428.5,89 1429,90.5 1429.5,91.9 1430,93.3 1430.5,94.7 1431,96.2 1431.4,97.6 1431.9,99.1 1432.4,100.5 1432.9,101.9 1433.5,103.3 1434,104.7 1434.6,106.1 1435.1,107.6 1435.6,109 1436.1,110.4 1436.6,111.8 1437.1,113.3 1437.5,114.7 1437.8,116.2 1438.2,117.6 1438.6,119.1 1438.9,120.6 1439.2,122 1439.5,123.5 1439.8,125 1440.1,126.5 1440.3,128 1440.4,129.5 1440.6,131 1440.7,132.5 1440.9,134 1441,135.5 1441.1,137 1441.2,138.5 1441.3,140 1441.4,141.5 1441.5,143 1441.6,144.5 1441.6,146.1 1441.6,147.6 1441.6,149.1 1441.6,150.6 1441.6,152.1 1441.6,153.6 1441.6,155.1 1441.6,156.6 1441.6,158.1 1441.6,159.6 1441.6,161.1 1441.6,162.7 1441.6,164.2 1441.6,165.7 1441.6,167.2 1441.6,168.7 1441.6,170.2 1441.5,171.7 1441.4,173.2 1441.2,174.7 1441.1,176.2 1440.9,177.7 1440.8,179.2 1440.6,180.7 1440.5,182.2 1440.4,183.7 1440.2,185.2 1440.1,186.7 1439.9,188.2 1439.7,189.7 1439.6,191.2 1439.4,192.7 1439.2,194.2 1439.1,195.7 1438.9,197.2 1438.7,198.7 1438.5,200.2 1438.3,201.7 1438.1,203.2 1437.8,204.7 1437.6,206.2 1437.4,207.7 1437.2,209.2 1436.9,210.7 1436.7,212.2 1436.4,213.7 1436.2,215.2 1435.9,216.7 1435.6,218.2 1435.3,219.6 1435,221.1 1434.6,222.6 1434.3,224 1433.9,225.4 1433.4,226.9 1432.9,228.2 1432.4,229.6 1431.8,231 1431.1,232.4 1430.5,233.7 1429.8,235.1 1429.1,236.5 1428.4,237.8 1427.7,239.2 1427,240.5 1426.3,241.9 1425.7,243.3 1425.1,244.7 1424.6,246.1 1424.1,247.5 1423.6,248.9 1423.1,250.4 1422.7,251.8 1422.2,253.2 1421.8,254.7 1421.4,256.1 1420.9,257.6 1420.5,259 1420,260.5 1419.6,261.9 1419.1,263.4 1418.6,264.8 1418.2,266.3 1417.7,267.8 1417.3,269.3 1416.8,270.7 1416.3,272.2 1415.8,273.6 1415.3,275 1414.8,276.4 1414.2,277.8 1413.5,279.1 1412.8,280.3 1412,281.5 1411.1,282.7 1410.1,283.9 1409.1,285.1 1408,286.2 1406.8,287.2 1405.7,288.2 1404.5,289.1 1403.3,289.9 1402,290.6 1400.7,291.3 1399.3,292 1397.9,292.7 1396.6,293.3 1395.2,294 1393.8,294.6 1392.4,295.3 1391.1,296.1 1389.8,296.9 1388.6,297.7 1387.3,298.5 1386,299.3 1384.7,300.1 1383.5,300.9 1382.2,301.8 1381,302.7 1379.8,303.6 1378.5,304.6 1377,305.5 1375.7,306.5 1374.5,307.6 1373.8,308.7 1373.7,310 1373.7,311.6 1373.7,313.3 1373.6,314.3 1372.7,315 1371,315.6 1369.2,316.1 1367.7,316.6 1366.3,317.2 1364.8,317.7 1363.4,318.1 1362,318.6 1360.5,319" stroke="#000000" stroke-width="4" fill="none" stroke-linejoin="round" stroke-linecap="round"/>
<g transform="translate(297.3,573.8)">
<g clip-path="url(#clip)"><path d="M157.4,150.5 161.7,149.3 166.6,147.8 172,145.9 177.7,143.8 183.8,141.4 190,138.7 196.2,135.9 202,133 207.4,130 212.6,126.9 217.5,123.8 222.3,120.6 227.1,117.3 231.7,114 236.2,110.6 240.6,107.1 244.9,103.6 249,100.1 253,96.5 256.7,92.9 260.2,89.3 263.5,85.7 266.7,82 269.7,78.3 272.6,74.6 275.3,70.9 277.7,67.2 280,63.5 282.1,59.7 284,56 285.7,52.3 287.2,48.5 288.4,44.8 289.5,41.1 290.5,37.3 291.5,33.6 292.4,29.9 293.2,26.1 293.9,22.4 294.4,18.7 294.9,14.9 295.2,11.2 295.5,7.5 295.7,3.7 295.8,0 295.7,-3.7 295.5,-7.5 295.2,-11.2 294.9,-14.9 294.4,-18.7 293.9,-22.4 293.2,-26.1 292.4,-29.9 291.5,-33.6 290.5,-37.3 289.5,-41.1 288.4,-44.8 287.2,-48.5 285.7,-52.3 284,-56 282.1,-59.7 280,-63.5 277.7,-67.2 275.3,-70.9 272.6,-74.6 269.7,-78.3 266.7,-82 263.5,-85.7 260.2,-89.3 256.7,-92.9 253,-96.5 249,-100.1 244.9,-103.6 240.6,-107.1 236.2,-110.6 231.7,-114 227.1,-117.3 222.3,-120.6 217.5,-123.8 212.6,-126.9 207.4,-130 202,-133 196.2,-135.9 190,-138.7 183.8,-141.4 177.7,-143.8 172,-145.9 166.6,-147.8 161.7,-149.3 157.4,-150.5 -157.4,-150.5 -161.7,-149.3 -166.6,-147.8 -172,-145.9 -177.7,-143.8 -183.8,-141.4 -190,-138.7 -196.2,-135.9 -202,-133 -207.4,-130 -212.6,-126.9 -217.5,-123.8 -222.3,-120.6 -227.1,-117.3 -231.7,-114 -236.2,-110.6 -240.6,-107.1 -244.9,-103.6 -249,-100.1 -253,-96.5 -256.7,-92.9 -260.2,-89.3 -263.5,-85.7 -266.7,-82 -269.7,-78.3 -272.6,-74.6 -275.3,-70.9 -277.7,-67.2 -280,-63.5 -282.1,-59.7 -284,-56 -285.7,-52.3 -287.2,-48.5 -288.4,-44.8 -289.5,-41.1 -290.5,-37.3 -291.5,-33.6 -292.4,-29.9 -293.2,-26.1 -293.9,-22.4 -294.4,-18.7 -294.9,-14.9 -295.2,-11.2 -295.5,-7.5 -295.7,-3.7 -295.8,0 -295.7,3.7 -295.5,7.5 -295.2,11.2 -294.9,14.9 -294.4,18.7 -293.9,22.4 -293.2,26.1 -292.4,29.9 -291.5,33.6 -290.5,37.3 -289.5,41.1 -288.4,44.8 -287.2,48.5 -285.7,52.3 -284,56 -282.1,59.7 -280,63.5 -277.7,67.2 -275.3,70.9 -272.6,74.6 -269.7,78.3 -266.7,82 -263.5,85.7 -260.2,89.3 -256.7,92.9 -253,96.5 -249,100.1 -244.9,103.6 -240.6,107.1 -236.2,110.6 -231.7,114 -227.1,117.3 -222.3,120.6 -217.5,123.8 -212.6,126.9 -207.4,130 -202,133 -196.2,135.9 -190,138.7 -183.8,141.4 -177.7,143.8 -172,145.9 -166.6,147.8 -161.7,149.3 -157.4,150.5z" fill="#fff"/><use href="#land"/>
<path d="M-38.4,100.1l41.2,0.2 44,1.1 19.2,0.1 80.4-3.2 6.1-0.7 29.8-0.5 11.8-0.7 14.4-1.6 11.6-1.9 32.2-6.1 6.5-0.7 4.3,0 6.6-7.8 5.6-7.4 4.7-7.4 4-7.5 2.4-5.6 2.6-7.5 3.4-13 1.8-9.4 1.2-11.2 0.4-9.3-0.4-9.3-1-9.4-1.6-9.3-3.3-13.1-2.3-7.4-3.2-7.5-6.3-11.2-6.5-9.3-9.3-11-8.9-9-12.4-10.6-13.5-10.2-14.5-9.6-13.7-7.7-1.8,0.8 0.3,5.5-2.7,4.5 0.3,1.6 1.3,1.6-0.2,0.8-1.1,0.1-3.5-0.8-1.6,0.6-7.2,5.9-1.2,1.7-0.7,2.8-3.9,0.7-1.1,0.9-3.3,7.2-0.9,0.7-4.5,1.4-4.3-0.3-3.7,0.7-5.4,0.4-10.5-1.2-2.2-1.3-6-4.9-2.2-1.2-5.6-2.4-2.9-0.4-2.8,0.4-1.1,1.7 1.5,3.5-0.7,0.2-5.8-0.8-7.3,1.8-5.6-0.4-4,0.3-2.3,1-2.7,3.2-2.2,1.5-2.5,0.8-2.8,0.1-3.2-1-8.3-8.5-2.2-1.4-1.3,0-3.5,1.7-1.3-0.1-6.7-3.9-1.4-0.4-6.4,0.9-10.6-0.3-4.1-0.5-5.2,0.5-5.5-1-10.6-1-14.4-0.3-5.2,0.7-6.7,1.7-4.7,1.7-15.1,6.8-16.5,6.3-6.4,3.8-4.4,0.3-5.6-0.9-1.5,0.3-3.5,2.8-1.6,0.4-7.2-0.3-6.2,1.9-1.7,0.2-7-0.8-11.4,3.4-7.4-0.1-7.7,0.8-5.3-1.4-9.5,1.4-1.4,0-1.2-0.7-2.9-3.3-3.7-3.1-1.2-5.5-0.9-2-0.8-0.9-4.9-3.1-2.1-0.9-2.9,0.1-5.5,1.9-4.5,2.3-1.7,0.4-1.2-0.2-1.4-1.1-0.8-1.8 1.1-5.3-1.8-1.8-1.5,0.1-2,1.7-2.1,3.5-3,1.8-3.4,0.6-2.4-0.4-1.4-1.7-2.2-4.9-0.4-4.1-4.5-4.8-0.5-1.9 0.1-3.9-1.3-0.9-1.3,0.1-3.1,1.4-16.3,9.9-1.7,0.3 0.1-1.1 1.8-2.5 4.2-3.3 16-8.1 2.4-1.5 1.6-1.6-0.5-2.2-2-2.7-1.7-0.9-2.7-0.3-11.1,6.1-9.9,6.3-11.8,8.2-11.1,8.6-8.2,7.1-7.5,7.2-8.2,9.1-5.9,7.4-5.1,7.4-5.3,9.3-3.4,7.5-2.6,7.5-3.4,13-2,11.2-1.2,13.1 0,11.2 0.9,11.2 1.9,11.2 3.3,13.1 3.1,9.3 4.3,9.3 5.6,9.3 5.3,7.5 8.1,9.7 36.9,4.9 25.5,2.4 76.4,1.9 53.5,4zM158.4,85l0-1.2 0.8-1.8 1.8-1.9 1.4,0.1-0.3,1.8-1,1.8-1.1,1zM-145.1,-56l-6.2-0.4-3-0.6-5.7-2.3-2.6-1.6-2.4-2.6-0.5-1.8 0.5-1.9 1.2-1.8 1.7-2 2.1-1.4 1.8-0.6 1.5,0 4,1.6 2.8,0.5 10.9-0.4 9.6-1.4 2.8,0.6 5.4,2.5 1.2,1.1 0.8,1.3-0.1,1.9-1,1.8-1.7,1.9-3.4,2.1-8.6,2.9z" fill="#fff58c"/><path d="M27,85.7l24,1.5 20.3,0.2 27.9-0.6 50.5-1.9 3.1-0.4 2.4-1.8 7.6-8.1 2.8-5.6 4.8-7.4 3.3-7.5 3.2-5.6 0.8-1.8 1.2-5.6 0.7-1.9 1.1-1.3 1.1,3.2-0.9,5.6-3.7,11.2-6.4,13-3.5,5.6-0.7,1.8-0.6,3.6 0.4,2 1.3,0.3 12.2-0.7 34.4-2.9 45.8-5.4 12.6-0.7 5-7.3 4.4-7.5 3.6-7.4 2.1-5.6 3.2-11.2 2.2-9.4 1.5-9.3 0.9-11.2 0.2-7.5-0.7-11.2-1.2-9.3-1.5-7.5-2.9-11.2-2.3-7.4-3.2-7.5-4-7.5-4.7-7.4-5.6-7.4-9.5-11-7.2-7.2-10.2-8.9-11.1-8.6-11.8-8.2-10.4-6.6-1.8,0.3-0.6,1.6 1.9,9.3-0.7,1.4-2.5,1.1-5,1.2-3.4,1.6-13.2,10.8-5.9,8.6-1,0.6-5.2,0.8-10.3-0.5-5.4,0.6-1.5-0.1-5.2-1.5-1.4,0-1.3,0.3-3.1,2-1.4,0.1-5.5-2.2-3.3-0.8-4.2-2.9-5.6,0.4-8.1-2.1-1.1,0.5-0.5,1.2 0.2,3.6-1.1,1.5-5.4,0.7-1.2,0.7-0.5,0.7-0.8,3.5-1.2,1-5.6,0.7-5.4,1.8-1.5-0.2-1.7-1.3-2.1-3.7-1.5-1.8-6.7-3.6-5.8-5.4-1.5-0.4-4,0.7-33.5-0.1-15.3,0.9-71,12.6-10.6,1.5-6.2,1.3-7.3-0.5-7.9,2.1-5.8-0.8-3,0.1-4.7,0.8-5.1,2-7.6,0.3-7,3.2-0.6,1.8 1.3,3.8-0.4,3.7-1.1,1.8-1.7,1.9-3.3,2.6-3.5,1.5-8.4,2.5-9.6,0.6-7.9-0.3-7.4-1.9-5.5-2.6-3-2.4-1.6-1.9-0.9-1.8 0.6-1.9 7.2-6.6 4-2.1 3.3-0.9 1.5,0.2 1.2,0.7 0.9,1.3 1.3,0.6 2.9,0.3 7.9-0.9-0.6-1.9-2.9-0.6-4.5-3.4-2.6-0.6-4.1-3.8-3.9-1-5.3-3.5-1.3-0.3-4.7,0.7-2.9,0-1.3-0.3-4-2.7-2.5-0.5-4.5,0.2-5.2-0.6-3.5,0.9-1.4-0.1-0.9-0.7-2.8-3.6-1.8-1.2-2.4-0.4-3.5,0.7-2.3-0.5-0.7-0.7-0.7-1.6-0.8-3.9 1.2-2.4 4.3-4.2 0.9-1.7-0.1-2-0.8-0.5-2.4,0.8-14.1,8.9-2.6,1.1-1.4,0.1-0.4-0.9 1.5-4 0.9-1.8 1.7-1.7 6.8-5 12.2-6.5 1.4-1.6-1.1-1.5-2.4-1.2-4.6-0.7-12.8,8.2-13.9,10-10.8,8.7-9.7,9-10,10.9-7.3,9.2-6,9.3-4.8,9.4-2.4,5.6-2.3,7.4-2.9,11.2-1.8,9.4-1,9.3-0.6,9.3 0.7,15 2.3,14.9 3.3,13.1 2.3,7.4 2.4,5.6 3.8,7.5 8.3,12.9 14.5,1.2 35.6,5.7 18.8,1.6 17.6-0.2 39.7-3.7 10.3-0.4 68.1,3.5 46,1.2 5.8-0.9 3-0.1 7.4,1.4z" fill="#ffe650"/><path d="M1.3,72.8l42.7,1.5 25.7,0.3 18.4-0.9 43.7-3.8 10.8,0 16.4,1.1 1.6-0.2 2.3-1.8 5.6-7 7.2-14.5 0.9-2.7 1.6-9.3-1.1-5.6 1.8-1.1 1.4,1.4 2.3,5.7 0.7,7-0.6,3.8-2.7,9.3-5.5,13-0.1,1.8 1,1 7.8-0.3 7.4,0.5 39.5-5.3 30.4-1.8 18.8-0.3 6.4-12.3 2.1-5.6 2.2-7.5 3.9-16.8 1.2-9.3 0.6-9.4-0.5-14.9-2-14.9-4.2-16.8-4.2-11.2-4.8-9.4-6-9.3-7.3-9.2-8.8-9.7-2.9-0.1-5.6-1.4-5.9-0.1-8-1-12.4,0.4-10.8,0.7-6.4,0.9-11.3,2.2-3.5,1.1-9.1,4.1-5.2,1.1-7.2,0.5-4.8,1.9-3.2,2.6-9.6,2-8.9,0.3-6.2-0.5-5.8,0.6-3.2-0.4-7.5,0.1-2.5,1.5-3.4,3.5-1.6,0-3.3-1.1-6.1,0.1-1.9-1.6-1.3-2.2-1.1-1-1.6-0.3-4.3,0.8-3.2-0.6-3.6-2.6-4.4-5-4-2.3-4.2-1-8.8-0.5-11.5,0.3-12.9,1.1-36.3,5.7-8.9,1-11.9,0.4-13.6,2.2-22.6,1-6.1,0.7-7.6,0.1-9.2,0.8-6.4,1.7-12.2,0.2-8.3,2.5-4.5-0.1-1.7,0.6-1.6,1.8-1.9,3.7-1.5,1.8-5.7,4.8-3.6,2.2-11.8,3.1-11.2,0.8-7.8-0.5-9.1-1.9-2.8-1.2-5.2-3.6-7-2.4-2.1-1.3-0.9-1.8-0.1-1.9 4.5-5.6 1.6-3.7 3.8-1.8 0-1.9-2.8-0.9-3.3-2.7-3-1.7-1.6-0.2-5.7,2.4-1.6,0.3-8.7-0.3-2.6-0.5-4.4-2.2-3.8-0.9-1.8-1.4-2.6-0.6-4.8,0.6-2.3,1.2-4.2,3.3-1.6,0.6-2.3-0.6-5.1-3.2-2.5-0.5-3,0.1-9.1,2.2-8.9,0.1-1.8-0.6-0.6-1.7 0.9-4.1-8.5,9.5-7.3,9.2-7,11.2-4.7,9.3-3.8,11.2-4.1,16.8-1.9,16.8-0.1,13.1 0.7,9.3 1.3,9.4 4.1,16.8 3.8,11.2 6.4,12.2 9.4,0.2 8.1,0.6 35.4,5.5 17.6,1.4 7.6-0.1 7.3-0.7 38.8-6.6 12.1-1.1 44.1,3 37.6,3.4 5.1-2.9 5.1-1.3 3,1.3 3.7,2.9 3.1,0.7 26.1,1.2 4.5-0.3 4.6-1.3 4.6,2z" fill="#ffcd1e"/><path d="M-68,61.6l4.1,0.8 4.7,0.1 3-0.6 4.5-1.7 6.3,0.5 1.6-0.4 3-1.6 3.1-0.6 42.4,0.4 51.7,1 22-0.4 11.1-1.2 10.1-1.9 11.4-3 20.1-6.5 6.7-1.4 6.5-0.6 4.7,0.5 4.5,1.4 14.3,7.6 1.7-0.7 2.5-3.3 2.6-4.7 1.5-9.3-1.1-3.3-5-6.6-2.9-10.5-0.2-2.5 0.4-2.3 1.7-1.4 1.5,2.4 2,5 5.4,6.3 3,2.6 1.5,2.3 1.6,5.6 0.8,5.6 0.1,5.6-1.3,5.6-0.2,3.7 1.3,1.4 2.6,1.8 1.1,4.3 1.6,1.2 3.2-0.3 1.9-0.9 2.3-1.9 5.4-1.6 4.7-0.1 6.7-1 20.9-5.4 23.8-4.6 9.8-0.6 12.4,1.3 6.3,0.2 3.6-12.4 2.6-11.2 1.5-11.2 0.7-11.2-0.3-9.4-1.3-13-1.8-9.4-3.4-13-3.3-9.4-4.7-9.3-7-11.2-7.4-9.3-5.3,0.8-1.1,0.4-1.8,1.5-1.2,0.4-4.9-2.5-36.6,0.9-12.4,1.4-17.7,3.3-18.9,1.5-5.5,1.4-1.2,0.7-3.3,3.3-1.4,0.4-4.8-0.5-1.5,0.2-2.6,1.3-3.7,2.9-1.5,0.3-8.3-2.2-3.1,0.1-1.4,0.7-1.2,1.2-3,6.7-2.8,3.8-2.2,1.8-1.7,0.6-1.6-0.2-1.7-1-6.5-6.8-1.4-1.1-4.8-2.7-4.4-4.1-5-1.8-7.4-5.7-1.6-0.5-10.6-0.1-18,1.1-31.6,3.3-15.2,1.2-24.6,0.3-26.1,0.8-13.8-0.1-4.7,0.7-5.9-1.6-6.2,0.3-6.3,0.9-4.7,0.2-8,1.4-6.7,2.5-8.6,4-4.9,0.8-3.5,1.9-3.8,3.2-1.8,0.7-16.5,3.5-9.7,0.9-9.3-1.4-7.9,0-2.9-1.3-2.9-3.6-2.1-1.1-2.9-0.7-6.2-0.4-6.9-2.7-2.9-0.5-1.5-2.1-0.5-1.8-1.5-2.7-0.4-2.3-1.1-0.9-4.3-0.6-3.1,0-4.9,0.8-7.2,1.9-3.1,0.1-3.9-1.3-4.2-0.7-2.5-1-0.6-0.8-1.2-3.5-2.1-1.4-5.9-2.2-5.5-0.6-3.6-1.1-11.5,1.3-2.7-0.3-3.3-1.4-7.3,9.2-6,9.3-5.7,11.2-3.8,11.2-4.1,16.8-1.9,16.8-0.1,13.1 1.4,14.9 2.2,11.2 4.6,16.1 8,0.1 6.6,0.7 6.8,1.2 5.4,1.7 4.3-1.4 6.5,0.3 8.7,2.1 6.3,4.1 1.8,0.6 16.6,2.2 7.9,0.2 7.6-0.6 43.7-7.1 12.5-1 16.1,1.1 29.1,3.4 2.2,0.6 4.7,3.7 3.4,0.9 12.4-1.2 3.2,0.5zM167.4,7.9l-1.3-4.2 0.3-1.8 1.2-1.9 1.7-0.4 1.7,2.3 0.4,1.8-0.4,1.9-1.4,1.9-0.6,1.7z" fill="#ffb40a"/><path d="M-72.8,54.1l3.3,1.1 1.6-0.2 6-3.1 1.5-0.9 2.2-2.5 2.2-1.7 3.4-3.9 4.4-1.7 1.5-1.7 1.6-0.6 24.2,2.3 16.1,0.9 22.5-0.2 27.4-1.3 19.4-1.5 13-1.6 39.6-8.6 6.6-2.1 5.1-2.3 3-2.1 1.4-1.9 0.3-1.8-1.4-5.6-0.9-1.9-3.9-5.6-0.1-1.9 1.9-1.8 5.8-1.9 8.1-0.8 8.2,0.4 8.2,1.7 1.6-0.3 6.4-6.6 2.5-3.7 2.3-1.3 1.7,0.2 1.2,1.1 1.3,1.8 0.7,1.9 0.4,5.9 3.1,5.3-0.5,1.9-3.1,3.7-0.4,1.9 0.8,1.8 1.1,1 3.2,1.6 1.2,1.2 0,1.8 0.7,1.9 3.2,5.6-0.1,5.6 1.1,9.5 1.3,1.8 2.9,1.1 4.6,2.5 2.6,0.8 1.6-0.1 1.5-0.7 6.3-5 1.7-0.5 3.2-0.1 1.8-0.8 4-3.5 1.8-1.1 4.7,0.7 5-0.7 20.4-4.9 8.8-3.2 17.8-8.4 3.3-0.7 1.7,0 11,2.6 1.6-13.6 0.4-11.2-1.1-14.9-2.3-13.1-3.4-13-2.6-7.5-3.4-7.5-4.8-8.5-0.6,1.1 1.9,3.8-1.3,0.4-7.7,0.2-1.8,2.8-0.2,2.1 0.2,1.9 1.2,3.7-0.3,1.9-3,5.6-0.3,1.8 0.3,3.8-1.7,0.8-1.1-0.8-3.7-5.7-4.8-3.7-9.1-9.3-5.2-4.4-6.4-3.5-3.4-0.8-7.1-0.6-18.1-0.1-13.6,0.8-25.6,2.2-11.5,3.1-0.9-0.4-2.4-3.8-1.3-0.4-1.5,0.2-1.7,2.1-0.2,1.9 0.4,1.8-2,1.9-4.9,1.8-6.5-0.7-1.5,0.2-1.3,1.3-1.5,3 0.1,7.5-1.6,0.5-3.5-2.3-1.6-0.1-3,1.6-1.7-0.3-5.1-2.9-1.7-0.2-1.5,0.2-4.6,1.7-6.3,1.2-6.4,0.1-11.4-1.3-15.8,3-11.2,0.8-8.1-0.5-8.1-1.8-6.5-2.1-17.9-7-5.8-1.8-6.7-1.6-30.6-4-14.8-1.1-18.7-0.5-3-0.7-1.5-0.8-1.5-0.2-4.9,1.3-4.6-0.2-11.3,1.8-0.9,0.4-0.8,0.9-1.1,2.8-1.3,1.9-1.6,0.6-4.6-1.3-6.7,2.1-1.6,0.1-4.5-1.4-4,3.6-1.4,0.4-8-0.1-6.6,1.2-10.1,3.7-5.2,2.5-1.7,0.2-3.1-0.9-4.3-2.6-1.6-0.1-4.9,0.8-1.6-0.3-6.7-2.9-2.9-4-1.4-0.8-1.5-0.3-4.9,0.6-4.7-0.1-3-0.5-4.3-1.5-4.7-0.3-1.4-0.5-3-4.7-1.2-0.8-7.1-1.6-5,0.6-7.2-1.3-2.6-1-12.1-0.6-13.9,0-9-0.6-1.3-0.3-1.8-2.3-1.2-0.5-2.9-0.2-3.5,0.7-6,2.1-2.8,4.8-3.8,7.5-3,7.4-4.2,15-1.9,9.3-1.3,11.2-0.6,11.2 0.6,11.2 1.3,10.8 6.7,1.6 12.2,4.3 5.8,4 1.7,1.7 3.2,5.4 1.9,1.3 3.5,1.1 3.8,2.1 1.7,0.5 6.7,0.9 5.1,1.3 4,2.5 1.7,0.4 7.2-2.7 1.6-0.1 13.2,1.8 10.7-2 19.7-5.7 10.9-2.4 17.1-4.8 6.3-1.3 19.4-0.6 17.9,0.6 9.8,0.9 3.5,0.8-0.3,1.9-4.3,2.9-1.7,2.7-0.3,1.8 0.4,1.9 0.9,2.1 1.8,1.3 14.5,1.4 6.6,2.4zM-229.6,-11.2l-3.2-0.9-1.6-1-1.8-1.8-0.7-1.9 0.9-1.9 5.8-3.5 1.7-0.5 1.5,0.7 0.8,1.5 0.6,3.7-1,3.7-1.4,1.5z" fill="#ff9600"/><path d="M-77.5,46.7l4,0.3 6.3-1.5 1.5-0.9 3.6-3.5 1.3-1.9 0.5-1.9-0.6-3.7-0.7-1-4.9-0.5-3.3-1.6-4.9-0.1-1.8-0.5-0.9-1.9 1.5-3.7-0.8-1.4-1.1,1.4-0.7,1.8-1.3,0.8-6.4,1.6-2.4,3.2-3.6,3.8-1.4,1.8-0.8,1.9 0.2,1.9 1,1.8 1.8,1.1zM205.9,29.9l1.1,0 1.4-1.9-1.4-3-1.5-0.7-1.2,1.8-0.1,1.9 0.6,1.1zM221.8,22.4l3.6-0.5 3.5-2 2.4-3.1 0.5-1.9-0.7-1.7-1.5-1.4-4.8-2.8-4.7-5.3-1.6-0.9-6.5-2.3-1.7,1-0.7,2.2 0,1.9 1.3,3.7 0.6,3.8 1.5,1.9 3.2,0.8 1.1,1 1.8,3.7 1.4,1.5zM-113.4,16.8l2.1,0 1.6-0.8 1.3-1.1 0.2-0.9 1.6-1.8 5,1 5,1.9 1.6,0.1 4.9-1.4 1.6,0.2 5,1.7 6.5,0.2 3.3-0.3 0.8-0.7 0.1-1.8-2-3.8 0-1.8 2.5-2.6 1.7-0.8 1.6-0.2 9.9,1.1 6.6,3.5 4.9,0.3 1.7,0.5 1.6,1.4 1.7,0.2 3.2-0.8 4.9-2.1 4.5-2.4 3.7-2.8 2.6-2.8 1.2-1.9 1.5-3.7 0.5-3.7-0.5-3.8-1.6-3.7-1.9-2.5-4.2-3.1-4-1.9-6.4-2.2-8.1-2.1-8-1.5-8.1-1-9.7-0.4-9.8,0.3-6.5,0.6-5,2.1-4.9-0.3-3.3,0.4-9.9,2.8-7,5.9-1.6,0.5-1.6-0.3-3.2-2.1-1.8-0.8-3.1,1.9-1.5,3.7 0.1,1.9 1.1,1.8 1.1,3.8 0.2,3.7-3.3,3.7-1.2,1.9 0.2,1.9 1.5,3.7 2.8,3.3 1.7,1.1 1.7,0.5 1.6,0.1 2.3-1.3 0.9-1.3 1.7-0.5 1.6,1 0.6,0.8-0.8,3.8 1.4,1.8zM-110,8.8l-0.9-1.3-1.9-7.5-0.1-1.9 1.2-1.3 1.4-0.5 5.2-1 1.6,0.1 0.9,0.9 0.5,1.8-0.3,1.9-1.9,5.6-2.4,2.5-1.6,0.7zM-62.9,16.8l2.4,1.3 6.5-0.4 1.4-0.9 0.7-1.9-2.2-1-4.9,0.2-3.1,0.8zM-220.8,-5.6l0.7,0.6 1.7-0.6 1.7-1.9 1-1.8 2.3-7.5-0.9-1.8-5.4,5.7-1,1.7-0.8,1.9-0.2,1.8zM-139.2,-7.5l1.2,1.6 1.7-0.1 0.8-1.5 0.1-1.8-0.8-1.4-1.6-0.3-1.5,1.7zM-276.9,-9.3l1.1,1.3 1.7-0.5 0.6-0.8 0.4-5.6 1.3-3.8-1.1-1.7-1.7,0.2-1.7,1.5 0.6,5.6zM-251.6,-9.3l2.1,0.9 1.7-0.2 0.7-0.7 1.3-1.9 0.6-1.9-1.5-3.7 0.7-1.9 4.5-4.9 5.1-1.1 2.6-1.4 1.4-1.9 0.4-1.9-0.2-0.8-1.3-1.6-1.6-0.2-3.4,1.1-1.6-0.1-4.1-3.7-3.1-0.6-4.5-1.5-1.7,0.3-5.6,3.2-1.7,0.5-1.6-0.2-4.4-1.8-7.1,7.3 0.6,1.9 3.6,5.8 1.4,3.5 1.2,1.9 1.6,1.4 1.5,0.9 1.7-0.1 3.6-3.6 2.9-4.2 1-0.9 1.6-0.4 1.6,1.3 0.1,1.8-2.6,5.6 0.3,1.9zM-222.6,-31.7l1.8,1 3.2,0.5 3.4-0.8 3.4-1.4 5.4-4.9 1.2-1.9 0.5-1.9-0.1-1.8-1.3-1.9-2.6-2.4-8-5.1-1.7-0.2-1.8,1-1,1.1-0.4,1.9 0,1.8-0.7,1.9-3.1,3.7-0.9,1.9-0.3,1.9 0.3,1.8 1.6,3z" fill="#ff7d00"/><path d="M-157.4,150.5l314.8,0 9.2-2.7 11.1-4 12.3-5.1 9.1-4.2 8.3-4.5 10.1-6.2 20.1-14.3-32.6-0.3-13.7,0.4-16.2,1.7-19.6,1.5-13.6,2.3-21.3,4.5-8,0.8-46-2.4-55.3-0.5-72.5-1.9-57-3.2-23,0.5-38.9-0.1-41.1-2.9-16.4-0.4 20.1,14.3 10.1,6.2 8.3,4.5 9.1,4.2 12.3,5.1 11.1,4zM-115.1,-107.1l1.5-0.1 5.7-2.9 4.5-0.9 2.4,0.3 3.2,1.5 4.3-0.7 2.6,0 6.1,1.1 6.4,0.5 4.8,1.4 5.6-0.8 6.6,0.2 2.9-0.6 7.4-2.9 13.4-1.3 5.9-3.5 5.2-0.9 5.3-1.5 5.9-0.7 6.8-3.1 9.8,0.4 2.6-0.6 2.3-1.2 3.5-0.8 10.8-0.7 7-1 9.6,0.4 5.6-1.1 6.7,1.2 3.7,1.6 1.7,1.6 1.7,0.5 9.7-0.2 5.6,1.3 7.3-0.2 4.4,1.4 5.3,0.5 5.9,1.5 6.1-0.3 1.7,0.4 5.5,2.9 1.5,0.5 4.6-2.8 3.3-0.6 4.2,0.5 4.8-0.3 8.2,2.3 6.1,1.2 2.6,0 1.9-0.8 0.6-0.7 1.7-5.1 1-0.2 19.7,7.2 5.1,1.3 3,0.3 1.2-0.1 0.6-0.6 0.3-1-0.3-3.9 1.1-2.4 0.3-3.7 0.3-0.8 1.7-1.3 0-1-0.7-2.1-1.2-1.5-6.8-6.8-3.3-2.7-0.8-1.4 0.2-0.5 2.2-1.2 3.5-0.9 3.4-0.2-11.3-4.1-9.2-2.7-314.8,0-9.2,2.7-11.3,4.1 5.3,0.2 5.8,0.9 11.2,3 13.7,2.4 3.6,1.2 1,2.5 2.9,1.2 2.3,2.3 0.3,1.5-1.2,3.5 0.8,0.4 2.4,0 0.9,0.3 1.5,2.5 2,2 5,2.5 3.4,5 1.2,4.3z" fill="#8ccdf0"/><path d="M-157.4,150.5l314.8,0 17.4-5.6 18.3-7.5 14.3-7.4 14.4-9.1-6.7-0.5-18.4-3.1-7.9-0.7-7.7,0.1-24.4,1.6-1.1-0.2-0.8-1.7-0.8-0.5-6.3,1.3-9.6,3.4-22.3,6.3-9.5,1.5-61.3-1.8-82-5.7-19.1-1.8-21.8-0.2-22.6-0.9-18.9-0.1-28.7,1.6-8.1-0.7-7.3,1.4-10.6,0.4-47.7,0.3 14.4,9.1 14.3,7.4 18.3,7.5zM169.1,-114l6.2,1.5 1.2-0.1 0.7-0.5 0.1-2.4-0.4-2.7 0.7-1.5 0.1-5 0.9-2.2-2.2-3.1-4.7-4.5-12.2-9.5 0.3-0.7 2.6-0.5 9.6-0.7-14.6-4.6-314.8,0-14.6,4.6 9.6,0.7 15.5,3.8 14.3,1.7 3.9,0.9 4.5,2 6.1,5.1 4,5.7 0.8,0.4 6.6,0.7 5.2,4.6 7.1,0.5 4,1.7 11.1,3 2.7-0.2 5.9-1.9 7.3,0.7 7.7-0.2 10,0.4 3.9-0.3 2.8-1.1 4.4-2.6 5.3-2 5.5-3.6 15.8-4.7 8-1 36.4,0 20.7,0.5 8.8,1.4 6.9,0 7.6,2.8 8.4,2.2 6.5-1.1 11.1,0.5 3.9,1.5 0.9,1.6 1.2,0 0.7-0.6 3.5-0.2 2.8-1 2.4-0.1 7.1,1.2 8.1,2.2 1.2,0 0.4-1.5-7.4-6.3-2.2-3-0.8-1.5 0.1-1.5 1.9-0.2 3.3,0.8 5.2,2.4 19.9,12.6 6.3,3.3z" fill="#50c3f0"/><path d="M-157.4,150.5l314.8,0 14.6-4.6 18-7.2 12-5.7 11.9-6.9-14.3,0.8-25.4-3.3-27.7-1.3-0.7-0.5 0.4-1.6-1.1-0.3-2.8,0.4-10.6,4.8-14.7,4.3-7.2,1.5-6.2,0.5-3-0.5-5.7,0.1-12.5,1.4-34.9-0.2-3.5,0.3-6.7-0.3-28.3-3.7-24.4-2.2-20.9-2.8-11.6-2-7.6-0.8-18.4,0.3-12.6-0.5-6,0.3-6.5-0.4-16.9,0.4-6.4,1.3-2.7,1.1-5.7,0.4-9.6-1.2-6.3-0.1-7.7-1.6-3.2,0.5-2.4,1.1-8,0.5-2.2,1-7.9,0.7-3.8,0.7-14.8,0.5-15.7-0.1-1.6,0.5 11.9,6.9 12,5.7 18,7.2zM171.4,-114l3,0.7 1.3,0 0.7-0.6 0.1-1.7-0.7-3.3 0.8-1.7-0.1-1.6-0.9-4.7-0.8-1.6-2.4-2.6-7.3-6.3-7.5-5.2-6.3-3.3 0-0.7 1.7-0.8 13.4-0.5-9-2.6-314.8,0-9,2.6 9.8,0.5 18.6,3 21.4,0.7 7,0.6 4.2,1.2 6,3.3 8.2,1.3 2.2,0.9 4.6,1.1 8.2-2 4.1,0.2 28-1.6 25.6-2.2 15.4-0.6 23.6,0.5 29.9,1.8 14.9,1.7 10,1.7 4.3,1.3 2.7-0.8 10.9,1.1 5.4-0.2 8.8,1 7.2,1.6 3.8-1.7 1.5-1.5 3-1.9 3.9-0.3 3.1,0.7 7.9,3.3 13.5,7.8 12.2,8.1z" fill="#0ac3fa"/><path d="M-157.4,150.5l314.8,0 14.6-4.6 14.9-5.8 12.2-5.6 11-6-1.5-0.5-15.7,2.4-39.9,8.4-7.6,0.7-12.9-0.4 0.1-0.8 2.2-2.1-0.6-1.2-1.1,0.1-2.9,1.3 6.6-6.4 2.7-3.1 0.2-0.3-1.1-0.1-2.2,1 3.3-3.7 0.9-1.6-17.6,9.2-9,2-2.5,0.3-8.7-0.2-3.9-0.6-4.4-0.1-3.6,0.3-9.4,1.8-4.8,0.6-10.4-0.9-19.1,0.7-28.4,4.3-8.4,0.5-10.4-0.6-3.2-1.2-3.2-0.5-3.2-0.1-1,0.7-1.3-2.2-1.1,0.4-0.9,0.9-1.3-1-0.9-5-1.3-2.4-22.4-5-15.4-2.4-18,0.6-12.8-0.8-5.8,0.5-6.5-0.6-16.5,0.9-5.3,0.9-1.5,1.1-1.1,1.5-3.5,1.3-7-2.3-5.7-0.9-6.5-0.5-8-1.9-4.5,1.5-8.5,1.1-6.2,1.8-4.5,0.2-11.2,1.3-20.4-0.3-1.8,0.4 0.4,1 5.3,3 14.8,7.2 18,7.2zM169.1,-115.6l4.4,1.4 1.3,0 0.7-0.6 0.2-1-0.9-3.1 0.5-3.3-1.1-3.2-2-3.1-2.9-3-6.5-5.9-5.7-4-3.9-1.9-4.9-1.3-5.1-1-6-0.5-5.3-0.2-1.3,0.7-4.9,0.4-2.6,1.2 0.2,1.4 3.2,2.5 16.1,8.6 10.6,6.1 11.9,7.9zM98.5,-140.1l4.3,0.9 4.3,0 0.7-0.2 0.5-1.9 1.1-1.3-2.6-1.2-4.5-0.9-6.7,0.8-1.1,0.6-0.1,0.7 1.2,1.2z" fill="#14aaf8"/><path d="M-157.2,150.5l230.4-0.3 82.9,0.3 1.8-0.1 8.7-2.6 20.3-7.7 16.5-7.8 2.5-2.3 0-0.5-21.5,3.5-34.7,7.5-7.6,0.8-7.7,0.3-5.6-0.3-0.2-0.5 2.7-2.3-0.2-1.3-1.2,0.1-3.8,1.8 4.3-4.6 3.6-3 1-1.7-2.3,1.1 4.6-5.4-1-0.2-9,5.3-7.4,3.5-4.8,1.3-6.7,1-15.3-0.9-5.8,0.3-12.9,2.4-9.8-1.2-14.1,0.4-23.5,2.7-8.7,1.4-8.2,0.3-10.1-0.5-3.1-1.3-5.3-0.9-1,0.2-1,0.8-1.2-1.5-1.1-0.1-1,0.6-1,0.1-2.1-7.7-0.4-0.6-1.2-0.7-22.3-5.2-14.1-2.3-18,0.6-12.6-0.9-5.8,0.5-6.5-0.6-16.4,0.8-6,1.5-1.7,2.2-3.5,1.2-6.9-2.2-5.8-1.1-6.4-0.3-8.1-2-5.4,1.8-7.4,0.8-6.1,1.8-3.4,0.1-12,1.5-21.4-0.2 0.1,0.7 1.2,1.1 3.5,2.3 13.4,6.4 18,7.2zM171.4,-115.6l2.4,0.4 0.8-0.4 0-1.7-0.8-2.5 0.3-2.4-1.6-3.2-3.9-4.6-6.2-5.9-7.5-5.5-2.6-1.2-3.9-1.1-8.8-1.3-5.1-0.2-1.5,0.8-3.7,0.6-1,0.5-0.2,0.7 1.2,1.2 7.9,5.5 18,10.5 9.3,6.5z" fill="#1e96f5"/><path d="M-159.2,150l3.5,0.5 134.7-0.1 61.8-1.1 13.1-0.7 0.5-0.8-6.2-2.4-8-1.2-12.7-0.1-10,0.6-7.7-0.2-9.8-1.1-3.4-2-4.9-1.1-1,0.2-0.9,1.2-1.2-1.7-1.1,0-0.9,0.8-1,0.2-1-2.3-1.3-5-1.4-1.7-20.9-5.3-15.4-2.9-17.8,0.6-12.7-1.1-5.7,0.5-6.5-0.6-15.2,0.8-6.8,1.4-1.8,2.3-3.5,1.2-6.9-2.2-5.8-1-6.4-0.4-8.1-2-2.2,0.5-2.2,1-8.1,1.2-5.9,1.8-4.5,0.2-10.7,1.5-20.2-0.3-0.8,0.2 2.4,2.1 5.1,3 11.9,5.6 14.8,5.8zM132.1,150l24.2,0.1 5.2-0.7 19.1-6.7 14.3-6.8 6.7-3.9-0.3-0.5-18.1,3-38.4,8.5-26.5,3.5 7.9-5.1 1.4-1.3-0.6-0.2-14.6,7.2 8-5.7-13.5,6.4-0.5,0.8 7.5,0.7zM169.7,-117.3l2.7,0.8 1-0.3 0.1-1-0.9-3.1 0.1-1.3-0.8-1.6-4-4.8-5.7-5.9-7.4-5.6-2.4-1.3-3.7-1.2-7-1.4-5.4-0.3-4.1,1.7 0.5,1.2 3.2,2.7 10,5.7 20.5,14.1z" fill="#2d82eb"/><path d="M-158.4,150l3.7,0.3 40,0.2 70.8-0.2 37.7-0.7 5.1-0.3 2.1-0.7-7.7-6-1.4-0.5-1,0.4-0.6,2.3-1.4-2.3-0.9,0.2-0.8,1.2-1,0-3.7-8.4-22.3-7-14-3.1-11.9-0.1-5.8,0.4-12.7-1.2-5.7,0.5-6.5-0.8-16.2,0.9-5.9,1.4-1.5,2.1-3.4,1.3-6.9-2.2-5.8-1-6.2-0.3-8.2-2.1-5.2,1.8-7,1.1-5.6,1.9-5.4,0.3-9.4,1.4-20-0.3-0.1,0.6 0.5,0.4 4.8,3 11.7,5.6 14.6,5.8 7.9,2.7zM141.9,149.3l15.9,0.1 3.7-0.5 17.2-6.3 12.7-5.9-0.7-0.2-7.6,0.9-14.1,2.7-14.6,3.7-16,4.8zM168.8,-118.9l1.7,0.6 1.2,0 0.2-0.6-0.9-3.3-0.9-1.6-8.3-9.2-5.9-4.8-3.6-2.3-7.8-2.5-6.3-0.7-1.8,0.7-0.7,0.6 0,0.6 1.1,1.3 9.9,5.6 19.2,13.9z" fill="#3c6ee1"/><path d="M-157,150l101.4,0.2 35.9-0.8 5.2-0.4 1-0.4-0.8-2.3-1.5-2.4-10.8-6.5-14.2-5.9-13-3.3-10.8-0.6-5.8,0.1-12.8-1.6-5.6,0.5-6.6-0.9-5.8,0.1-11.3,0.8-3.9,0.9-0.9,0.4-1.5,2-3.1,1.4-7-2.2-5.6-0.9-6.2-0.3-8.1-2-4.1,1.6-9.2,1.9-3.6,1.6-5.3,0.3-8.7,1.6-19.3-0.1 1.3,1.3 3.4,1.8 14.7,6.7 13.9,5.2 5.1,1.5zM166.2,-122.2l2.1,0.8 0.4-0.8-7.9-9.3-3.3-3-6.2-4.2-2.8-1.4-4.6-1.3-2.5-0.3-1.4,0.3 0.6,1.3 9.6,5.6 5.4,4.5 4.6,3.1z" fill="#3250eb"/><path d="M-118.5,150l73.9-0.3 12-0.4 5.6-0.7 0.4-0.8-1.6-2.9-2.8-2.3-9.3-5.2-10-4.4-8.1-1.5-10.3-0.8-12.9-2.1-5.6,0.3-7.7-1-15.8,0.8-4.8,1.1-1.3,2.1-2.9,1.4-7.1-2.2-5.5-0.8-6-0.3-7.9-1.8-3.8,1.6-8.5,2.3-3,1.7-4.9,0.4-7.6,1.9-16.4,0.5-0.3,0.4 6.9,3.5 7.8,3.3 16.1,5.5z" fill="#1e3cf5"/><path d="M-141.5,149.3l41.9,0.5 38.9-0.2 13.9-0.4 5.5-0.6 0.3-0.8-5-6.4-8.1-3.1-5.3-1.6-19.6-4.3-5.8-0.1-7.8-1.3-16.6,0.6-3.6,0.9-1.1,2-2.7,1.4-7-2-5.3-0.8-5.7-0.1-7.7-1.5-3.1,1.9-6.1,2.5-2.2,2.5-3.6,0.9-4.4,2.9-8.4,2.7 1.5,1 8.1,2.7z" fill="#0a0aff"/>
<use href="#grid"/><use href="#coast"/><use href="#lakes"/>
<path d="M-236.5-90.5h0m-4.8,4.7h0m9.5,0h0m42.9,4.7h0m333.6,0h0m9.5,0h0m-357.4,4.7h0m352.6,0h0m19.1,0h0m-376.5,4.7h0m28.6,0h0m28.6,0h0m19.1,0h0m257.3,0h0m19.1,0h0m9.5,0h0m-338.3,4.8h0m9.5,0h0m38.1,0h0m247.8,0h0m9.5,0h0m9.5,0h0m-290.6,4.7h0m9.5,0h0m19.1,0h0m247.8,0h0m9.5,0h0m-347.9,4.7h0m9.6,0h0m19,0h0m28.6,0h0m9.5,0h0m9.6,0h0m19,0h0m228.8,0h0m19,0h0m19.1,0h0m-366.9,4.7h0m9.5,0h0m57.2,0h0m9.5,0h0m28.6,0h0m219.2,0h0m9.5,0h0m38.2,0h0m-367,4.7h0m66.7,0h0m19.1,0h0m200.1,0h0m9.6,0h0m9.5,0h0m9.5,0h0m9.6,0h0m38.1,0h0m-424.1,4.8h0m57.2,0h0m9.5,0h0m276.4,0h0m9.5,0h0m9.5,0h0m9.6,0h0m9.5,0h0m28.6,0h0m9.5,0h0m-395.5,4.7h0m28.6,0h0m19.1,0h0m257.3,0h0m19,0h0m9.6,0h0m9.5,0h0m9.5,0h0m38.1,0h0m9.6,0h0m-424.1,4.7h0m57.2,0h0m285.9,0h0m9.5,0h0m9.5,0h0m9.6,0h0m19,0h0m-376.4,4.7h0m19.1,0h0m19,0h0m9.5,0h0m9.6,0h0m324,0h0m9.5,0h0m9.5,0h0m-376.4,4.7h0m9.6,0h0m9.5,0h0m-52.4,4.8h0m19,0h0m9.6,0h0m9.5,0h0m9.5,0h0m9.5,0h0m-23.8,4.7h0m9.6,0h0m9.5,0h0m9.5,0h0m-71.5,4.7h0m47.7,0h0m9.5,0h0m9.5,0h0m-33.3,4.7h0m452.7,4.7h0m-4.8,4.8h0m9.5,0h0m-14.3,4.7h0m19.1,0h0m-452.7,4.7h0m371.7,0h0m57.2,0h0m9.5,0h0m9.5,0h0m57.2,0h0m9.5,0h0m9.6,0h0m9.5,0h0m-519.4,4.7h0m343.1,0h0m9.5,0h0m9.5,0h0m9.6,0h0m9.5,0h0m9.5,0h0m19.1,0h0m9.5,0h0m9.6,0h0m19,0h0m9.5,0h0m9.6,0h0m9.5,0h0m9.5,0h0m9.6,0h0m9.5,0h0m9.5,0h0m9.6,0h0m-557.5,4.7h0m9.5,0h0m19.1,0h0m343,0h0m9.6,0h0m9.5,0h0m9.5,0h0m9.6,0h0m9.5,0h0m9.5,0h0m9.5,0h0m9.6,0h0m9.5,0h0m9.5,0h0m19.1,0h0m9.5,0h0m9.6,0h0m9.5,0h0m9.5,0h0m9.5,0h0m9.6,0h0m9.5,0h0m-548,4.8h0m19.1,0h0m9.5,0h0m66.7,0h0m9.5,0h0m9.6,0h0m9.5,0h0m9.5,0h0m9.6,0h0m228.7,0h0m9.5,0h0m9.5,0h0m9.6,0h0m9.5,0h0m9.5,0h0m38.2,0h0m9.5,0h0m19,0h0m9.6,0h0m9.5,0h0m9.5,0h0m9.6,0h0m9.5,0h0m9.5,0h0m-538.4,4.7h0m9.5,0h0m9.6,0h0m76.2,0h0m9.5,0h0m9.6,0h0m9.5,0h0m9.5,0h0m247.8,0h0m9.5,0h0m38.1,0h0m19.1,0h0m19.1,0h0m9.5,0h0m9.5,0h0m9.6,0h0m9.5,0h0m9.5,0h0m9.5,0h0m9.6,0h0m9.5,0h0m-548,4.7h0m9.6,0h0m85.7,0h0m9.5,0h0m9.6,0h0m9.5,0h0m9.5,0h0m314.5,0h0m9.6,0h0m9.5,0h0m19,0h0m9.6,0h0m9.5,0h0m9.5,0h0m9.6,0h0m9.5,0h0m9.5,0h0m-528.9,4.7h0m428.9,0h0m19,0h0m9.6,0h0m9.5,0h0m28.6,0h0m9.5,0h0m9.5,0h0m9.6,0h0m-519.4,4.7h0m152.5,0h0m9.5,0h0m257.3,0h0m9.5,0h0m9.6,0h0m9.5,0h0m9.5,0h0m57.2,0h0m-81,4.8h0m9.5,0h0m9.6,0h0m9.5,0h0m-42.9,4.7h0m9.5,0h0m9.6,0h0m9.5,0h0m-23.8,4.7h0m9.5,0h0m9.5,0h0m-14.3,4.7h0m9.6,0h0m9.5,0h0m-433.6,4.7h0m9.5,0h0m9.5,0h0m390.8,0h0m9.5,0h0m9.5,0h0m57.2,0h0m-528.9,4.8h0m38.1,0h0m9.5,0h0m9.6,0h0m9.5,0h0m9.5,0h0m9.6,0h0m38.1,0h0m9.5,0h0m324,0h0m9.6,0h0m57.1,0h0m9.6,0h0m-528.9,4.7h0m9.5,0h0m19.1,0h0m9.5,0h0m9.5,0h0m9.5,0h0m9.6,0h0m9.5,0h0m9.5,0h0m9.6,0h0m9.5,0h0m9.5,0h0m9.6,0h0m9.5,0h0m9.5,0h0m305,0h0m28.6,0h0m9.5,0h0m9.5,0h0m9.6,0h0m9.5,0h0m9.5,0h0m-519.4,4.7h0m9.6,0h0m9.5,0h0m9.5,0h0m9.5,0h0m9.6,0h0m9.5,0h0m9.5,0h0m9.6,0h0m9.5,0h0m9.5,0h0m9.5,0h0m9.6,0h0m9.5,0h0m9.5,0h0m9.6,0h0m9.5,0h0m19.1,0h0m266.8,0h0m9.5,0h0m9.6,0h0m9.5,0h0m9.5,0h0m9.5,0h0m9.6,0h0m9.5,0h0m9.5,0h0m-509.8,4.7h0m9.5,0h0m9.6,0h0m9.5,0h0m9.5,0h0m9.5,0h0m9.6,0h0m9.5,0h0m9.5,0h0m9.6,0h0m9.5,0h0m9.5,0h0m9.6,0h0m9.5,0h0m9.5,0h0m9.6,0h0m9.5,0h0m9.5,0h0m9.5,0h0m9.6,0h0m247.7,0h0m9.6,0h0m9.5,0h0m9.5,0h0m9.6,0h0m9.5,0h0m9.5,0h0m9.6,0h0m9.5,0h0m9.5,0h0m-500.3,4.7h0m28.6,0h0m9.5,0h0m9.5,0h0m9.6,0h0m9.5,0h0m9.5,0h0m9.5,0h0m9.6,0h0m9.5,0h0m9.5,0h0m9.6,0h0m9.5,0h0m9.5,0h0m9.6,0h0m9.5,0h0m9.5,0h0m247.8,0h0m9.5,0h0m9.6,0h0m9.5,0h0m9.5,0h0m9.5,0h0m9.6,0h0m9.5,0h0m9.5,0h0m-452.6,4.8h0m19,0h0m9.6,0h0m9.5,0h0m9.5,0h0m9.6,0h0m9.5,0h0m9.5,0h0m9.6,0h0m9.5,0h0m9.5,0h0m9.5,0h0m9.6,0h0m9.5,0h0m228.7,0h0m9.5,0h0m9.6,0h0m9.5,0h0m9.5,0h0m9.6,0h0m9.5,0h0m9.5,0h0m9.6,0h0m9.5,0h0m-414.6,4.7h0m9.5,0h0m9.6,0h0m19,0h0m9.6,0h0m9.5,0h0m28.6,0h0m9.5,0h0m228.7,0h0m9.6,0h0m9.5,0h0m9.5,0h0m9.6,0h0m9.5,0h0m9.5,0h0m9.5,0h0m9.6,0h0m-471.7,4.7h0m9.5,0h0m9.5,0h0m305,0h0m9.5,0h0m9.5,0h0m47.7,0h0m9.5,0h0m9.5,0h0m9.6,0h0m9.5,0h0m9.5,0h0m9.6,0h0m9.5,0h0m9.5,0h0m-462.2,4.7h0m19.1,0h0m47.6,0h0m85.8,0h0m9.5,0h0m28.6,0h0m9.5,0h0m76.3,0h0m9.5,0h0m9.5,0h0m9.6,0h0m9.5,0h0m9.5,0h0m9.6,0h0m9.5,0h0m9.5,0h0m9.5,0h0m19.1,0h0m9.5,0h0m9.6,0h0m9.5,0h0m9.5,0h0m38.1,0h0m-443.1,4.7h0m9.5,0h0m28.6,0h0m9.6,0h0m9.5,0h0m9.5,0h0m9.6,0h0m9.5,0h0m9.5,0h0m9.6,0h0m9.5,0h0m9.5,0h0m9.5,0h0m9.6,0h0m9.5,0h0m9.5,0h0m9.6,0h0m9.5,0h0m9.5,0h0m9.5,0h0m38.2,0h0m9.5,0h0m9.5,0h0m9.6,0h0m9.5,0h0m9.5,0h0m9.5,0h0m19.1,0h0m9.5,0h0m9.6,0h0m28.6,0h0m9.5,0h0m9.5,0h0m9.5,0h0m9.6,0h0m-395.5,4.8h0m9.5,0h0m9.5,0h0m9.6,0h0m9.5,0h0m9.5,0h0m9.5,0h0m9.6,0h0m9.5,0h0m9.5,0h0m9.6,0h0m9.5,0h0m9.5,0h0m9.6,0h0m9.5,0h0m9.5,0h0m9.6,0h0m9.5,0h0m9.5,0h0m9.5,0h0m9.6,0h0m9.5,0h0m38.1,0h0m9.6,0h0m9.5,0h0m9.5,0h0m9.5,0h0m9.6,0h0m9.5,0h0m9.5,0h0m9.6,0h0m9.5,0h0m9.5,0h0m9.5,0h0m9.6,0h0m9.5,0h0m9.5,0h0m9.6,0h0m-376.5,4.7h0m9.6,0h0m9.5,0h0m9.5,0h0m9.6,0h0m9.5,0h0m9.5,0h0m9.6,0h0m9.5,0h0m9.5,0h0m9.6,0h0m9.5,0h0m9.5,0h0m9.5,0h0m9.6,0h0m9.5,0h0m9.5,0h0m9.6,0h0m9.5,0h0m9.5,0h0m9.5,0h0m9.6,0h0m38.1,0h0m9.5,0h0m9.6,0h0m9.5,0h0m9.5,0h0m28.6,0h0m9.5,0h0m9.6,0h0m38.1,0h0m-357.4,4.7h0m9.5,0h0m9.6,0h0m9.5,0h0m9.5,0h0m9.5,0h0m9.6,0h0m9.5,0h0m9.5,0h0m9.6,0h0m9.5,0h0m9.5,0h0m9.6,0h0m9.5,0h0m57.2,0h0m9.5,0h0m9.5,0h0m38.2,0h0m9.5,0h0m9.5,0h0m9.5,0h0m9.6,0h0m9.5,0h0m9.5,0h0m9.6,0h0m9.5,0h0m9.5,0h0m-290.6,4.7h0m9.5,0h0m9.5,0h0m9.6,0h0m9.5,0h0m9.5,0h0m19.1,0h0m181,0h0m-214.4,4.7h0" stroke="#000" stroke-width="2.2" stroke-linecap="round" fill="none"/>
<path d="M191.7,29.9L198.7,32.9M181.7,35.2L200.7,43.2M179.7,43.8L198.7,51.8M-129.3-76.5L-117.3-71.5M180.7,53.7L193.7,59.1M-152.3-76.7L-120.3-63.3M-165.3-72.8L-138.3-61.4M224.7,100.5L239.7,106.8M95.7,103L131.7,118.1M160.7,130.3L181.7,139.1M81.7,106.6L121.7,123.4M155.7,137.7L171.7,144.4M56.7,105.5L103.7,125.3M115.7,130.3L136.7,139.1M68.7,120L74.7,122.5M100.7,133.5L129.7,145.6M-21.3,129.5L-8.3,134.9M-41.3,130.5L-8.3,144.4M-62.3,131.2L-21.3,148.4M-93.3,127.6L-47.3,146.9M-201.3,91.7L-160.3,108.9M-110.3,129.9L-74.3,145M-236.3,86.4L-196.3,103.2M-188.3,106.6L-168.3,115M-115.3,137.2L-92.3,146.9M-252.3,89.2L-196.3,112.7M-193.3,113.9L-185.3,117.3M-145.3,134.1L-134.3,138.7M-125.3,142.5L-113.3,147.5M-246.3,101.1L-220.3,112M-165.3,135.1L-149.3,141.9M-180.3,138.3L-162.3,145.9" stroke="#000" stroke-width="1.25" fill="none"/>
</g><use href="#outl"/></g>
<text x="297.3" y="415.6" font-size="13.8" text-anchor="middle" xml:space="preserve">TREFHT: PI-Adj ERA5: 25-44 GM=286.4 Uncer=2 K</text>
<rect x="35.4" y="743.5" width="23.81" height="8.6" fill="#0a0aff" stroke="#000" stroke-width="1.2"/><rect x="59.21" y="743.5" width="23.81" height="8.6" fill="#1e3cf5" stroke="#000" stroke-width="1.2"/><rect x="83.02" y="743.5" width="23.81" height="8.6" fill="#3250eb" stroke="#000" stroke-width="1.2"/><rect x="106.83" y="743.5" width="23.81" height="8.6" fill="#3c6ee1" stroke="#000" stroke-width="1.2"/><rect x="130.64" y="743.5" width="23.81" height="8.6" fill="#2d82eb" stroke="#000" stroke-width="1.2"/><rect x="154.45" y="743.5" width="23.81" height="8.6" fill="#1e96f5" stroke="#000" stroke-width="1.2"/><rect x="178.26" y="743.5" width="23.81" height="8.6" fill="#14aaf8" stroke="#000" stroke-width="1.2"/><rect x="202.07" y="743.5" width="23.81" height="8.6" fill="#0ac3fa" stroke="#000" stroke-width="1.2"/><rect x="225.88" y="743.5" width="23.81" height="8.6" fill="#50c3f0" stroke="#000" stroke-width="1.2"/><rect x="249.69" y="743.5" width="23.81" height="8.6" fill="#8ccdf0" stroke="#000" stroke-width="1.2"/><rect x="273.5" y="743.5" width="23.81" height="8.6" fill="#ffffff" stroke="#000" stroke-width="1.2"/><rect x="297.31" y="743.5" width="23.81" height="8.6" fill="#ffffff" stroke="#000" stroke-width="1.2"/><rect x="321.12" y="743.5" width="23.81" height="8.6" fill="#fff58c" stroke="#000" stroke-width="1.2"/><rect x="344.93" y="743.5" width="23.81" height="8.6" fill="#ffe650" stroke="#000" stroke-width="1.2"/><rect x="368.74" y="743.5" width="23.81" height="8.6" fill="#ffcd1e" stroke="#000" stroke-width="1.2"/><rect x="392.55" y="743.5" width="23.81" height="8.6" fill="#ffb40a" stroke="#000" stroke-width="1.2"/><rect x="416.36" y="743.5" width="23.81" height="8.6" fill="#ff9600" stroke="#000" stroke-width="1.2"/><rect x="440.17" y="743.5" width="23.81" height="8.6" fill="#ff7d00" stroke="#000" stroke-width="1.2"/><rect x="463.98" y="743.5" width="23.81" height="8.6" fill="#ff5500" stroke="#000" stroke-width="1.2"/><rect x="487.79" y="743.5" width="23.81" height="8.6" fill="#ff1e0a" stroke="#000" stroke-width="1.2"/><rect x="511.6" y="743.5" width="23.81" height="8.6" fill="#f00000" stroke="#000" stroke-width="1.2"/><rect x="535.41" y="743.5" width="23.81" height="8.6" fill="#d20000" stroke="#000" stroke-width="1.2"/><text transform="translate(59.21,775.6) scale(1,1.075)" font-size="21" text-anchor="middle">220</text><text transform="translate(106.83,775.6) scale(1,1.075)" font-size="21" text-anchor="middle">230</text><text transform="translate(154.45,775.6) scale(1,1.075)" font-size="21" text-anchor="middle">240</text><text transform="translate(202.07,775.6) scale(1,1.075)" font-size="21" text-anchor="middle">250</text><text transform="translate(249.69,775.6) scale(1,1.075)" font-size="21" text-anchor="middle">260</text><text transform="translate(297.31,775.6) scale(1,1.075)" font-size="21" text-anchor="middle">270</text><text transform="translate(344.93,775.6) scale(1,1.075)" font-size="21" text-anchor="middle">280</text><text transform="translate(392.55,775.6) scale(1,1.075)" font-size="21" text-anchor="middle">290</text><text transform="translate(440.17,775.6) scale(1,1.075)" font-size="21" text-anchor="middle">300</text><text transform="translate(487.79,775.6) scale(1,1.075)" font-size="21" text-anchor="middle">310</text><text transform="translate(535.41,775.6) scale(1,1.075)" font-size="21" text-anchor="middle">320</text>
<path d="M593.1,423.6H693.4V724H593.1M593.1,424.6v-10.4M593.1,723v10.6M613.16,424.6v-10.4M613.16,723v10.6M633.22,424.6v-10.4M633.22,723v10.6M653.28,424.6v-10.4M653.28,723v10.6M673.34,424.6v-10.4M673.34,723v10.6M693.4,424.6v-10.4M693.4,723v10.6M692.4,462.64h10.4M692.4,517.21h10.4M692.4,573.2h10.4M692.4,629.19h10.4M692.4,683.76h10.4" stroke="#000" stroke-width="2" fill="none" stroke-linecap="butt"/><text x="711" y="467.94" font-size="14.5">60N</text><text x="711" y="522.51" font-size="14.5">30N</text><text x="711" y="578.5" font-size="14.5">0</text><text x="711" y="634.49" font-size="14.5">30S</text><text x="711" y="689.06" font-size="14.5">60S</text><text x="593.1" y="749.8" font-size="12" text-anchor="middle">200</text><text x="633.22" y="749.8" font-size="12" text-anchor="middle">240</text><text x="673.34" y="749.8" font-size="12" text-anchor="middle">280</text><text x="643.25" y="412.6" font-size="9" text-anchor="middle">K</text>
<path d="M643.6,427.7 642.6,429.3 641.9,430.9 641.9,432.4 641.7,433.9 641.7,435.2 641.7,436.5 642.5,437.7 643.9,438.8 645.5,440 646.7,441.1 647.1,442.3 648,443.5 648.9,444.7 649.8,445.9 650.8,447.1 651.9,448.2 652.9,449.4 653.9,450.6 654.9,451.8 655.7,452.9 656.9,454.1 658,455.2 658.9,456.3 660,457.4 661.2,458.5 662.6,459.6 663.5,460.8 664.1,462 664.9,463.2 665.4,464.5 665.7,465.9 666.2,467.3 666.7,468.8 666.9,470.4 667.2,471.9 667.1,473.4 667.5,474.9 668.2,476.4 668.4,477.8 669.1,479.2 670.1,480.6 670.6,482 671.1,483.4 671.8,484.7 672.5,486.1 673.2,487.6 673.8,489 674,490.4 674.3,491.9 674.5,493.4 674.4,494.9 674.6,496.5 675,498 675,499.6 675,501.1 675.2,502.6 675.1,504.1 675.4,505.6 676,507 676,508.4 676.5,509.8 677.2,511.1 678.2,512.3 679,513.5 679.8,514.8 681.1,516 682.3,517.3 682.7,518.6 683.2,519.9 684.3,521.3 685,522.6 685.9,524 686.5,525.4 687,526.8 687.5,528.2 687.9,529.7 688.3,531.1 688.2,532.6 688.2,534.1 688.6,535.5 689,537 689,538.6 689.2,540.1 689.2,541.6 689.1,543.1 689,544.7 689.1,546.2 689.4,547.7 689.4,549.3 689.1,550.8 689.3,552.3 689.4,553.8 689.4,555.4 689.2,556.9 688.8,558.4 688.8,559.9 689.1,561.4 689.1,562.9 688.9,564.4 688.7,566 688.7,567.5 688.8,569 689,570.5 689.2,572 689.4,573.4 689.8,574.9 690.2,576.4 690.6,577.9 691.1,579.4 691.4,580.9 691.4,582.4 691.1,583.9 691.1,585.5 691.4,587 691.6,588.5 691.5,590 691.7,591.5 692.2,593 691.9,594.5 691.6,596 691.6,597.5 691.5,599 691.5,600.5 691.5,602.1 691.2,603.6 690.8,605.1 690.5,606.6 690.4,608.1 690.2,609.6 690,611.1 689.5,612.6 689.2,614.1 689,615.6 689,617.1 689,618.6 688.5,620.1 688.2,621.6 688,623.1 687.7,624.6 687.3,626.1 687.1,627.6 687.2,629 686.8,630.5 686,631.9 685.4,633.3 684.8,634.7 684.4,636.1 684.1,637.5 683.3,638.8 682.6,640.2 681.9,641.6 681.1,642.9 680.2,644.3 679.4,645.7 679,647 678.3,648.4 677.5,649.8 676.9,651.2 676.3,652.6 675.7,654 675,655.4 674.1,656.7 673.6,658.1 673.2,659.6 672.9,661 672.4,662.4 672.3,663.9 672.8,665.4 673.1,666.9 673.5,668.4 673.6,669.9 673.5,671.4 673,672.8 672.7,674.3 672.1,675.8" stroke="#ff0000" stroke-width="4" fill="none" stroke-linejoin="round" stroke-linecap="round"/>
<path d="M663.3,684.8 662.3,686.1 661.2,687.3 660.1,688.3 659.1,689.1 657.7,689.7 656.2,690.2 654.8,690.7 653.2,691.2 651.5,691.6 649.8,692 648.5,692.4 647.2,692.9 645.8,693.4 644.4,693.8 642.6,694.3 640.9,694.7 639.5,695.1 638,695.6 636.6,696.1 635.1,696.6 633.6,697.2 632.2,697.9 631,698.6 629.7,699.5 628,700.5 626.9,701.6 625.9,702.8 625.3,704 624.9,705.4 624.6,706.9 624.4,708.6 624,710.2 624.1,711.8 624.2,713.4 624.4,715.1 624.6,716.5 624.3,717.7 623.3,718.8 621.8,719.8 620.2,720.6 618.8,721.4 617.4,722 615.8,722.6 614.3,723.1 612.8,723.5 611.2,723.8" stroke="#ff0000" stroke-width="4" fill="none" stroke-linejoin="round" stroke-linecap="round"/>
<path d="M647.8,424.3 648.3,425.7 648.8,427.2 649.4,428.6 650,430 650.6,431.3 651.3,432.7 652,433.9 652.8,435.2 653.6,436.5 654.5,437.7 655.4,438.9 656.4,440.1 657.3,441.3 658.3,442.5 659.2,443.7 660.1,444.9 661.1,446.1 661.9,447.4 662.8,448.6 663.7,449.8 664.6,451.1 665.5,452.3 666.3,453.6 667.1,454.9 667.8,456.2 668.5,457.5 669.1,458.9 669.6,460.3 670.1,461.7 670.6,463.1 671.1,464.6 671.6,466 672,467.5 672.5,468.9 673,470.3 673.5,471.8 674.1,473.2 674.6,474.6 675.2,476 675.7,477.4 676.3,478.8 676.9,480.2 677.5,481.6 678.1,483 678.7,484.3 679.3,485.7 679.9,487.1 680.5,488.5 681.1,489.9 681.6,491.3 682.2,492.7 682.8,494.1 683.4,495.5 684.1,496.9 684.7,498.3 685.2,499.7 685.8,501.1 686.3,502.5 686.8,503.9 687.2,505.3 687.7,506.8 688.1,508.2 688.5,509.7 688.9,511.2 689.3,512.6 689.6,514.1 689.9,515.6 690.2,517.1 690.5,518.6 690.7,520.1 690.9,521.6 691.1,523.1 691.2,524.6 691.4,526.1 691.5,527.6 691.6,529.1 691.8,530.6 691.9,532.1 692,533.6 692.1,535.1 692.1,536.6 692.2,538.1 692.2,539.7 692.2,541.2 692.2,542.7 692.2,544.2 692.3,545.7 692.3,547.2 692.3,548.7 692.3,550.2 692.3,551.7 692.3,553.3 692.3,554.8 692.3,556.3 692.4,557.8 692.4,559.3 692.4,560.8 692.4,562.3 692.4,563.8 692.4,565.4 692.4,566.9 692.4,568.4 692.4,569.9 692.4,571.4 692.4,572.9 692.4,574.4 692.3,575.9 692.3,577.4 692.2,578.9 692.1,580.4 691.9,582 691.8,583.5 691.6,585 691.4,586.5 691.3,588 691.1,589.5 690.9,591 690.7,592.5 690.5,594 690.3,595.5 690.1,597 689.9,598.5 689.7,600 689.4,601.4 689.2,602.9 688.9,604.4 688.6,605.9 688.3,607.4 688,608.9 687.7,610.4 687.4,611.9 687.1,613.4 686.7,614.9 686.4,616.3 686,617.8 685.6,619.3 685.3,620.7 684.9,622.2 684.5,623.7 684.1,625.1 683.7,626.6 683.2,628 682.8,629.4 682.4,630.9 681.9,632.3 681.3,633.7 680.7,635 680.1,636.4 679.5,637.8 678.8,639.2 678.2,640.5 677.5,641.9 676.8,643.3 676.2,644.7 675.5,646 674.9,647.4 674.3,648.8 673.8,650.2 673.3,651.6 672.8,653.1 672.4,654.5 671.9,656 671.5,657.4 671.1,658.9 670.7,660.3 670.3,661.8 669.8,663.2 669.4,664.7 669,666.1 668.5,667.6 668.1,669 667.6,670.5 667.2,671.9 666.7,673.4 666.3,674.8 665.8,676.2 665.4,677.7 664.9,679.1 664.4,680.6 663.9,682 663.4,683.4 662.9,684.8 662.4,686.2 661.8,687.7 661.2,689.1 660.6,690.5 660,691.8 659.2,693.1 658.4,694.3 657.5,695.5 656.5,696.6 655.4,697.7 654.3,698.8 653.2,699.9 652.2,701 651.1,702.1 650.1,703.3 649.2,704.6 648.2,705.8 647.2,706.9 646.1,708 644.9,708.7 643.7,709.4 642.4,710 641,710.5 639.5,711 638,711.4 636.5,711.6 634.8,711.8" stroke="#0000ff" stroke-width="4" fill="none" stroke-linejoin="round" stroke-linecap="round"/>
<path d="M647.3,423.6 647.3,425.2 647.4,426.7 647.5,428.2 647.6,429.7 647.8,431.2 648.1,432.6 648.6,433.9 649.3,435.2 650.1,436.5 651,437.8 652,439.1 652.9,440.4 653.7,441.7 654.5,443 655.3,444.3 656.1,445.6 656.9,446.8 657.7,448.1 658.5,449.4 659.3,450.7 660.2,451.9 661,453.2 661.8,454.5 662.6,455.8 663.5,457 664.4,458.3 665.3,459.5 666.3,460.8 667.1,462 667.9,463.3 668.6,464.6 669.2,466 669.7,467.3 670,468.8 670.3,470.3 670.5,471.8 670.7,473.3 670.9,474.8 671.2,476.4 671.5,477.8 671.9,479.3 672.4,480.6 673,482 673.7,483.3 674.5,484.7 675.2,486 676,487.3 676.7,488.7 677.4,490 678,491.4 678.5,492.8 679.1,494.3 679.6,495.7 680.1,497.1 680.6,498.5 681,500 681.5,501.4 682,502.9 682.5,504.3 683,505.7 683.5,507.1 684,508.6 684.6,510 685.1,511.4 685.7,512.8 686.2,514.2 686.7,515.7 687.2,517.1 687.6,518.5 688,520 688.4,521.5 688.7,522.9 689.1,524.4 689.4,525.9 689.7,527.4 690,528.9 690.3,530.4 690.5,531.9 690.7,533.3 690.9,534.8 691,536.3 691.2,537.8 691.3,539.4 691.5,540.9 691.6,542.4 691.7,543.9 691.8,545.4 691.9,546.9 691.9,548.4 692,549.9 692,551.5 692,553 692,554.5 692,556 692,557.5 692,559 692,560.5 692,562 692,563.6 692,565.1 692,566.6 692,568.1 692,569.6 692,571.1 692,572.6 692,574.1 691.9,575.7 691.8,577.2 691.7,578.7 691.6,580.2 691.4,581.7 691.3,583.2 691.1,584.7 691,586.2 690.8,587.7 690.7,589.2 690.5,590.7 690.4,592.2 690.2,593.7 690.1,595.2 689.9,596.8 689.7,598.3 689.5,599.8 689.4,601.3 689.2,602.8 689,604.3 688.8,605.8 688.6,607.3 688.4,608.8 688.1,610.3 687.9,611.8 687.7,613.3 687.5,614.8 687.2,616.3 687,617.8 686.7,619.3 686.4,620.8 686.1,622.3 685.8,623.8 685.5,625.2 685.2,626.7 684.8,628.1 684.5,629.6 684.1,631 683.6,632.4 683,633.8 682.5,635.2 681.8,636.6 681.2,637.9 680.5,639.3 679.8,640.7 679.1,642 678.4,643.4 677.7,644.7 677,646.1 676.3,647.5 675.7,648.9 675.2,650.3 674.7,651.7 674.2,653.1 673.7,654.6 673.3,656 672.8,657.5 672.4,658.9 672,660.4 671.5,661.8 671.1,663.3 670.6,664.7 670.2,666.1 669.7,667.6 669.2,669.1 668.8,670.5 668.3,672 667.9,673.5 667.4,675 666.9,676.4 666.4,677.9 665.9,679.3 665.4,680.7 664.8,682.1 664.2,683.4 663.5,684.7 662.7,685.9 661.9,687.1 660.9,688.3 659.9,689.5 658.8,690.6 657.6,691.7 656.5,692.7 655.3,693.6 654.1,694.4 652.8,695.2 651.5,695.9 650.2,696.6 648.8,697.2 647.4,697.9 646,698.5 644.6,699.2 643.3,699.9 641.9,700.7 640.7,701.5 639.4,702.3 638.1,703.1 636.8,703.9 635.6,704.8 634.3,705.6 633.1,706.5 631.9,707.4 630.7,708.4 629.4,709.3 627.9,710.3 626.5,711.3 625.4,712.3 624.7,713.4 624.5,714.7 624.5,716.4 624.5,718 624.4,719.1 623.5,719.8 621.9,720.4 620.1,720.9 618.5,721.4 617.1,721.9 615.7,722.4 614.2,722.9 612.8,723.4 611.3,723.8" stroke="#000000" stroke-width="4" fill="none" stroke-linejoin="round" stroke-linecap="round"/>
<g transform="translate(1046.3,573.8)">
<g clip-path="url(#clip)"><path d="M157.4,150.5 161.7,149.3 166.6,147.8 172,145.9 177.7,143.8 183.8,141.4 190,138.7 196.2,135.9 202,133 207.4,130 212.6,126.9 217.5,123.8 222.3,120.6 227.1,117.3 231.7,114 236.2,110.6 240.6,107.1 244.9,103.6 249,100.1 253,96.5 256.7,92.9 260.2,89.3 263.5,85.7 266.7,82 269.7,78.3 272.6,74.6 275.3,70.9 277.7,67.2 280,63.5 282.1,59.7 284,56 285.7,52.3 287.2,48.5 288.4,44.8 289.5,41.1 290.5,37.3 291.5,33.6 292.4,29.9 293.2,26.1 293.9,22.4 294.4,18.7 294.9,14.9 295.2,11.2 295.5,7.5 295.7,3.7 295.8,0 295.7,-3.7 295.5,-7.5 295.2,-11.2 294.9,-14.9 294.4,-18.7 293.9,-22.4 293.2,-26.1 292.4,-29.9 291.5,-33.6 290.5,-37.3 289.5,-41.1 288.4,-44.8 287.2,-48.5 285.7,-52.3 284,-56 282.1,-59.7 280,-63.5 277.7,-67.2 275.3,-70.9 272.6,-74.6 269.7,-78.3 266.7,-82 263.5,-85.7 260.2,-89.3 256.7,-92.9 253,-96.5 249,-100.1 244.9,-103.6 240.6,-107.1 236.2,-110.6 231.7,-114 227.1,-117.3 222.3,-120.6 217.5,-123.8 212.6,-126.9 207.4,-130 202,-133 196.2,-135.9 190,-138.7 183.8,-141.4 177.7,-143.8 172,-145.9 166.6,-147.8 161.7,-149.3 157.4,-150.5 -157.4,-150.5 -161.7,-149.3 -166.6,-147.8 -172,-145.9 -177.7,-143.8 -183.8,-141.4 -190,-138.7 -196.2,-135.9 -202,-133 -207.4,-130 -212.6,-126.9 -217.5,-123.8 -222.3,-120.6 -227.1,-117.3 -231.7,-114 -236.2,-110.6 -240.6,-107.1 -244.9,-103.6 -249,-100.1 -253,-96.5 -256.7,-92.9 -260.2,-89.3 -263.5,-85.7 -266.7,-82 -269.7,-78.3 -272.6,-74.6 -275.3,-70.9 -277.7,-67.2 -280,-63.5 -282.1,-59.7 -284,-56 -285.7,-52.3 -287.2,-48.5 -288.4,-44.8 -289.5,-41.1 -290.5,-37.3 -291.5,-33.6 -292.4,-29.9 -293.2,-26.1 -293.9,-22.4 -294.4,-18.7 -294.9,-14.9 -295.2,-11.2 -295.5,-7.5 -295.7,-3.7 -295.8,0 -295.7,3.7 -295.5,7.5 -295.2,11.2 -294.9,14.9 -294.4,18.7 -293.9,22.4 -293.2,26.1 -292.4,29.9 -291.5,33.6 -290.5,37.3 -289.5,41.1 -288.4,44.8 -287.2,48.5 -285.7,52.3 -284,56 -282.1,59.7 -280,63.5 -277.7,67.2 -275.3,70.9 -272.6,74.6 -269.7,78.3 -266.7,82 -263.5,85.7 -260.2,89.3 -256.7,92.9 -253,96.5 -249,100.1 -244.9,103.6 -240.6,107.1 -236.2,110.6 -231.7,114 -227.1,117.3 -222.3,120.6 -217.5,123.8 -212.6,126.9 -207.4,130 -202,133 -196.2,135.9 -190,138.7 -183.8,141.4 -177.7,143.8 -172,145.9 -166.6,147.8 -161.7,149.3 -157.4,150.5z" fill="#fff"/><use href="#land"/>
<path d="M-90.4,98.3l23.9,1.5 26.4,0.2 52.6-0.9 62.5,0 69.1-1.5 5.3,0.5 2.9-0.2 2.6,0.2 3.4-0.8 28,0.1 21.1-1.7 24-0.1 6.1-0.4 13.2-1.9 6.1-0.4 6.7-7.2 7.7-9.2 5.3-7.5 4.5-7.4 3.8-7.5 3-7.4 5-18.7 1.9-11.2 0.9-11.2 0.2-7.5-0.6-9.3-1-9.3-1.8-9.4-3.4-13-2.6-7.5-5.4-11.2-7-11.2-10.5-12.9-10.5-10.8-14.6-12.3-16.1-11.8-14.9-9.4-13.5-7-1.2,0.4-0.1,0.5 1.8,4.6 0.2,2.8-3.2,3.5-0.5,1.4 0.2,1-1.6,0.7-7,8.1-0.9,1.7-0.5,3-3.4,0.7-1.6,1.1-2.7,6.2-0.7,0.8-1.1,0.4-6.1-0.6-6.5-1.3-4.8,0.9-6.1-0.9-5.1,0.6-1.8-0.5-5.2-3.9-5.6-3-4.1-1.3-4.2-0.4-3.3,1-0.9,0.7-1.4,1.9-4.5,1.6-12,0.3-6.1-1.5-1,0.8-2.1,5.6-1.3,1.8-1.2,1-1.3,0.2-1.6-0.4-1.2-0.8-1-1.8-0.4-1.8 0.5-1.1 3.1-2.4 0.1-1.7-1.5-1.3-1.7-0.7-5.3-0.2-3.2-1.2-1.3-0.2-8.5,2.2-1.6-1-3-2.8-2.1-0.6-4-0.3-3.8,0.1-1.2,0.6-1,1.1-1.2,0.4-6.5,0-4.3-1.8-3.8,0.4-4.1-1.6-1.5-1.6-1.4,0-3.5,2.3-2.5,0.8-19.5,1.2-5.7,0.7-6.9,1.8-10.4,3.8-6.9,1.1-6.3,4.9-12.2,5.5-4.8,2.6-4.3,0.2-2.7-1.1-4.2-0.4-2.5,1.1-2.4,3.6-2.1,0.4-5.5-1-9.1,1.3-2.2-0.7-1.5-1.5-1.6,0.3-5.3,3.1-8,1.9-8.1-2.1-2.8-0.3-1.4-1.4 0.9-3.6-1.5-0.7-1.7,0.6-2.5,1.9-3.4,1.6-4.8,1.2-1.5,0-3.4,1.1-2.2-2.1-3.1-4.8-1.9-7.8-0.1-3.5 0.4-1.7-1-0.5-5.7,0.4-4.7,0.9-3.7-0.5-1.7-0.4-1.3-0.9-0.1-1.4-3.1-2.5-2.1-0.7-5-0.2-1.8,0.5-2.7,1.8-2.2,3.6-4.6,2-1.3,0-0.8-0.4-0.5-1.8 5-5.2 0.2-1.7-1.3-0.5-8.8-1.4-2.2-1.4-0.7-1.7 1.7-3.3-0.1-1.6-2.1-2.4-1.5-0.8 0.1-0.7 2.6-3.3 0.8-5.6-0.4-1-0.8-0.6-2.4-0.4-13.5,7-14.9,9.4-16.1,11.8-12.6,10.5-9.2,9-11,12.8-6.5,9.3-6.3,11.2-4.4,11.2-4.4,16.8-1.9,11.2-1.1,14.9 0.6,13.1 1.6,13.1 4.1,16.8 3.8,11.2 4.7,9.3 7,11.2 7.3,9.2 9.9,10.9 17.7,0.6 43.6,2.9 73.2,0.1 14.3,0.6zM158.8,84.3l1.5-2.8 1.4,0.2-0.9,2.1-0.5,0.5zM-215.1,-113.9l4.1-3.4 4.7-2.4 2-0.5-2.8,2.9-4.8,3.3-1.8,1.1-1.7,0.4zM-154.1,-57.8l-7.3-3.8-2.2-1.9-1-1.8 0.4-1.9 1.3-1.8 2.5-2.3 1.8-0.8 1.6-0.1 5.5,1.5 3,0.3 9.2,0 6.4-1 4.6-0.1 5.6,1.8 1.3,0.8 1.5,1.7-0.1,1.9-3,3.7-3.2,1.9-6,2.3-4.9,0.8-6.4,0.4-7.7-0.9z" fill="#fff58c"/><path d="M35.1,85.7l21.8,0.9 19,0.1 76.9-2.2 2.2-1.3 6.9-6.7 1.4-1.9 2.7-5.6 4.9-7.4 3.1-7.1 2.7-4.5 1.7-1.5 1.8-7.9 0.1,2.3-1.1,3.8-1.1,7.4-1.2,3.8-4.1,7.4-2.4,5.6-4.5,5.6-0.4,1.8 0.1,4.4 0.5,1.8 1.2,0.5 4.9-1 5.9,0 2.7,0.5 3.3,1.7 2.6,0.6 4.9-1.1 6.5-3 4.1-0.7 43.6-1.8 16.2-1.6 7.8-0.4 5.5-7.3 4.7-7.4 4-7.5 3.2-7.5 2.8-9.3 3.2-13.1 1.5-9.3 0.9-11.2 0.2-7.5-0.7-11.2-1.2-9.3-1.9-9.3-3-11.2-2.6-7.5-3.4-7.5-5.3-9.3-5.1-7.4-5.9-7.4-8.2-9.1-7.5-7.2-10.4-8.8-11.2-8.5-11.9-8.2-10.8-6.6-1.6,0.4-0.3,1.2 1.7,7.5 1.4,2.8-0.2,0.8-1,1.2-4.1,0.9-3.5,1.3-2.5,2-1.3,1.7-0.9,3.5 0.1,1.7 1.7,5.3-0.1,1.1-0.5,0.7-2.7,0.5-6.8,0.2-3.2,1.2-3.9,2.5-2.7,0.2-3.3,1.4-8.6,0-7.8-1.1-9.8-2.2-4.6-0.6-2.8-2.1-1.9-0.9-2.2,0.8-5.6-2.3-3.6,0.9-2.8,0-6.9-2.5-2.1,0.4-3.3,1.8-2,1.8-0.8,1.7-1,0.9-1.2,0.4-1.5-0.1-1,0.9-1.9,5.2-1.4,1.4-7.7,3.2-1.6-0.6-2.8-4.4-5.1-2.3-3.6-2.8-3-4.3-3.9-3.4-1.4,0-1.1,0.6-0.9,1.4-1.1,0.9-1.4,0.1-31.9-0.1-22.1,1.5-14,2.1-14.3,3.5-8.8,2.7-10.7,4.6-5.1,1.4-8.3,0.2-7.3-0.7-3.1,0.8-4.5,0.5-4.7,1.3-10.2-0.8-4.9,1.6-7.1-1.1-1.5,0.1-8.2,2.7-3.2,0.5-7.2-0.8-6.3,1-5.8-0.6-1.7,0.8-1.1,1.8 0.2,1.9 2,1.5 4.2,1.1 2.3,2.7 0.5,2.1-0.6,1.9-1.3,1.8-4.1,3.6-1.8,1.1-8,2.8-5.5,1.1-8,0.3-9.1-1.4-7.1-2.8-5.1-3.7-1-1-0.6-1.8 0.7-1.9 3.6-3.7 3.2-2.8 2-1.1 3.2-0.6 7.3,2.6 8.3,0.2 1.6-0.2 5.4-1.8 1.9-1.9-0.8-1.4-0.9-0.4-10.4-1.4-1.2-0.5-1.6-3.1-2.2-2.4-0.6-1.8 0.1-2-1.2-0.5-3.9,1.9-3.2,0.5-1.3-0.2-1.2-0.5-0.8-1-2.1-3.7-1.2-0.5-1.5,0.2-4,1.8-1.5,0-2.8-2.2-3.3-1.3-5.8,0.2-9.1-1-3.3-2.8-3-1.4-3.4-2.2-1.1-1.4 0.1-1.8 3.9-8.6-0.2-1.7-1.6-0.8-0.3-0.8 0.8-1.6-8.6,4.8-4.9,3.5-5.9,3.5-2.9,1.3-1.5,0.1-0.1-1.1 1.5-3.8 3.2-3.4 4.9-3.3 11.4-6.5 1.4-1.6-0.1-1.5-1-1.9-1.8-1.2-2.5-0.4-13.2,8.2-14.1,9.9-13,10.4-9.7,9-10,10.9-7.3,9.2-7,11.2-4.7,9.3-2.7,7.5-2.6,9.3-2.2,9.4-1.2,7.4-1,9.4-0.4,9.3 1.1,16.8 2.7,14.9 3,11.2 2.6,7.5 3.4,7.5 4.1,7.4 4.9,7.5 4.2,5.4 49.3,2 23.9,2.5 7.6,0.3 11.5-0.5 32.4-3.6 8.8-0.5 19.6,0.5 47,2.8 5.8-0.7 8.4-2.8 1.6,0.3 3.3,2 2.8-1 1.5,0 6.3,2.2 6,1.1 10.4,0.4 5.9-0.1 4.5,0.9 4.4-0.5z" fill="#ffe650"/><path d="M1.4,72.8l42.6,1.4 25.7,0.3 18.4-0.8 43.7-3.8 10.8,0 17.9,1.1 2.1-1.4 5.6-6.7 7.5-14.4 1.4-3.7 1-5.6 1.7-5.6 1.4,1 1.1,3.1 0.2,7.1-3.5,13.1-5.2,11.1-0.2,3.5 1.2,0.7 3.1-0.1 7-1.9 2.6,0.9 3.1,0 37.9-5.2 28.2-0.8 21.5,0.2 6.6-12.2 4.2-11.2 4.6-18.6 1.3-9.4 0.7-9.3-0.1-13.1-1.9-16.8-4.6-18.6-4.2-11.2-5.9-11.2-7.7-11.2-12.7-14.6-2.4-2.4-4-2.5-2.8,1.4-4.8,0.8-7.6-0.5-9.2,0.8-4.6,1.3-9.5,4.3-5,1.1-7.3,0-12.7-1.5-2.8,0.1-3.6,1.2-7.8,1.6-8.9-0.1-3.8,4-1,0.8-1.5,0.1-1.7-0.6-4.2-2.4-1.5-0.1-1.3,0.4-1.6,2.9-0.8,0.2-3.9-0.6-4,0.8-5.9,0.4-1.9-0.6-5.1-5.5-2.1-1.7-1.7-0.4 0.1,0.3-2.1,1.8-1.2,0.6-2.8,0.3-4.5-0.3-1.4,0.4-3.2,3.6-2.3,1.8-1.5,0.2-3-1.1-1.8-0.1-5.3,2.4-1.4,0.2-1.6-0.3-1.8-0.9-3.7-3.1-2.9-3.7-1.4-1-3.3-1.3-3.1-0.9-4.5-0.6-13.1-0.3-15.7,1.3-34.6,5.8-26.8,2.9-18.2,2.6-27.1,0.5-9.2,0.7-6.4,1.5-3.1,0.2-6-0.2-2.9-0.6-4.8,1.1-4.4-0.4-6.2,0.4-1.7,1.2-1.3,1.9-2.4,5.6-1.3,1.8-8.4,6.2-11.8,3.5-6.5,0.9-4.7-0.1-10.8-1.5-7.2-2.3-6.5-4.5-6-2.2-2.4-1.8-0.3-1.9 0.9-1.8 2.3-2 2.1-1.3 1.7-0.5 3,0.1 1.8-0.5 5.9-5.1 0.4-1.9-1.9-2.1-2.4-1-4.4-0.1-5-1.5-5.5-3-1.4-0.2-2.2,0.6-2.6,1.8-3.4,1.5-1.7,0.2-3.7-1-3.2,0.3-1.1-0.4-2.5-2.9-3.8-0.7-1.1-0.5-1.2-1.9-1.2-0.6-2.6-0.3-1.9,0.9-0.8,0-0.5-0.6-0.2-1.5 0.6-5.1-0.7-0.9-1.1-0.3-1.9,0.5-3.2,1.9-2.1,0.7-2.4-0.5-2.8-1.4-2.8,0-3.4,1.8-0.6,1.7 0.1,1.9-0.5,1.8-2,1.8-3.7,2-3.8,1.1-2.7-0.3-1.9-1 0.1-3.5-1.5,0-5.1,2.5-0.8-0.8 0.2-1.8 1.1-2.4-9,9.7-8.9,11-7,11.2-4.7,9.3-3.8,11.2-2.9,11.2-1.5,7.5-1.7,16.8 0.1,13.1 1.9,16.8 4.6,18.6 4.2,11.2 6.6,12.2 17.6,1.1 37.7,4.1 18.7,0.8 7.4-0.5 7.2-0.9 38.7-7.5 10.7-0.7 26.9,1.7 34.8,3.9 15.6,1 1.5-0.1 2.8-1.7 7.5-2.2 6.6,4.1 4.7,1.1 27.6,1.8 3-0.6 1.5-1.1 1.6-0.4 1.5,0.4 3.1,1.8zM122.8,-91.1l1.5,1.6-0.5-1.6-1.1-1.9z" fill="#ffcd1e"/><path d="M185.6,63.5l0.8,0.7 1.4,0.3 6.4-0.5 1.8-0.5 4.3-3 3.7-1.5 13.7-2.9 19.3-5.5 18.9-4.1 4.9-0.5 6.5-0.1 20.1,1.9 2.1-6.7 3.3-13.1 2.3-14.9 0.6-9.4 0-7.4-0.6-9.4-1.2-9.3-1.5-7.5-2.9-11.2-2.3-7.4-2.4-5.6-3.8-7.5-4.5-7.4-5.3-7.5-5.2-6.3-5.5,0.8 0.1,3.7-1.1,0.4-1.9-0.4-3.6-3.7-0.8-0.2-5.2,0.9-14.3,0.8-18.2,1.8-9,0-15.6-1.1-11.5,0.8-8.2,1.5-6.5,2-4.2,0.9-2.3,1.6-2,2.6-1.4,0.5-1.6-0.3-3.7-1.6-1.4,0.3-6.2,4.2-1.5,0.2-2-1.9-0.6-3.8-1.1-0.7-4.2,1-3.3-0.8-4.5,0.3-3.2-0.7-2.1,0.9-1.7,1.9-0.8,1.9 1.2,1.8 2.7,1.9 0.5,1.8-0.4,3.8-3.3,5.6-2,0.6-1.7-0.8-3.4-3.6-1-1.8-0.5-1.9-1.5-1.2-4.2-0.7-2.4-3.7-1.9-1.8-2.5-1.4-7.6-2.4-4.4-3.3-4.3,1.3-13.7-0.3-12,0.4-33.1,3.5-15.3,1.1-61.3,0.1-7.8,1.1-2.9-1.1-1.5-0.2-13.9,0.4-4.8,1.3-4.7,0.3-5.1,2.4-3.1-0.1-3.3,0.6-5.2,2.8-7.7,2.8-3,1.8-3.5,2.9-1.7,0.5-14.9,3.3-8,0.6-12.4-1.8-6.2-0.5-6.5-5-10.1-2.5-2.5-1.8-1-1.4-1.7-3.6-1.9-2.5-1.2-0.8-3.6,1.1-1.4-0.2-7.5-3.4-1.4-0.1-12.8,3.9-3.4,0.6-3.7-1.7-6.5-2.1-1.9-4.1-1.1-0.6-2.7-0.4-1-0.8-1.2-2.5-1.8-1.4-5.3,1.1-6.3-1.5-5.8,1.7-3.2,0.2-1.3-0.2-4.3-1.9-9.3,11.9-4.7,7.4-4,7.5-2.4,5.6-2.6,7.5-4.6,18.6-1.3,9.4-0.8,11.2 0.5,14.9 1,9.3 1.4,7.5 3.3,13.1 2.1,6.7 11.3,0.5 6.7,0.8 3.5,0.9 5.8,2.8 1.7,0.2 1.4-0.4 3.8,1.5 2.2-2.5 1.4-0.6 1.6,0.2 3.5,0.8 3.9,2.1 3.6,1.1 4.2,2.4 10,1.4 9.7,0.7 7.7-0.2 7.5-0.9 25.3-4.8 15.1-3.4 6.2-0.7 4.8,0 14.6,1.5 22.5,1.6 6.7,2.1 6.5,1.6 1.8,1.4 1.5,1.8 3.8,1.2 4.6-0.4 4.6-0.9 4.6-0.2 6.7,2.6 7.9,1.1 3.1-0.4 7.5-2.1 4.8,0.5 4.5-2.3 3.1-0.7 42.4,0.4 53.3,1 14.1-0.1 9.5-0.6 12.9-1.8 12.7-2.9 11.6-3.7 17.6-7 3.3-0.9 4.9-0.6 3.2,0.2 4.6,1.4 4.4,2.5 11,7.9 1.6,0 2.2-2.6 2.9-4.6 1-3.8 1.3-7.4-0.3-1.9-2.4-5.6-2.4-1.9-1.1-1.8-0.8-3.8-1.3-2.6-0.8-3 0.4-1.8 0.8-0.6 1.5,1.4 1.1,2.9 2.7,3.7 2,3.5 4.4,3.6 2.1,4.1 1.1,5.6 0.3,5.6-0.3,3.8-1.4,5.6-0.1,1.8 0.5,2.6 1.6,1.2 0.7,1.2zM167.5,5.3l-0.8-1.6 0.2-1.8 0.7-1 1.7,0 0.7,1 0.2,1.8-1,1.3z" fill="#ffb40a"/><path d="M-69,54.1l1,0.6 1.5-0.6 0.5-1.8 2.4-1.1 2.4,1.1 1.1,2.5 0.9-0.7-0.2-3.7 0.3-1.9 1.6-1.4 4.8-0.2 1.7,2.3 1.7,1.1 0.4-1.8 1-1.4 1.8-0.4 0.2-1.9-1.1-1.9 0.1-1.8 0.2-1 1.6-1.2 25.8,2.5 16.1,0.7 25.7-0.4 30.6-1.6 16.2-1.5 11.4-1.7 46.5-10.8 5.7-1.8 3.8-1.9 1.8-1.9-0.2-1.8-1.2-1.9-9.6-11.2 0-1.9 2.1-1.8 6.7-1.9 8.3-0.6 8.2,0.6 6.6,1.6 1.6,0 6.5-6.5 2.6-4.4 2.2-0.8 2,0.8 1.5,1.8 0.3,1.9-0.4,3.7 0.8,3.8 0.1,3.7-2.7,5.6 0.4,1.9 2.5,4.1 5.8,7.3 2,3.5 0.9,5.6 0.5,10.5 0.9,3.2 1.5,0.7 3.2-0.2 7,3.7 1.5,0.4 1.6-0.1 2.5-1.4 3.5-3.2 1.8-0.5 9.5-6.7 1.7-0.8 5.1-1.1 3.7-2.4 12.4-4.9 17.3-5.7 6.8-1.6 3.3-0.1 3.1,0.6 3,1.4 8.6,5.9 2.9,1.1 4.8,0.6 2.7-14.3 1.4-16.8-0.2-7.5-0.7-9.3-2.5-15-3.4-13-2.6-7.5-3.4-7.5-5-8.8-0.4,1.4 2,4-1.2,0.6-2.9,0.4-2.8-1.3-0.6-1.9-1.5,0-2.4,9.4 0.7,3.7-1.7,4.4-1,4.9 1.2,3.8-0.6,1.9-1.8-0.8-2.9-5.1-2.5-3.3-5.6-3.9-10.6-10-6.8-4.6-3.7-1.2-5-0.7-34.9-1.9-9.4-0.1-7.5,0.5-8.7,1.4-7,2.3-3,0.3-1.8-0.9-2.4-1.9-3.3-1.3-1.5,0.4-1.1,1.2-1.9,3.4-0.9,3.3-1.3,1-1.7-0.6-2.1-1.9-3.3-0.9-3.7-1.9-1.6-0.3-1.4,0.7-1.5,2.5 0.7,5.6-1.4,3.1-1.4,0.9-4.2,1.6-1.8,1.2-1.5,0.3-11.8-4.5-1.3,2.7-1.5,0.6-36.2,6.6-11.2,1-8-0.5-8.8-1.8-5.9-1.9-19.3-7.5-5.7-1.8-7-1.7-29.1-3.9-19.5-1.9-15.4-0.7-2.1-1.2-2.3-0.6-3.2,0.7-3.1-0.2-4.7,0.6-11.4,2.3-3-0.5-1.6,0.5-0.9,1-0.2,1.8-0.8,1.9-0.6,0.4-4.5-1.5-1.4,1.1-2.1,0.8-1.6,0.1-4.4-1.8-1.5-0.1-3,1-2.6,3.5-1.8,1.1-6.4,0.2-6.5,1-5.7,1.7-8,3.7-3.3,0.7-1.6,0-1.5-0.6-2.7-2.9-1.5-0.6-6.5,0.6-4.5-1.3-2.6-1.5-1.3-2.1-1.7-1.6-2.3-1.2-1.5-0.4-6.5,0.6-10.9-0.5-3.9-2.3-2.8-0.9-4-1.9-2.7-4.6-2.7-0.9-2.7,0.9-3.5,2.6-2.3,1.1-3.4,1.1-1.5-0.1-1.4-1-1.8-2.2-1.3-0.5-10.5-0.8-21.4-0.5-1.3-0.4-3.1-2.6-4-0.9-3.5,0.7-6,2.1-4.1,7-3.6,7.4-3.3,9.4-3.8,14.9-2.1,13.1-0.9,13 0.3,9.4 1.3,13 2.5,12.5 4.8-0.5 7.6-2 3.2-0.3 1.8,0.8 3,2.6 8,9.4 1.8,0.6 3.1-0.4 3.4,1.6 10.1,1 2.7,0.9 2.9,1.9 1.8,0.7 1.6-0.2 7.3-2.2 1.6-0.1 8.2,1 3.4,0.7 2.3,0 14.5-3.7 14.9-5.5 17.8-5.7 8.5-1.9 6.5-0.1 10,1.7 4.9,0.3 17.5-2.3 12.1,0.4 5.9,0.8 2.4,1.1-0.9,1.9-2.7,1.7-1.5,1.6-0.8,2.3-0.2,1.8 0.4,1.9 1.7,1.9 1.4,0.7 6.5,0.6 3.3,1.2 3.3,0.5 5,1.7 6.4,0.9 4.8,0.1zM-234.9,4.8l-0.7-1.1 0.6-1.4 1.7,1.4z" fill="#ff9600"/><path d="M-76.4,46.7l1.3,0.3 3.2,0 1.6-0.3 1.5-1.1 5-4.5 1.4-1.9 0.8-3.7-0.1-1.9-1.5-1.2-1.6,0.1-1.7-0.5-3.3-2-3.3-0.8-1.3-1.2 0.1-3.7-0.8-0.9-3.3-1.3-1.6,1.2-1.8,2.8-1.2,0.9-3.2,0.8-1.6,1.5-6.4,8-0.6,1.9 0.4,1.9 1.3,1.8 1.7,0.9 6.5,1.7 4.8-0.4zM-244.3,35.5l2,0.9 3-0.9 2.1-1.9 0.1-1.9-1.7-1.7-2.8,2.1-2.9,1.5zM203.8,33.6l1.6,1.5 1.7-0.2 3.4-1.2 3.3-0.2 1.6-1.8 0.3-1.8-0.8-2.7-1.5-0.7-1.7-0.1-4.2-5.7-3.1-0.8-1.6-1-1.3-2.1 0.3-1.9 3.3-4.7 5.1-3.9 3.3,0.6 1.6-0.6 0.5-0.7-0.3-1.9-1.7-2.2-1.6-1.4-1.7-0.2-3.1,2-4.1,1.8-2.2,3.8-2.7,1.8-1.2,5.6-0.5,0.7-1.6,0-1.6-0.5-1.7,0.7-1.2,1-0.6,1.9 1.3,2.6 3.2,1.5 0.8,1.5 6.2,5.6zM-258.8,28l1.9,1 1.2-1 0.5-1.9-0.7-1.1-1.8-0.6-1.5,0.7zM-152.5,20.5l10.3,0.4 7.3-0.4 15.5-2.6 6.5,0.1 6.5-1.6 6.5-0.2 8.2-1.3 3.2,0.3 3.4,1.3 1.6,0.3 9.8-0.1 1.7-0.5 0.6-1.3-0.2-1.8-2.2-3.8-0.1-1.8 1.4-1.9 1.9-1.1 1.6-0.4 4.9,0.6 5,1.1 8.1,5.4-1.5,1.2-4.8,1.9-4.7,0.6-0.1,1.9 1.5,0.9 1.7,0.1 4.9,0 1.6-1 3.2-3.4 6.6-0.4 16.4-2.7 8.2-0.4 6.5,0.7 17.9,4.3 9.6,1.9 16.7,2.2 14.7,1 13.1,0.3 11.4-0.3 8.2-0.9 2.2-0.4 2.6-1.9-0.9-1.9-2.9-1.8-2.4-1-8.1-2.6-16.4-3.1-26.9-2.7-11.7-1.8 2.6-1.9 8.4-1.9 40.7-6.3 9.8-2 8.2-2.1 9.7-3.3 6.7-3.1 2.6-1.8 1-1.9-0.1-1.9-1.3-1.8-1.3-0.8-2.8-1.1-3.8-0.4-4.9,0.2-14.6,1.5-11.4,0.2-71.6-3.3-14.6-1.2-8.1-1-6.4-1.4-14.9-5.8-5.8-1.6-6.4-1-6.4-0.2-6.5,0.4-6.5,1.1-11.5,3.2-3.4,1.5-13.2,3.1-4.9-0.2-1.5-0.7-1.5-1.3-1.3-2.4-1.6-0.4-1.4,2.2-0.4,1.9 0.2,1.9 2.3,2.9 3.2,0.2 0.8,0.6 0.6,1.9-1.7,1.8-3.6,0-1.2-1.2-1.3-2.5-1.7-1.3-1.5-0.3-4.7,1.6-0.5,1.2-1.7,1.2-1.5-1.8-1.5-1.2-1.6-0.6-1.7,1-1.6,0.2-16.4,1-1.7,0.2-0.8,0.7-3.1,6.8-1.8,1.2-1.6,0.4-0.9-1-0.5-1.8 2-5.6 1.8-1.9 1.9-0.9 3.2-2.8 0.7-1.9-4.1-5.4-5.6-5.1-1.4-0.8-1.6-0.1-1.8,0.9-0.9,1.2-0.3,1.8 1.1,1.9-0.1,5.6-2.5,7.2-1.7,0.7-11.9,1.4-7,1.9-3,1.9-1.1,1.8 0.1,1.9 0.7,1.9 1.3,1.8 1.9,1.9 8.7,5.6 2.2,1.9 0.7,1.8-0.6,1.9-2.2,3.7-0.7,1.9-0.2,1.9 0.6,1.8 1.4,1.9 4.8,3 7.2,2.6 7.7,1.9zM-108.4,5.7l-1.4-2-0.1-1.8 0.7-1.9 2.4-2.1 1.6-0.1 0.4,0.3 0.2,1.9-0.7,3.7-1.5,2zM221.4,20.5l0.7,1.1 1.7,0.1 3-1.2 2.7-1.8 1.3-1.9 0.2-1.9-0.9-1.8-2.5-1.9-2.8-1.3-1.6-0.4-1.7,0.6-0.8,1.1-0.5,1.9 1.6,3.7zM-247.4,14.9l3.4,0.9 1.5-1.2 0.7-3.4-0.4-1.9-0.7-0.6-1.6,0.1-4.7,3.8-0.2,0.5zM212.6,14.9l0.3,0.3 0.5-0.3 0.5-1.8-0.7-0.8-0.5,0.8zM-226.8,0l1.7,1 1.6-0.8 1.9-2.1 4.7-3.7 1.5-1.9 2.2-4.2 2.6-3.2 0.9-1.9 0.7-3.7-1.4-1.9-1.8-0.5-3.3,0.1-5.1,1.6-1.7,1.4-0.5,1.1 0.4,3.8-0.1,1.8-2.1,5.6-0.3,0.6-3.9,1.3 0.1,1.9zM-277.9,-3.7l1.9,0.7 1.6-0.6 5.3-5.7 1.6-0.4 3.1,2.8 1.7,0.1 5-1.2 1.6,0 1.6,0.7 3.2,2.5 1.6,0.7 3.3,0.5 1.6-0.9 1.7-3 2.8-3.7-1.3-5.6 0-1.9 1.5-1.8 5-1.9 2.7-1.9 1.6-1.8 0.9-1.9 0-1.9-0.6-0.8-3.1-0.7-4.9,0.1-3.2-0.5-8.8-4.2-2.3,0.5-4.8,2.3-3.4,0.7-4.2-1.1-3-2.7-9.3,8.3 0,1.9-2.9,5.6 0.7,3.7-0.7,3.7 0.1,3.8 1.2,3.7zM236.7,-11.2l4.5,1.3 3.3,0.4 4.9-0.5 3.2-1.1 3.5-2 2.7-2.5 1.5-3.1-0.3-1.8-1.3-1.9-2-1.9-5.5-3.7-6-2.6-5.1-1-8.1-0.1-7.9,1.1-2.9,0.7-3.3,1.6-2.4,2.2-0.3,1.8 0.9,1.9 1.9,1.9 8,4.6zM289.7,-13.1l2.2,1.6 1.7-1.6-0.6-3.7-0.1-3.7-1-3.9-1.6,0.2-1.5,0.8-0.7,1 0.8,1.9 1.7,1.8 0.3,1.9-1,1.9zM274.7,-14.9l2.2,0.9 1.6-0.5 0.8-0.4 1.1-1.9-2.2-0.6-3.2,0.2-1,0.4zM-221,-24.3l0.8,0.3 0.2-0.3-0.9-3.7 2.6-1.9 2.3-0.5 2.7,0.5 3.3,3 1.6,0 1.8-1.1 4-3.7 3.4-2 1.6-1.8 1.9-5.6-0.3-1.8-2.5-2.8-4.7-0.2-1.6-0.4-6.5-5.2-1.4-0.7-3-0.6-1.6,0.3-2,1.2-0.8,0.9-1.5,3.7-1.9,1.9-0.9,1.9 0,1.8-1.1,3.8 0,1.8 0.6,1.9 2,3.7 0.1,1.2 0.7,0.7 0.3,3.4zM-283.6,-29.9l2.4,0.8 3.2-0.8-0.5-1.8-2-0.6-3.3,0.2-0.5,0.4zM-139.2,-35.5l1.6,1.2 1.7-0.2 1.7-1.1 1-1.7 0.5-1.9 0.2-1.9-0.6-2.8-1.6,0-3.4,1.1-2.2,1.7-0.3,1.9z" fill="#ff7d00"/><path d="M-75.5,37.3l1.3,0.6 1.1-0.6-1.2-0.4z" fill="#ff5500"/><path d="M-157.4,150.5l314.8,0 9.2-2.7 11.1-4 12.3-5.1 9.1-4.2 16-9.1 19.4-13.5-9.5,0.3-32.1-0.4-17.5,0.5-21.4-0.7-31.7,2.3-40,0.2-53.3,3.4-20.2,0.5-22.7-0.5-98.2-3.7-10.1,0.2-30.4,1.9-23.6,0.6-14.6-0.9-15-1.5-17.8-4-4,0-6.9,1.8 19.4,13.5 16,9.1 9.1,4.2 12.3,5.1 11.1,4zM171.2,-112.3l5,0.8 1.3-0.1 0.6-0.7 0.3-0.9-0.4-4 1-2.4 0.4-3.8 0.3-0.7 1.7-1.3 0.1-1.5-0.6-1.6-1.2-1.5-6.8-6.7-5.3-3.7-1.6-1.6 0-0.6-0.7-1 3.6-1 5.8-0.4-17.3-5.5-314.8,0-17.3,5.5 8.6,0.5 8.3,1.5 19,6.6 1.1,0.7 0.7,1.9 4.1,1.1 5.8,4.1 1.8,4.8 2.3,2.5 1.9,0.8 4.1-0.5 1.1,0.2 4.4,2.5-0.3,4.3 0.5,1 0.9,0.6 2.8-0.4 5.1-1.9 5.9-1.4 2.3,0.4 1.9,1.3 2.1,0.9 10,0.6 7.7,0.1 3.2-1.2 2.6-0.4 8.9,0.4 5.3-0.5 4.8,1 7.9-0.6 1.4-0.5 4.4-2.6 5.3-1.7 10.3-1.8 4.4-3.1 10.5,0.5 2.7-0.5 0.1-1.6-0.4-0.7-2.6-2.4 5-1 9.2-0.3 8.1,0.2 12,2 11.3-1.5 15.4,0.8 10.5,2.2 1.6,0.7 2,1.7 3,1.1 4.2-1.2 1.3,0 7.5,2.5 14.9,2.1 6.5,4.1 1.3,0 4.6-2.4 3.5-0.5 9.2,0.5 6.6,2 8.9,1.4 2-0.6 0.6-0.8 1.6-3.4 0.1-1.6 0.8-0.4 16.4,6.5z" fill="#8ccdf0"/><path d="M-157.4,150.5l314.8,0 17.4-5.6 18.3-7.5 14.3-7.4 14.2-8.9-20.4-0.4-40.1-1.8-4.6-0.4-0.8-0.4-0.7-1.9-0.8-0.5-7.5,1.2-29.8,8.5-7.9,1.1-9-1.1-11.4-2.2-8.1-0.8-12.2,0.1-28.7,2.1-14.4,0.2-15.5-0.9-58.3-4.8-39.3-1.1-30.2,0-16.4,1.3-13.2,0.5-8.1-0.6-7.4,1.3-10.7,0.3-47.7,0.3 14.2,8.9 14.3,7.4 18.3,7.5zM168.9,-114l3.4,1.1 3.1,0.5 1.2-0.1 0.7-0.5 0.1-2.4-0.5-2.8 0.8-1.5 0.1-4.9 1.3-2.3-2.2-3.1-9.6-8.7-4-2.7-5.4-2.4-1.9-1.2 0.4-0.7 1.8-0.4 11.5-0.6-12.3-3.8-314.8,0-12.3,3.8 6.8,0.2 6.5,0.8 16.2,3.1 13.5,1.9 5.3,1.3 2.6,1.1 2.2,1.5 4.9,5.5 1.8,0.5 3.7-0.2 1.7,0.6 1.9,1.8 3.5,4.8 0.9,0.4 4.4-0.4 0.8-3.1 1.9-1.6 2.3,0 3.3,1.6 0.8,1.5 0.4,3.1 0.7,1 4.3-1.2 3.8,2.3 1-0.4 1-1.6-1-4.6 0.5-1.7 2.5-1.4 1.1,0 5.1,1.3 0.8,0.7 0.5,1-2.4,3.1-0.2,1.6 0.9,1.6 1.1,0.8 5.9,1 3.9-0.4 4.9,0.1 2.6-0.4 3.3,1.5 1.3,0.1 2.6-0.4 4.5-3.1 5.9-2.4 1.5-1.6-1.3-4.6 0.8-1.5 2.9-1.7 5-2.1 5.7-1.6 6.6-1.1 7.4-0.5 17.1,0.5 42.2,2.8 3.7,0.6 3.5,2 6.1-0.9 5.3,1.1 1.8,0.9 2.5,2.1 1.7,0.8 3.5,0.1 2.7,0.5 0.9-0.4 0.6-0.8 1.1,0 6.6,0.9 2.1,1.3 1.8,1.6 2.9,1.5 2.5,0 1.2-1.5 1.4,0.2 4,2 1.4,0.2 2.2-0.2 2.9-0.8 1.3,0.1 5.8,1 10.3,3.3 1.3,0.1 0.4-0.9 0-1.8-3.5-2-3.5-2.7-3.4-3.1-2.5-3-0.5-1.5 1.2-0.6 2-0.2 3.2,0.7 5.4,2.5 20.5,13.2z" fill="#50c3f0"/><path d="M-157.4,150.5l314.8,0 14.6-4.6 18-7.2 12-5.7 13.1-7.6-13.9,0.4-29.4-0.2-10.8-1-11.4-1.8-2.7-0.9-0.8-1.7-1-0.2-2.8,0.3-9.9,4.1-11.3,3.2-6.3,1.7-6.9,1.2-3.7,0.3-5.4-0.4-14.2,0.6-17.1-0.1-24.3,0.6-13.4-0.8-32.2-3.1-23.9-3.8-21.7-2.8-7.6-0.6-18.5,0.2-25.1-0.6-15.7,0.5-6.7,0.9-5.2,1.1-4.5,0.4-15.4-0.8-7.6-1.4-3.2,0.5-2.5,1-6.9,0.4-8.1,1.4-38.2,1-1.9,0.4 13.1,7.6 12,5.7 18,7.2zM171.1,-114l3.4,0.8 1.3-0.1 0.7-0.5 0.1-1.8-0.7-3.3 0.8-1.6 0-1.7-0.6-3.7 0.3-1-0.8-1.6-9.6-8.9-6-4-4.7-2.4-8.6-2.1-2.8-1-0.3-0.5 1.4-0.9 2.8-0.6 14.7-0.2-5.1-1.4-314.8,0-5.1,1.4 33.8,1.7 38.8,0.2 29.2-1.7 17.7-0.6 67.9-0.3 22.9,0.6 33.6,2.7 5.7,0.7 1.8,0.9-0.8,0.5-2.1-0.1 0.8,1.9 1.3,1.2 8.7,4 1.5,1.5 2.8,0.8 7.8,1.1 0.8-0.3 0.3-0.7 2.7-0.6 0.3-0.6-0.2-1.8 6.7,1.8 5.3-0.9 5,0.5 4.8,1.9 6.5,3.2 22.4,14.2z" fill="#0ac3fa"/><path d="M-157.4,150.5l314.8,0 14.6-4.6 14.9-5.8 12.2-5.6 11.9-6.6-3.6,0.1-17.6,2.9-8.3,1.6-20.7,4.9-7.9,1.4-7.8,0.9-12.7-0.6 0.3-0.8 1.9-2-0.2-0.6-0.4-0.5-1-0.1-2.5,1 6.3-6.1 2.4-2.9-2.4,0.1 2.8-4.1-2.1,0.7-10.2,5.7-4.5,2.1-10,1.9-10.2,0.2-7.3-0.6-6,0.4-12.4,1.7-10.4-0.8-17.1,0.9-20.5,2.3-10.1,1.9-9.5,0.7-8.3-0.2-4.2-1.6-3.2-0.6-3.2-0.2-1,0.5-1.3-1.8-1.1,0.3-0.9,0.8-1.2-1.5-1-4.4-1.3-2.3-23.7-5.6-14.1-2.1-18.2,0.6-12.6-0.7-5.9,0.4-6.5-0.5-16.4,0.9-5.4,0.9-0.9,0.4-1.7,2.1-3.5,1.4-7-2.3-12.1-1.3-7.9-1.8-4.7,1.4-8.4,1.1-6.3,1.7-15.7,1.5-20.5-0.3-1.9,0.3-0.2,0.6 6.2,3.6 14.8,7.2 18,7.2zM168.8,-115.6l4.9,1.6 1.3,0 0.6-0.7 0.2-1-0.9-3.2 0.6-1.7 0-1.6-0.8-3.2-1.8-3.1-4.2-4.5-5-4.4-6.1-4-2.1-1.2-3.5-1.2-5.9-1.3-6.2-0.7-7.1-0.2-1.5,0.7-6.9,1-2,1.1-0.2,0.6 0.7,1.2 1.9,1.3 17.8,8.6 10.5,6.1 12.2,8.1zM98.8,-140.1l8,0.7 0.8-0.2 0.5-0.4-0.2-0.9 0.9-0.8 2.4,0.3-0.6-1.2-7.1-2-1.1,0-1.8,0.7-4.7,0.2-1.2,0.6-0.1,0.5 1.4,1.2z" fill="#14aaf8"/><path d="M-157.2,150.5l178.3,0 67.4-0.5 67.4,0.5 2-0.1 8.7-2.6 17.2-6.4 15.3-6.9 6.4-3.4 0.4-1.1-0.1-0.4-1.2,0-19.3,3.3-28.2,6.5-15.4,2.6-8.5,0.3-4.7-0.8-0.1-0.6 2.4-2.1 0.3-0.9-0.4-0.4-1.2,0-3.3,1.5 7.1-7.5 0.3-0.4-1.5,0.3 3.1-3.9-0.3-0.8-8.5,4.8-5.2,2.5-14.4,2.9-14.9,0.8-6.3-1.2-12,1.3-8.7-1.2-20.7,2.4-14.8,0.2-11,2.1-11.3,0.9-7.1-0.2-4.6-1.9-3.8-0.8-1,0.1-1,0.9-1.2-1.4-3.1,0.4-2.3-7.8-1.4-1-22.3-5.5-14.1-2.4-18,0.6-12.6-0.8-5.8,0.5-6.5-0.6-16.4,0.9-6.1,1.4-1.9,2.3-3.3,1.1-6.8-2.2-5.8-1.1-6.4-0.3-8-1.9-5.5,1.7-7.3,0.9-6.1,1.8-8,1-8.3,0.8-19.6-0.6-1.1,0.4 1.2,1.5 1.6,1.1 15.5,7.6 18,7.2zM170.9,-115.6l3.1,0.6 0.7-0.5 0-1.8-0.7-2.4 0.4-2.5-1.5-3.2-3.5-4.6-4.4-4.5-9.4-6.9-2.5-1.2-4.3-1.3-11.5-1.3-2.9,0-1.4,0.8-4.1,0.6-1.5,1.1 1,1.3 5.6,4 21,12 12.2,8.1z" fill="#1e96f5"/><path d="M-159.1,150l3.8,0.5 121.6,0 51.5-0.7 12.9-0.7 2-0.5 1.1-0.8 0.9-1.9-1.1-2.1-1.7-1.2-1.6-0.4-2,0-5.5,1.4-6.3,0.2-6.8,1.4-3.9,0-5.8-0.6-5.7-3.2-2.5-0.7-1,0.2-0.9,1.3-1.2-1.6-1.1,0-0.9,0.9-1,0-2.1-6.2-1.6-2.5-13.4-4.3-23-4.8-17.8,0.6-12.6-0.9-5.8,0.4-6.5-0.6-16.1,1-5.7,1.2-2,2.3-3.5,1.3-6.9-2.2-5.8-1.1-6.3-0.4-8-1.9-4.5,1.5-8.1,1.2-5.9,1.9-8.6,1.3-11.7,0.7-13.7-0.6-1.9,0.2 1.8,1.7 2.8,1.7 14.5,7.1 14.7,5.8zM150.7,150l6.1,0 4.8-0.6 7.7-2.5 10.6-3.9 15-7.1 6.5-3.8-0.3-0.5-1.5,0.3-23.2,4-26.3,6.7-7,2.1-8.2,1.6-7.5,0.6-6.6,1.5-3.8-0.8-0.2-0.3 4.8-3.5 4.3-2.4 0.8-1.3-4.1,2.5-9.2,4 4.7-3.7-0.5-0.3-1.7,0.3 0.1-0.6-0.8-0.2-5.9,1.2-2.2,1.6-2.4,2.9 0.3,0.8 2.2,0.2 13.9-0.1 6.3,0.7zM169.3,-117.3l3.5,1.1 0.8-0.3 0.3-1-0.9-3.1 0-1.6-0.8-1.6-4.9-6.2-4.1-4.5-7.6-5.6-5-2.5-8.2-1.6-6.4-0.2-4.8,1.8 0.8,1.4 5.1,3.8 8.3,4.4 20.8,14.1z" fill="#2d82eb"/><path d="M-158.1,150l55.6,0.5 56.8-0.2 27-0.5 8.8-0.4 0.9-0.4 2.7,0.3 3.9-0.7-5.5-5.1-1,0.5-0.5,2.9-1.3-2.4-0.9,0.7-0.7,1.2-1-0.2-3.9-9-5.9-2.2-5.8-3.5-3.3-1.1-12.4-2.7-9.2-2.5-14.1,0.6-16.1-1.1-5.9,0.3-6.5-0.7-5.7,0.3-11.3,0.9-4,0.9-0.9,0.3-1.6,2.1-3.4,1.2-6.8-2.1-5.8-1.1-6.3-0.3-8.1-2-4.3,1.5-8,1.2-5.4,2.1-4.8,0.7-5,1.3-13.7,0.7-10.7-1 0.2,0.8 4.4,2.7 14.6,6.9 14.2,5.5zM152.1,148.6l8.7,0.2 4.8-1.3 15.1-5.7 7.9-3.9 0.4-0.5-9.5,0.3-10,2.4-3.5,1.3-6.9,3.5-5.4,1-1.7,1-0.7,0.9zM168.3,-118.9l2.7,1.1 1.2-0.1 0.3-0.9-2-5-7.5-9.2-5.9-4.7-6.2-3.7-4.1-1.2-8.3-1-3.5,1.2-0.2,1 3,2.7 8.4,4.2z" fill="#3c6ee1"/><path d="M-139.3,150l47.9,0.3 48-0.3 19.9-0.7 6.2-0.7 0.4-0.8-0.6-1.9-1-1.3-7.3-4.5-3.3-4.2-2-1.8-2.6-1-12.1-2.4-6.9-2.8-5.7,0.4-8.2,0-8.9-1.3-13.3-0.4-7.8-0.9-19.4,2.3-0.9,0.2-2.3,2.5-2.5,0.8-6.9-2.1-5.7-1-6.1-0.3-8.2-2.1-4.1,1.6-7.9,1.2-4.9,2.4-4.3,0.8-6.2,2.4-7.1-0.2-12.2,0.6 4.3,2.6 11.7,5.2 11.1,4.3 7.8,2.4 3.1,0.5zM168.6,-120.6l1,0 0.1-0.6-0.4-1-6.9-9.3-3.1-3-6-4.1-3.4-1.8-6.4-1.8-3.4-0.1-1.7,0.9 0.7,1.3 10.4,5.6 5.3,4.5 10.8,7.8z" fill="#3250eb"/><path d="M-108.2,150l36.6,0 26.9-0.4 10.5-0.4 3.3-0.6 0.4-0.8-0.9-4-3.1-3.7-1.9-1.4-7.4-2.8-10.1-2.9-4.8-0.7-6.9-0.1-8.3-2.4-13.3-0.8-6.8-1.3-10.4,0.8-9.3,1.9-1,0.2-1.4,2-3,1.3-7-2.3-5.6-0.8-5.8-0.1-8.6-2.4-4.5,2-8.8,1.1-2.6,2.1-4.1,0.9-6.9,3.4-4.3,1-4.8,0.2-2.1,0.5 0.4,0.6 8.3,3.8 10.6,3.9 5.7,1.5z" fill="#1e3cf5"/><path d="M-130.7,149.3l35.6,0.5 25.6-0.1 21.5-0.8 2.7-0.3 0.5-0.8-3.4-5.2-1.4-1.2-4.5-1.4-4.6-2.1-8.2-1-9.3-3.7-2.4-0.2-2.9,0.6-2.3-0.1-6.4-2.4-3.9-0.5-10.6,0.9-2.8,0.6-4.3,1.3-1.3,1.8-2.6,1.5-6.6-1.8-5.2-0.6-5.6-0.1-7.8-1.6-3.4,1.5-8.3,1.8-1.4,2.3-2.7,1.4-3.3,3.3-2,0.9-1.2,1.1 0.2,1 3.8,0.9z" fill="#0a0aff"/>
<use href="#grid"/><use href="#coast"/><use href="#lakes"/>
<path d="M205.7-90.5h0m-33.4,14.1h0m-309.7,4.7h0m305,0h0m9.5,0h0m-328.8,4.8h0m28.6,0h0m-4.7,4.7h0m295.4,0h0m-300.2,4.7h0m-23.8,4.7h0m28.6,0h0m9.5,0h0m9.5,0h0m9.6,0h0m266.8,0h0m9.5,0h0m-281.1,4.7h0m181,0h0m-214.4,4.8h0m9.6,0h0m9.5,0h0m9.5,0h0m181.1,0h0m9.5,0h0m9.6,0h0m19,0h0m-42.9,4.7h0m28.6,0h0m9.5,0h0m152.5,0h0m9.5,0h0m-185.8,4.7h0m9.6,0h0m19,0h0m9.5,0h0m-385.9,4.7h0m9.5,0h0m9.5,0h0m9.6,0h0m9.5,0h0m314.5,0h0m-366.9,4.7h0m9.5,0h0m9.5,0h0m9.6,0h0m9.5,0h0m9.5,0h0m9.6,0h0m333.5,0h0m-386,4.8h0m19.1,0h0m9.5,0h0m9.6,0h0m9.5,0h0m238.2,0h0m9.6,0h0m9.5,0h0m9.5,0h0m9.6,0h0m9.5,0h0m181,0h0m-519.3,4.7h0m9.5,0h0m9.5,0h0m9.6,0h0m19,0h0m228.7,0h0m9.6,0h0m9.5,0h0m9.5,0h0m9.6,0h0m9.5,0h0m209.7,0h0m9.5,0h0m-538.5,4.7h0m9.6,0h0m19,0h0m9.6,0h0m247.7,0h0m9.6,0h0m9.5,0h0m9.5,0h0m9.6,0h0m-42.9,4.7h0m9.5,0h0m9.5,0h0m9.6,0h0m9.5,0h0m-319.3,4.7h0m9.6,0h0m276.3,0h0m9.6,0h0m-290.7,4.8h0m285.9,0h0m9.5,0h0m104.9,0h0m19,0h0m-414.5,4.7h0m381.2,0h0m19,0h0m19.1,0h0m9.5,0h0m-42.9,4.7h0m9.6,0h0m28.6,0h0m-424.1,4.7h0m19,0h0m324,0h0m38.2,0h0m9.5,0h0m9.5,0h0m9.6,0h0m9.5,0h0m9.5,0h0m-443.1,4.7h0m9.5,0h0m9.5,0h0m9.6,0h0m324,0h0m9.5,0h0m38.1,0h0m9.6,0h0m9.5,0h0m9.5,0h0m9.6,0h0m114.3,0h0m9.6,0h0m-548,4.8h0m390.7,0h0m19.1,0h0m9.5,0h0m114.3,0h0m9.6,0h0m-557.5,4.7h0m9.5,0h0m9.5,0h0m19.1,0h0m371.7,0h0m9.5,0h0m9.5,0h0m-433.6,4.7h0m9.5,0h0m9.6,0h0m9.5,0h0m9.5,0h0m-33.3,4.7h0m4.7,4.7h0m114.4,0h0m19.1,0h0m19,0h0m305,0h0m9.5,0h0m-471.7,4.8h0m9.5,0h0m447.9,0h0m9.5,0h0m-462.2,4.7h0m47.7,18.9h0m9.5,0h0m9.5,0h0m-14.2,4.7h0m466.9,0h0m-152.4,9.4h0m9.5,0h0m9.5,0h0m9.5,0h0m-71.4,4.7h0m9.5,0h0m19,0h0m9.6,0h0m9.5,0h0m9.5,0h0m9.6,0h0m9.5,0h0m9.5,0h0m-90.5,4.8h0m9.5,0h0m9.6,0h0m9.5,0h0m9.5,0h0m9.6,0h0m9.5,0h0m9.5,0h0m9.5,0h0m9.6,0h0m-338.4,4.7h0m238.3,0h0m19.1,0h0m9.5,0h0m9.5,0h0m9.5,0h0m9.6,0h0m9.5,0h0m9.5,0h0m9.6,0h0m9.5,0h0m9.5,0h0m-109.6,4.7h0m28.6,0h0m9.6,0h0m9.5,0h0m9.5,0h0m9.6,0h0m9.5,0h0m9.5,0h0m9.5,0h0m9.6,0h0m-109.6,4.7h0m9.5,0h0m19.1,0h0m9.5,0h0m9.5,0h0m9.5,0h0m9.6,0h0m9.5,0h0m9.5,0h0m9.6,0h0m9.5,0h0m9.5,0h0m-319.2,4.7h0m19,0h0m9.6,0h0m47.6,0h0m9.6,0h0m9.5,0h0m9.5,0h0m9.5,0h0m9.6,0h0m85.7,0h0m28.6,0h0m9.6,0h0m9.5,0h0m9.5,0h0m9.6,0h0m9.5,0h0m9.5,0h0m9.5,0h0m9.6,0h0m-319.3,4.8h0m9.5,0h0m9.6,0h0m9.5,0h0m19.1,0h0m19,0h0m9.5,0h0m19.1,0h0m9.5,0h0m9.6,0h0m9.5,0h0m9.5,0h0m9.5,0h0m95.4,0h0m9.5,0h0m9.5,0h0m9.5,0h0m9.6,0h0m9.5,0h0m9.5,0h0m9.6,0h0m9.5,0h0m-328.8,4.7h0m9.6,0h0m9.5,0h0m19,0h0m9.6,0h0m9.5,0h0m28.6,0h0m19.1,0h0m9.5,0h0m9.5,0h0m9.5,0h0m9.6,0h0m9.5,0h0m66.7,0h0m143,0h0m9.5,0h0m19,0h0m9.6,0h0m9.5,0h0m-405,4.7h0m19,0h0m9.6,0h0m9.5,0h0m9.5,0h0m9.6,0h0m9.5,0h0m19,0h0m9.6,0h0m9.5,0h0m9.5,0h0m9.6,0h0m19,0h0m47.7,0h0m9.5,0h0m9.5,0h0m9.6,0h0m9.5,0h0m133.4,0h0m28.6,0h0m-385.9,4.7h0m9.5,0h0m9.5,0h0m9.5,0h0m9.6,0h0m9.5,0h0m9.5,0h0m19.1,0h0m9.5,0h0m9.6,0h0m9.5,0h0m9.5,0h0m9.5,0h0m9.6,0h0m9.5,0h0m47.6,0h0m19.1,0h0m9.5,0h0m-195.3,4.7h0m9.5,0h0m9.5,0h0m9.6,0h0m28.5,0h0m9.6,0h0m9.5,0h0m9.5,0h0m19.1,0h0m-23.8,4.8h0m28.6,0h0" stroke="#000" stroke-width="2.2" stroke-linecap="round" fill="none"/>
</g><use href="#outl"/></g>
<text x="1046.3" y="415.6" font-size="13.8" text-anchor="middle" xml:space="preserve">TREFHT: CESM2_1: GM=286.9 PatCor vs Obs =0.99</text>
<rect x="784.4" y="743.5" width="23.81" height="8.6" fill="#0a0aff" stroke="#000" stroke-width="1.2"/><rect x="808.21" y="743.5" width="23.81" height="8.6" fill="#1e3cf5" stroke="#000" stroke-width="1.2"/><rect x="832.02" y="743.5" width="23.81" height="8.6" fill="#3250eb" stroke="#000" stroke-width="1.2"/><rect x="855.83" y="743.5" width="23.81" height="8.6" fill="#3c6ee1" stroke="#000" stroke-width="1.2"/><rect x="879.64" y="743.5" width="23.81" height="8.6" fill="#2d82eb" stroke="#000" stroke-width="1.2"/><rect x="903.45" y="743.5" width="23.81" height="8.6" fill="#1e96f5" stroke="#000" stroke-width="1.2"/><rect x="927.26" y="743.5" width="23.81" height="8.6" fill="#14aaf8" stroke="#000" stroke-width="1.2"/><rect x="951.07" y="743.5" width="23.81" height="8.6" fill="#0ac3fa" stroke="#000" stroke-width="1.2"/><rect x="974.88" y="743.5" width="23.81" height="8.6" fill="#50c3f0" stroke="#000" stroke-width="1.2"/><rect x="998.69" y="743.5" width="23.81" height="8.6" fill="#8ccdf0" stroke="#000" stroke-width="1.2"/><rect x="1022.5" y="743.5" width="23.81" height="8.6" fill="#ffffff" stroke="#000" stroke-width="1.2"/><rect x="1046.31" y="743.5" width="23.81" height="8.6" fill="#ffffff" stroke="#000" stroke-width="1.2"/><rect x="1070.12" y="743.5" width="23.81" height="8.6" fill="#fff58c" stroke="#000" stroke-width="1.2"/><rect x="1093.93" y="743.5" width="23.81" height="8.6" fill="#ffe650" stroke="#000" stroke-width="1.2"/><rect x="1117.74" y="743.5" width="23.81" height="8.6" fill="#ffcd1e" stroke="#000" stroke-width="1.2"/><rect x="1141.55" y="743.5" width="23.81" height="8.6" fill="#ffb40a" stroke="#000" stroke-width="1.2"/><rect x="1165.36" y="743.5" width="23.81" height="8.6" fill="#ff9600" stroke="#000" stroke-width="1.2"/><rect x="1189.17" y="743.5" width="23.81" height="8.6" fill="#ff7d00" stroke="#000" stroke-width="1.2"/><rect x="1212.98" y="743.5" width="23.81" height="8.6" fill="#ff5500" stroke="#000" stroke-width="1.2"/><rect x="1236.79" y="743.5" width="23.81" height="8.6" fill="#ff1e0a" stroke="#000" stroke-width="1.2"/><rect x="1260.6" y="743.5" width="23.81" height="8.6" fill="#f00000" stroke="#000" stroke-width="1.2"/><rect x="1284.41" y="743.5" width="23.81" height="8.6" fill="#d20000" stroke="#000" stroke-width="1.2"/><text transform="translate(808.21,775.6) scale(1,1.075)" font-size="21" text-anchor="middle">220</text><text transform="translate(855.83,775.6) scale(1,1.075)" font-size="21" text-anchor="middle">230</text><text transform="translate(903.45,775.6) scale(1,1.075)" font-size="21" text-anchor="middle">240</text><text transform="translate(951.07,775.6) scale(1,1.075)" font-size="21" text-anchor="middle">250</text><text transform="translate(998.69,775.6) scale(1,1.075)" font-size="21" text-anchor="middle">260</text><text transform="translate(1046.31,775.6) scale(1,1.075)" font-size="21" text-anchor="middle">270</text><text transform="translate(1093.93,775.6) scale(1,1.075)" font-size="21" text-anchor="middle">280</text><text transform="translate(1141.55,775.6) scale(1,1.075)" font-size="21" text-anchor="middle">290</text><text transform="translate(1189.17,775.6) scale(1,1.075)" font-size="21" text-anchor="middle">300</text><text transform="translate(1236.79,775.6) scale(1,1.075)" font-size="21" text-anchor="middle">310</text><text transform="translate(1284.41,775.6) scale(1,1.075)" font-size="21" text-anchor="middle">320</text>
<path d="M1342.1,423.6H1442.4V724H1342.1M1342.1,424.6v-10.4M1342.1,723v10.6M1362.16,424.6v-10.4M1362.16,723v10.6M1382.22,424.6v-10.4M1382.22,723v10.6M1402.28,424.6v-10.4M1402.28,723v10.6M1422.34,424.6v-10.4M1422.34,723v10.6M1442.4,424.6v-10.4M1442.4,723v10.6M1441.4,462.64h10.4M1441.4,517.21h10.4M1441.4,573.2h10.4M1441.4,629.19h10.4M1441.4,683.76h10.4" stroke="#000" stroke-width="2" fill="none" stroke-linecap="butt"/><text x="1460" y="467.94" font-size="14.5">60N</text><text x="1460" y="522.51" font-size="14.5">30N</text><text x="1460" y="578.5" font-size="14.5">0</text><text x="1460" y="634.49" font-size="14.5">30S</text><text x="1460" y="689.06" font-size="14.5">60S</text><text x="1342.1" y="749.8" font-size="12" text-anchor="middle">200</text><text x="1382.22" y="749.8" font-size="12" text-anchor="middle">240</text><text x="1422.34" y="749.8" font-size="12" text-anchor="middle">280</text><text x="1392.25" y="412.6" font-size="9" text-anchor="middle">K</text>
<path d="M1392.8,427.7 1392.1,429.3 1391.9,430.9 1391.8,432.4 1391.3,433.8 1391.2,435.2 1391.4,436.5 1392.2,437.7 1393.3,438.8 1394.6,440 1395.8,441.1 1397,442.2 1398,443.4 1398.9,444.5 1399.7,445.6 1400.9,446.7 1401.9,447.8 1402.8,448.9 1404,450 1404.8,451.2 1405.7,452.3 1406.8,453.4 1407.9,454.5 1409.1,455.6 1410.4,456.7 1411.3,457.8 1412.2,458.9 1413.4,460.1 1414.4,461.2 1415.1,462.4 1415.5,463.7 1416.3,465 1416.6,466.4 1417,467.9 1417.5,469.4 1417.8,470.9 1418.2,472.4 1418.3,474 1418.5,475.4 1419.1,476.9 1419.8,478.3 1420.5,479.7 1421,481.1 1421.5,482.5 1422.1,483.8 1422.8,485.2 1423.4,486.6 1424,488 1424.7,489.5 1425,490.9 1424.9,492.4 1425.2,493.9 1425.3,495.4 1425.4,497 1425.6,498.5 1425.9,500 1425.9,501.6 1426.1,503.1 1426.4,504.6 1426.5,506.1 1426.9,507.5 1427.3,508.8 1427.9,510.2 1428.5,511.4 1429.3,512.7 1430.3,513.9 1431.2,515.1 1432.3,516.4 1433.2,517.6 1433.6,519 1434.7,520.3 1435.6,521.6 1435.9,523 1436.9,524.4 1437.6,525.8 1438.1,527.2 1438.5,528.6 1438.6,530 1438.7,531.5 1438.6,532.9 1438.9,534.4 1439.3,535.9 1439.6,537.4 1440.1,538.9 1439.9,540.4 1439.9,542 1440,543.5 1439.9,545 1439.9,546.6 1439.8,548.1 1439.9,549.6 1439.9,551.1 1440.1,552.7 1440.1,554.2 1440.2,555.7 1440.2,557.2 1440,558.7 1440,560.2 1439.9,561.7 1439.7,563.2 1439.5,564.7 1439.5,566.3 1439.6,567.8 1439.8,569.2 1439.9,570.7 1440.2,572.2 1440.4,573.7 1440.7,575.2 1440.9,576.7 1441.3,578.2 1441.7,579.7 1441.8,581.2 1442,582.7 1442.1,584.2 1442.2,585.7 1442.4,587.2 1442.6,588.7 1442.4,590.2 1442.6,591.7 1442.5,593.2 1442.7,594.8 1442.9,596.3 1442.6,597.8 1442.7,599.3 1442.8,600.8 1442.3,602.3 1441.8,603.7 1441.7,605.2 1441.5,606.7 1441.1,608.2 1440.7,609.7 1440.7,611.2 1440.5,612.7 1440.2,614.2 1440.1,615.8 1439.6,617.3 1439.2,618.8 1438.8,620.3 1438.7,621.8 1438.9,623.3 1438.6,624.8 1438.3,626.2 1438.2,627.7 1437.8,629.2 1437.3,630.6 1436.9,632 1436.3,633.4 1435.7,634.8 1435.2,636.2 1434.7,637.6 1434.1,638.9 1433.3,640.3 1432.6,641.7 1431.9,643 1431,644.4 1430.5,645.7 1429.8,647.1 1429.1,648.5 1428.5,649.9 1427.8,651.3 1427,652.6 1426.3,654 1425.8,655.4 1425.1,656.8 1424.5,658.2 1424,659.6 1423,661 1422.8,662.5 1423.4,663.9 1423.8,665.4 1423.9,666.9 1424,668.4 1424.2,669.9 1424.3,671.4 1423.9,672.9 1423.4,674.3 1422.9,675.8" stroke="#ff0000" stroke-width="4" fill="none" stroke-linejoin="round" stroke-linecap="round"/>
<path d="M1414.1,684.8 1413,686.1 1412,687.3 1410.9,688.3 1409.7,689.1 1408.4,689.7 1407.1,690.2 1405.6,690.7 1404.1,691.2 1402.4,691.6 1400.7,692 1399.1,692.5 1397.7,692.9 1396.2,693.4 1394.6,693.9 1393,694.3 1391.6,694.7 1390,695.2 1388.4,695.6 1387.2,696.1 1385.6,696.7 1384.1,697.3 1382.8,697.9 1381.6,698.7 1380.3,699.6 1378.8,700.6 1377.6,701.8 1376.8,702.9 1376.2,704.1 1375.5,705.5 1374.7,707 1374,708.5 1373.7,710.1 1373.9,711.7 1373.9,713.3 1374.2,715 1374.2,716.4 1373.9,717.6 1372.9,718.7 1371.4,719.7 1369.7,720.6 1368.1,721.3 1366.9,722 1365.6,722.6 1364,723.1 1362.5,723.5 1361,723.8" stroke="#ff0000" stroke-width="4" fill="none" stroke-linejoin="round" stroke-linecap="round"/>
<path d="M1397.4,424.3 1397.8,425.8 1398.3,427.2 1398.9,428.6 1399.5,430 1400.1,431.4 1400.8,432.6 1401.6,433.9 1402.4,435.1 1403.3,436.3 1404.3,437.5 1405.3,438.7 1406.3,439.8 1407.3,441 1408.3,442.1 1409.4,443.2 1410.4,444.4 1411.3,445.6 1412.3,446.8 1413.2,448 1414.1,449.2 1415,450.4 1415.9,451.7 1416.7,452.9 1417.5,454.2 1418.3,455.5 1419,456.8 1419.6,458.2 1420.1,459.6 1420.7,461 1421.2,462.4 1421.7,463.8 1422.1,465.3 1422.6,466.7 1423.1,468.2 1423.6,469.6 1424.1,471.1 1424.6,472.5 1425.1,473.9 1425.7,475.3 1426.3,476.7 1426.8,478.1 1427.4,479.5 1428,480.9 1428.6,482.3 1429.2,483.7 1429.8,485.1 1430.4,486.4 1431,487.8 1431.6,489.2 1432.2,490.6 1432.7,492 1433.3,493.4 1433.9,494.8 1434.6,496.2 1435.2,497.6 1435.8,499 1436.3,500.4 1436.9,501.8 1437.4,503.2 1437.8,504.6 1438.3,506.1 1438.7,507.5 1439.1,509 1439.5,510.5 1439.9,511.9 1440.3,513.4 1440.6,514.9 1440.9,516.4 1441.2,517.9 1441.5,519.4 1441.6,520.8 1441.8,522.3 1441.9,523.8 1442,525.3 1442.1,526.8 1442.3,528.4 1442.4,529.9 1442.4,531.4 1442.5,532.9 1442.6,534.4 1442.6,535.9 1442.7,537.4 1442.7,538.9 1442.7,540.5 1442.7,542 1442.7,543.5 1442.7,545 1442.7,546.5 1442.7,548 1442.7,549.5 1442.7,551 1442.7,552.6 1442.7,554.1 1442.7,555.6 1442.7,557.1 1442.7,558.6 1442.7,560.1 1442.7,561.6 1442.7,563.1 1442.7,564.7 1442.7,566.2 1442.7,567.7 1442.7,569.2 1442.7,570.7 1442.7,572.2 1442.7,573.7 1442.7,575.2 1442.6,576.7 1442.6,578.3 1442.5,579.8 1442.4,581.3 1442.3,582.8 1442.2,584.3 1442.1,585.8 1441.9,587.3 1441.8,588.8 1441.6,590.3 1441.5,591.8 1441.3,593.3 1441.2,594.8 1441,596.3 1440.9,597.8 1440.7,599.3 1440.4,600.8 1440.2,602.3 1440,603.8 1439.7,605.3 1439.4,606.8 1439.1,608.3 1438.8,609.8 1438.5,611.3 1438.1,612.8 1437.8,614.2 1437.4,615.7 1437,617.2 1436.7,618.7 1436.3,620.1 1435.9,621.6 1435.5,623 1435.1,624.5 1434.6,625.9 1434.2,627.4 1433.8,628.8 1433.4,630.3 1432.9,631.7 1432.4,633.1 1431.8,634.5 1431.2,635.8 1430.6,637.2 1429.9,638.6 1429.2,640 1428.6,641.3 1427.9,642.7 1427.2,644.1 1426.6,645.5 1426,646.8 1425.4,648.2 1424.8,649.6 1424.3,651 1423.8,652.5 1423.4,653.9 1422.9,655.4 1422.5,656.8 1422.1,658.3 1421.6,659.7 1421.2,661.2 1420.8,662.6 1420.4,664.1 1419.9,665.5 1419.5,667 1419,668.4 1418.6,669.9 1418.2,671.3 1417.7,672.8 1417.3,674.2 1416.8,675.7 1416.4,677.1 1415.9,678.5 1415.4,680 1414.9,681.4 1414.4,682.8 1413.9,684.2 1413.4,685.6 1412.8,687.1 1412.3,688.5 1411.7,689.9 1411,691.3 1410.3,692.6 1409.5,693.8 1408.7,695 1407.7,696.2 1406.7,697.3 1405.6,698.4 1404.5,699.5 1403.4,700.6 1402.4,701.6 1401.3,702.7 1400.2,703.9 1399.1,705 1398,706.1 1396.9,707.1 1395.7,708 1394.5,708.7 1393.2,709.3 1391.8,709.9 1390.4,710.4 1389,710.9 1387.5,711.3 1385.9,711.6 1384.4,711.8" stroke="#0000ff" stroke-width="4" fill="none" stroke-linejoin="round" stroke-linecap="round"/>
<path d="M1396.9,423.6 1396.9,425.2 1396.9,426.7 1397,428.2 1397.2,429.7 1397.3,431.1 1397.6,432.5 1398.1,433.9 1398.7,435.2 1399.6,436.5 1400.5,437.8 1401.4,439.1 1402.3,440.4 1403.2,441.6 1404,442.9 1404.9,444.1 1405.8,445.3 1406.7,446.6 1407.6,447.8 1408.5,449 1409.4,450.2 1410.3,451.4 1411.2,452.6 1412.1,453.8 1412.9,455.1 1413.8,456.3 1414.7,457.5 1415.7,458.8 1416.6,460 1417.5,461.3 1418.3,462.6 1419.1,463.9 1419.7,465.2 1420.2,466.5 1420.6,467.9 1420.9,469.4 1421.1,470.9 1421.4,472.4 1421.6,473.9 1421.8,475.4 1422.1,476.9 1422.4,478.4 1422.8,479.8 1423.4,481.2 1424.1,482.5 1424.8,483.8 1425.5,485.2 1426.3,486.5 1427.1,487.8 1427.8,489.2 1428.4,490.5 1429,491.9 1429.5,493.3 1430,494.7 1430.5,496.2 1431,497.6 1431.5,499 1432,500.5 1432.5,501.9 1432.9,503.3 1433.4,504.7 1433.9,506.2 1434.5,507.6 1435,509 1435.6,510.4 1436.1,511.8 1436.6,513.2 1437.1,514.7 1437.6,516.1 1438.1,517.5 1438.5,518.9 1438.9,520.4 1439.3,521.9 1439.6,523.3 1440,524.8 1440.3,526.3 1440.6,527.7 1440.9,529.2 1441.2,530.7 1441.4,532.2 1441.6,533.7 1441.7,535.2 1441.9,536.7 1442,538.2 1442.1,539.7 1442.2,541.2 1442.3,542.7 1442.4,544.2 1442.5,545.7 1442.6,547.2 1442.6,548.7 1442.7,550.2 1442.7,551.8 1442.7,553.3 1442.7,554.8 1442.7,556.3 1442.7,557.8 1442.7,559.3 1442.7,560.8 1442.7,562.3 1442.7,563.8 1442.7,565.3 1442.7,566.8 1442.7,568.3 1442.7,569.8 1442.7,571.4 1442.7,572.9 1442.7,574.4 1442.6,575.9 1442.5,577.4 1442.4,578.9 1442.3,580.4 1442.2,581.9 1442,583.4 1441.9,584.9 1441.8,586.4 1441.6,587.9 1441.5,589.4 1441.3,590.9 1441.2,592.4 1441,593.9 1440.9,595.4 1440.7,596.9 1440.5,598.4 1440.3,599.9 1440.1,601.4 1440,602.9 1439.8,604.4 1439.6,605.9 1439.4,607.4 1439.1,608.9 1438.9,610.4 1438.7,611.9 1438.5,613.4 1438.2,614.9 1438,616.4 1437.7,617.9 1437.5,619.4 1437.2,620.8 1436.9,622.3 1436.6,623.8 1436.3,625.3 1436,626.7 1435.6,628.2 1435.3,629.6 1434.8,631 1434.4,632.4 1433.8,633.8 1433.3,635.2 1432.6,636.6 1432,637.9 1431.3,639.3 1430.6,640.6 1429.9,642 1429.2,643.3 1428.5,644.7 1427.8,646.1 1427.2,647.4 1426.6,648.8 1426,650.2 1425.5,651.6 1425,653.1 1424.5,654.5 1424.1,655.9 1423.6,657.4 1423.2,658.8 1422.8,660.3 1422.4,661.7 1421.9,663.2 1421.5,664.6 1421,666 1420.5,667.5 1420.1,668.9 1419.6,670.4 1419.2,671.9 1418.7,673.3 1418.2,674.8 1417.8,676.3 1417.3,677.7 1416.8,679.2 1416.2,680.6 1415.7,681.9 1415,683.2 1414.4,684.5 1413.6,685.7 1412.8,686.9 1411.8,688.1 1410.8,689.3 1409.7,690.4 1408.6,691.5 1407.4,692.5 1406.3,693.4 1405.1,694.3 1403.9,695.1 1402.6,695.8 1401.2,696.5 1399.9,697.2 1398.5,697.8 1397.1,698.4 1395.7,699.1 1394.3,699.8 1393,700.5 1391.7,701.3 1390.4,702 1389,702.7 1387.7,703.5 1386.4,704.3 1385.1,705 1383.8,705.9 1382.6,706.7 1381.4,707.5 1380.2,708.4 1378.8,709.4 1377.4,710.3 1376,711.3 1374.9,712.4 1374.2,713.5 1374.1,714.8 1374.1,716.5 1374.1,718.1 1374,719.1 1373,719.8 1371.4,720.4 1369.6,720.9 1368,721.4 1366.6,722 1365.2,722.5 1363.8,722.9 1362.3,723.4 1360.9,723.8" stroke="#000000" stroke-width="4" fill="none" stroke-linejoin="round" stroke-linecap="round"/>
<g transform="translate(297.3,978.6)">
<g clip-path="url(#clip)"><path d="M157.4,150.5 161.7,149.3 166.6,147.8 172,145.9 177.7,143.8 183.8,141.4 190,138.7 196.2,135.9 202,133 207.4,130 212.6,126.9 217.5,123.8 222.3,120.6 227.1,117.3 231.7,114 236.2,110.6 240.6,107.1 244.9,103.6 249,100.1 253,96.5 256.7,92.9 260.2,89.3 263.5,85.7 266.7,82 269.7,78.3 272.6,74.6 275.3,70.9 277.7,67.2 280,63.5 282.1,59.7 284,56 285.7,52.3 287.2,48.5 288.4,44.8 289.5,41.1 290.5,37.3 291.5,33.6 292.4,29.9 293.2,26.1 293.9,22.4 294.4,18.7 294.9,14.9 295.2,11.2 295.5,7.5 295.7,3.7 295.8,0 295.7,-3.7 295.5,-7.5 295.2,-11.2 294.9,-14.9 294.4,-18.7 293.9,-22.4 293.2,-26.1 292.4,-29.9 291.5,-33.6 290.5,-37.3 289.5,-41.1 288.4,-44.8 287.2,-48.5 285.7,-52.3 284,-56 282.1,-59.7 280,-63.5 277.7,-67.2 275.3,-70.9 272.6,-74.6 269.7,-78.3 266.7,-82 263.5,-85.7 260.2,-89.3 256.7,-92.9 253,-96.5 249,-100.1 244.9,-103.6 240.6,-107.1 236.2,-110.6 231.7,-114 227.1,-117.3 222.3,-120.6 217.5,-123.8 212.6,-126.9 207.4,-130 202,-133 196.2,-135.9 190,-138.7 183.8,-141.4 177.7,-143.8 172,-145.9 166.6,-147.8 161.7,-149.3 157.4,-150.5 -157.4,-150.5 -161.7,-149.3 -166.6,-147.8 -172,-145.9 -177.7,-143.8 -183.8,-141.4 -190,-138.7 -196.2,-135.9 -202,-133 -207.4,-130 -212.6,-126.9 -217.5,-123.8 -222.3,-120.6 -227.1,-117.3 -231.7,-114 -236.2,-110.6 -240.6,-107.1 -244.9,-103.6 -249,-100.1 -253,-96.5 -256.7,-92.9 -260.2,-89.3 -263.5,-85.7 -266.7,-82 -269.7,-78.3 -272.6,-74.6 -275.3,-70.9 -277.7,-67.2 -280,-63.5 -282.1,-59.7 -284,-56 -285.7,-52.3 -287.2,-48.5 -288.4,-44.8 -289.5,-41.1 -290.5,-37.3 -291.5,-33.6 -292.4,-29.9 -293.2,-26.1 -293.9,-22.4 -294.4,-18.7 -294.9,-14.9 -295.2,-11.2 -295.5,-7.5 -295.7,-3.7 -295.8,0 -295.7,3.7 -295.5,7.5 -295.2,11.2 -294.9,14.9 -294.4,18.7 -293.9,22.4 -293.2,26.1 -292.4,29.9 -291.5,33.6 -290.5,37.3 -289.5,41.1 -288.4,44.8 -287.2,48.5 -285.7,52.3 -284,56 -282.1,59.7 -280,63.5 -277.7,67.2 -275.3,70.9 -272.6,74.6 -269.7,78.3 -266.7,82 -263.5,85.7 -260.2,89.3 -256.7,92.9 -253,96.5 -249,100.1 -244.9,103.6 -240.6,107.1 -236.2,110.6 -231.7,114 -227.1,117.3 -222.3,120.6 -217.5,123.8 -212.6,126.9 -207.4,130 -202,133 -196.2,135.9 -190,138.7 -183.8,141.4 -177.7,143.8 -172,145.9 -166.6,147.8 -161.7,149.3 -157.4,150.5z" fill="#fff"/><use href="#land"/>
<path d="M14.2,133l10.3,0.9 11,0.3 8-0.5 3.6-0.6 15.9-0.3 4.8-0.6 3.3,0.3 11.6-0.6 12.9-1.8 6-0.3 3.2,0.3 19.4-0.9 1.4-0.3 4.1-1.7 12.1-6.4 2.9-0.4-3.1,3.4-1.6,3.1-4.8,5.7 0.4,0.6 3.2,0.9 8.8,0.1 18.4-1.9 20.6-3 13.2-2.5 19.7-4.3 9.9-6.9 9-6.8 8.6-6.9 7.9-7.1 5.3-5.5 8-9.1 5.8-7.4 4.1-6.2-16.6,1.9-7,1.4-7.5,2.2-12.1,4.6-23.5,10.8-20.7,9-10.8,3.6-8.2,1.5-5.9,0.5-9.5-0.1-5.8,0.5-6.2-1-14.7-0.6-45.4-0.2-38.8,0.4-30.3,1.3-34.1,2.2-18.5,2-9,1.7-7.4,2.1-3.8,1.9-1.4,1.7 0.6,1.6 2.4,1.7 4.2,1.6 3.4,0.6 4.1,1.4 3.9,0.5 3.9,1.2 3.8,0.5 10.1,2.4 6.1,0.9 4.9,1.2 3.6,1.4 7,1.5 7.9,1.5zM-182.7,123.8l12.2-0.1 2.6-0.9 8.4,0 1-0.3 1.4-1 3-0.6 8,1.9 6.2,0.1 3.4,0.9 4,0.4 3,0.7 4.6-0.2 1.9-0.9 1.1-1.3 3-0.3 1.9-1.1 8.7-0.5 6.4-0.9 2.1-0.6 4.6-0.2 2.9-1.6 1.1-1.7 0.2-1.6-0.9-1.7-1.8-1.7-5.7-3.5-8.4-3.5-14.4-4.3-14.4-3.2-15.7-2.7-20.2-2.5-32.1-3.4-15.4-2.3-7.2-1.9-3.6-1.3-3.6-1.8-5.3-3.7-9.1-7.5-4.5-2.3-3.6-0.9-4.9-0.5-7.6,0.3-8.7,1 4.1,6.2 5.8,7.4 8,9.1 5.3,5.5 7.9,7.1 8.6,6.9 9,6.8 9.9,6.9 3.8-0.8 6,0zM160.6,91.1l0.4,0 1.8-1.8-0.3-1.1-1.3-0.1-0.9,1.2zM164.3,83.8l0.5,0.4 2.1-1.2 1-1 0.1-1-2.5,1zM-12,80.2l1.7,0 3.1-3.7 1-1.9 0-1.8-1.5-2.4-0.8,4.2-0.6,1-1.5,0.3-1.7,2.4zM162.5,76.5l1.5,0.3 2.3-2.2 4.6-7.4 2.8-3.7 0.9-1.9 5.2-13.1 1.8-5.6 0.7-14.9 1.9-2.9 1.5,2.9 0.3,1.9-0.3,3.7 0.4,3.7-2.3,9.4-0.4,1.9 0.1,1.8 0.7,1.5 1.1,0.4 0.7,1.8-2,1.9-1.3,1.9 0.2,1.8-1.4,0.7-3.3,0.7-2.1,2.4-0.6,1.8 0,2.7 0.6,1-0.7,1.9 0,1.1 0.2,0.8 0.6,0.7 3.8-1.6 5.8-1 1-0.6 3.2-5 0.9-0.9 1.7-0.3 1.3-0.6 0.8-0.8 7.9-4.3 1.7-2.4 3.7-3.7 2.6-3.8 2.1-2.1 3.9-2.8 1.7-0.5 4.2-2 1.2-1.9 1.5-3.7-0.1-1.9-4.1-4.3-1.5-0.8-3.1-0.5-3-1.7-0.3-2 3.2-3.8-0.1-1.8-4.9-3-0.6-0.8-0.1-1.8 0.9-1.9-3-2.7-3.3-0.5-0.7-0.5 0.1-1.9-0.9-1.7-1.8-2 0.2-0.3 1.7-0.2 0.8,0.5 0.8,0.9 1.6-1.2 1.1-3.5-0.4-1.8-1.9-1.9-1-3.7-4.1-1.9-2.3-1.6-1.7-0.8-0.2,0.5 1.7,3.8-0.5,1.8-3.2,5.6-3.2,1.9-1.1,0-1.5-1.9 0.8-3.7-0.7-0.8-1.5,2-3.3,2.6-1.6-0.1-6.6-2-1.6,0.7 0,2.8 1.2,4.1 0.3,4 1.6,0.7 1-0.9-0.1-1.9 0.9-0.9 1.6,0.4 1.6-0.1 1,0.6-0.5,1.9 0.5,1.8-0.1,1.9-1.2,1.4-1.7,0.4-1.6-0.1-1.7,0.8-3.7,6.2-1.7,1.2 0.2-4.3-0.7-7.5-0.8-3.7-1.3-9.3-1.4-0.9-1.6,2-1.3,2.6-0.4,1.9-0.1,4.4-1.3,3 2.5,3.8 0.8,5.6 0.6,1.1 0.6,2.6 2,3.7 0.7,1.9 2,3 1.4,1.4 1.5,0.3 0.9,0.9 0.5,1.1-0.3,4.5-0.7,3.7-1.4,5.6-2,3.8-3.3,9.3-2.4,3.7-1.5,3.7-1.3,1.9-1.2,3.7zM189.5,60l-0.5-2.1 1.3-1.9 0.6-1.9 0.8-0.6 1.5,0.1 0.7,0.5 0.3,1.9-0.9,1.9-1.3,1.8-1,0.6zM177.2,28.7l0-4.4 0.4-3.8 0.7-2.2 1.7,2.2-0.1,3.8zM-50.7,69l1.6,0.2 1.5-0.4 1.3-1.6-0.1-1.9-1.3-3.7 0.1-3.7-1.3-1.3-1.5-0.2-1.1-0.4-0.7-1.1-1.6-0.3-0.9,3.3 0.1,1.8 1.5,1.7 0.6,0.2 0.7,1.9-0.4,3.7zM-70.6,61.6l0.4,0.4 1.6,0.1 2.9-1.6 0.2-0.8-0.3-1.8-1.8,0-4.7,1.8zM-101.4,54.1l0.4,0 1.1-1.4 1.3-2.3-1.9-1.7-0.8-2-1.1-0.9-1.3,0.9-0.2,1.8 0.6,3.8zM-251.5,52.3l1.1,0.9 1.4-0.9-0.6-1.3-1.6,0.1zM-49.8,52.3l0.6,0.3 0.8-0.3-0.8-0.3zM-260.4,50.4l1.2,0.5 1.1-0.5 0.2-1.9-3-3.7-0.9-1.9 0-0.4 0.9-1.4-1.4-0.6-1.4,0.7-1.1,3.6 0.4,1.9 1,1.4zM-89.4,48.5l1.8,1.1 1.5-0.5 0.7-0.6 0.6-1.8-1.8-2.9-3.2,2.9zM-236.2,41.1l1.5,0.5 1.6-0.5-1-1.9-1.4-1-0.8,1zM-265.8,37.3l1.3,0.8 1.4-1 1.4-0.5 2,1.3 0.5-0.6-0.3-1.8-1.1-1.4-1.7-0.1-3.1,0.6-0.7,0.9zM-270.4,28l0.5,0.7 1.7,0.3 1-1 2.5-3.7 0.1-1.9-0.5-3.7 1.5-3.8 0.3-1.8 0.9-1.6 1.7,0.3 1.6-0.3 0.3-0.3 1.1-2.7 1.8-2.9-0.4-1.9-7.6-1.8-1,0-1.3,0.8-0.3,1 0.4,2 0.9,1.8-0.2,1.8-0.4,0.4-1.7-0.2-1.6,0.2-1.4,1.5 0.5,1.9 0,1.8-1.1,5.6 0,1.3zM-255.7,28l0.3,0.2 0.3-0.2-0.7-2zM219.6,20.5l0.9,1.1 1.2-1.1-0.8-2.1-1.6,0.3zM-245.8,14.9l1.1,0-1.2-1.9 0,0.1zM-64.1,13.1l0.2,0.2 3.2-0.3 1.7-0.9 1.6-2.7-1.3-1.9-0.4-0.3-1.6,0.5-1.7,0-1.7-2.1-3.2-0.8-1.7-0.2-2.7,1 2.3,3.7 3.1,1.9 0.7,1.1zM-244.5,9.3l1.7,1.1 0.5-1.1-0.6-0.4zM211.9,9.3l1.4,0.9 1.6-0.3 1.4-0.6 2-1.5 2.8-0.3-1.1-0.4-0.8-1.5-0.7-0.8-0.4-1.1-4.5-3.7-1.6,0.1-2.4,1.8-1.4,1.8 0.6,1.9 2.2,1.9zM221,5.6l0.7,1.6 1.6-0.8 0.3-0.8zM-276,-3.7l1.1-1.9-0.9-1.5-1.7-0.5 0.2,2zM-262,-9.3l1,0.7 0.7-0.7 0-3.8-0.3-0.8-1.9,2.7zM-277.4,-11.2l0.1,0.8 0.6-2.7-0.2-1.7-0.5,1.7zM169.9,-11.2l0.8,1.7 1.6,0 2.4-1.7-2.7-3.2-1.6-0.7zM189.9,-11.2l0.4,0.5 0.6-0.5 0.1-1.9-1-1.7-0.2,1.7zM280.7,-16.8l0.9,0.4 1.5-1.1 1.6-4.9-0.7-0.7-1.7,0.7zM291.3,-16.8l0.1,0.3 1.7,0.1-0.1-0.6-1.7-0.2zM-168.5,-18.7l1.6,1 1.7-1.1 0.7-1.7 0.1-1.9-0.5-0.4-1.6-0.5-3.2,0-0.7,0.9 0.1,1.9zM273,-18.7l1.9,0.7 1.5-2.5-0.4-1.5-0.2-0.4-3.3-0.9-1.8-0.9-0.5,1.8 1.1,1.9zM-122.7,-22.4l0.6,0 0.4-1.9-0.6-0.4-1.6,0.4zM142.1,-31.7l0.7,0.8 1-0.8-1.1-0.4zM-159.8,-33.6l1,0.5 1-0.5 1.7-1.9-0.2-1.8-3.3-1.1-0.5-0.8-0.5-1.9 1.7-5.6 0.1-1.8-0.6-0.8-1.5-0.1-0.6,0.9-1.3,7.4 1.9,5.6zM-176,-42.9l0.8,1.4 1-1.4-0.6-1.3zM-132,-44.8l0.5,0.4 1.7,0 0-0.6-1.3-1.9-0.6,0.2zM155.8,-50.4l1.8,0.5 0.1-0.5-2.4-2.8-0.2,0.9zM118.5,-52.3l2.3,1.3 1.5-0.7 0.5-2.4-0.5-1.9 0.6-0.7 3.6,0.7 1.4,0.7 2,1.9 1.6,0.2 4.2-2.9 3.2,0.6 1.6-0.1 4.5-0.9 3.4,1.1 3.2,0 1.8,0.8 0.2-1.4 0.8-0.9 0.8-2.5 2.3-2.7 2.8-1.1 2.3-2.3 1.3-0.6 1.9,1 3.5,1 6.3,0.3 7.3-1.2 4.2-1.2 5.3-2 6.1-3.3 3.4-2.3 2-1.8 2.7-3 2-3.4 1-3.7-0.2-3.6-0.7-1.8-1.2-1.8-2-1.9-3-1.7-5.7-1.7-4.3-0.1-6.2,1-4.3,1.6-4,2.4-1.2,0.3-1.6-0.3 0,0.4-1.7,1.4-1.5,2.2-0.9,0.8-1.4,0.2-2-1-2.5-1.8-1.1,0.5-0.7,1.3-1.4,0.2-3-3.8-0.6-2.1 0-1.5-0.7-1.7 2.6-0.3 1.1-1.6-3-1.8-2.1-2-4.4-1.5-5-3.4-2.8-3.5-2.1-1.7-1.3-1.6-1.7-3.3-3.3-1.7-0.8-1.6-0.1-1.6-2-1.4-6.2-1.5-3.4-0.2-2-1.6-1.4-1.5 0.3-0.9 3.1-0.6-1.2-1.5-2.2-1.5-8.3-4.2-2.8-0.9-4.4-0.1-1.6-0.4-2.8-1.3-5.1-0.1-4.1-0.8-3.5,0.4-11.9-0.7-13.1-0.1-11.8,0.4-10.8,0.9-7.7,1.3-4.4,1.6-1,1.1 1.3,1.5 3.6,1.4 19.3,4.5 3.4,1.5-2.5,0.6-2.9,1.8-1.1,0.1-9.1-2.5-5.7,0.5-2.4-0.4-0.5,1.5 0.2,1.5 0.7,1.6 4.1,4.8 1.4,0.4 2.5,0 0.7,1.3-0.3,1.7-2,1.6 1,1.7 1,0.8 0.5-0.8 0.4-1.7 0.7-1.4 3.4-1.6 2.6,0 1.3,0.4 3.6,4.3 3.4,1.6 2.1,1.9 2.6,0.7 3.4,2 4.7,4.2 3.1,3.2 3,2.2 2.7,2.7 1.7-1 1.9,0 1,1.9 0,1.8-0.8,0.3-0.2,1.5 1.9,7.3 1.2,1.6 3.7,2.1-0.1,3.7 1.5,2.7 1.3-0.9 0.9-1.8-0.6-3.7 1-1.3 1.2-1 2.8-0.6 1.7-2.6 0.1-1.1 0.6-0.8-2.4-0.2-3.6-2.1-1.4,0.1-0.6,0.4-1.6,1.9-3.9-1.9-1-1.8 0.5-1.1 3.5-2.4 2.9,0 2-2.3 3.5-1.9 1.6-2.8 1.2-0.3 3.3,1 0.7,0.8-0.2,1.8-0.6,0.4-1.4,0-1.2,0.5-0.2,0.8 0.3,1.9 1,1.8 1.2,1.5 3.3,1.3 4.2-0.7 1.5,1.5 1.6,3.7 2.9,3.6-1.1,0.9-2.7,0.9-3.8,1.9-1.9,0-3.2-2-1.6-0.1-2.8,0.6-1,1.7-0.6,3.5 1.9,1.7 1.2-1.4 1-2 1.2-1 1.6,0.2 0.9,0.7 1.4,2 1.9,1.5 2.6-1.5 1.6,0 1.9,1.4 0.9,2.2 1.8,2 3.2,0.7 1.4,1 0.1,1.8-0.6,1.9 0.5,1.9 1.4,1.8-0.5,1.1-1.5,0.3-2.1,2.4zM-162.6,-56l0.6,0 0.9-1.9-0.7-0.3-0.5,0.3zM-133.9,-59.7l0.9,0 1.7-1.9-0.5-1.9-0.3-0.4-3.1,0-2.3-2.7-1.6,0.3-1.9,1.2-1.6,0-2.1,1.6 0.6,1.9 0.4,0.3 1.8-0.8 1.6-0.3 4.3,1.4 1.3,1.1zM-179.5,-63.5l0.3,1.1 1.4-1.1-0.9-0.3zM-115.8,-63.5l0.5,0.9 1.6-0.2 1.2-0.7 0-1.8 1.9-3.7-2.4-2.4-1.5-0.3-0.7,0.8-0.3,1.9 0.4,1.8-1,1.9zM-156.3,-67.2l0.4,0.3 1.6-0.1 1.9-2-0.4-2.2-1.3-0.7-3.3,1-0.5,1.9zM-59.2,-67.2l0.4,1.6 1.5,0 7.9-1 9.4-2.1 7.2-2.2 4.8-1.9 2.8-1.8-0.4-1.7-2.9-1.1-4.5-0.2-4.6,0.7-7.8,1.8-7.3,2.3-3.8,1.7-1.8,1.7zM90.9,-67.2l1.7,0.3 0.8-2.1-1.6-1.5-1.5-0.1-0.6,1.6zM-177,-69l1.7,0.4 2-0.4-1.4-1-1.4-0.4zM-129.2,-70.9l0.7,0.3 2.1-0.3 1.9-1.9-4.2-1.8-1.8,0.8-0.9,1zM-122.9,-72.8l1,0.6 1.7-0.6-1.3-0.9zM-232.1,-74.6l1.5,0.6 0.8-0.6 1.9-3.7 2.8-3.7 6.7-3.7 2.1-0.5 1.3,0.2 1.1,0.6 5.2-1.1 1.4,0 2.3,3 1.1,0.6 1.5,0 1.8-0.4-0.2,1.3 2,0.5 1.1-0.5-0.2-0.9-1.6-0.9 1.7-1.9 2.9,0.3 7.5-2.5 3.5,3.7 4.3,2.2 0.5,2.4 0.8-0.6 0.6-1.8 1.6-0.4 0.6,0.4 0.6,1.8 1.5,1.1 3-0.1 2.7-1 0-1.8 0.6-1.8 1.2-1.9-0.1-1.8 1.7-0.2 3.8,2 1.3,0 1.3-1.8-0.2-3.6 3.6-1.1 0.2,1.1 1.2,1.4 1,2.2-0.4,3.7 0.7,1.8 3.3,0.8 1,0.9 1.1,4.4 1.2,0.7 1.2-1.3 0.4-1.8 1.6-0.9 0.6,0.9 0.1,1.8 0.8,1.1 1.6-0.4 1.7-2.5 1.3-5.5-2.6-1.9-0.3-1.8 1.1-1 1.5-0.1 1.9,2.1 1.1,0.8 2.1-1.4 1.6-0.5 1.4,0.3 0.6,1.9 1.4,0.3 2.9-0.1 1.8-0.6 2.6-2.9 1.7-0.5 1,1.1 1.2,0.4 1.7-0.6 1.5-1 1.2-2 1.6-0.5 2.6,0.6 1.5,0 5-2 1.5-0.1 1.7-0.6 2-1.5 1.4-0.1 1,1.3 0.6,2.1 1,1.2 1.4,0.3 7.4-0.7 1.2,0.9 0.4,1.1-0.2,1.8-1.8,1.8-1.4,0.7-4.7,0.8-0.3,0.4 0.1,0.3 2.8,0.8 0.4,0.7 0.1,3.7 1.1,0.9 1.5,0 1.8-0.9 0.6-1.9 1.9-3.6 0-1.9 1-1.8 1.9-0.9 1.1-0.9 1-1.5 1.4,0 4,1.5 1.7-1.4 2.9-0.2 1.7-0.9 1.3,0.4 1.3,0.8 0.6-0.5 1-1.8 1-5.4-1.4-1.8 0-1.8 5.6-4.9 3.2-2 1.3-0.2 2.6,0.5 6.6,0 4.1-0.5 1.4-0.4 3-2.3 1.9-0.6 0.4,1.7-4.7,5.6-0.9,1.4-0.4,1.7 0.4,2.2 1.2,1.3 1.4,0.1 3.1-2.1 2.5-3.2-0.1-1.8-1.1-1.7 1.1-1.8 1.4-0.3 1.3,0.2 1.5-1.1 2.7-1.3 6.6-1.2 2.7-1.7 1.3-0.4 1.3,0.3 1.3-0.2 1.5-1-0.1-1.7-1.3-1.6-5.1,1.8-2.5-0.5-1.2-0.7-0.9-2.3 0.3-1.6 1.3-3.3-3.6,0-2.6,1.2-1.1-0.3-1.1-0.9-3.3-1.6-2.2-0.6-2.1-1.3-1-0.3-7.1,0.2-3.1-1.1-2.1-0.4-1.2,0.2-2.9,1.3-3.5,0.1-1.6,0.5-1.4,1.1-2.2-0.2-2.7,0.7-1.1-0.1-2.9-1.4-4-0.1-1.3-0.9-1.3-1.7-1-0.2-2.5,0.4-1.1-0.2-2.6-1.2-0.6-0.7 2.8-2.3 2-1.1 11.9-0.1 11.1-0.4 5.5-0.5 6.3-1.3-1.9-1.4-7.6-0.9-8.9-0.4-11.4,0-9.6,0.6-4.7,0.5-5.7,1.6-2.6,0.3-2.2,1-1.1,1.5 0.9,1.1 0.7,1.8-0.4,1.5-1.2,1.5-2.3,1.8-1.3,0.1-1-1.6-1-0.2-2.5,0.2-0.9-0.3-0.3-1.1-0.4-0.4 1.9-1.2 1.1,0 1.7,0.7 1.1-1-0.7-0.7-0.2-0.9-1.6-0.6-1.2,0-1.4,0.7-1.5,3-4.3,1.6-2.3,1.4-1.1,1.6-3.4,2.2-3.7,0.9-0.8,1.6-1.5,0.3-3.1-0.7-0.6-0.7 0-0.5 1.7-1.6 0.9-1.5-0.9-0.9-1.7,0.6-2.1,1.8-1.7,1-1.5,0.3 0-1.3 3.1-3.2-0.1-1-0.6-0.6-1-0.1-3.5,1.8-3.6,2.8-2.7,1.5-1.4,0.4-0.6-0.8-1.3-0.8-1.4,0-5.5,1.7-5.7-0.3-1.3,0.2-4,1.4-4.5-0.4-5.1,1.3-2.3-0.1-0.6-0.6-0.5-1.6-2.1-0.2-1.7-0.6-7.9,2.4-6,0.9-2.3,0.8-9.7,4.9-2.8,2.3-0.7,1.6 0.2,1 0.5,0.1-0.7,0.1-4.2,2.6-9.5,5-2.7,1-2.7,0 1-1.7 8.6-5.2 2.2-1.8 1.2-1.7 1.9-1.7 2.7-1.6 7.5-3.3 2.7-1.7 0.2-0.4-0.3-0.7-0.8-0.3-2.4,0-1.9-0.4-9,3.9-8.3,2.4-5.8,2.1-6.5,5.2-0.3,0.5 2.5,1.2-7.8,5.6-3,1.5-3.3,0.5-5.8,2.8-1.9,0.2-2.8,1.7-6.1,5.5-1.6,1.8-0.9,1.8-0.2,1.8 0.5,1.2 5,1.1 2-0.7 1.2,0.3-0.6,2.7 0.5,1 1.2,0.7 2-0.7 2.1-1.9 0.7-1.8 1.8-2.2 2.2-0.9 4.3,0.2 1.9,1.1 0.4,1.8-0.5,1.8 0.6,1.9 0.8,1 3.3,1.9zM-182.1,-118l0.3-2.6 1.4-1.6 1.3-0.4 1.4,0.9 4.3,0.5 0.2,0.6-2.3,1.7-0.8,0.2-4.7,0.9zM-152.7,-92.9l-1-0.5-0.3-1.4 2-1.5 1.4,0.1 2.2,1 0.5,0.4 0.4,1.9-1.1,0.4-1.5,0.1zM-119.1,-94.4l-1.1-0.7-0.8-1.3-0.1-1.9 3.1-1.1 1.2,0.5 0.9,2.4-1.4,1.3zM-84.2,-129.9l0.4-0.5 1.1,0.4-0.3,0.1zM-55,-125.3l0.1-0.3 1.4-0.5 0.6,0.7-1.1,0.6zM-230.7,-103l2.3-2.4 1-1.6-0.6-0.1 2.4-0.3-3,3.8zM264.9,-76.5l2.2,0.6 0.8-0.9 0-1.5-2.3-1.4-2.1-0.7-0.4,0.2-0.1,1zM-98.9,-83.8l-0.1,1.1 1.5-0.1 2.2-2.9 0.5-1.8-0.7-1.4-1.6,0.2-1.7,1.2-0.5,1.8zM261.8,-85.7l0.7,0.6-3-4.2-2.6-2-0.9,2 3.9,2.8zM249.2,-94.8l2.3,0.9 1.3-0.1 0.2-0.8-1-1.7-3.9-3.6-4.7-2.5-4.4-2.8-2.6-0.8 0,0.8 1.1,1.8 6.1,3.5 1.1,1.8 1.7,1.8zM170,-96.5l2.4,1.2 1.4,0 0-1.2-2.5-2.2-1.3,0.2zM239.4,-96.5l1.8,0.8 1.7,0.3 0.9-0.5 0-0.6-3.1-3.6-2.4-1.8-1.5-0.5-1.3,0.1-0.1,1.1 0.4,1.1zM30.6,-107.1l0.2,0.3 1.2-0.6 0.6-3.2-0.7-1.7-3.4-0.3-1.5,0.3-0.9,0.8-0.3,0.9 0.6,1 1.2,0.8 1.6,0.5zM1.3,-120.6l2.4,0.5 2.5,1.1 1.3,0 1.2-0.3 0.8-1.3-3.4-2.2-2.5-0.6-1.2-0.7-0.9,0.3-0.9,1.6zM23,-120.6l1.9,1.3 1.3,0.1 1.2-0.3 1.3-1.1 0.4-1.6-0.4-1.6-1.1-0.9-1.2-0.3-3.3,1.2-0.6,1.6zM-7.3,-123.8l2.4,1 1.3,0 0.2-1-1.4-0.8-1.2,0zM-142.6,-131.5l-0.8,1 1.9-1-0.3-0.3z" fill="#fff58c"/><path d="M28.7,130l14.8,0.8 18.5-0.4 16.8-1 33.9-3 17.3-0.8 3.6-1.2 9.1-4.6 3.7-1.2 2.6-0.1 4.1-1.7 0.1,0.5-2.1,1.6-3.2,0.7-3.7,2.6-2.9,4 0.1,1 3.6,1 5.8,1 10.3,0.2 16.2-1.7 16-3 9-2.5 18.7-6.6 4.8-1.1 5.5-0.3 13.6-10.6 10-8.8 10.2-11 6.1-7.3 3.5-4.8-6.3,0.4-6.7,0.8-7.1,1.5-5.8,1.7-9.9,4.1-18.3,9.1-24.2,10.9-11.9,4-5.2,1.3-6.3,1-7.2,0.6-6.7,0-28.1-2-19.9-0.6-35.3,0-27.2,0.6-20.4,1-45.4,3.1-11.6,1.7-4.7,1.4-2.6,1.7-0.1,1.6 2.3,1.7 5.2,1.8 24.5,4.7 19.4,4.4zM-187.7,120.6l15,1.3 3.3-0.4 8.8,0.2 1.7-0.7 4-0.9 7.7,1.6 6.1-0.1 4.2,0.5 3.5-0.1 6.6-0.9 4.9-1.6 4.1-2.2 0.6-1.7-0.6-1.6-1.5-1.7-5.1-3.5-5.9-2.6-7.6-2.6-9.3-2.3-12.8-2.4-45.3-5.8-13-2-9.3-1.8-6.6-1.8-4.7-1.8-3.4-1.9-11.4-7.3-5.8-2.6-7.3-1.8-7.9-0.4 3.5,4.8 6.1,7.3 10.2,11 10,8.8 13.6,10.6 6,0.7 22.6,3.7zM164.1,74.6l0.7,0.5 0.6-0.5 7.7-11.1 1-1.9 3.6-9.3 1.8-3.8 2-7.4 0-9.4 0.7-7.4 2.4-2.6 1.6-0.2 1.3,0.9 1.2,1.9-1.4,1.8 1.2,1.9-0.7,1.9-1.1,1.8 0.7,3.8-2.6,11.2 0,2.7 1.5,0.6 3.3-0.6 1.5,0.4 5.2,4 1,0.3-0.8,3.8 1.6,0-0.7-1.9 0.6-1.9 2-2 1.2,1.3 1,1.8 1.9-0.9 1.8-2 1-1.9 5.4-5.6-0.5-1.4-1.8-0.5-1.1-3.7 0.9-1.7 2.7,2.9 1.7-0.5 2-2.2 1.6,0 1.2,2 1.5,0.7 1.8-1.1 0.9-2 0.5-1.8-0.3-1.4-1.4-1.2-1.6-0.2-3.3,0.3-1.7,0.8-3.8,2.8-1.7,0.6-0.1-1.7-0.6-1.9 0.2-1.9 0.9-1.8 1.5-1.9-0.6-3.7 0.1-1.9 0.8-1.9-0.4-1.8-0.7-0.4-1.4-2-0.7-1.4-0.1-1.8-0.5-1.4-0.6-0.5-1-0.6-2.1,0.6-1.3,0.8-3.2-1.2-0.9-1.5 1.3-1.8 0.3-1.9-2-1.5-1.1-0.4-2.2-2.2-6.5,0.4-1.7-1.1-1,1.1 0.4,1.8-0.4,1.9-1,1.9 0.6,3.7-1.4,1.9-0.9,0.7-3.4,1.1-0.8,1.9 1.2,1.9 0.4,1.8-0.3,3.8-0.9,1.8-1.7,1.9-1.3,3.7-0.2,7.5-1,5.6-1.1,3.7-5.4,13.1-3.4,7.4-1.2,1.9-0.6,1.9-0.1,1.3zM179.3,69l0.3,0.5 2.3-0.5 1.5-1.8 2-3.7-0.2-0.4-1.8,0.6-4.3-0.9-1.7,0.7-0.3,1.8zM172.1,29.9l1.5,1.6 1.6-0.1 1.3-1.5 0.5-7.5-0.2-3.7-0.1-0.6-1.6-0.1-1.9,3-1.4,1.4-0.5,1.7-0.5-1.7 0-1.9 0.6-3.7-0.5-5.6-0.9-3.7-0.7-6.2-0.4-1.3-1.3-2.6-1.6,2-0.9,2.5-0.2,7.4 0.8,1.4 0.6,2.4 0.8,5.6 0.5,1.8 0.6,1.6 1.4,2 0.9,0.2 0.7,0.5-0.1,3.2zM-269.4,22.4l1.8,1.1 0.6-1.1 0-1.9-1.2-1.1-1.5,1.1zM202,-3.7l1.2,0 0.2-1.9-0.2-1.9-1.3-0.9-1.6,0.2-0.4,0.7-0.2,1.9 0.7,1.4zM124.9,-57.9l5.9,1.3 4.5-1.1 6.3,0.3 1.9-0.5 3.8-1.8 5,0.9 1.2-1.1 0.6-3.6 0.8-2 1.2-0.8 3.1-0.1 0.6-0.8 0.1-3.7-0.4-1.9-0.9-1.8 0.2-1.9 2.1-0.7 2.8-0.4 0.2-0.7-2.1-5.5-3-1.9-1.4-1.3-1,1.3-3.7,0.9-1.9,2.2-1.3,0.3-1.7-0.5-1.5-1-0.7-1.9 0.3-1.8-0.8-0.7-2.6,0.7-0.8-1.8 1.1-1.8 0.6-0.4 1.9,0.4 0.3,1.8 0.6,0.3 4-0.5 1.5,0.1 5.4,1.8 1.3-0.2 0.3-1.5-2-3.6-0.6-1.9-0.9-0.8-2.6-0.9-0.6-1.8 2.7-3.6-2.1-1.5-2.1-1-5.3-1.6-1.1,0.3-1.9,1.1-1.3-0.8-2.1-5.2 0.1-1.7-1.3-1.7-2.3-1.6 2.2-1.7-2.5-1.6-1.6-1.7-0.8-1.6-1.3-0.8-1.1,0.2 0.2,1.6-0.6,0.8-4.1-0.5-1.8-1.3-4.5-4.7-2-1.6-2-3-5.7-2.9-10.3-1.4-3.3,0.1-2.3-1.3-1.6-0.4-12-1.3-14.8,0-3.8,0.4-3.9,0.9-0.6,1.5 2.7,1.5 1.6,1.4 0.8,1.5 2.7,3-0.6,0.3-4.6,0.2-1,0.2-0.8,1-1,0.4-4.5,0.5-1.1,0.4-1.1,1.7-0.3,1.6 0.5,4.9 0.7,1.7 1.7,1.8 3,1.2 1.3-0.1 0.8-1.2 1.3,0 1.5,0.5 1.4,1.1 1.3,3.5 2.2,3.4 2.6,2.2 2.6,3.1 3.1,1.8 1.5,0.3 2.7-0.4 3.7-1.4 1.5,0.6 2.7,3.3 1.7,0.9 1.5,0.1 1.2-0.5 4.1-2.9-0.5-2-3.6-1.6 0.5-2.3 0.8-1.2 1.5,0.4 1.1,1.4 1.5,1.2 1.2-0.4 3.5,1.7 3.1,1 0.2,3.2-0.1,2.8-2.3,1.2 1.8,1.8 1.9,0.6 4.3,0.1 1.5,1.1 1.4,3.6 1.1,1.8 3.2,0.8 1.2,1.1 0.4,1.8 1.7,3.7 0.9,0.9 2.5,1 1.1,1.8 0.4,5.2-3.1-0.3-0.7,0.7 2.2,1.9-0.2,1.8-1.3,1.9 1,1.9zM118,-108.7l-2.1-1.3-0.7-0.6 0-0.4 1.3,0 3.5,2.2-0.6,0.3zM134.5,-79.3l-1.4-0.9-0.8-1.8 0-1.8-1-1.9-0.4-2 1.1-0.6 1.4-0.2 2.9,0.1 2.9,0.9 2.6,1.8-2.3,1.9-3.9,0.3-0.6,1.5zM138.7,-97.2l-1.5-1.1-1.2-1.8-1.9-3.5 0-1 2.1-0.8 2.1,1.8 0,1.3 1.8,4 0,1zM-135.1,-61.6l0.7,0.4 1.8-0.4-1.5-0.7zM-144,-63.5l0.6,1.2 1.7-0.7 1.6-0.1 1.4,0.7 1.5,0.3 1.6-1.4-2.1-2.4-1.7,0.4-2,1.6-1.4-0.5zM-156.4,-69l0.9,0.9 1.9-0.9-0.4-1.9-0.4-0.2-0.9,0.2zM115.1,-69l1.9,0.9 1.4-0.5 0.5-0.4-0.4-3.8-1.5-0.7-1.6-0.3-0.8,2.6zM172.6,-69l2.7,0.4 3.1,0 5.7-1 6.4-2.6 4.6-2.8 3.5-3.3 2.2-3.7 0.5-1.8 0.1-1.9-0.5-1.8-1.1-1.8-3.3-2.2-3.5-0.8-2.9,0-2.6,0.3-2.6,0.9-0.7,0.6 0.2,1.2-0.4,1.8-0.4,0.5-1.3,0.2-3.2-0.5-1.4,0.1-1.3,0.4-3,2.3-1.6-0.2-2.2-1.3-1.6-0.2-0.2,0.5 1.4,1.9 0.6,3.6-1.3,3.7-0.3,1.9 0.2,1.8 1,1.9zM-130,-72.8l1.7,1.3 1.6-1.3-1-0.5-1.5-0.1zM106.8,-74.6l1,0.9 1.4-0.5 4.6,0.4 0.6-0.8 0.2-1.9-1.8-0.6-1.4,0.2-0.9,0.4-0.3,0.7-1.3,0.7zM-232.5,-78.3l1.5,0.3 0.7-0.3 1.4-1.9 1-1.8 1.6-1.8 1.6-0.9 3.4-0.6 4.4-2.1 1.8-0.3 2.4,0.6 1.5-0.1 4.4-2.1 1.5-1.8 2.9-0.2 0.7,0.2-2.3,3.6-0.1,0.5 0.5,1.6 1.5-0.1 2.4-2-0.1-1.8 0.5-0.3 1.4,0.1 1,0.7 2.4,0.6 1.7-0.3 2.4-1.4 2.8-1.2 1.4-1.8 1.8-1.4 1.9-0.7 2.7,0.2 1.4,1.9 2.6,1.8-0.9,1.8-3.4,1.8 0.3,1.8 1,0.4 4.2,0.4 0.9,0.9 1.6,2.5 1.1,0.6 1.4-1.1 0.4-1.8 0-1.9-0.7-1.8 0.6-1.8 2.4-1.4 1.6-0.3 2.4,0.9 1.5-1 0-1.5-0.6-1.2-2.4,1.5-1.6,0.2-0.1-0.8-1.3-1.9-0.4-1.7 0.8-3.6-0.3-0.2 0.2-2 0.7-3.1 1.3-0.9 1.2,0.1 0.8,0.7 0.4,1.2-0.9,2.4-1.9,1.8 0.7,1.8 1,0.8 2.5,0.5 3.3-0.8 2-0.9 3-0.2 5,0.9 1.7,1.6 1.1,0.5 1.4,0 2-0.6 2-1.4 1.4,2.4 2.2,1.2 1.2,0.3 1,1 0,1.9 1.4,1 1.6-1 0-1.8 1.3-1.9 1.1-0.5 1.3,0.3 1.8,2 1.6,0.1 1.9-1.9-1.1-3.5-0.1-1.8 2.9-0.1 3.5-1.4 1.4,0 2,1.3 1.3,0.2 1.1,0.7 0.2,1.1-1.7,3.5 0,1.4 1.8-0.7 1.4-0.1 1.4,0.1 3.7,1.3 2.9-2 0.4-1.7 1.5-1 2.6-0.8 1.7-1.8 1.5-1.1 1,0.9 3.5,5.1 9.4-2.6 3.6-2.3 1.1,1.8-2.1,1.1-2.3,2.4 0.1,1.9 1.5,2.7 1.6-0.8 0-1.9 2.9-1.9 1-1.7 0-1.8 1.5-0.9 1.5-0.4 1.3,0.2 1-0.7 0.4-1.8-1.2-1.7 0.8-3.5 0.4-0.6 3-1.1 0.6,1.7 0,3.5 2.3,3 0.8-1.3 4.5-3 3.6-3.4 3.1-1.7 3.8,0.5 9.3-0.2 2.4-0.9 3.5-2.8 3.9-0.4 2.8-1.4 1.3,0.1 1.1,1 1.3,0.4 3.1-0.3-0.6-3.3 0.1-3.3-0.4-1.7-2.6,1.4-1.5,0.3-0.9-1.2 0-2-0.7-0.7-2.3-0.7-2.6,0.8-0.9-1.1-0.6-1.4-1.4-0.6-3.2,0.6-2,1.5-1.1-0.4-2.8-2.7-2.2-0.2-0.9,0.2-0.6,1.6 0.5,1.5-0.4,0.9-0.7,0.7-2,0.3-1.5,0.9-0.7,2-1.7,1.4-1.2,0-1.1-0.4-0.8-1.2-3.2-1.4-1.5-2.4-0.9-0.6-5.2-1.7-2.5,0.3-3.8,1.2-0.9,1.6 0.3,1.6-0.4,1.6-1.3,1.7-1.3,0-0.5-1.7-2.9-4.8 0-1-1.2,0.1-2.4,2-1-0.3-1.4-0.8-0.7-1.5-1.8-1-1.6-2.6-1-0.2-1.1,0.7-0.8,1.5-0.2,3.1-1,1.6-0.4,1.6-0.9,1.6-1.5,0.4-0.7-0.4-1.5-1.9-0.9-0.5-1-2-0.7-2.4-0.7-0.5-5.1-0.9-1.9,0.3-1.9,1.6-1.1,1.5-1.8,1.6 1.5,1.4 1.8,0.9 1.7,4.2 0.2,1.7-0.4,1.6-1.4,1.9-1-0.5 0.2-1.4-0.8-1.6-3.1-1.1-3.1-2.6-1.2-0.1-1.8,0.7-2.4,1.5-1.4,0.3-2-0.7-2.4-0.3-0.8-0.4-1-1.9-0.8-0.5-3.3,1-0.9-1.8-0.4-2.3-0.8-0.4-2.3,2-1.6,0.9-1.3,0.1-2.5-1.2-1.6,0.3-2.9,1.7-1.5,0.3-1-0.2-2.5-1.9-0.9,0-1,1.6 0,1.7-1.5,0.8-1.7,0.4-2.3-0.2-0.8-0.5-0.1-0.5-1.5-1.5-0.5-0.2-2,0.2-2.2-0.3-1.7,0.5-2.1-0.4-1.7,0.5-3.7,2.1-2.8,0.7-1.2,1.7 0.3,1.6-0.6,1.3 0.4,0.4-2.7,0.5-1.2,0-0.9-0.4-1.2-1.8 0-1.6 1.6-3.3 0-0.6-0.5-0.5-1.4,0.1-2.5,1.1-4,0.2-2.1,0.6-4.9,2.4-1.9,1.6 0.8,1.1 1.5,0.9 2.1,0.5 0.8,0.5-0.1,0.4-1.1,1.8-2,1.7-1.1,3.5-1.8,1-1.3-0.1-1.2-1.4 0.6-3.2-0.3-1-0.7-0.6-9.9,5.3-6.8,2.8-2.6-0.2-3-0.9 12.3-6.9 2.2-1.8 1.6-3-0.4-0.4 3.8-1.6 0.9-1.4-0.5-0.6-6.4,1-9.1,2.6-2.7,1.7-1.7,1.7-0.5,0.9 0.7,0.5 1,0.3 3.2-0.5 0,0.6-0.8,1.7-1.4,1.7-2,2-0.5,1.5-4,1.3-1.4,0-0.6-0.7-1.3-0.1-3.5,1.9-2.2,0.9-3.5,0.6-3.5,1.9-3.7,1.3-2,1.9 0.2,0.9 3.3,0.9 2.7,2.1 0.7,1.5 0,1 1.1,0.4 2.1-0.7 3.2-0.5 2.4,0.7 0.9,0.7 2,3.2 0.9,0.7 0.5,1.8zM-211.4,-101.8l-0.1-0.1 0.9-0.7 0.3,0.7zM-179.8,-110.5l1.5-0.2 0.1,0.1-0.7,0.4zM-172.6,-106.9l-0.5-1-1.7-0.9-0.6-1.8 1.4-0.6 1.3,0.1 0.9,0.5 2.7-0.2 0.4,0.2 0.2,1.8-2.1,1.7-0.8,0.3zM-140.4,-113.8l0.4-0.5 2.8-1.3 1.5-1.7 1.5-0.9 1.1,0.2 0.8,2.4-1,1-4.9,1.3-1.3,0zM-132.2,-101.1l-0.1-0.8 1-0.7 0.2,0.7zM-145.8,-78.3l0,0.9 2.8-2.9 1.5,0 1.2,2 0.3,1.6 1.9-1.6 0.9-3.7-0.3-1.8-2.4-1.9-0.2-0.8-0.9-1 0.1-0.5-3.4,1-0.4-0.5 1.4-1.8-1.8-1.7-3.1,0.4-1.8,0.6-0.9,0.7 0.6,2.6 1,1 1.4,0.1 0.7,1.6-0.2,2 0.5,0.5zM84.1,-82l0.4,0.2 0.4-0.2 0.8-1.8-0.5-0.9-1.8-1-0.5,1.9zM89.8,-82l0.7,0.4 2.2-0.4 2-1.8-1.5-1.9-1.3-0.9-1.4-0.1-1,1zM-259.7,-85.7l0.2,0.4 1.8-0.4-0.7-0.8zM-124.6,-87.5l0.7,0.6 1.4,0.1 1.1-0.7 1.2-1.8-0.6-1.6-1.5,0.3-1.7,1.3zM-140.5,-91.1l0.5,1.2 2.3-1.2-1-1.2zM-114,-91.1l0.5,0.2 0.2-0.2 0.3-1.2zM248.5,-96.5l0.5,0.1 0.6-0.7-0.8-1.2-2.6-1.8-0.2,1 0.4,0.8zM-32.3,-101.9l0.6,1 1.4,0 1.2-1 0.4-1.7 0-1.8-0.9-0.6-1.5,1.2-0.9,1.2zM-204.9,-118.9l-0.5,0.4 1,0.3 2-0.7-0.6-0.4zM42.2,-122.2l0.9,1.1 2.1-1.1-1.4-0.7-1.2,0.2zM36.1,-123.8l0.2-1.6-0.5-0.2-0.6,0.2zM-130.2,-126.9l0.3,0 1.7-1.6-0.8,0zM-88.9,-134.5l1.1,0.5 3.5-0.5 1.6-1.4 0.2-1.5-1.2,0-1.6,0.6-4.3,0.9z" fill="#ffe650"/><path d="M32.3,126.9l14.6,1.1 17.6-0.2 17.2-1.2 39.8-3.6 12.8-0.7 3.2-0.8 8.2-3.5 8.7-2.6 0.6,0.7-0.3,1.2-2.6,1.9-5.9,3-0.2,0.7 1.6,0.7 7.5,1.8 7.7,0.7 10.2-0.5 11.4-1.8 6.4-1.6 8.8-3.3 13.3-7.5 7.7-3.2 5.9-1.6 6.6-1.2 10.7-0.9 7.2-6.2 7.5-7.2 6.6-7.3 6.3-7.5-4.5-0.1-4.9,0.4-5.2,1.1-5.9,1.7-6.1,2.6-18.6,10-24.7,11.5-11.4,3.6-15.1,2.9-8.7,1-8.1,0.2-6.1-0.4-18.1-2.2-15.3-1-25.2-0.3-32.2,0.4-24.2,1.3-32.4,3.3-11.7,1.7-2.8,1.6 3.2,1.7 23.3,6.5 7.2,1.8zM-181.7,118.9l7.7,0.7 10.4,0.5 7.6-1.1 8.3,0.8 6.8-0.7 2.1-0.5 3.2-1.3 0.9-1.7-1.2-1.6-2.6-1.7-3.8-1.7-6.4-2.2-8.4-2.1-12.7-2.4-32.9-4.5-27.4-5.4-7.4-1.8-4.1-1.4-4.9-2.4-8.9-6.4-4.5-2.6-2.3-1.1-4-1.2-5.2-0.8 6.3,7.5 6.6,7.3 7.5,7.2 7.2,6.2 7.3,0.5 6.8,1.2 6.1,1.7 10.2,4.4 4.9,1.7 6.4,1.6 8.5,1.7zM165.5,72.8l0.2,0.4 8-11.6 6.2-14.9 1.4-5.6 0.1-11.2-0.6-3.9-1.8,1.5-1.3,2.4-0.5,1.8-0.2,7.5-0.9,5.6-1.1,3.7-9.5,22.4zM192.9,48.5l1.4,1.2 1.9-1.2-0.1-3.7 1.2-1 0.3,1 2.3,1.7 1.6,0 1.5-1.7 1.5-3.7-1.2-3.8-1.3-1.5-1.4-1.1-1.5-0.4-3.7,2.4 0-1.2-1.3-0.7-1.8,1.5-1.7,0.1-1.7,0.6-0.2,0.3-1,1.9 0.5,1.9 1.5,0.6 3.1,0.3 1.6-0.9-0.1-1.9 1-1.8 1.4,0.9 1.2,2.8-1.9,1.8-1.2,1.9-1,0.4-1.3,1.5zM172.8,29.9l0.9,1 1.7-0.9 0.8-2 0.3-6.9-0.2-0.6-1.3-1.3-2.4,3.2-0.8,1.9-0.2,3.7zM206.3,28l0.3,0.4 1.5,0.6 1.2-1 0.9-1.9-1.2-3.5-0.8-0.2 0.5-3.7-0.8-2.3-1.5-1.3-1.7,0.3-1.6-0.3-3.1-1.9-3.2-1-1.7,0.3-1.7,0.9-1.6-0.5-1.5,2-0.3,5.6 1.2,0.6 3.2,0.4 3.4-1.1 2.8,3.5 1.8-0.7 1.7-1.2 1.7-0.2 1.1,0.6-1.3,3.7zM168.3,20.5l1.6,1.1 1.2-4.8-0.5-5.2-0.8-2.3-1-7.4-1.2-3-1.6,2.4-0.4,2.4 0.2,3.8 1.4,5.6 0.4,5.6zM189.8,9.3l0.5,0.8 1.6,0.7 5-3.3-0.5-1.9-2.8-1.9-1.4-0.3-2,0.3-1.3,1.4-0.7,2.4zM129.9,-61.6l1.6,1.5 2.2-1.5 0.4-0.8 1.4-0.2 5.3,2 2.6-1.9 1.3-0.6 0-2.2 0.6-0.9 1.5-0.1 1.9,1 0.8,1.8 1.5,0.5 2.4-7.9-1.4-3.7-0.2-1.9-6.9-6.1-1.5-0.1-5.6,0.8-0.6,1.7 0.5,3.7-0.1,1.3-0.9,1.6-1.6,0-1.8-0.9-1.7-0.1 0.3,1.8-0.4,1.9-1.5,0.1-2.1-1.9-1.3,0.7-0.2,1.1 0.4,1.9 1.3,1.8 0.6,2.2 1.4-0.3 1.2-1.4 1.3,1.4-0.5,1.6-1.4,0.3zM141.8,-76.1l-0.3-0.6 1.5-0.1 0.3,0.3zM-139.4,-63.5l0.8,0.6 1.6-0.1 0.6-0.5-1.6-1.4zM177,-72.8l2.7,0.3 4.3-0.7 3.7-1.4 3.1-1.9 2-1.8 1.4-1.9 0.8-1.8 0.2-1.8-0.8-1.9-2.8-1.8-2.7-0.3-1.3,0.1-3,2.3-4.1,0.5-1.9,1.1-3.4,3.6-1,1.9-0.3,1.8 0.4,1.9zM126.1,-74.6l1.7,1.8 2.3-1.8 0-1.9-1.3-1.8-1.8-3.7 1.3-1.8-1-3.7 0.9-1.8 2.5-1.7 4.6,0.5 3.3,0.9 1.1-0.8 1.6-2.5 0.2-1.9-1.6-0.4-4.2-3.1-2.2-3.6-0.8-0.6-1.7-0.6-2.9-0.3-3.7-1.5-2.8-0.2-7.1-3.7-1.4-1.8-0.4-2.3 0.1-1.8 1.6-1.4 1-0.3 2.8,0.3 1.9,1 1.6,0.3 0.5-0.8 0.2-1.6 0.4-0.1-0.5-0.1-1.8-1.5-1.3-1.7-0.1-1.6-0.9-1.6-4.3-3.9 0,0.8-0.4,0.1-0.4,1.4-1.4,0.8-1.6-0.5-2.3-1.5-3.7-1.5-4.8-4.3-1.5-0.4-1.2,1.3-0.2,1-1.2,0-4.5-1.4-1.2,0-0.7,0.5-1.2-0.1-1.6-0.6-4.1-0.9-1.9-1-0.7,0.5-1.7,5.9-0.7,0.9-1.9,0.8-3.9-0.6-4.7,0.2-2.5-0.3-1.1,0.1-1.7,1.1 2.6,3.2 0.3,1.6-0.5,1.3-1.1,0.3-1.8-1.6-0.9-3.2-0.6-0.3-1.3-0.1-2.2,0.4 4.2,1.6-0.8,0.8-2.5,0.8-3.4,0.1-0.7,1.5-0.1,1.7 0.7,1.7 0.7,0.5 1.4,0.4 2.2-1.2 1.1-0.3 1.4,0.2 3.1,1.5 0.5,0.5 0.7,1.7 1.4,1.7 2,1.8 0,1.7 0.8,1.7 3.3,4.2 1.4,0.2 0.7-2.6 2.2-0.8 4.7-4.9 1.3-0.1 1.6,0.6 2,1.7-1.5,3.5 0,1.7 0.7,1.8 2.4,3.5 1.6,0.3 0.7-0.2 1.2-1.8-2.1-1.8-0.5-1.8 0.4-1.7-0.1-1.8-0.9-1.7-0.3-1.7 0.5-2.4 0.7-1.2 1.1-0.5 2.4-0.3 0.9-0.8 1.6,0 3.4,3.4 4.2,1.8 1,1.7-3.2,3.5 1.7,1.5 4.4,0.2 0,1.8-0.6,3 0.8,4.2 1.3,0.8 4.2-0.2 0.9-1.3 4.7-2 0.9,0.8 0.2,1.9 2.9,1.8 0.8,1.8 0.2,1.8-0.6,5.5-0.9,1.8 0.9,2.1 2.8,1.6zM69.9,-109.8l-0.9-0.8 0.1-1.7 0.7-1.1 2.3-2.2-0.1-1.7 1-0.3 1.9,1.3 2.3-0.4 1.5,1.1 0.4,1.6-0.2,0.8-2.2,1-2.4,0.5-1.8,2-1.1,0.5zM117.9,-96.9l-1.6-1.4-0.3-3.6-0.5-1.7 1.7,0.3 2.8,1.4-2,3.6zM-144.6,-80.2l2.1-1.8-1.2-1.8-0.5-0.4-0.7,0.4-0.9,1.8zM-140.3,-80.2l1.5,0.5 0.8-2.3-0.5-1.8-1.2-0.5-1.4,0.5-1,1.8 1,0.7zM156.2,-80.2l2.5,1.5 1.3-0.2 1.2-0.7 0.2-0.6-1.1-1.8-0.6-0.5-1.8-0.7-1.3,0.2-0.9,1zM-235,-85.7l1.5,0.9 1.3,0.3 1.4,0.1 1.7-0.3 1.4-1 3.2-3.1 1.5,0 1,0.6 1.7-0.4 1.1-0.7-0.8-1.5-0.1-2.1 2.2-2 1.4-0.1 3.1,1.4 1.2,0.3 4.5-2 1.8,1.3 1.2,0.2 1.8-0.5 4.3,1.7 1.4,0.1 3.9-1.4 2.8,0.1 1.8-0.5 0.5-0.7-0.8-2.4-0.8-0.9 4.1-1.8 0.8-1.8-0.3-3.5 0.8-1.8 0.1-1.5-1.5-1.1-0.8-1.7-0.8-2.9-0.8-1.2 0.1-0.5-1-0.2-6.9,0.5-0.8,0.2-2.1,1.6 1.3,0.6 3.3,0.5-0.3,2.6 0.6,1.5-0.1,0.7 0.8,1-1.1,0.6-1.4,0-2.5,1.1-0.5,1.8-1.9,3.6 0.2,1.7-0.7,0.4-1.3-0.1-0.8-0.7-1.1-0.4-4.4,0.3-3.7-0.4-0.8-0.6-1.6-2.6-1.2-0.2-5.2,2.4-2,0.6-2.1-0.6-2.7,0.1-4.8,1.8-0.8,0.7-1.8,0.4 0.8-1.1-1.3-1.1-1.5,0.2-3.7,2.1-1.9,0.5-1.3-0.1-4.7,1.9-0.4,1.9 1,0.3 4.2,0.1 0.5,1 0.1,1.5 0.7,0.9 1.2,0.3 3.2-0.5 1,0.5zM-238,-94.6l0.8-0.8 2.4-1-0.3,1.7-2.2,0.8zM113.3,-87.5l0.3,0.4 1.7,0.5 1.5,0.1 1.2-0.7 0.1-2.1-1.7-1.6-2.6,0.7-0.8,0.9zM-172.7,-91.1l0,0.6 1.5-0.2 0.8-0.4 1.2-1.8-1.2-3.1-0.6-0.5 1.6-4.6 0.2-2-0.6-0.9-3.8,0.4-1.1,1.7 0.7,3.6-2.8,1.8 0.8,0.4-0.2,1.3 0.3,0.5zM147.5,-92.9l1.2,0.6 1.5,0.1 1.3-0.3 0.4-0.4-1.1-1.9-2.7-1.7 0-1.8 0.9-1.8-3-2.9-1.4,1.8-1.1,0.5-1.7-0.5-1.3,0.2 1,2.7 0.3,3.5 3,0.6zM-179.4,-98.3l0.5,0.4 2.1-0.4-1.2-0.7zM-162.4,-100.1l0.2,0.4 1.3,0.2 1.3-0.6 0.3-1.6-0.6-1-1.4,0.8zM-144.3,-100.1l0.2,0.3 0.9-0.3-0.4-0.4zM-106.8,-100.1l0.8,1.7 1.5-0.1 1.7-0.7 2.9-0.2 2-0.7 1.8-3.5 0.2-1.8-0.4-3.4 1.3-0.8 1.5-0.3 1,0.5 0.4,0.6 0,1.5 0.5,1.8 3.1-1.1 1.2,0.3 0.7,1.5 0.3,2.9-1.3,1.8 0.2,0.7 1.9-1.4 1.5-0.2 3.7,0.9 5-2.1 2.4,0.9 1.5-0.3 2-3.8 0.3-1.7-0.4-1.7 1.1-1.8 2.9-0.4 3-0.9 1.4-0.2 2.9,1.5 0,1.8-0.8,1.7 1,1.7 1.3,0.2 1.6-1 3.9-4.1 2.9-1.3 2.1,1 1.5,0.3 4-0.3 2.6,0.4 2.4-0.4 1.8-1.7 0.5-3.3 1.6-3.3-0.3-1.7-0.8-1.9-1.2-0.4-1.3,0.4-0.8,0.3-1.8,4.9-1.4,1.7-3.5-1.6-1.6,1.1-1.7,1.8-1.4,0.2-0.8-1.6-1-0.8-4.1,0.7-3.1-1.9-2.6,0-1-0.5-0.5-0.7 1.4-1.7 0.7-1.6-0.6-1.6-5.2-1.8-1.3,0.2-2.4,1.6-1.1,3.2-1.4,1.7-2.8,2.2-1.5,0.4-1-0.6-0.7-1-1.1-0.4-2.5-0.1-0.9-0.7-1.2-3.1-1.5-0.9-1.2,0.1-2.6,0.8 0.7,1.6 0,1.7-1,0.8-1.2,0-0.7-0.9-1-0.5-3.2,1.2-1.2-0.1-1.7-1.2-2.3-0.3-0.9-0.6-0.9-1.7 0.1-1.6 0.6-1.6-0.7-0.7-0.9-0.4-1.3,0.1-2.8,0.6-0.5,0.4 0.9,0.6 1,4.2 2.2,3.3-2.9,5-1.2,3.5-3.7,5.2zM-125.7,-103.6l0.4,0.1 3.4-1 1.2,0.2 1.4-1.1 0.7-1.7 2-1.6 4.7,0.9 2.1-1-1-0.8-1.9-3.3-2.3-1.1-1.4-2.8-0.9-0.6-4.5,2.7-1.3,0.2-2.2-0.6-1.5,0.3-1.4,0.8 0.1,1.7 1.1,1.7-0.8,1.8-1.3,1.7 1.7,2.6 0.9,0.7zM-220.5,-108.8l-0.8,1.2 0.7,0.5 4.2-1.7 2.3-1.8 0.3-1.1-1-2.4-1.9-0.5-2.8,0.2-2,0.4-2.9,1.7-0.4,1 0.5,0.6 3.2-0.5 0.6,0.7-0.3,1.3zM136.4,-108.8l0.8-0.7-0.4-1.1 0-1.7-1.9-1.7-1.3-0.3-1.1,0.3 0.7,1.7 1.3,1.7zM-165.3,-110.6l0.9,0.5 1.4-0.2 0.7-0.7-0.5-1.3-0.6-0.3-2.7,0-0.5,0.3 1,0.6zM-156.6,-110.6l0,0.6 1.2,0.1 1.6-0.7 2.1-1.7-1-0.8-0.7-2-1.6,0.3-1.1,0.8 0.1,1.7zM-177.4,-115.6l1.5,0 0.2-0.2-1-0.2zM52.5,-122.2l0.4,1 0.1-1 0.7-0.3 0.8-1.1 1-0.2-2.4-0.3-0.7,0.3zM73.3,-128.5l1,1.3 1.1-0.1-1.2-2.7-1-0.9-1.4-0.4 0.3,1.3zM65.5,-130l2.7,0.3 0.9-0.5 1.3-1.3-1.4-1.5-2-0.5-1.1,0-0.8,0.5-0.8,1.5zM104.3,-131.5l1.4,1.2 0.1-1.2z" fill="#ffcd1e"/><path d="M51,125.4l9.9,0 11-0.4 31.5-2.8 26.7-3.3 8.1-1.6 2.4-1.7-2.2-1.6-6.1-1.7-11.7-1.5-17.9-0.8-25,0-21.3,0.7-17.9,1.6-10.2,1.8-4.6,1.5-1.8,1.7 0.8,1.6 2.4,1.7 5.4,2 9.2,1.8zM165.9,122.2l3.7,0.2 5.1-0.2 8.7-1.6 4.7-1.7 3-1.6 1.8-1.7 0.4-1.6-1.8-1-3.5-0.3-12.1,1.3-9.7,1.6-6,1.7-1.4,1.6 1.6,1.7zM-171.6,117.3l11.4,0 4.4-0.6 3-1.1-1.1-1.6-4.4-1.7-8.4-1.7-5.9-0.7-8.4-0.5-6.5,0.1-5.6,0.9-0.8,0.4-0.5,0.8-0.1,0.7 2.9,1.7 6.5,1.6zM243.2,92.9l0.2,0.6 1,0.4 1.3,0.1 3.4-0.5 4.2-1.5 2.7-1.3 4.8-3.2 2-1.8 0.9-1.9-0.8-0.8-2.6-0.5-5.9,1.3-3.5,1.9-2.5,1.8-3.9,3.6zM167.3,69l-0.4,1.4 6.4-8.9 3.7-9.2 2.6-5.6 1.4-5.6 0-11.2-0.3-2.6-1.8,1.2-0.7,1.4-0.8,3.7 0.1,5.6-1,5.6-1,3.7-7.1,16.8zM173.4,29.9l0.4,0.4 0.7-0.4 1.1-1.9 0.4-1.9 0.1-3.7-1.2-2.3-2.5,4.2-0.2,3.7zM168.1,18.7l0.3,0.8 1.7,0.1 0.7-2.8-0.3-3.5-1.4-4-0.6-5.6-0.9-3.4-0.9,1.6-0.4,3.7 1.6,5.6-0.1,5.6zM201.2,18.7l1.5,1.3 3.1-1.3-1.2-1.2-3.2-1-2.1-1.6-1.1-0.3-1.6,0.2-1.8,1.7-0.8,0.3 2.4,0.8 3.3,0zM137.4,-65.3l0.6,0.3 1.1-0.3 1.3-1.9-4-2.9-1.5,0.1-1,1zM148.5,-70.9l1.6,0.5 0.6-0.5-2-3.1-2-1.2-0.8,0.6 0.7,1.8zM182.7,-78.3l1.5-0.3 2.4-1.6-0.8-0.8-1.5,0-1.2,0.5-0.6,0.3zM-140,-82l0.5,0.5 0.5-0.5-0.1-0.4zM-230.5,-87.5l0.3,0.4 1.6-0.1 0.9-1.2 1-2.7-0.6-1.8 0.4-1.9 1.5-1.7 0.6-1.8-1.9-0.6-1.6,0.1-1.4,0.5-2,1.8-0.5,3.6-2,1.8-1.2,1.8 0.8,0.4 3.2-0.3zM124.8,-92.9l1.5,1.6 1.4-0.1 2.4-1.5 1.9-1.9 0.4-1.7-0.7-1.8 0.4-0.7 0.9-0.7 0-0.4-0.5-0.6-2.7-1.2-2.6-0.7-2-1-1.5-0.2-1.1,0.4-0.4,1.7-1.6,3.4 0.7,1.8zM-198.9,-94.8l0.5,0.3 1.7-0.4-0.8-0.8zM134.9,-94.8l3,1.1 0.3-1.1-1.6-1.3-1.7-0.6zM-221.2,-96.5l0.7,0 1.3-1.8 2-1.9-0.9-0.4-3.8,2.3 0.2,1.4zM-194.4,-98.3l-0.2,0.9 1.1-0.9-0.1-0.3zM110.5,-98.3l1.5,0.8 1.2-0.4-1-2.2-2-0.9-1.1,0.5-0.2,0.4zM-106.2,-103.6l1.9,1.7 4.6-1.7-0.2-1.7-1.7,0.8-2.1-1.1-1.3-0.2-0.7,0.4zM-84.1,-103.6l0.9,0.5 1.3,0.3 4.4-0.8 1.7-1.1 1.5-0.4 1.2,0.3 1.5-0.3 0.5-2-1.5-2.5-0.9-0.9-1.2-0.3-5.2-0.2-2.4,2.4-2,1.5-0.2,1.7zM-125.8,-107.1l0.9,0.9 1.4-0.1 2.1-0.8 1.8-3.3-0.4-1.3-1.9,1.1-1.9,0.7-1.4,1.1zM73.4,-107.1l1.6,0.3 0.5-0.3-1-0.8zM107.1,-107.1l1.4,0.3 2.4-0.4 3.2,0.9 1.1-0.5 0-0.3-2.2-1.7-0.9-1.8-0.2-1.7-0.7-1.7-0.1-1.4 0.3-1.4 0.9-0.5 0.3-1.3 4.1,0.5 0.9-0.5-1.9-2-1.7-1.1-3.4,0.3-2.8-0.4-2.2-2-2.5-3.1-2.9-1.8-0.7,0.6 0.4,2.1-0.2,0.6-1.2,0.7-0.5,1.1-0.8,0.6-1.1,0.2-2.2-1-1.5-1.6-0.4-1.5-2.1-1.6-1.8-0.8-4.3-1.2-3.7,1.3-0.6,1-0.1,1.3 0.6,3.1-0.9,0.9-1,2.3 2.4,5 2,1.6 1.4,3.4 1.4,0.1 0.7-1.4 0.7-3.7 0.7-1 1-0.6 2.1,1.6 2.2-0.7 1.3,0.2 4.4,3.8 3.4,0.7 1.9,1 2.2,1.8zM89.2,-120.2l-0.8-0.4 0.3-0.3 1.7,0.3zM-103.7,-110.6l0.7,1.1 3.9,0.3 1.5-1.4 4.2-1.7 0.1-1.7-0.5-1.6-3.2-1.9-1.2-0.1-0.8,0.3-4.3,5zM-45.9,-112.3l1.5,0.7 3-0.7 0-1.7-0.9-0.5-1.3,0.1zM-39.9,-112.3l2.1,0.7 1.3-0.2 0.6-0.5-0.2-1.2-1.3-0.3zM-71.9,-114l0.9,0.6 1.2,0.2 1.3,0 2.6-0.8 1.1-1.6-0.2-3.1-0.7-1.4-1.3,0.2-1.5,0.6-2.6,2-1.4,1.7zM-57.5,-114l1.9,0.8 0.8-0.8-1.7-0.5zM68.1,-117.3l1.1-0.3 0.2-1.3 1.3-1.1 1.1-0.2 2.6,0.3 1.2-0.2 0.8-0.5-0.7-1.6-1.7-1.6-3.5-1.6-4.7,0.3-0.6,1.3 0.8,1.6 1,3.3zM-66.1,-122.2l0,0.3 1.3-0.3-0.9-0.6z" fill="#ffb40a"/><path d="M52.8,122.2l8.1,0.3 8.6-0.1 22.2-1.8 12.3-1.7 8-1.6 2.5-1.7-5.3-1.6-5.9-0.5-13.9-0.6-15.6,0.1-18.5,1-9.6,1.6-4.1,1.7-0.4,1.6 2.8,1.7zM169.8,63.5l0.7,1.5 3.3-5.3 3.6-9.3 1.9-3.7 1.4-5.6-0.2-12.5-1.8,1-0.7,2.1-0.3,3.8 0.1,3.7-1.8,9.3-4.2,9.4zM172.8,28l1.1,1.6 1.3-1.6 0.6-3.7-0.2-1.9-0.8-1.4-1.9,3.3-0.3,1.8zM168.2,16.8l0.3,1.4 1.7-0.4 0.2-2.8-1.5-3.4-0.4,1.5zM167,5.6l0.5,1.8 0.5-1.8-0.4-3.7-0.5,1.8zM126.9,-94.8l0.9,0.7 1.3-0.7-0.9-1.7-0.4-0.3-0.9,1zM107.4,-110.6l2,0.9 1.2-0.2 0.1-0.7-1.4-1.5-0.9,0.7-1.8-0.9-0.1-2.1 2.5-2.2 0.1-0.7-0.8-1.6-5.6-4.9-2.2,0.2-0.8,0.7-1.2,2.3 0.3,1.7 2.2,1.6 1.1,1.7 0.5,1.6 1.3,1.7zM81.4,-117.3l0.9,0.5 1-0.3 0.8-1.1 0.3-2.4-1.4-1.7-1.3-0.2-0.9,0.6-0.5,1.3 0.3,1.7zM69.2,-122.2l0.6,0 0.6-1.6-2.3,0zM84.7,-125.4l3.3,1.2 0.9-0.4-0.4-2.3-1.6-0.7-1.2-0.1-0.9,0.4-0.3,0.4z" fill="#ff9600"/><path d="M170.9,63.5l0.1,0.1 2.3-3.9 2.2-5.6-1.3-0.4-2.6,6zM175.6,52.3l0.1,1.7 1.2-3.6 2.3-4.2 0.9-3.3 0.4-1.8-0.4-3.8 0.2-7.6-1.8,1.5-0.2,0.5-0.2,2.5 0.1,5zM173.4,28l0.6,0.9 0.7-0.9 0.5-1.9 0.2-1.8-0.6-2.5-1.4,2.5-0.3,1.8zM103.3,-118.9l2.2,0.9 0.1-0.9-1.3-1.7-1.2-1-1.4-0.2-0.5,1.2z" fill="#ff7d00"/><path d="M171.6,61.6l0,0.4 1.9-4.1 0-1.7-1.5,3.5zM176.9,48.5l-0.1,1.1 3.1-6.7 0.3-2.1-0.7-1.6 0.6-7.9-1.2,2.3-0.3,5.6zM174,28l0.8-1.9 0.2-1.8-0.3-1.5-0.8,1.5-0.3,1.8z" fill="#ff5500"/><path d="M179.3,35.5l-0.1,1.5 0.6-3.4zM174.1,26.1l0.1,0.6 0.3-2.6-0.1,0.2z" fill="#ff1e0a"/><path d="M-156.8,150.5l63.9-0.1 6.5-0.7 0.8-0.4 0.3-1.6 0.6-0.8 1.3,0.9 0.4,1.5 1.3,0.7 4.2,0.2 4.5-0.4 7.3,0.7 5.8-0.3 3.9-1.1 3.5,0.9 6.3,0.5 76.1-0.2 3-0.3 2.6-1.3 2.6,1.3 5,0.5 18,0 5.8-0.3 10.7,0.3 78.3,0 2.8-0.3 5.4-1.6 17.3-6.2 6.7-3.7 10.4-4.2 1.6-1.1 1.1-1.2-0.3-0.7 0.5-0.6-0.3-0.6-1.6-0.3-5.4,0.4-7.6,1.9-8.9,1.2-17.7,4.4-12.3,1.6-9.6,0-3.7-0.3-2.4-0.4 0.8-1.2-0.5-1.2-0.8-0.1-2.4,0.9 2-2.7 3.8-3 3.1-3 0.5-1.8-2.6,1.3 3.8-4.8-4.2,1.7-6.1,3.6-5.8,2.5-11.4,2.1-3.2-0.1-5.3,0.8-4.5,0.1-1.4,0.6-0.8,1.6-2.3,1.3-3.5,1.3 0.4,0.4 0.3,3.5-1,1.2-1.1,0-1.5-1.1-0.6-1.3-0.1-1.3 0.4-1.4 3.2-1.3-0.6-0.4 0.2-1.1-0.4-1.4-0.4-0.4-1-0.1-11.8,1-10.5-0.9-1.2,0.2-6.3,1.6-2.5,2.8-2.4,1.1-1-0.1-1.6-0.8-1.9-2.2-0.8-0.5-4.2-0.3-4.4,0.1-4.7,1-5.6,0.4-8.7,2.7-2.9,1.3-2.2,0.4-2-0.1-5.9-1.3-8.3,0-4.2-0.8-5.2,0.1-1,0.6-1.2-1.7-1.1-0.4-2.1,0.7-0.7-1.5-1.7-6.6-1.2-0.7-6-0.9-4.3,1.1-2.3,0.1-1.3-0.4-2.3-3.1-3.7-1.9-7.7-1.4-3.8-0.4-5.3-1.4-12.3,0-8.1,0.9-4.3,1-6.6-1-5,0-6.4-0.6-6.1,0.1-8.6,1.6-1.7,0.7-0.6,0.7-1.1,0.1-2.8-0.5-1.1,0.2-1.5,2.3-3.7,1-2.8-0.4-2.9,0.6-2.3-1.6-4.8-1.9-7.8-0.6-7.3-2.4-2.6,1-1.2,1.2-0.7,0.4-8.4,0-5.7,2.1-1,0.2-3.9-0.3-4.4,0.3-3.5,0.8-2.4,1.6-0.5,1.9 1,5.4-0.6,1.2-1.1,0.9 0.3,0.6 6.2,3.1 9.4,3.5 10.3,3.4zM-124,137.7l-0.5-0.3-0.5-1.5 0.2-2.1 1-1.1 0.9-0.2 1.6,0.5 0.8,1.5 0.3,1.4-0.2,1.5-0.2,0.4-1.4,0.5zM-87.6,144l-3.9-1.4-1.3-1.2 0.1-1.3 3.2-2.1 2.6-0.7 1.5,1.4 0.5,1.4 0,1.3-0.5,2-1,0.8zM-203.7,131.5l2.4,0.7 0.6-0.3 0.6-1.9-2-1.5-2.4-0.2-2.7,0.5zM-123.8,65.3l6.1,0.3 4.4-1 2.2-1.1 1.8-1.9 0.9-1.9 0.3-1.8-0.3-3.8-1.5-4.3-1.5-3.1-2.4-3.8-2.9-3.7-6.5-6.6-7-5.7-8.7-5.5-8.4-4.3-8.4-2.9-6.6-1.5-6.6-0.2-4.8,0.9-3.1,1.5-1.7,1.6-1.2,2.2-0.6,3.7 0.2,1.9 1.1,3.7 1.9,3.7 2.5,3.8 4.9,5.6 4,3.7 4.6,3.7 5.4,3.8 11.2,6.2 10.6,4.4 5,1.4zM-90,57.9l0.5,0.7 1.6,0.4 1.1-1.1-0.2-1.9-1.4-0.3zM177.6,57.9l-0.1,0.4 3.4-4.2 0.8-5-1.8,0.9-1.5,4.1zM-78.7,54.1l1.4,1.6 1.5,0 1.5-1.1 0.4-0.5 0.2-1.8 0.6-1.3 3.1-0.7 0.8-1.8-1.2-2-1.6-0.9-6.3,1.4-1.4,1.5-0.7,1.9zM276.2,54.1l3.7,0.5 5-0.7 3.5-9.1 3.6-13.1 1.9-9.3 1.3-10.6-6.5-1.2-14.8,0.5-17.9-1.8-6.6,0-6.6,0.7-1.6,0.3-1.5,0.9-1,3.7-1.8,1.9-5.4,8.4-1.9,1.3-1.4-0.9-1.4-1.8-1.9,1.5-0.5,0.8-0.1,1.9 1.2,1.9 2.9,1.8 0.8,1.9 0.1,3 1.4,1.3 1.4,0.8 5.9,2.5 6,1.8 6.1,1.1 10.9,1.2 3,0.7 4.1,2.3 4.8,4.2zM-285.7,52.3l0.8,1.6 4.4-1.6 4.9-2.8 2.4-2 2.2-2.7 1-1.9 0.1-1.8-1.2-3.6-2.9-5.8-1.1-7.4-0.9-2.3-3.7-3.1-3.5-2.2-5.2-2.4-6.8-2.5 1,8.7 1.8,9.4 3.4,13zM-63.4,48.5l1.3,1.3 3.2,0 1.5-1.3-0.2-1.8 0.8-1.9 3.8-2.9 3.2-0.1 0.2-0.7-0.3-0.5-1.7-1.4-6.5-1.2-1.6,1.2 1.2,1.9-0.9,1.5-1.6-0.2-1.6,1.2-2.1,1.2-0.4,1.9zM-96.3,44.8l0.3,0 0-1.9 1-3.2 0.4-0.5-2.1-0.2-1.4,0.2-0.1,1.9 1.5,1.8zM182.5,44.8l-0.1,1.4 1.1-5.1 0.8-1.9 0.2-1.9-0.2-1.4-1.3,1.4 0.2,3.8zM-246.7,41.1l0.7,0.2 1.6-0.2 0.3-1.9-1.2-1.6-1.5,0.4-1,1.2zM145,41.1l6.2-0.1 5-0.8 2.5-1 0.9-0.8 1-1.1 0.3-1.8-0.6-1.9-1.3-1.9-2.9-2.7-4.6-3.2-7.8-4-9.5-3.9-8.1-2.5-11.3-2.7-8.2-1.3-8.2-0.5-6.6,0.4-4.6,1.8-1.4,1.8 0,1.9 0.9,1.9 3.6,3.7 5.8,3.9 9.4,4.7 9.4,3.7 10.9,3.3 9.5,2zM-94.4,37.3l0.9,1.5 1.6,0.3 1.6-0.2 2.1-1.6 0.6-1.8-1.4-1.5-1.7-0.5-1.6,0.5zM182.9,33.6l-0.1,1.3 0.7-1.3 0.3-1.9-0.2-2.3zM-241.5,28l0.8,0.3 1.5-0.8 1.4-1.3 1.7-0.1 0.4-1.8 1.3-1.9-0.3-1.9-2.5-1.7-1.5,0.5-1.5,1.9-1.5,0.5-1.7,0-1,0.7 1.1,3.7 0.8,1.1zM227.2,16.8l0.3,0.8 1.6,0.4 1.6-1.2-1.4-1.7zM172.9,14.9l0.7,1.6 1.3-3.4 0-1.9-1-1.8-1.6,0.1-0.2,3.6zM38.1,13.1l2.9,1.2 1.6,0.2 3.3-0.5 1.7-0.9-1.7-1.1-3.3-0.6-1.6,0.2zM-275.9,5.6l1.7,0.7 2.6-0.7-0.3-1.9-2.3-1.8-0.4,0-1.4,1.2-0.4,0.6zM-260.7,0l1.1,0.3 1-0.3-0.2-1.9-0.8-1-1.6-0.3-0.8,1.3zM-230.1,-5.6l0.3,0 0.7-1.9-2.1-1.8-0.6,0-0.2,1.8zM-240.6,-7.5l0.9,0.6 1-0.6 1.8-1.8-1-1.1-1.6-0.1-1.4,1.2zM-284.8,-11.2l0.9,1.2 1.7,0.1 0.7-1.3-0.1-1.9 1.4-3.7-0.2-1.9-1.9-4.5-2.7-1.1-0.3-0.4-0.3-1.4 0.8-1.6 1.7,0 1.2,2 1.2-0.4 0.8-1.9-0.7-1.9 1.2-1.8 0.1-3.8 1.4-1.8 3.7-0.9 1.9-1.2 1.7-0.2 0.7,0.4-0.1,1.9-2.3,1.8-0.5,1.9 0.5,1.1 1.5,0.4 1.8-0.9 3.4-0.5 1.5,0.3 2.3,1.5-1.2,1.8-2,0.8-1.7,0.5-3.1-0.8-1.6,0.1-3.8,1.3-0.4,5.6 1,2 1.5,0.8 2-0.9 1.7-1.8 1.6,0.4 0.6-0.5-0.3-1.9 0.4-1.9 1.4,1.3 3.5-1.6 1.6,0.3 1.2,2.4 1.6,0.2 3.5-2.5-0.8-1.9 1.5-1 0.8,1-1.1,1.9 1.2,7.4 0.6,1.6 1.7-0.5 1.7-0.1 1.6,0.4 2.4-3.2-0.5-1.9-2.2-1.9 0.9-1.8 2.3-1 1,1 0.3,1.8-1.5,1.9 2.7,0.8 1.6-0.1 1.3-0.7 2.7-4.2 3.5-1.4 2.7-3.7 0.7-1.9-0.1-5.6-0.9-1.9-0.1-1.8-1.8-3.8 0.6-3.7 1.1-1 1.9,4.2 1.3,6.1 0.8,1.9 1.5,1.9 0.8,1.8 0.1,1.9 2.3,7.5 1.6,0.9 4.2-2.8 3-1.7 3.2,0.5 1.7-0.2 4.1-2.3 0.6-1.9-0.5-1.2-3.1-1.2-1.6-0.1-0.9,0.6-1.6,1.9-1.3,0.9-1.5-0.5-3.3,0.2-1.6-0.3-0.4-0.3-0.8-1.9 0.8-1.8 2.5-3.8 3.4-3.1 1.6,0 2.8,1.5 1.9-0.2 0.7-1.9 0.1-2.6-0.3-1.1-1.3-1.9-0.6-1.9 0.7-1.8 0.6-1 2-1.1-0.3,2.1 0.5,2.1 1.2,1.3 4.4,2.2 0.3,1.8-3.4,1.9-1.9,1.9 0.2,3.7 0.6,1.9 1.5,0.8 1.6,0.1 1.7-0.6 2.4-2.2 1.1-3.7-0.7-1.9-1.2-1.9 0.6-1 1.6-0.3 1.5,0.5 1.6,0 4.9-0.4 6.2,0.8 2.4-1.4-0.2-1.9-1.3-0.6-0.5-1.3 1.5-1.8 2.7-1.9-0.4-1-1.1-1.6-1.4-0.4-3.1,0.1-1.2-0.8-0.2-1.9 2.2-3.7 2.2-1.8 1.7-0.1-1.6-0.1-1.3-0.7-0.8-1.6-2.3-1.3-1.1-1.4-0.1-0.5 1-1.8-0.2-1.9-1.8-2.4-1.3-0.3-3.7,0.9-0.7,1.8 0,1.9-6.2,7.2-1.4-0.3-1.7-3.2 1.2-3.7-0.4-0.5-2.6-0.7-0.6-1.6-0.8-0.9-1.7,0.1-5.5,1.7-1.7,1.9-0.4,3.7-2,1.6-1.9,0.9-1-1.2-0.3-2.1-0.8-1.3-1.5-0.2-0.5,0.4-2.2,1.9 0.4,1.9 0.9,1.8-0.7,1.9-1.9,1.8-1,1.9-1.8,1.9-1.8,0.8-3.5,0.8-2.4,1.9-1.2,3.9-0.6,1-2.2,1.8-0.1-2.8 0.3-2.3-0.9-1.5-1.7,0.1-1.9,0.9-1.1,1-1.5,3.7-2,1.9-3.1,1.6-5.4,2.2-1.9-0.1 0.4-0.3 2.5-5.3 3.6-1.9 1.8-1.8 1.1-1.9-0.1-0.7-1.3-0.5-3.5,0.7-1.4-0.3-2.6-1.3-4-1.4-1.2-0.8-0.8-1.5-0.3-1.7 0.8-2-0.4-1.9-2.1,0.9-1.4,1.2-2.4,2.8 0.2-1-0.8-0.6-1.4-0.4-1.9,0.6-1.9,2.3-1.7,1.4-1.6,0-2.9,2.3-1.2,3.8 0.4,1.5 1.8,2.2 0.2,1.9-3,3.7-0.9,1.9-2.1,1.8-0.6,1.9 0.1,1.9 0.8,1.7 1.8,2-0.9,0.9-1.7,0-3.2,2.8-2,5.6 0.6,1.9 0.8,0.7 1.5,0.6 0.4,0.6 2.4,5.6 1.5,1.8zM-275.5,-53.9l-1.2-2.1 0.9-0.5 1.3,0.5-0.6,1.9zM-269.7,-59.4l-0.2-0.3 0.2-1.9 1.7-0.9 1.1,2.8-1.4,0.6zM-265.9,-54.1l0.7-1.9 0.2-0.1 0.9,2-0.4,0.6zM-264.8,-37l-0.2-0.3 0.1-1.9 0.9-0.8 1.1,0.8 0.3,1.9-0.6,0.3zM-251,-33.5l-1.6-0.4-1.4-0.9-0.1-0.7 2.1-1 1.5,0.4 0.2,0.6zM-216.2,-55.8l0.5-1.2 1.5,0.2 0.2,0.8-0.8,0.7zM-190.6,-51.6l-1.1-0.7-0.2-0.5 0.1-1.3 0.6-0.9 1.8-0.8 2.6,1.7-0.6,1.8zM-187,-62.6l-1.1-1.2-0.4-1.5 0.1-1.9 0.6-0.9 1.7-0.5 1.2,0.9 0.2,2.4-1,1.8zM-246.1,-11.2l1.7-0.1 0.4-1.8-3.3-2.9-0.8,1.1 0.6,1.8zM-236.1,-18.7l0.5,0.4 1.7-0.1 0.4-0.3-0.1-2.5-1.6-0.9-1.6,1.6zM-132.4,-24.3l0.3,0.4 1.7-0.4-0.9-1.8-0.6-0.6-0.4,0.6zM60.3,-28l4.8,0.9 6.5,0.4 6.5-0.4 6.5-1.3 4.8-1.5 4.7-2.2 3-2 3.2-3.2 1.1-1.9 0.6-1.9 0.2-1.8-0.3-1.9-0.8-1.9-1.2-1.8-6.8-7.5-5.9-7.5-3.8-3.2-3.3-1.3-3,0.4-1.5,0.7-1.6,1.6-3.5,5.7-2.7,3.3-2.9,2-7.6,3.5-3.9,2.3-2.2,1.8-1.7,1.9-1.2,1.9-0.8,1.8-0.2,1.9 0.2,1.9 0.7,1.8 1.3,1.9 2.1,1.9 2,1.2 3.3,1.5zM231,-29.9l3.1,0.8 1.6-0.1 1.6-0.3 1.4-0.8 1.4-1.4 0.4-1.9-0.7-1.9-1.9-1.8-2.5-1.2-3.3-0.4-3,0.9-1,0.7-1.1,1.8 0.1,1.9 1.1,1.9zM-131.6,-31.7l0.2,0.3 0.3-0.3-0.1-1.6zM276.7,-37.3l1.2,1.1 1.7,0.3 1-1.4-1.9-2.1-1.6,0.2zM-124.8,-39.2l0.7,0.5 0.9-0.5 2-1.9-2.3-1.8 1.4-3.8-3.4-3.7 0-1.2-0.3-0.7-1.1-0.3-1.1,0.3-0.4,1.9 2.5,7.5 0.4,2.3zM-120.5,-39.2l1.2,0.3 0.4-0.3-0.3-0.4zM-140.2,-41.1l0.2,0.9 1.5-0.9-1.4-0.6zM-117,-41.1l1.1,0.5 1.6,0 1.6-0.5 1.7-1.8 0.4-1.9-1-1.9 0.4-1.8 1.5-2.8 1.7-0.3 1.5,0.5 1.2-1.2-0.7-1.8-1.5-0.5-1.7,0.7-3.3,0.7-1.6,0-2.6-0.9 0.5-1.9-0.4-0.8-0.6,0.8-0.4,5.6 1.6,3.7-0.6,1.9zM-151.3,-44.8l2.1,1.3 1.6-0.1 3.7-2.8 1.6-0.1 2.9,1.5 1.8-1 1.2-2.5 3.2-1.9-1.4-3.5-0.1-2.1-0.9-0.3-1.2-1.5-0.6-1.9-2-0.3-0.7,0.3-1.7,1.8 0.2,1.9-0.5,0.4-4.7,0-0.5-0.4-0.3-1.9 1.8-5.6 1.8-1.9 1.8-1 1.7-0.3 3-2.3 2.2-5.6 1.1-1.5 1-0.4-2-0.9-2.8,2.8-1.6,0.8-4.7,0.3-2.7-0.8-0.9-1.6-0.5-2.4-1-0.9-1.5-0.1-4,2.1-2.6-0.7-1.8,0.5-3,3.3-2.2,1.6-1.7,0.4-1.2-0.8-0.7,0.1 0,1.9-1.3,1.9-3.4,1.8-1.6,1.9 0.6,0.8 2.9,0.5 2.7,1.1 1.6,0.1 1.2-0.7 1.2-1.8 2.1-1.9 1.1-1.8 0-1.9 2.6-1.6 1.5,0 0.7-0.3 2-2.4 1.9,2.7 1.2,3.5-3.8,3.5-1.6,0.2-2.8-0.8-1.4,0.8-1.1,1.8-2.5,1.9 0.2,0.5 3.1,0 1.5,0.4 1.6-0.3 1.3,0.8 0.2,0.5-0.4,1.8-1.2,1.9-0.4,1.9 4,3.9 1.5,0.3-0.1,3.2zM126.2,-44.8l0.4,0.2 1.9-0.2 1.4-1.9-0.5-0.9-1.7-0.7-2.5,1.6zM107.5,-46.7l1.4,1.3 1.6,0 1-1.3-0.2-1.8 0.3-0.4 1.7,0.5 1.8,1.3 0.3-1.4-1.4-1.9-0.1-1.9 0.7-3.7-1.3-1.9-0.7-1.8 2.2-1.9-1.1-1-1.7-0.8-4.9-1-2.2-0.9 0.5-3.7-1.6-2.5-1.9-1.4-1.1,1.5-1.2,4.2 2.5,1.9 0,3.7 1.6,3.7 1.4,1.9 0.4,1.9-0.7,1.8-0.4,1.9zM115.7,-46.7l1.1,0.5 0.3-0.5-0.4-0.4zM283.9,-46.7l0.8,0.2 1-1.6-1.9-6-1.2-1.9-3.6-3.7-1.2-3.8-1.8-1.4-0.6,3.3-1.4,1.5-0.9,0.4-0.6,1.8 0.8,1.9 0,1.9 0.7,1.8 0.8,0.6 0.2-0.6 0.9-0.5 1.8,0.5 1.3,1.9 1.2,0.4 2.8,1.5zM-171,-50.4l0.5,1 1.8-1-1.3-1.2zM-95.1,-56l0.3,1 1.5-2.9 0-1.8-0.5-1.2-1.4-0.9-1.9,1.9-0.2,0.9 0.1,1.1 1.1,1.3zM-126.1,-57.9l0.3,0.3 0.6-0.3 1.2-0.9 1.5-2.8 0.9-0.5 1.6-0.3 0.6-1.1 0.2-1.8-0.5-4.1-1.3-0.7-3.5,1.3-1.3-0.8-3-0.1-1.5-0.3-1.1-1.2-1.1,0.3-0.4,1.9 0.3,1.4 1.4,0.6 1.3,3.5 0.1,2.7 0.4,1.1 2.1,1.5zM-134.9,-65.3l0.4,0 0.9-1.9-0.5-0.2-1,0.2zM95.7,-65.3l0.5,0.8 1.6,0.2 0.5-1-0.8-0.7-1.5,0.3zM-104,-70.9l1.2,1.5 1.5,0.1 1.6-0.5 0.6-1.1 0.2-1.9-0.7-1.8-1.3-2.1-1.3-0.6-3.2,0.6-0.8-2.1-2.1,1.9-1.6,0.1-1.3-0.4-1.2,0.7-0.1,1.9 1.4,1.9 1.6-0.3 3.3-1.6 0.4-0.9-0.1,0.9 1,1.4zM-118.9,-72.8l0.1,0.4 1.3,0.7 1.3-1.1 1-3.7 0.3-1.8-1.4-1.7-1.3-0.5-1.2,0.3-1.2,1.9-0.1,1.8zM-131.4,-76.5l0.5,0 0.5-1.9 0,0.1zM-127.8,-76.5l1.1,0.4 1.3-0.4-0.7-1.1zM-95.3,-76.5l0.2,0.7 1.2,1 2.2-1.7-0.2-1.8-0.8-0.6-1.5-0.1-0.7,0.7zM-75,-83.8l1.1,1.1 1.5,0 1.1-1.1-0.1-1.9-0.3-0.3-1.5,0.5zM17.5,-92.9l3.9,0.6 4.4,0.2 4.2-0.2 4.2-0.8 4-1.7 2-1.7 0.7-1.8-0.4-1.8-1.5-1.8-2.2-1.5-0.9-0.2-0.5-0.1-2.5,1.3-2.7,0.4-1.3,0.6-1.5-0.7-1.2-1.5-0.3-1.8-3.4-3.3-1.4-0.7-4.3-3.8-4-1.2-9-0.8-2.5,0-1.3,0.4-5.2,3.5-3.1,0.7-1.1,1.8 1.4,1.1 2.6,1.2 8,2.9 1.5,0.8 1.4,0.9 2.5,3.6 1.8,2 3,1.8zM203.3,-110.6l9.7,1.5 4,0.1 3.5-0.5 2.9-0.8 1.6-0.8 4.6-4.4-8.6-6-5-0.9-13.1-5.4-6.7-2.2-5.8-1.2-6.8-0.7-2,0.1-0.6,0.4-0.7,1-3,0.3-2.7-1.4-0.5-1.5 0.2-1.8 0.5-0.3-0.5-0.8-1.9-1.5-5.2-2.7-2.9-2.5-20.3-3.5-5.9,0-5,0.3-0.5,0.2 0.1,0.5-0.3,0.3-5.6,0.7-3.1-0.1-1.1,0.4 0.2,1.2 1.1,1.2 0.6,1.3-0.3,1.1 0.8,1.6 5.2,1.1 4.6,1.7 8.9,4.6 7.8,4.6 3,3.2 4.3,3.3 10.8,5.9 3.7,1.1 2.1-0.4 1.5,0.2 0.6-0.7-0.7-1.2 0.1-0.7-1.5-3.7 0.1-0.5 2.7-0.3 3.3-1.4 7.8,5 3.4,1.6 4.5,1.7zM201.8,-115.3l-4.4-2-2.5-1.6-1.4-2 0.7-0.4 7.4,0 4.8,1.8 1.2,0.6 0.4,0.6-0.1,1.8-0.9,1.3-2.1,0.4zM-229.4,-115.6l9.1-1.7 11.2-3 9.1-3.9 6.7-2.2 11.8-1.6 2.5-0.9 1.3-0.1-0.1,0.8 1.3,0.8 0.2,0.7 0.8,0.3 2.4,0 0.9,0.2 1.4,0.8 2.3,0.1 1.5,0.7 1.2,0 5.5-1.6 2.6-0.2 6.6-1.6 6.4-3.5 3.4-1.5 5.3-1.5 2.7-0.4 4.2-1.5 0.7,0.5-3,2.9 4.5-0.8 11.3-2.9 5.4-2 2.3-1.4 1.3-1.3 0.1-1.2-1.6-0.9-3.3-0.4-15.4,0.3-22,1.6-12.6,1.9-4.3,1.4-4.5,2.8-3.1,1.4-4.5,1.5-36.2,10.1-7,1.4z" fill="#8ccdf0"/><path d="M-159.2,150l3.1,0.4 22.2,0.1 5.5-0.2 5.2-0.7 5.5,0.4 3.6-0.7 4.3,0.7 4.9-0.2 7,0.4 4.1-0.2 2.5-0.5 1.1-0.4 1-0.9 0.5-1.3-0.4-1-6.1-3.3-0.7-1.2 0-0.8 0.6-1.2 2.2-1.8 1-1.2 0.7-4 0.7-0.5 1.1-0.1 2.7,0.6 1.1,0.6 1.3,1.5 1.7,4.2 0.9,5.1 2.2,4.8 1,0.4 0.7-0.2 1.7-1.3 2.8-0.7 2.4,1 1.3,1.5 2.1,0.7 2.3,0.1 3.1-0.1 1.6-0.7 0.2-0.7-0.4-1.7-2-3.9 0.6-0.4 2.1,1.2 4,1.3 1.5,0.8 2.8,2.7 1.3,0.7 2.3,0.7 20.3,0.5 44.8-0.6 4.3-0.6 1.7-0.6 3.5,0.6 4.2,0.1 1.1-0.8 1.4-4.8 1-1 1.2-0.3 4.7,0.7 1.5,0.7 0.8,1 0.2,1-0.3,1-2,2.4 1.2,0.7 1.9,0.2 6.9-0.6 3.8,0.5 6,0.1 7.3-0.8 13.7,0.9 13.5-0.5 12.4,0.7 19.9-0.5 17.3,0.3 12.8-0.1 6.9-1.6 10.7-3.7 5.7-2.4 2.1-1.3 0.2-2.4 0.7-2.3-0.1-0.6 0.4-0.7-0.7-1.4-4.5,0-14.1,3.6-5.3,1.7-12.6,1.1-4.9-0.2-4.7,0.4-3.6-0.4-2.3-0.5 1-1.3-0.5-0.3 0.1-0.8-0.8-0.2-2.6,1.1 2.4-3.5 4-3 2.3-2.1 0.7-1.6-2.9,1.6 3.4-4.4-1.9,0.4-5.4,3.3-7.7,2.9-8.9,2-6.3,0.6-5.2,1.7-2.3,1.2-2,1.6-3,1.4-0.7,1.3-0.4,2.2-0.5,1.3-1.1,1-1.7,0.1-1.9-0.7-1.4-1.2-2.6-5.7-2.1-2.5-2.8-0.4-8.8,0-5.2-0.4-2.9,0.8-0.6,1.5 2.1,2.7 0,1.3-0.6,1.2-0.8,0.2-2.7-2.9-0.8-0.4-1.3,0.4-3.3,1.7-1.1,0.1-2.4-1-3.8-2.3-4.6-1.4-4.3,0-2.2,0.4-1.5,0.6-4.2,0.1-2.3,0.3-1.1,0.3-1.9,1.4-0.8,1.3-1.5,4.5-0.9,1.4-0.9,0-3.7-2.4-5-1-2.7-1.7-1.9-0.9-7.2,0.2-4.1-0.7-2,0-4.1,0.6-0.9,0.6-1.3-1.6-1.1-0.6-2.1,0.2-0.8-1.3-0.9-2.4-1.3-1-1.1-0.4-2.2,0-4,1.6-2.3-0.3-1.6-1.9-4.1-2.4-4.2-5-3.5-1.5-5-0.7-4.9-0.2-4.2-1.4-7.5-0.6-4.8,0.1-7,0.6-1.8,0.6-2,1.4-1,0.2-6.8-1.2-8.5-0.1-8-1.2-2.3,0.2-4,1.1-1.8,1.2-1.3,2.4-5.4,1.7-1.9,1.5-0.1,2.1 1,6.6-0.6,1-3.2,0.5-1.5,1-0.5,2 0.2,3-0.3,0.7-0.9,0-1.6-1-3.2-4.3-0.3-2.5 0.4-2.7-3.1-1.5-1.9-1.4-0.3-1.5 0.1-3-3.2-3.1-2.8-1.1-2.3,0.1-3-0.7-6.1-2.3-2.8,0.8-0.9,1.3-1.4,0.9-7.8-0.6-4,1.6-1.2,0.9-2.5,0.7-6.8-0.7-3.2,0.7-1.3,1.5-0.6,1.5 0.1,1.5 1.3,2.9 0.2,1.5-0.4,1-2,1.5 0.2,0.2 2.2,1.3 8.4,3.5zM-67.2,139.1l-0.9-0.4 0.3-0.3 0-1 0.8-0.7 0.5-0.8 1.4,0-0.1,1.5-0.9,1.3zM-60.8,137.8l-1-0.4-1.3-1.5 0.5-1.4 1.8-1.9 4-3.2 0.8-1 1-0.3 1.2,0.4 2.3,3 0.2,1.5-2.8,2.9-2.1,1.5-2.3,0.7zM189.3,135.9l5.4-0.3 2.9-1.1 1-1.5-0.2-0.5-1.1-1.3-0.8-0.1-4.8,0.4-2.8,1.5-0.5,1.5zM280.6,48.5l3.3,0.2 3.5-0.7 4.6-16.3 2.4-12.4-3.2-1.1-3.2-0.4-5,0.4-8.4,2.1-3.3,0.3-11.3-1.5-6.5-0.1-3.3,0.5-3.8,1-3.2,1.9-1.6,1.9-0.5,1.8 0.4,1.9 1.3,1.9 2.3,1.8 4.1,1.9 3.3,0.8 12.6,1.4 2.9,1.1 2.7,2.2 6,7.3 1.3,1zM-287.8,46.7l0.4,1.3 1.4-0.6 3.8-2.6 1.8-1.9 1.3-1.8 0.8-1.9 0.3-1.9-0.4-3.7-1.7-3.7-3.2-3.8-4.9-3.7-6.2-3.1 2.4,12.4zM126.1,31.7l5.2,0.9 4.8,0.1 3.9-1 0.5-1.8-1.4-1.9-2.5-1.9-3.5-1.8-4.6-1.9-5.9-1.8-4.9-0.9-4.9-0.5-3.2,0.3-2.7,1 0,1.9 1.6,1.9 2.7,1.8 3.6,1.9 4.8,1.9zM173.4,13.1l0.3,1 0.3-1-0.1-2zM-241.3,-28l0.4,0.7 1.6,0.4 1-1.1 0.6-1.9 4-1.3 1.9-1.5 0.5-0.9-0.1-1.9 0.6-2-1.3-1.2-1.2-1.9 0.3-2.3-1.8-3.8 0.7-1.8 0.3-2.2-0.6,0.3-0.7,1.9-0.1,1.8-2.2,1.9-2.3,3.9-1.7,0.2-2.3-2.2-0.2-1.9 0.6-1.9 1.6-1.8-0.1-2.2-1.3,0.3-1.1,1.9-1.8,1.2-2,0.6-1.3,1.9 1.6,1.9 0.1,1.8-0.3,1.9 0.3,1.9-0.5,1.8 0,3.2 1.2,2.2 2-1.6 0.7-1.9 1.7-1.8 1.5,0.5 1.5,3.2-1.2,1.8zM70.9,-33.6l6.8-0.2 6.3-1.7 3.4-1.8 2-1.9 1.1-1.9 0.5-1.8 0-1.9-1.2-3.7-2.7-5-2-3-1.8-1.9-1.8-1-1.5-0.1-1.5,0.7-1.4,1.4-4,5.7-3,2.5-6.9,4.4-1.8,1.9-0.9,1.8 0,1.9 0.9,1.9 1.6,1.3 3.3,1.5zM-258.9,-35.5l1.6,1 1.8-2.8 0-1.9-1.8-2.1-1.4-0.9-1.6,0.2-1,0.9zM-282.8,-37.3l0.3,0.1 3.7-1.7 8.7-2.6 2.9,1.2 0.7-0.8-0.4-1.8-1.4-1.9 1.6-3.7-1.1-0.7-0.9-1.7-0.6-1.4 0.1-1.8-0.9-1.2-2.1,1.2-0.9,1.8 0.2,1.9-2.8,3.7-1.1,1.9-0.5,0.3-1.5-0.3-1.7,0-0.8,3.7-1.3,1.9zM-222.7,-39.2l0.3,0.2 0.5-0.2 1.5-1.7 0-2 0.7-1.2 1.6,0 2-0.7 0.8-1.9-0.9-4.3-1.6-0.1-1,0.7-1.3,3.7-0.9,1.4-1.5-0.3-2.4-2.9-1.7,1.8 0.5,2.6 1.6,3zM-201.4,-39.2l1.6,0.2 0.9-0.2 0.9-0.9 0.6-2.8-1.4-1.3-3.3,1.3-0.2,1.8zM-225.5,-50.4l0.6,1.9 5.6-3.8 0.3-1.8-0.3-1.9-1.2-0.9-1.4-0.5-1.1-1.1-1.3-0.6-1.7,0.1-4.1,2.3-2,0.7 0,0.4 3.4,1.5 1.9,1.3zM-199.4,-50.4l2.3,0 1.4-1.9-0.7-1.2-1.2-1.1-1.5-0.6-3.2,0.3-0.9,0.8 0.4,1.8zM-185.2,-50.4l1.9,1.1 1.7-1.1-0.3-1.9 0.4-1.8 3.8-1.9-0.4-0.7-1.2-1-1.6-0.1-2.8,1.8 0.6,1.9-0.6,0.3-0.8,1.5zM-144.6,-50.4l1.1,1.5 1.6,0.2 1.6-0.3 1.4-1.4 1.5-1.9 0.2-1.8-1.1-1.9 0-1.9-1.5-0.4-0.5,0.4 0.1,0.9 0.8,1-1.4,1.7-1.7,0.4-1.4-0.5-3.2-0.2-2.1-1.4 0.9-5.6 3.3-3.7 1.2-0.9 3.5-1.3 2.2-1.5 1-1.9 0.5-2.9-1.5,0-3.4,0.9-3.1,0.2-2.7-1-1-1.3-0.5-2.4-1-1.1-1.5,0-1.9,2 2,5.1 0.7,2.4-0.1,0.2-1.3,1.6-3.3,2.7-4.7,0.2-0.8,0.8 0.2,0.9 1.4,0.6 1.6-0.2 1.3,0.9 0.6,1.6-0.4,3.1 1.2,1.4 3.1,0 1,1.1 1.3,3 1.5,0.3 3.2,0.1zM109.8,-52.3l1.4,1 1.5-0.6 0.8-2.2-0.1-1.9-1.6-1.2-3.2-0.2-0.7-0.5 0.5-0.2 1.7-3.5-4.4-2-1.5-0.1-1,2.1 1,1.9 3.8,3.7 0.1,1.9zM-259.7,-54.1l1.6,0.4 1-0.4-0.4-1.9-1-0.5-1.6,0-0.8,0.5zM280.1,-54.1l0,0 1.7,0.3-0.4-0.9zM-210.6,-56l0.3,1.4 1.9-0.9 1.4-2.4 0-1.4-1.7,0.4-1.3,1zM-194.8,-56l0.5,0.9 1.3-0.9-0.4-1.9zM-219.6,-59.7l0.1,0.2 1.5,0.2 2.1-2.3 0.2-1.9-1.5-1.2-1.3-0.6-2.2,1.8-0.3,1.9 0.4,1zM-197.6,-59.7l0,0.3 1.8-0.6 3.8-1.6 1.3-1.9 0-1.4-0.6-2.4-3-0.2-0.2,0.3-0.9,1.9-2.2,1.8-0.4,1.9zM-127.8,-59.7l0.7,0.5 1.6-0.1 1.3-2.3 2.3-1.9 1.5-1.8 0.1-1.9-1-2-1.9,1.2-1.5,0-2.6-1-3.1-0.4-1.7,0.4 1.3,0.7 0.9,2.1 0.8,0.9 0.2,3.7zM-214.4,-61.6l1.5,1.3 1.4,0.3 1.3-1.6 0.3-1.9 2.5-1.8 1.9-1.2 3,0.3 0.9-1-1.8-3.7-1.3-0.3-3,2.2-2,1.8-0.4,1.9-3.8,1.8zM-170.3,-65.3l2.5,1.4 1.6-0.1 3.4-3.2 0.7-1.8-0.2-1.4-3.1,0.1-2.2,1.7-3.2,1.4zM-182.9,-67.2l0.2,1.5 1.1-1.5-0.3-0.4zM101.4,-69l1.9,1.6 0.7-1.6-1.6-2.2zM-188.3,-70.9l0.5,0 1.3-1.9 0-1.3-1-1-1,0.5-1.6,1.8 0.7,1.5zM-160.5,-74.6l1,1.2 1.6-0.3 1.8-0.9 0.2-1.9-2-0.7-1.3,0.7zM-118.8,-74.6l0.4,1 1.4,0.3 0.7-3.2 0-1.8-0.4-0.6-1.3-0.4-1.1,1-0.2,1.8zM165.7,-115.6l2.2,0.9 3,0.5 3.1-0.7 0.7-0.6-0.1-1.3-1.1-2.1 0-1.1 3.4-1.4 1.6-1.7 0.3-0.7 0.8-0.4 4,0.3 0.8-0.3 0-1.2-2-1.5-3.4-1.3-2.4,0-1.3-0.3-1.6-1.5-1.4-4.5-1.1-0.8 0.2-0.6-1.7-0.2-1.2,0.5-2.5-0.3-1.7-1.5-0.2-1.6 0.5-0.8-0.6-1.3-1.8-0.8-15.3-3.3-8.5-0.4-3.9,0.4-0.3,0.9-0.4,0.3-2.4,0.2-1.2,0.5-1.4,1.4 0.1,0.5-1.5,2.7 1.5,1.3 4.1,1.5 3.3,1.6 16.6,8.9 2.5,3.2 2,1.6 2.3,1.7zM187.8,-123.8l1.4,0.5 5.7,0.7 3-0.5 4.8,0.8 0.7-0.4-0.8-1.1-2.2-1.6-3.2-1.5-5.9-1.7-3.9-0.2-1.8,0.3 0.4,1.1 1.9,3.1zM-171.2,-126.9l1.7,0.4 3.8-0.1 8.8-1.9 9.3-2.3 7.2-3 12.3-3.3 1,0.1 0.2,1.4 1.9-0.3 5.3-1.5 3.7-1.3 2-1.4 0-0.8-0.9-0.8-3.2-0.5-10.1,0-15.3,1.1-7.1,1-3.6,0.8-2.2,0.6-9.4,4.2-9.3,3-0.1,0.7-0.8,0.8 0.2,1.5 1.4,1.3zM-180.5,-130l0.3,0.3 1.9-0.5-1-0.2z" fill="#50c3f0"/><path d="M-158.7,150l1.9,0.2 22.5,0.2 5.4-0.4 1.8-0.8-1.4-2.3-3-3.1-0.5-1.2-0.1-2.5-0.4-1.4-3.6-2.8-1.2-2.9-2.4-1.5-4.4-1.5-2.8-3.1-3.6-2.5-1.7-0.5-0.8,0.4-1.2,1-0.3,0.8-1.7,1.6-1,0.1-3.5-0.9-3.3,0.1-10.4,4.3-3.3-1.5-2.3,0.2 1.4,3-1,2.5-0.7,3.3-1.3,2.2 0.1,0.5 4.5,2.2 5.8,2.2zM-34.1,150l7.7,0.3 10.2-0.3 4.5-0.6 18.8,0.4 2.5-0.5 0-3.4-0.2-1-0.6-1.1-1.8-1-5,0.5-4-0.9-2,0-1,0.4-0.7,1 0.6,3.1-0.4,1.1-1.8,0.4-3.7,0-0.5-0.6 0.4-2.9-0.3-1.1-0.7-1.2-1.1-0.7-1-0.1-1.4-1.8-1.2-0.8-4.3-0.6-7.4,0.3-4.3-0.4-1.2-0.4-1.1-0.7 1.2-1.9 0.1-1-0.5-1.5-2.9-4.1-1.4-0.9-6.6-1.9-2.3,0-2.1,0.8-0.2,1.6 2.3,4.5-0.2,1.5-1.3,1.4-3.8,2.8-1.6,0.8-2.7,0.6-1.2,1.3 1.6,1.2 2.2,1 2.3,2.3 3,1.9 1.5,1.5 3.3,0.6zM-19.2,142l-1.2-0.6 0.6-1.5 1.2,1.5zM81.1,150l5-0.7 1.8-0.7 0.2-0.8-1.7-2.1-2-4.3-1.2-1.5-2.9-2.5-1.5-0.6-4.2-0.1-3.7,0.5-3-0.2-1.5,0.4 0.3,8.7 0.7,0.2 0.9-0.4 1.6-2.1 1.9-3.7 1-0.1 6.6,4.9 0.7,1-0.3,1-3.3,0.9-0.4,0.8 0.5,0.7zM100.6,150l12.1,0.2 7.5-0.8 7.3-0.4 3.9,0.6 5.4-0.4 6.4,0.9 15.3-0.4 4.3-1.1 4.1-1.7 6.7-2 5.2-2.3 0.5-0.6 1.5-4.6 0.1-2-1.3-0.9-2.7,0-13.5,4.2-1.6,1.4 0.2,2.5-0.5,1.2-2.8,1.1-1.4,0-1.2-1.1-0.5-2.6-2.1-1-7,0.9-7.2,0-1.8,0.3-2.6,1.2-1.5,0.1-4-2.4 1.1-1.3-0.5-1.1-0.6-0.3-2.6,1.1 0.9-1.4 0.4-1.4 1.4-1.4 5.6-4.5 0.5-0.6-4.4,2.8-0.1-0.7 4.2-4-1.9,1-1.1,1.5-2.4,1.5-3.1-0.5-4.8,1.3-4.4,0.7-6.6,2.1-1.8,0.8-1.5,1.5-4,1.3-1.6,1.4-1.3,2.5-2.8,2.3-0.3,1 0.4,3.4zM-100.2,149.3l2.8,0.3 2.7-0.3 0.6-0.7-0.1-1.7-1.6-1-1.8-0.1-0.9,0.7-1.7,2.1zM-66.9,149.3l3.6,0 0.5-0.7-0.1-0.8-1.1-1.9-1.2-1.1-1.5-1-1.5-0.1-1.1,0.8-0.2,1.4 1.6,2.7zM42.9,149.3l1.8,0.3 1.8-0.3 1.2-1.5 3.4-1.9 0.9-1-0.1-1.1-1-1.2-1.9-1.2-4.9-1.3-2.2,0 0.6,0.1 0.3,1.2 0.7,0.7 1.2,3.8-0.1,1zM53.6,149.3l4.9,0.6 3.1-0.3 1.1-0.3 0.6-0.7 0.3-1.4-3.6-4.3-0.6-0.4-1-0.1-2,1.4-2.5,3.1-0.6,1.7zM-119.5,148.6l1.5,0 0.6-0.7 0.2-1-0.2-1-0.6-1-2.3-1-0.9,1 0,1 0.8,1.9zM-110.7,145.9l2.1,0.2 4.8-1.7 0.6-0.9 0-3.4 0.4-1.7 1.4-1.5 4.4,0.1 2.4-1.1 0.5-1.4-0.3-1.5-2.6-3-0.3-3.1-1.1-1.5-1.5-1-1.3-0.6-1.6,0-3.4,1.6-0.7,0.8-0.3,1 0.7,4.8-0.3,0.8-0.9,0.2-4.3-1.5-1.9-0.1-0.8,0.3-1.3,1.3-0.4,2.2 0.8,3.9 1.8,3.5zM-78.1,143.8l2.4,0.3 1.8-1.1 1.6-4.3 3.1-5.1 1.5-1.2 3.6-1.6 4.8-3.9 1.5-1.5-0.8-1.6-4.5-0.5-8.3,0.3-2.2,0.4-1.7,1.4-0.6,1-0.8,0.7-1,0.2-6.6-1.1-2.3,0.2-1.3,0.5-0.3,1.6 2.6,1.5 1.5,1.5 0.9,1.5 3.8,7.1 0.6,2.5zM27.4,143.8l0.9,0.7 1.2-0.4 2.7-4.1-0.8-0.6-1-0.2-2,0.9-0.7,1.3zM38,138.7l0.8,0.6 1,0.1 1.2-0.3 0.4-0.4zM-289.5,41.1l1.6-1.9 0.7-1.9 0.2-1.8-0.4-1.9-0.8-1.9-1.3-1.8-1.8-1.9-1.8-1.3zM280.7,41.1l2.1,1.2 1.5,0.3 3.4-0.6 1.8-0.9 3.6-14.4-0.6-0.6-2.3-1.3-1.5-0.4-3.3,0.1-3.6,1.5-2.2,2-1.2,1.9-0.6,1.8-0.2,1.9 0.7,3.7 0.9,1.9zM-238,-35.5l0.1,1 0.6-1-0.2-0.7zM-237.7,-39.2l0.6,1.1 1.3-1.1-0.7-1.7zM-274,-42.9l0.9,0.4 1.9-0.4-0.2-1.9-0.7-1.1-1.4,1.1zM109.4,-54.1l1.6,1.3 1.4-0.8 0.2-0.5-0.4-1.9-1.8,0zM-153,-57.9l0.4,0.4 1.5,0.1 0.6-0.5-0.3-0.4-1.6-0.1zM105.9,-59.7l0.8,0.5 0.7-0.5 0.2-1.9-1.6-0.6-1.4,0.4 0.1,0.6zM-154.9,-61.6l0.1,0.7 1.3,0.9 1.8-1.6 2.1-1 1-0.9 1-3.7 1.6,0 0.6,1.1 3.7-1.8 1.6-0.3 1.3-0.8 1.2-1.9-0.7-1.9-1.9,0.5-2,1.5-2.7-1-1.2-0.9-1.4-0.4-1.2-0.9-0.4-2.6-1.1-0.9-1.9,1 0.1,1.9 2,5.6-1,1.8-4.5,3.7-0.5,0 0.4,0.2zM-127.9,-61.6l1.2,1 3.2-2.9 1.1-1.9-1.2-1.1-1.4-0.6-1.8,1.8-1.1,1.8zM-168.5,-65.3l1,0.5 1.8-0.6 2.2-1.8 0.1-1.8-0.8-0.5-1.7,0.4-2.4,1.9zM-118.1,-76.5l0.1,1.4 0.9-1.4-0.1-0.9zM163.5,-117.3l3,1.2 1-0.3 0.2-3.3 0.5-0.7 0.8-0.4 2.1-0.3 0.6-0.5 2.3-0.2 0.8-0.3 1.2-1.1 0.2-0.6-0.1-1.6-4-4.6-1.1-3-5.5-1.5-3.7-2.9-0.8-1.3-1.6-1.4-8.4-3.7-4.3-1.1-9.9-0.1-1.1,0.4-0.1,1-0.4,0.3-1,0.5-1.8,0.2-1.1,1-0.6,1.5 0.6,1-0.5,0.4 2.8,1.3 1.3,1.5 1.9,1.4 11.9,6.5 2.8,1.1 2.7,1.5 1.7,1.6 0.6,1.6 1.8,1.6zM158.2,-125l-0.9-0.4 1.2-0.4 0.9,0.4zM-173.1,-128.5l5.8,0.3 9.3-1.8 13.4-3.1 18-5 3,0.1 2.2-0.7 1.1-1.4-1.4-0.5-2.5-0.4-7.1,0-10.7,0.9-6.7,1.3-4.4,1.4-6.3,2.9-13.3,4.5z" fill="#0ac3fa"/><path d="M-157.9,150l23.1,0.2 3.6-0.3 1.5-0.4 0.5-0.4-0.5-1.3-0.8-0.9-2.7-2-0.9-1.1-1-3.7-2.7-2.7-1.6-2.9-2.5-1-2,0.2-2.1,0.8-2.8,0-2.3-1.5-1.3-1.5-4.2-0.5-2.6-1.1-1.3,0.1-0.4,1.5-0.9,0.6-5.6-1.5-2.5,0.7-1.6,1.1-1.1,1.4-0.7,1.5-0.1,2.1-0.4,0.5 0,0.8-2.5,0-0.6,0.3 0.1,0.5-1.1,0.6 0.2,0.8-0.4,0.5 0.4,1.2 1,0.8 13.7,5.2zM-31.5,150l5,0 10.2-0.7 0.7-0.7 0-0.8-0.4-0.9-1-0.3-3.7,0.4-3-0.6-2-1.5-0.7-2.3-0.9-0.5-9.7-1.1-1.2-0.4-0.5-0.5-0.3-1.4-0.4-3.2 0.5-1.4 1.4-1.1-0.1-1.5-1.3-0.5-1,0.3-3.6,2.3-1.8,2.3-3,2.8-1.4,3.2-0.7,0.7 0.1,1.2 1,0.1 0.9-1.5 1.6-0.8 2,0 3.9,1 0.8,1.2-1.2,4 0.3,0.8 5.8,0.6zM104.1,150l9.5,0 2.8-0.9-0.7-1.7-2-2.6-3.5-1-0.9-1.2 0.1-0.6-0.8-0.6 0.1-0.4-1.8-0.2-1.8,0.6-1,1.2-3,6 0,0.7zM58.2,149.3l1.2,0 1.1-0.7-0.3-1.7-1.1-0.8-1.4,0.8-0.5,0.9 0,0.8zM141.1,149.3l3.5,0.3 4.8-0.1 3-0.2 1.1-0.7-0.1-0.8-1.4-2.3-1.1-2.9-5.1,0.4-3.5-0.8-2.6,0.4-0.6,1.2 1.3,4.8zM4.8,147.8l0.7,0.4 0.3-0.4 0.2-0.9-0.3-0.4-1.2,0.4zM123,145.9l2.2,0.5 2.1-0.5 2-1-0.4-0.4 0.2-0.7-0.5-1.2-1-1.2 1.2-1.4-0.4-0.3-0.1-0.7-0.5-0.3-2.8,1.1 1.1-1.4 0.2-1.6-0.4-1.3-0.9-1-0.6-1.3-0.7-0.4-1.1,0-4.2,0.8-2.7,0.9-2.2,1.4-1.4,1.5-1.1,2 0.6,1 2.4,0.6 5.1,0 2.4,1-0.2,0.7 0.4,1.5zM171.5,143.8l0.5,0.3 1.6,0.2 1.8-0.5 1.3-1.2 2-5.2 0-1.5-1.4-0.4-3,0.4-3.1,1.5-1.9,1.3-0.4,2 0.5,1.2zM-111.2,142.6l2,0.8 1.1,0.1 2-0.6 0.9-1.5 0.2-2.7-0.3-1.3-1.8-1.5-3-1-1.2-0.1-1.5,0.7-0.7,1.2 0,2 1.1,2.7zM-78,137.4l1.2,0.5 1.7-0.6 1.3-1.4 0.5-1.4-1-1.5-2.2-1.5-1.4-1.5-2.1-0.7-1.1,0.1-0.6,0.7 0.6,2.5 1.6,3.3zM-102.4,131.5l1-0.2 0.4-4.4-1.1-0.6-1.8,0.6-0.3,1.6 0.3,1.5zM-45.9,130l1.3,1 0.2-1-1.1-1.5zM-152.6,128.5l1.3,0.3 0.4-0.3-1.2-0.3zM-72.9,128.5l2.1,0.7 1-0.3 0.8-0.8 0.6-2.7-2.3-0.5-2.4,0.5-0.6,1.5zM-152.6,126.9l1.6,1.2 0.3-0.7 0-0.5-0.8-0.3zM-154.7,-63.5l0.4,1 1.4,0.6 3.1-1.6 0.5-1.8-0.4-1.8-1.9,1zM-165.8,-67.2l0.5,0.5 0.7-0.5-0.2-0.7zM-149.5,-69l-0.1,1.7 3.4-0.8 1.3,0.4 1.7-0.2 1.8-1.1-1.1-1-2.7-1-1.1-1.2-2.8-0.7-1,0.1 0.1,1.9zM-140.9,-69l1.3,0 1.3-1.9-0.5-1.1-1.7,1.1zM-150.8,-74.6l0.3,1.3 0.7-1.6zM162.2,-118.9l2.7,1.3 0.8-0.5 0.1-0.8-0.6-1.7-1.7-1.6-1.5-0.5-1.3,0.5-0.4,1.6zM170.5,-125.4l2.3,1.6 0.7-0.4-0.3-2.2-1.4-2.1-4.2-3-3.2-1.5-1.2-1.5-3.2-2.9-2-1.3-5.2-2.7-3.4-2.4-2-0.3-4.7,0.1-2.9-0.5-2.4,0.3-0.5,0.2 0,1-0.6,1.9-1.1,0.6-0.4,0.9 1.9,3.7 1.4,1.4 11.1,6 3.6,0.9 1-0.1 2-2.2 0.8-0.2 5.1,0.3 2.3,1.3 1.4,1.6zM-148.7,-135.9l-0.1,0.4 0.4,0.4 0.8,0.2 6.3-0.6 9.1-1.9 4.2-1.3-1-0.6-2.6-0.3-8.4,0.6-6.4,1.6z" fill="#14aaf8"/><path d="M-143.7,150l9.9,0 2.8-0.7 0-0.7-0.7-0.8-3.7-2.9-3.3-3.5-2-0.5-3.9,0.5-2.2-1.3-1.2-1.4-6.8-4.2-2.7-0.3-2.5,0.6-2.2,0-1.1-0.3-2-1.5-1.6-0.5-1.1,0-1.4,0.5-1.1,1.4-0.4,1.5 0.1,1.5 1.5,4.5 1.3,3 5.1,3.5 3.8,1.2 7.4-0.2zM-32.1,149.3l3.6,0.5 3.9-0.5-0.2-0.7-1.1-0.8-6.7-4-2.1-0.2-0.8,0.3-0.8,1-0.3,1 1,1 2.2,0.9zM103.7,149.3l4,0.4 6.1-0.4-0.1-0.7-1-0.8-5.6-2.5-1.2,0.2-0.9,0.4-1.4,2.7zM118,138.7l1.9,0.3 2.7-0.3 0.6-1.3-0.2-1.5-1.1-1.6-0.8-0.2-2.8,0.4-1.9,1.4-0.3,1.5 0.2,0.5zM-153.6,-63.5l1,0.7 1.5-0.7 0.9-2.1-1.7,0.6zM-148.9,-69l1.2,0.6 1.7-0.5 1.4,0.4 2.1-0.5-1.7-0.6-1.6,0.2 0-1.5-0.7-0.8-1.5-0.1-1.4,0.9zM148.6,-130l1.9,0 1.2-1.5 1.2-0.5 3-0.3 3.9,0.4 2.1-0.9-0.8-1.7-3.1-2.9-9-5.2-3.1-0.4-1.6,0.7-1.6,0.3-3-1.1-1,0.5 4.7,1.2-1.8,0.4 1.1,0.9-0.4,0.6 0.3,1.4-0.4,0.7 0.6,1.5-0.3,0.5 0.7,0.9 0.2,1.5 3.4,1.5z" fill="#1e96f5"/><path d="M-145.5,149.3l6.2,0.6 6.4-0.6-0.1-0.7-4.7-3.7-2.1-1.1-1.7-0.2-2.9,1-1.7,1.8-0.7,1.9zM-160.1,148.6l1.9,0.4 2.3-0.1 4-1.5 0-0.5 0.5-0.4-0.5-2.7 0.1-3.3-0.6-1.4-1.7-1.7-1.7-0.8-1.6-0.3-5.1,0.2-4-1.1-1.6,0.4-0.1,1.6 2.1,5.2 1.1,1.2 3.1,2.1zM-147.6,-69l0.3,0 0.9-1.9-0.3-0.3-1.9,0.3zM146.7,-134.5l2.4,0.6 5.9,0.2 1.9-0.2 0.9-0.8-0.1-0.8-1.5-1.9-7.5-4-2.2-0.2-0.6,0.2-0.8,1.3 0.2,1.4 1.6,3.3z" fill="#2d82eb"/><path d="M-143,149.3l6.7,0.1 0.8-0.1 0.1-0.7-2.1-1.7-1.9-1-1.4-0.1-0.9,0.1-1.3,1-0.6,1.5zM-158,146.9l2.1,0.1 1.2-1 0.1-2.2-0.3-0.4-0.1-2-0.4-1.3-1.2-1.4-2.3-0.3-2.5,0.3-1.8,1.4 0.7,1.3 2.8,2.4 1,2.1 0.9,0.7zM151.6,-135.9l2.8,0.4 0.8-0.4-2.7-1.4-1.6,0.4z" fill="#3c6ee1"/>
<use href="#grid"/><use href="#coast"/><use href="#lakes"/>
<path d="M-165.1-84.7h0m19.1,0h0m257.3,0h0m-262.1,4.7h0m266.9,0h0m9.5,0h0m9.5,0h0m-309.7,4.7h0m285.9,0h0m-233.5,4.8h0m76.3,0h0m-147.8,4.7h0m47.7,0h0m28.6,0h0m66.7,0h0m-109.6,4.7h0m57.2,0h0m-71.5,4.7h0m38.1,0h0m28.6,0h0m-33.3,4.7h0m-138.2,4.8h0m19,0h0m9.6,0h0m104.8,0h0m209.6,0h0m9.6,0h0m9.5,0h0m9.5,0h0m-376.4,4.7h0m19.1,0h0m314.5,0h0m9.5,0h0m9.5,0h0m9.5,0h0m9.6,0h0m9.5,0h0m-366.9,4.7h0m19.1,0h0m19,0h0m285.9,0h0m9.5,0h0m9.6,0h0m9.5,0h0m9.5,0h0m-376.4,4.7h0m9.5,0h0m9.6,0h0m333.5,0h0m9.5,0h0m-366.9,4.7h0m9.6,0h0m9.5,0h0m9.5,0h0m9.6,0h0m9.5,0h0m-42.9,4.8h0m19.1,0h0m19,0h0m-23.8,4.7h0m19.1,0h0m443.1,14.1h0m9.5,0h0m-14.3,4.8h0m9.6,0h0m9.5,0h0m-23.8,4.7h0m9.5,0h0m9.5,0h0m9.6,0h0m-33.4,4.7h0m9.5,0h0m9.6,0h0m9.5,0h0m-33.4,4.7h0m9.6,0h0m9.5,0h0m9.5,0h0m-100,4.7h0m19,0h0m47.7,0h0m9.5,0h0m9.5,0h0m9.6,0h0m9.5,0h0m57.2,0h0m9.5,0h0m-538.4,4.8h0m95.3,0h0m9.5,0h0m9.5,0h0m9.6,0h0m247.7,0h0m9.6,0h0m9.5,0h0m9.5,0h0m28.6,0h0m9.5,0h0m9.6,0h0m9.5,0h0m9.5,0h0m9.6,0h0m28.6,0h0m9.5,0h0m9.5,0h0m9.5,0h0m9.6,0h0m-452.7,4.7h0m9.5,0h0m9.5,0h0m9.6,0h0m9.5,0h0m9.5,0h0m247.8,0h0m9.5,0h0m9.6,0h0m9.5,0h0m19.1,0h0m9.5,0h0m9.5,0h0m9.6,0h0m9.5,0h0m9.5,0h0m28.6,0h0m9.5,0h0m9.6,0h0m9.5,0h0m9.5,0h0m-547.9,4.7h0m95.3,0h0m9.5,0h0m9.5,0h0m9.6,0h0m9.5,0h0m9.5,0h0m57.2,0h0m190.6,0h0m9.5,0h0m9.6,0h0m28.5,0h0m9.6,0h0m9.5,0h0m9.5,0h0m9.6,0h0m28.6,0h0m9.5,0h0m9.5,0h0m9.5,0h0m9.6,0h0m9.5,0h0m-557.5,4.7h0m9.5,0h0m95.3,0h0m9.5,0h0m9.6,0h0m9.5,0h0m9.5,0h0m66.8,0h0m228.7,0h0m9.5,0h0m9.5,0h0m9.6,0h0m9.5,0h0m9.5,0h0m66.7,0h0m-547.9,4.7h0m104.8,0h0m9.5,0h0m9.6,0h0m9.5,0h0m9.5,0h0m57.2,0h0m238.2,0h0m9.6,0h0m9.5,0h0m9.5,0h0m9.6,0h0m-471.8,4.8h0m114.4,0h0m66.7,0h0m257.3,0h0m9.5,0h0m9.6,0h0m9.5,0h0m9.5,0h0m-42.9,4.7h0m9.6,0h0m9.5,0h0m9.5,0h0m9.6,0h0m-33.4,4.7h0m9.5,0h0m9.6,0h0m9.5,0h0m-23.8,4.7h0m9.5,0h0m-14.3,4.7h0m9.5,0h0m76.3,0h0m9.5,0h0m-90.5,4.8h0m9.5,0h0m76.2,0h0m-81,4.7h0m38.1,0h0m9.6,0h0m9.5,0h0m-71.5,4.7h0m47.7,0h0m9.5,0h0m9.6,0h0m9.5,0h0m9.5,0h0m-471.7,4.7h0m9.5,0h0m9.5,0h0m9.6,0h0m9.5,0h0m9.5,0h0m371.7,0h0m9.5,0h0m9.5,0h0m9.6,0h0m9.5,0h0m9.5,0h0m-481.2,4.7h0m9.5,0h0m9.5,0h0m9.6,0h0m9.5,0h0m9.5,0h0m9.6,0h0m9.5,0h0m9.5,0h0m343.1,0h0m9.5,0h0m9.6,0h0m9.5,0h0m9.5,0h0m9.6,0h0m9.5,0h0m-481.3,4.8h0m9.5,0h0m9.6,0h0m9.5,0h0m9.5,0h0m9.6,0h0m9.5,0h0m9.5,0h0m9.5,0h0m9.6,0h0m9.5,0h0m9.5,0h0m314.5,0h0m9.6,0h0m9.5,0h0m9.5,0h0m9.5,0h0m9.6,0h0m9.5,0h0m-490.8,4.7h0m9.6,0h0m9.5,0h0m9.5,0h0m9.5,0h0m9.6,0h0m9.5,0h0m9.5,0h0m9.6,0h0m9.5,0h0m9.5,0h0m9.6,0h0m9.5,0h0m9.5,0h0m305,0h0m9.5,0h0m9.5,0h0m9.6,0h0m9.5,0h0m9.5,0h0m9.6,0h0m-471.8,4.7h0m9.5,0h0m9.6,0h0m9.5,0h0m9.5,0h0m9.6,0h0m9.5,0h0m9.5,0h0m9.5,0h0m9.6,0h0m9.5,0h0m9.5,0h0m9.6,0h0m181,0h0m9.6,0h0m9.5,0h0m9.5,0h0m9.6,0h0m85.7,0h0m9.6,0h0m9.5,0h0m9.5,0h0m9.5,0h0m9.6,0h0m-462.2,4.7h0m9.5,0h0m9.5,0h0m9.6,0h0m9.5,0h0m9.5,0h0m9.6,0h0m9.5,0h0m9.5,0h0m9.6,0h0m9.5,0h0m9.5,0h0m9.6,0h0m114.3,0h0m9.5,0h0m9.6,0h0m28.6,0h0m9.5,0h0m9.5,0h0m9.5,0h0m9.6,0h0m9.5,0h0m9.5,0h0m9.6,0h0m19,0h0m9.6,0h0m38.1,0h0m9.5,0h0m9.5,0h0m9.6,0h0m9.5,0h0m9.5,0h0m-452.7,4.7h0m9.6,0h0m9.5,0h0m9.5,0h0m9.6,0h0m9.5,0h0m9.5,0h0m9.5,0h0m9.6,0h0m9.5,0h0m9.5,0h0m9.6,0h0m95.3,0h0m9.5,0h0m9.5,0h0m9.6,0h0m9.5,0h0m9.5,0h0m9.6,0h0m9.5,0h0m9.5,0h0m9.5,0h0m9.6,0h0m9.5,0h0m9.5,0h0m9.6,0h0m9.5,0h0m9.5,0h0m9.5,0h0m9.6,0h0m9.5,0h0m28.6,0h0m9.5,0h0m9.6,0h0m9.5,0h0m9.5,0h0m9.5,0h0m-424,4.8h0m9.5,0h0m9.5,0h0m9.6,0h0m9.5,0h0m9.5,0h0m9.6,0h0m9.5,0h0m9.5,0h0m95.3,0h0m9.5,0h0m9.6,0h0m9.5,0h0m9.5,0h0m9.6,0h0m9.5,0h0m9.5,0h0m9.6,0h0m9.5,0h0m9.5,0h0m9.5,0h0m9.6,0h0m9.5,0h0m9.5,0h0m9.6,0h0m9.5,0h0m9.5,0h0m9.6,0h0m9.5,0h0m28.6,0h0m9.5,0h0m9.5,0h0m9.6,0h0m9.5,0h0m-386,4.7h0m9.5,0h0m133.5,0h0m9.5,0h0m9.5,0h0m9.6,0h0m9.5,0h0m9.5,0h0m9.6,0h0m9.5,0h0m9.5,0h0m9.5,0h0m9.6,0h0m9.5,0h0m9.5,0h0m9.6,0h0m9.5,0h0m28.6,0h0m9.5,0h0m28.6,0h0m9.5,0h0m9.6,0h0m9.5,0h0m9.5,0h0m-338.3,4.7h0m9.6,0h0m9.5,0h0m9.5,0h0m133.4,0h0m9.6,0h0m9.5,0h0m9.5,0h0m9.5,0h0m9.6,0h0m9.5,0h0m9.5,0h0m76.3,0h0m9.5,0h0m9.5,0h0m-366.9,4.7h0m9.5,0h0m9.6,0h0m9.5,0h0m9.5,0h0m9.6,0h0m9.5,0h0m9.5,0h0m9.6,0h0m9.5,0h0m9.5,0h0m9.6,0h0m9.5,0h0m28.6,0h0m9.5,0h0m9.5,0h0m85.8,0h0m47.6,0h0m9.6,0h0m19,0h0m-319.2,4.7h0m9.5,0h0m9.6,0h0m9.5,0h0m9.5,0h0m9.6,0h0m9.5,0h0m9.5,0h0m9.5,0h0m9.6,0h0m9.5,0h0m9.5,0h0m9.6,0h0m9.5,0h0m9.5,0h0m9.5,0h0m9.6,0h0m9.5,0h0m9.5,0h0m9.6,0h0m66.7,0h0m9.5,0h0m9.5,0h0m9.6,0h0m19,0h0m9.6,0h0m9.5,0h0m28.6,0h0m-319.3,4.8h0m9.5,0h0m9.6,0h0m9.5,0h0m9.5,0h0m9.6,0h0m9.5,0h0m9.5,0h0m9.6,0h0m9.5,0h0m9.5,0h0m9.5,0h0m9.6,0h0m9.5,0h0m9.5,0h0m9.6,0h0m9.5,0h0m9.5,0h0m9.6,0h0m47.6,0h0m9.5,0h0m28.6,0h0m9.5,0h0m9.6,0h0m9.5,0h0m9.5,0h0m19.1,0h0m-300.2,4.7h0m9.6,0h0m9.5,0h0m9.5,0h0m9.5,0h0m19.1,0h0m9.5,0h0m9.6,0h0m9.5,0h0m9.5,0h0m171.6,0h0m9.5,0h0m9.5,0h0" stroke="#000" stroke-width="2.2" stroke-linecap="round" fill="none"/>
<path d="M191.7,29.9L201.7,34.1M186.7,37.3L201.7,43.6M186.7,46.7L200.7,52.6M186.7,56.2L197.7,60.8M-146.3-74.2L-119.3-62.9M180.7,63.1L191.7,67.7M235.7,86.2L253.7,93.8M-166.3-73.2L-133.3-59.3M225.7,91.5L244.7,99.4M218.7,98L230.7,103M150.7,135.6L164.7,141.4M79.7,115.2L95.7,121.9M133.7,137.9L150.7,145M61.7,117.1L77.7,123.8M108.7,136.8L117.7,140.6M127.7,144.8L134.7,147.7M34.7,115.2L49.7,121.5M95.7,140.8L108.7,146.3M37.7,135.4L43.7,137.9M48.7,140L53.7,142.1M8.7,132.6L36.7,144.4M-20.3,129.9L17.7,145.9M-43.3,129.7L-1.3,147.3M-59.3,132.4L-34.3,142.9M-31.3,144.2L-25.3,146.7M-148.3,104.5L-127.3,113.3M-59.3,141.9L-43.3,148.6M-168.3,105.5L-147.3,114.4M-104.3,132.4L-81.3,142.1M-193.3,104.5L-178.3,110.8M-172.3,113.3L-154.3,120.9M-125.3,133L-95.3,145.6M-223.3,101.3L-203.3,109.7M-199.3,111.4L-182.3,118.6M-144.3,134.5L-128.3,141.2M-123.3,143.3L-110.3,148.8M-231.3,107.4L-212.3,115.4M-162.3,136.4L-133.3,148.6" stroke="#000" stroke-width="1.25" fill="none"/>
</g><use href="#outl"/></g>
<text x="297.3" y="820.4" font-size="13.8" text-anchor="middle" xml:space="preserve">TREFHT: CESM3dev_235pi: Bias vs ERA5: 25-44  GM=0.22</text>
<rect x="35.4" y="1148.3" width="23.81" height="8.6" fill="#0a0aff" stroke="#000" stroke-width="1.2"/><rect x="59.21" y="1148.3" width="23.81" height="8.6" fill="#1e3cf5" stroke="#000" stroke-width="1.2"/><rect x="83.02" y="1148.3" width="23.81" height="8.6" fill="#3250eb" stroke="#000" stroke-width="1.2"/><rect x="106.83" y="1148.3" width="23.81" height="8.6" fill="#3c6ee1" stroke="#000" stroke-width="1.2"/><rect x="130.64" y="1148.3" width="23.81" height="8.6" fill="#2d82eb" stroke="#000" stroke-width="1.2"/><rect x="154.45" y="1148.3" width="23.81" height="8.6" fill="#1e96f5" stroke="#000" stroke-width="1.2"/><rect x="178.26" y="1148.3" width="23.81" height="8.6" fill="#14aaf8" stroke="#000" stroke-width="1.2"/><rect x="202.07" y="1148.3" width="23.81" height="8.6" fill="#0ac3fa" stroke="#000" stroke-width="1.2"/><rect x="225.88" y="1148.3" width="23.81" height="8.6" fill="#50c3f0" stroke="#000" stroke-width="1.2"/><rect x="249.69" y="1148.3" width="23.81" height="8.6" fill="#8ccdf0" stroke="#000" stroke-width="1.2"/><rect x="273.5" y="1148.3" width="23.81" height="8.6" fill="#ffffff" stroke="#000" stroke-width="1.2"/><rect x="297.31" y="1148.3" width="23.81" height="8.6" fill="#ffffff" stroke="#000" stroke-width="1.2"/><rect x="321.12" y="1148.3" width="23.81" height="8.6" fill="#fff58c" stroke="#000" stroke-width="1.2"/><rect x="344.93" y="1148.3" width="23.81" height="8.6" fill="#ffe650" stroke="#000" stroke-width="1.2"/><rect x="368.74" y="1148.3" width="23.81" height="8.6" fill="#ffcd1e" stroke="#000" stroke-width="1.2"/><rect x="392.55" y="1148.3" width="23.81" height="8.6" fill="#ffb40a" stroke="#000" stroke-width="1.2"/><rect x="416.36" y="1148.3" width="23.81" height="8.6" fill="#ff9600" stroke="#000" stroke-width="1.2"/><rect x="440.17" y="1148.3" width="23.81" height="8.6" fill="#ff7d00" stroke="#000" stroke-width="1.2"/><rect x="463.98" y="1148.3" width="23.81" height="8.6" fill="#ff5500" stroke="#000" stroke-width="1.2"/><rect x="487.79" y="1148.3" width="23.81" height="8.6" fill="#ff1e0a" stroke="#000" stroke-width="1.2"/><rect x="511.6" y="1148.3" width="23.81" height="8.6" fill="#f00000" stroke="#000" stroke-width="1.2"/><rect x="535.41" y="1148.3" width="23.81" height="8.6" fill="#d20000" stroke="#000" stroke-width="1.2"/><text transform="translate(59.21,1180.4) scale(1,1.075)" font-size="21" text-anchor="middle">-10</text><text transform="translate(106.83,1180.4) scale(1,1.075)" font-size="21" text-anchor="middle">-8</text><text transform="translate(154.45,1180.4) scale(1,1.075)" font-size="21" text-anchor="middle">-6</text><text transform="translate(202.07,1180.4) scale(1,1.075)" font-size="21" text-anchor="middle">-4</text><text transform="translate(249.69,1180.4) scale(1,1.075)" font-size="21" text-anchor="middle">-2</text><text transform="translate(297.31,1180.4) scale(1,1.075)" font-size="21" text-anchor="middle">0</text><text transform="translate(344.93,1180.4) scale(1,1.075)" font-size="21" text-anchor="middle">2</text><text transform="translate(392.55,1180.4) scale(1,1.075)" font-size="21" text-anchor="middle">4</text><text transform="translate(440.17,1180.4) scale(1,1.075)" font-size="21" text-anchor="middle">6</text><text transform="translate(487.79,1180.4) scale(1,1.075)" font-size="21" text-anchor="middle">8</text><text transform="translate(535.41,1180.4) scale(1,1.075)" font-size="21" text-anchor="middle">10</text>
<path d="M643.25,828.4V1128.8" stroke="#000" stroke-width="1" fill="none"/><path d="M593.1,828.4H693.4V1128.8H593.1M593.1,829.4v-10.4M593.1,1127.8v10.6M618.17,829.4v-10.4M618.17,1127.8v10.6M643.24,829.4v-10.4M643.24,1127.8v10.6M668.31,829.4v-10.4M668.31,1127.8v10.6M693.38,829.4v-10.4M693.38,1127.8v10.6M692.4,867.44h10.4M692.4,922.01h10.4M692.4,978h10.4M692.4,1033.99h10.4M692.4,1088.56h10.4" stroke="#000" stroke-width="2" fill="none" stroke-linecap="butt"/><text x="711" y="872.74" font-size="14.5">60N</text><text x="711" y="927.31" font-size="14.5">30N</text><text x="711" y="983.3" font-size="14.5">0</text><text x="711" y="1039.29" font-size="14.5">30S</text><text x="711" y="1093.86" font-size="14.5">60S</text><text x="593.1" y="1154.6" font-size="12" text-anchor="middle">-4.0</text><text x="643.25" y="1154.6" font-size="12" text-anchor="middle">0.0</text><text x="693.4" y="1154.6" font-size="12" text-anchor="middle">4.0</text><text x="643.25" y="817.4" font-size="9" text-anchor="middle">K</text>
<path d="M665.8,832.9 663.8,832.9 662.1,832.9 661.4,832.9 659.9,832.9 658.7,833 657,833 655.8,833.1 654.8,833.2 654.5,833.2 653.6,833.3 651.4,833.4 650.1,833.5 648.8,833.6 647.5,833.7 646.4,833.8 645.6,834 644.4,834.1 643.4,834.3 642.3,834.4 640.9,834.6 640.2,834.7 639.2,834.9 637.6,835.1 636.3,835.3 635.3,835.6 634.5,836.1 632.9,836.8 631,837.5 630.1,838.3 628.8,839.1 627.5,839.8 627.3,840.3 627.3,840.8 627.2,841.1 627.6,841.3 627.5,841.5 628.5,841.7 630,841.9 630.6,842 632.2,842.2 634.3,842.3 635.7,842.4 636.8,842.6 638.5,842.7 640.3,842.9 642.2,843.1 643.8,843.3 644.8,843.5 646,843.8 647.1,844.1 647.8,844.4 649.2,844.7 650.8,845.1 651.8,845.5 652.6,846 653.8,846.5 654.5,847 655.6,847.5 657.3,848.1 657.7,848.8 658.6,849.6 659.7,850.6 660.7,851.6 660.8,852.6 660,853.5 659.8,854.4 659.1,855.3 657.6,856.3 657,857.2 658.1,858.1 659,858.9 660.4,859.8 661.3,860.7 661.9,861.6 662.4,862.7 662.8,863.9 663.2,865.2 662.9,866.5 662.7,867.4 663.8,868.1 665.5,868.6 666.7,869.1 668.4,869.5 669.8,869.9 670.7,870.4 671.4,870.8 671.8,871.4 672.2,872.1 671.1,872.8 669.4,873.7 668.5,874.6 667.7,875.5 667.6,876.5 667.4,877.5 667.4,878.7 668.3,880 669.6,881.1 670,882.1 669.4,882.9 668.3,883.7 667.2,884.3 665.9,885 664.6,885.6 663,886.2 661.5,886.8 660.6,887.5 660,888.3 659.9,889.1 660.4,890.2 660.9,891.6 660.8,893.1 660.2,894.5 660,895.7 660.7,896.5 661.7,896.9 662.8,897.1 664.2,897.3 665,897.6 663.9,897.9 662.4,898.2 661.3,898.6 660.2,898.9 658.9,899.3 657.7,899.7 655.8,900.2 653.9,900.6 652.5,901.1 651.5,901.5 650.6,902 649.9,902.5 649.3,903 649.3,903.6 650.3,904.3 652,905 653.7,905.6 654.5,906.3 655.4,906.8 656.9,907.3 658.3,907.8 659.4,908.3 661.1,908.8 663.3,909.2 664.3,909.6 664.4,910 664.7,910.4 664.6,910.7 664.8,911 664.8,911.3 663.8,911.6 662.7,911.8 661.5,912.1 660.1,912.3 658.2,912.5 656.5,912.8 655.3,913 653.7,913.2 652,913.5 650.6,913.7 649.3,914 648.6,914.3 647.4,914.6 645.9,914.9 645.1,915.3 644.1,915.6 643.1,915.9 641.3,916.3 640,916.7 639.3,917.1 638,917.6 637.3,918.1 636.3,918.8 635.2,919.5 633.7,920.3 632.6,921.2 631.3,922 629.8,922.9 629,923.8 628.1,924.6 627.8,925.4 627.8,926.1 627.7,926.7 627.7,927.2 627.8,927.6 629,928 630.6,928.3 632,928.7 633.4,929 635.1,929.4 636.7,929.8 637.7,930.3 638.2,930.9 638.7,931.8 638.6,932.8 639,934.1 639.2,935.4 639.7,936.7 640.5,937.9 640.6,939.1 640.6,940.3 641.1,941.6 641.1,942.8 640.8,944 640.9,945.1 640.8,946.2 641.6,947.2 642.3,948.3 643.1,949.3 644.3,950.2 645.3,951.1 646.2,951.9 646.8,952.6 648.1,953.3 649.5,954 650.7,954.6 652.1,955.2 653.3,955.8 654.3,956.5 655,957.1 655.6,957.8 655.6,958.6 655.5,959.4 655.1,960.2 654.5,961.1 654,962.1 652.1,963 650.9,964 650.8,965 650.3,966.1 650.6,967.2 651,968.3 650.8,969.4 651.3,970.6 652.2,971.8 652.7,973 652.8,974.2 653.2,975.4 653.9,976.6 653.6,977.8 653.4,979 653.8,980.2 654.2,981.2 655.5,982.2 656.5,983.1 656.5,984.1 657,985.2 657.9,986.3 659.3,987.3 659.8,988.4 659.6,989.5 659.8,990.6 659.5,991.7 659.4,992.8 658.6,994 657.6,995.1 657.3,996.2 657.1,997.4 656.8,998.6 657.2,1000 657.7,1001.4 657.4,1002.6 657.3,1003.7 657.2,1004.4 657,1005 656.4,1005.4 655,1005.7 653.4,1006 651.7,1006.3 649.9,1006.7 648.8,1007.1 648.3,1007.6 648,1008.2 648.1,1009.1 648.5,1010.3 648.5,1011.6 648.3,1012.9 648.5,1014.3 649.1,1015.7 648.9,1016.9 648.3,1018.1 647.9,1019.2 647.7,1020.4 646.8,1021.5 646.2,1022.7 646.8,1023.8 646.6,1025 646.9,1026.2 647.6,1027.4 647.5,1028.7 647.9,1029.8 648.2,1030.9 648.5,1031.9 649.9,1032.8 650.6,1033.6 651.4,1034.4 652.6,1035.1 653.4,1035.8 654.5,1036.4 654.9,1037 655.8,1037.7 657.5,1038.4 658.4,1039.1 659,1039.8 660.2,1040.7 661.2,1041.6 661.6,1042.8 662.4,1043.9 663.8,1045 664.4,1046 664.7,1046.8 665,1047.3 664.1,1047.8 662.4,1048.2 660.7,1048.6 659.4,1049 658.3,1049.3 656.6,1049.6 654.9,1049.9 653.2,1050.2 651.9,1050.5 651,1050.7 650.4,1051 650.3,1051.3 650.4,1051.6 651.3,1051.8 652.4,1052.1 653.5,1052.4 655.3,1052.6 657,1052.8 659.2,1053.1 661.2,1053.3 662.1,1053.6 663.8,1053.8 665.8,1054 667.1,1054.2 668.8,1054.5 670.2,1054.7 670.4,1054.9 671.8,1055.1 673.1,1055.3 673.8,1055.5 673.9,1055.7 672.9,1055.9 672.8,1056.1 671.8,1056.3 670.2,1056.4 669.3,1056.5 667.7,1056.6 665.5,1056.8 663.8,1056.9 662.2,1057.1 660.3,1057.2 658.7,1057.4 657.7,1057.6 657,1057.9 655.9,1058.2 654.6,1058.5 654.8,1059 655.4,1060.1 656,1061.4 656.3,1062.4 656.3,1063.1 655.5,1063.8 654.3,1064.4 652.7,1065.1 651.2,1065.6 650.8,1066.2 649.3,1066.7 647.1,1067.2 645.3,1067.7 644,1068.1 642.7,1068.5 640.8,1068.9 639.6,1069.3 638.8,1069.6 637.9,1069.9 637.1,1070.2 637,1070.5 637.3,1070.8 637.5,1071 638.4,1071.2 639.8,1071.4 641.8,1071.5 643.6,1071.7 645.4,1071.8 647.2,1072 648.5,1072.2 649.4,1072.4 649.4,1072.7 648.2,1073.2 647.1,1073.9 646.3,1074.8 644.9,1075.5 643.9,1076.1 643.7,1076.3 643.7,1076.5 643.9,1076.7 645,1076.8 646,1077 646.4,1077.1 647.1,1077.2 648.3,1077.4 650.3,1077.5 651.9,1077.6 652.8,1077.7 654.6,1077.7 656.8,1077.8 658.4,1077.9 660,1077.9 661.8,1078 663.5,1078.1 665.2,1078.1 666.7,1078.2 668.7,1078.2 670.7,1078.3 672.5,1078.3 673.6,1078.4 674.9,1078.5 677.1,1078.5 678.3,1078.6 679.5,1078.7 680.9,1078.7 682.1,1078.8 682.7,1078.9 683.3,1079 684.3,1079.1 685.1,1079.2 685.1,1079.3 684.9,1079.5 684.8,1079.6 684.7,1079.8 684,1079.9 682.8,1080.1 682.4,1080.3 681.5,1080.5 680.4,1080.7 679.6,1080.9 678.6,1081.1 677,1081.3 675.6,1081.5 673.9,1081.8 672.2,1082 670.5,1082.2 668.3,1082.5 666.9,1082.7 665.2,1083 662.9,1083.2" stroke="#ff0000" stroke-width="4" fill="none" stroke-linejoin="round" stroke-linecap="round"/>
<path d="M668.7,1093 670.4,1093.1 672.5,1093.3 674.4,1093.4 675.6,1093.6 677.1,1093.7 678.7,1093.9 680.1,1094 681.1,1094.2 682.1,1094.3 683.2,1094.5 684,1094.6 684.3,1094.7 684.2,1094.8 683.8,1094.9 683.8,1095 683.3,1095.1 682.5,1095.2 682,1095.3 680.8,1095.4 679.8,1095.5 678.7,1095.6 677.6,1095.6 676.4,1095.7 675.2,1095.8 673.4,1095.8 671.6,1095.9 670.2,1096 668.6,1096 666.7,1096.1 664.8,1096.1 663.4,1096.2 661.4,1096.2 659.7,1096.3 658.1,1096.4 656.3,1096.4 654.6,1096.5 652.5,1096.6 650.5,1096.6 648.9,1096.7 647.5,1096.8 646.1,1096.9 644.3,1097 642.6,1097.1 641.2,1097.2 639.9,1097.3 638.8,1097.4 637.8,1097.5 637.1,1097.6 636.2,1097.8 635.1,1097.9 634.7,1098 634.2,1098.2 633.8,1098.4 633.8,1098.5 634.4,1098.8 635.3,1099.2 637,1099.7 638.8,1100.3 640,1100.8 640.9,1101.2 641,1101.6 640.8,1101.9 640.2,1102.1 639.3,1102.4 638.4,1102.6 637.2,1102.8 636.1,1102.9 634.8,1103.1 633,1103.3 631.9,1103.4 630.5,1103.6 628.4,1103.7 627.1,1103.9 625.5,1104.1 623.8,1104.2 622.1,1104.4 620.3,1104.7 618.7,1104.9 617.1,1105.2 615.9,1105.5 615,1105.8 614.3,1106.2 613.9,1106.6 613,1107.1 612.1,1108.3 611.7,1109.7 611.4,1110.5 612,1111 613.2,1111.3 615,1111.6 616.7,1111.8 618,1112.2 618.4,1112.6 618,1113.4 617.2,1114.3 615.9,1115.2 615.1,1116.2 614.3,1117.1 613.4,1118.2 612.5,1119.3 611.8,1120.3 611.1,1121.1 610.4,1121.6 609.3,1122 608.3,1122.4 607.1,1122.8 606,1123.2 604.8,1123.5 603.8,1123.8 602.9,1124.1 601.5,1124.3 600.3,1124.6 599,1124.7 597.5,1124.9 596.4,1125 595,1125.1 593.3,1125.1" stroke="#ff0000" stroke-width="4" fill="none" stroke-linejoin="round" stroke-linecap="round"/>
<path d="M653.4,828.3 652.8,829.4 652.3,830.6 651.8,831.6 651.2,832.6 650.5,833.4 649.5,834.2 648.5,834.9 647.6,835.6 646.7,836.2 645.6,836.8 644.2,837.3 643,837.9 642,838.3 641,838.7 639.5,839.1 638.1,839.4 636.6,839.6 635,839.8 633.5,840 632.2,840.3 631.1,840.5 630.3,840.9 629.7,841.3 629.7,841.8 630.3,843 630.7,844.3 630.9,845.5 630.8,846.3 630.1,847 629,847.6 627.7,848.2 626.3,848.7 624.7,849.2 623.2,849.7 621.9,850.3 621,851 620.5,851.7 620.5,852.6 620.5,853.9 620.6,855.3 620.7,856.6 620.5,857.8 620.5,858.6 621.1,859.2 622,859.7 623.3,860.2 624.5,860.6 626,861 627.7,861.4 629.1,861.9 630.2,862.4 631,863.1 631.4,864 631.7,865.2 632,866.5 632.6,867.5 633.5,868.3 634.5,869.1 635.7,869.7 636.8,870.3 638,871 638.9,871.6 639.7,872.4 640.4,873.2 640.8,874.3 641,875.4 641.3,876.6 641.5,877.9 641.8,879.1 642.1,880.3 642.6,881.4 643.1,882.5 643.7,883.5 644.4,884.5 645,885.6 645.6,886.6 646.2,887.6 647.1,888.6 648,889.6 648.8,890.6 649.7,891.6 650.7,892.5 651.5,893.5 652.1,894.5 652.8,895.5 653.2,896.4 653.3,897.4 653.2,898.3 652.6,899.3 651.8,900.2 650.9,901.1 649.9,902 648.7,903 647.8,903.9 647.4,905 647,906.1 646.7,907.3 646.3,908.5 645.8,909.6 645.3,910.7 644.7,911.7 643.9,912.5 643,913.4 642,914.2 641.4,915 640.8,916 640,917 639.7,918.1 639.4,919.2 638.8,920.4 638.5,921.6 638.2,922.8 637.7,924 637.3,925.1 636.9,926.3 636.4,927.4 636.1,928.5 635.6,929.7 635.1,930.8 634.9,932 634.6,933.1 634.5,934.3 634.6,935.5 634.6,936.7 634.7,938 634.9,939.2 635.2,940.3 635.4,941.4 635.8,942.5 636.4,943.6 637.1,944.7 637.8,945.7 638.5,946.7 639.2,947.7 640.1,948.7 640.8,949.7 641.7,950.6 642.7,951.4 643.7,952.3 644.6,953.1 645.6,954 646.3,954.9 646.6,955.9 646.5,956.9 646.3,958.1 646.4,959.3 646.5,960.5 646.1,961.8 646,963 646,964.3 645.6,965.5 645.4,966.7 645.2,967.8 645,969 644.6,970.2 644,971.3 643.8,972.5 643.6,973.7 643.6,974.9 643.8,976.1 644.2,977.3 644.4,978.5 644.3,979.6 643.9,980.8 643.5,981.9 643,983.1 642.6,984.2 642.1,985.4 642,986.5 641.8,987.7 641.2,988.9 640.9,990 640.6,991.1 639.9,992.2 639.1,993.2 638.6,994.2 637.9,995.2 637.2,996.1 636.3,997.1 635.6,998.1 635.2,999.1 634.8,1000.2 634.2,1001.3 633.6,1002.4 633.4,1003.6 633,1004.8 632.5,1006 632.5,1007.2 632.5,1008.3 632.8,1009.5 633.1,1010.6 633.4,1011.7 634,1012.8 634.6,1013.9 635.3,1015.1 635.8,1016.2 636,1017.3 636.4,1018.4 637,1019.6 637.5,1020.7 637.6,1021.8 638,1023 638.6,1024.1 639.2,1025.2 639.5,1026.3 639.9,1027.5 640.5,1028.6 640.8,1029.7 641.2,1030.8 641.9,1032 642.5,1033.1 642.9,1034.2 643.2,1035.3 643.6,1036.5 644,1037.6 644.2,1038.8 644.4,1039.9 644.6,1041.1 644.9,1042.3 645.2,1043.5 645.4,1044.7 645.5,1045.9 645.8,1047.1 646,1048.2 646.4,1049.3 646.8,1050.4 647.3,1051.5 648.2,1052.5 648.6,1053.6 649,1054.6 649.8,1055.7 650.3,1056.9 650.5,1058 650.9,1059.2 651.2,1060.3 651.6,1061.5 652,1062.7 652.3,1063.8 652.6,1065 653.1,1066.1 653.7,1067.1 654.3,1068.2 654.8,1069.3 655.4,1070.3 655.9,1071.4 656.5,1072.4 657.3,1073.4 658,1074.4 658.6,1075.4 659.1,1076.4 659.9,1077.4 660.7,1078.4 661.3,1079.4 662,1080.4 662.8,1081.4 663.6,1082.3 664.4,1083.3 665.2,1084.2 666,1085.1 666.8,1086 667.8,1086.8 668.8,1087.6 670,1088.5 671,1089.3 671.7,1090.1 672.3,1091 672.3,1092 672,1093.2 672,1094.4 671.9,1095.7 671.6,1097.1 671.2,1098.4 670.9,1099.6 670.7,1100.6 670.2,1101.5 669.5,1102.2 668.8,1102.8 667.8,1103.5 666.7,1104 665.5,1104.6 664.3,1105.1 663.1,1105.6 661.7,1106 660.4,1106.4 659.1,1106.8 658,1107.2 657,1107.6 655.8,1108 654.7,1108.3 653.5,1108.7 652.4,1109 651.2,1109.3 649.9,1109.6 648.7,1109.9 647.6,1110.2 646.6,1110.5 645.3,1110.7 644,1111 642.9,1111.3 641.8,1111.6 640.6,1111.9 639.5,1112.2 638.2,1112.5 637,1112.8 635.9,1113.1 634.8,1113.4 633.6,1113.6 632.4,1113.9 631.4,1114.1 630.1,1114.3 628.7,1114.4 627.5,1114.6 626.2,1114.6 625.1,1114.7 623.9,1114.8 622.7,1114.9 621.6,1114.9 620.3,1115 619,1115 618.1,1115.1 617.1,1115.2 615.8,1115.2 614.5,1115.3 613.4,1115.3 612.2,1115.4 610.9,1115.4 609.6,1115.4 608.4,1115.5 607.2,1115.5 605.9,1115.6 604.7,1115.6 603.6,1115.6 602.4,1115.6 601.2,1115.7 600,1115.7 598.7,1115.7 597.7,1115.7 596.5,1115.7 595.2,1115.7 594.1,1115.7 592.9,1115.7" stroke="#0000ff" stroke-width="4" fill="none" stroke-linejoin="round" stroke-linecap="round"/>
<path d="M652.1,828 651.8,829.2 651.1,830.4 650.4,831.4 650,832.4 649.4,833.2 648.5,833.9 647.5,834.6 646.4,835.2 645.3,835.9 644.1,836.4 642.9,837 641.7,837.5 640.5,838 639.2,838.5 637.7,838.9 636.4,839.4 635.2,839.8 633.9,840.3 633.1,840.7 632.6,841.3 632.4,841.9 633,842.5 633.8,843.3 634.8,844.1 635.8,844.9 637.2,845.7 638.5,846.5 639.6,847.2 640.7,847.9 641.7,848.5 642.8,849.1 643.9,849.8 644.9,850.4 646,851.1 646.9,851.8 647.6,852.5 648.4,853.4 649.3,854.3 650.2,855.3 650.8,856.4 651.6,857.5 652,858.6 652,859.7 651.9,860.9 651.6,862.1 651.1,863.3 650.5,864.5 650.1,865.6 649.8,866.7 650.1,867.6 651.1,868.4 652,869.2 653.1,870 654.1,870.8 654.9,871.7 655.6,872.7 656.4,873.7 656.9,874.9 657.4,876 657.9,877.2 658.2,878.4 658.3,879.6 658.4,880.7 657.8,881.8 657.1,882.9 656.3,883.9 655.6,885 655.2,886.1 654.8,887.2 654.7,888.4 655,889.6 655.4,890.7 655.8,891.9 656.1,893.1 656.6,894.3 657.1,895.5 657.6,896.7 658.1,897.8 658.4,898.7 658,899.6 657,900.3 655.9,900.9 654.5,901.6 652.8,902.2 651.7,902.9 650.9,903.6 650.7,904.4 650.8,905.5 651,906.8 651.5,908.2 652,909.5 652,910.5 651.9,911.1 651.4,911.7 650.2,912.2 649,912.6 647.8,913 646.4,913.4 644.9,913.8 643.5,914.2 642.2,914.7 641.1,915.3 640.5,916 639.7,916.9 638.8,917.9 638.3,919 637.8,920.2 637.1,921.3 636.5,922.4 635.8,923.4 634.8,924.4 634,925.3 633.6,926.3 633.4,927.3 633.4,928.4 633.8,929.4 634.4,930.5 635.1,931.7 635.7,932.8 636,933.9 636.2,935.1 636.3,936.3 636.5,937.6 636.6,938.8 636.5,940 636.5,941.1 637,942.3 637.5,943.4 638,944.5 638.7,945.6 639.3,946.6 640,947.7 640.7,948.7 641.4,949.6 642.2,950.6 643.3,951.4 644.4,952.3 645.5,953.1 646.5,953.9 647.4,954.8 648.1,955.7 648.4,956.6 648.6,957.6 648.5,958.7 648.3,959.9 648.3,961.1 648.2,962.4 648,963.7 648,964.9 647.9,966.1 647.4,967.2 647.2,968.4 646.6,969.5 646,970.7 645.6,971.8 645.2,972.9 644.9,974.1 644.9,975.2 645.4,976.4 645.9,977.6 646,978.8 646,980 646,981.2 645.9,982.4 645.8,983.6 645.6,984.8 645.4,986 645.4,987.3 645.5,988.5 645.6,989.7 645.4,990.9 645,992 644.7,993 644,994 643.3,994.9 642.4,995.9 641.5,996.8 640.5,997.8 639.8,998.7 639.4,999.8 638.9,1000.9 638.4,1002 638,1003.2 637.4,1004.3 637.1,1005.5 636.8,1006.7 636.7,1007.8 637,1009 637.2,1010.1 637.5,1011.2 638.1,1012.3 638.8,1013.4 639.3,1014.6 639.8,1015.7 640.2,1016.8 640.6,1018 640.8,1019.1 641.1,1020.3 641.5,1021.4 641.7,1022.6 642.1,1023.8 642.5,1024.9 642.8,1026.1 643.1,1027.3 643.3,1028.4 643.7,1029.6 644.2,1030.7 644.8,1031.9 645.1,1033 645.5,1034.2 645.7,1035.4 645.9,1036.5 645.9,1037.7 646,1038.9 646.2,1040.1 646.3,1041.4 646.4,1042.6 646.6,1043.8 646.8,1045 646.8,1046.2 647,1047.3 647.4,1048.5 647.7,1049.6 648.1,1050.7 648.7,1051.8 649.1,1052.9 649.5,1054 650.2,1055.1 650.8,1056.3 651.1,1057.4 651.3,1058.6 651.6,1059.8 651.9,1060.9 652.3,1062.1 652.6,1063.3 652.8,1064.4 653.3,1065.5 653.9,1066.6 654.3,1067.7 654.7,1068.8 655.3,1069.8 656.1,1070.9 656.9,1071.9 657.4,1073 657.9,1074 658.7,1075 659.6,1076 660.2,1077 660.8,1078 661.2,1079.1 661.7,1080.1 662.6,1081.1 663.4,1082 664.1,1083 664.8,1083.9 665.5,1084.9 666.4,1085.8 667.5,1086.6 668.6,1087.4 669.8,1088.2 670.8,1089 671.6,1089.8 672,1090.7 671.7,1091.7 671.2,1092.8 670.6,1093.9 669.9,1095.1 669.1,1096.1 668.3,1096.9 667.6,1097.7 666.7,1098.4 665.5,1099.1 664.4,1099.8 663.2,1100.4 662.2,1100.9 661.2,1101.3 660,1101.7 658.7,1102.1 657.7,1102.5 656.6,1102.8 655.5,1103.1 654.4,1103.4 653.1,1103.7 651.8,1103.9 650.7,1104.2 649.6,1104.4 648.4,1104.6 647.2,1104.9 645.7,1105.1 644.4,1105.3 643.3,1105.6 642.3,1105.8 641.1,1106 639.9,1106.2 638.8,1106.3 637.6,1106.5 636.4,1106.7 635.2,1106.9 633.8,1107.1 632.6,1107.3 631.7,1107.5 630.5,1107.8 629.3,1108.1 628.3,1108.4 627,1108.8 625.8,1109.2 624.5,1109.6 623.5,1110.1 622.4,1110.6 621.2,1111.1 620.2,1111.7 619.3,1112.3 618.3,1113.1 617.4,1113.8 616.5,1114.6 615.5,1115.5 614.7,1116.3 614.2,1117.3 613.4,1118.3 612.4,1119.4 611.5,1120.4 610.8,1121.2 610,1121.7 609,1122.1 607.9,1122.5 606.8,1122.8 605.8,1123.2 604.8,1123.5 603.8,1123.8 602.4,1124.1 601.2,1124.4 600.3,1124.6 599,1124.8 597.4,1124.9 596,1125 594.9,1125.1 593.5,1125.1" stroke="#000000" stroke-width="4" fill="none" stroke-linejoin="round" stroke-linecap="round"/>
<g transform="translate(1046.3,978.6)">
<g clip-path="url(#clip)"><path d="M157.4,150.5 161.7,149.3 166.6,147.8 172,145.9 177.7,143.8 183.8,141.4 190,138.7 196.2,135.9 202,133 207.4,130 212.6,126.9 217.5,123.8 222.3,120.6 227.1,117.3 231.7,114 236.2,110.6 240.6,107.1 244.9,103.6 249,100.1 253,96.5 256.7,92.9 260.2,89.3 263.5,85.7 266.7,82 269.7,78.3 272.6,74.6 275.3,70.9 277.7,67.2 280,63.5 282.1,59.7 284,56 285.7,52.3 287.2,48.5 288.4,44.8 289.5,41.1 290.5,37.3 291.5,33.6 292.4,29.9 293.2,26.1 293.9,22.4 294.4,18.7 294.9,14.9 295.2,11.2 295.5,7.5 295.7,3.7 295.8,0 295.7,-3.7 295.5,-7.5 295.2,-11.2 294.9,-14.9 294.4,-18.7 293.9,-22.4 293.2,-26.1 292.4,-29.9 291.5,-33.6 290.5,-37.3 289.5,-41.1 288.4,-44.8 287.2,-48.5 285.7,-52.3 284,-56 282.1,-59.7 280,-63.5 277.7,-67.2 275.3,-70.9 272.6,-74.6 269.7,-78.3 266.7,-82 263.5,-85.7 260.2,-89.3 256.7,-92.9 253,-96.5 249,-100.1 244.9,-103.6 240.6,-107.1 236.2,-110.6 231.7,-114 227.1,-117.3 222.3,-120.6 217.5,-123.8 212.6,-126.9 207.4,-130 202,-133 196.2,-135.9 190,-138.7 183.8,-141.4 177.7,-143.8 172,-145.9 166.6,-147.8 161.7,-149.3 157.4,-150.5 -157.4,-150.5 -161.7,-149.3 -166.6,-147.8 -172,-145.9 -177.7,-143.8 -183.8,-141.4 -190,-138.7 -196.2,-135.9 -202,-133 -207.4,-130 -212.6,-126.9 -217.5,-123.8 -222.3,-120.6 -227.1,-117.3 -231.7,-114 -236.2,-110.6 -240.6,-107.1 -244.9,-103.6 -249,-100.1 -253,-96.5 -256.7,-92.9 -260.2,-89.3 -263.5,-85.7 -266.7,-82 -269.7,-78.3 -272.6,-74.6 -275.3,-70.9 -277.7,-67.2 -280,-63.5 -282.1,-59.7 -284,-56 -285.7,-52.3 -287.2,-48.5 -288.4,-44.8 -289.5,-41.1 -290.5,-37.3 -291.5,-33.6 -292.4,-29.9 -293.2,-26.1 -293.9,-22.4 -294.4,-18.7 -294.9,-14.9 -295.2,-11.2 -295.5,-7.5 -295.7,-3.7 -295.8,0 -295.7,3.7 -295.5,7.5 -295.2,11.2 -294.9,14.9 -294.4,18.7 -293.9,22.4 -293.2,26.1 -292.4,29.9 -291.5,33.6 -290.5,37.3 -289.5,41.1 -288.4,44.8 -287.2,48.5 -285.7,52.3 -284,56 -282.1,59.7 -280,63.5 -277.7,67.2 -275.3,70.9 -272.6,74.6 -269.7,78.3 -266.7,82 -263.5,85.7 -260.2,89.3 -256.7,92.9 -253,96.5 -249,100.1 -244.9,103.6 -240.6,107.1 -236.2,110.6 -231.7,114 -227.1,117.3 -222.3,120.6 -217.5,123.8 -212.6,126.9 -207.4,130 -202,133 -196.2,135.9 -190,138.7 -183.8,141.4 -177.7,143.8 -172,145.9 -166.6,147.8 -161.7,149.3 -157.4,150.5z" fill="#fff"/><use href="#land"/>
<path d="M33.8,134.5l9.5-0.3 4.8-0.8 16.7,0.1 2.5-0.4 2,0.4 8.9,0 4.7-0.3 4.2-1.1 7.9-1.3 5.8,0 2.8,0.7 1.1,0 12.2-0.8 8.7-1.8 4.3-2 12.5-6.6 2.8-0.4 0.4,0.7-1.9,1.6-2.3,4 0.5,0.6 1.5-0.3 14.9-3.8 10.5-4 5.6-3.1 2-1.6 1.5-1.7 0.6-1.7-0.1-1.3-0.4-0.9-1.3-1.5-3.5-2.1-6.5-2-7.3-1.3-1.4,0-3.9,1.6-2.8,0.2-1.2-0.2-5-2.8-1.2-0.1-29.6-1.7-36.8-2.6-14-0.4-12.7,0.2-12.8,0.7-11.4,1.3-9.9,1.7-8.8,2.5-5.2,2.3-2,1.2-1.9,1.7-1.2,1.7-1,5.2-1.7,1.4-6.3,1.4-7.5,0.5-42.8,0.3-22.4,0.5-3.6,0.3-8.8-0.1-3.6,0.4-3.9-0.3-28.5,0.4-16.8,0.6-1.1,0.2-0.7,1 3.5,1.6 7.5,0.5 3.9,1.1 8.1,1.3 4.4-0.4 1.5-0.9 0.6-0.9 3.2-0.6 0.5-0.9 0.9-0.4 15.9-0.2 1.7-0.2 0.1-0.8 1,0.8 4.7,0.5 4.9-0.2 2.1-0.5 2.8,0.6 8.9,0.5 17.1-0.3 2.3-0.3 2.7,0.7 5,0.3 2.8,1 5,0.4 2.7,1 4.9,0.4 2.6,0.8 3.6,0.2 3.7,0.7 19,0.3 7,0.7 5.6,1.1 13.4,4.1 4.3,0.9zM176,131.5l2.3,0.2 5.4-0.5 3.5-0.8 3.8-0.4 4.5-1.2 4-0.3 4.1-1.1 3.8-0.2 4-1 1,0.1-1.6,1.7 8.5-5.4-19.8,2-15.4,2.3-6.6,1.6-3,1.5zM-212.6,126.9l1.8,1.1-1.9-1.9 1.9-0.3 8.8,0.4 11.9-0.1 9.9-0.6 1.1-0.1 0.3-0.6 0.9-0.3 3.5,0 5.3-0.6 0-1.1 0.8-0.3 8.8-0.3-0.1-1.6-2.9-0.6-13.2,0.3-30.6,1.2-13,1.1zM-222.7,114l4.6,0.5 1.6-0.5 0.2-1.1-0.1-0.6-1.8-1.7-3.2-1.8-5.4-1.3-2.4,0.2-0.9,0.4-0.4,0.7 0.9,1.8 2.6,1.7zM197.2,101.9l4.2,0.3 5.9-0.5 6.2-1.6 1.9-1.8-2.1-1.4-2.3-0.6-4.1-0.1-4.6,0.4-6.2,1.7-1.8,1.8 1.1,1.1zM-222,87.5l7.1,0.6 6.9-0.5 2.4-0.7 2.3-1.2 0-1.9-3-1.8-1.4-0.4-3.5-0.9-5-0.7-4.5-0.1-4.3,0.2-3.9,0.9-2.2,1-0.4,1.8 2.6,1.9zM-54.8,85.7l2.3,0.9 1.4,0.1 2.9-0.6 1.3-0.8 1.2-1.5 0.8-1.8 0.2-1.8-0.5-1.9-1.4-1-2.5,3.6-1.4,0.1-0.7-0.8-1.8-3.7 0.2-0.8 1.3-0.8 1.6,0.2 1.3-0.5-1.5-0.8-1.5,0.3-4.6-0.8-1.5,0.2-1.4,1.1-0.8,1.9-0.1,1.8 0.4,1.9 0.9,1.8 1.4,1.8zM194.2,41.1l0.3,0.4 1.6,0.1 1.1-0.5-0.5-1.9-1.6-0.9-1.3,0.9zM218.4,18.7l2.4,0.6 2.6-2.5 0.2-1.9-2.4-1.8-1-1.9-0.2-3.7-0.5-1.9-1-1.9-1.6-1.2-1.7,0.3-1.6,1.5-2.4,1.3-1,1.3-1.3,4.3-2.4,1.9-1.4,1.8 0,1.9 1.1,1 1.6,0.1 1.7-1.1 1.9-2.8 1.7-0.4 1.4,1.3 1.5,2.8zM-260.4,-37.3l0.3,0.8 1.6,0.2 1.2-1-0.7-0.9-1.7,0.1zM-279.9,-46.7l1.6,0.2 0.4-0.2-0.1-0.6-1.6,0.1zM263.6,-76.5l0.5,0.6 1.7,0.2 0.3-0.8-2.2-1.6zM-44.3,-78.3l3.8,0.4 4.6-0.9 2.5-1.4 0.7-0.9 0.7-0.9-0.1-1.8-1.6-1.9-4.2-1.6-4.3,0-3.1,0.8-1.6,0.8-1.7,1.8-0.3,1.9 1.2,2.1zM208.5,-78.3l5.7-0.1 3.9-0.9 3.3-1.8 1.5-2 0.7-2.6-0.1-1.8-0.7-1.8-1-1.8-3.1-3.7-4.8-3.5-4.1-2.4-7-2.9-5.7-1.6-5-0.9-5.6-0.3-4.4,1-2.5,1.7-1,1.8-0.3,1.8 0.8,3.6 0.9,1.7 8.5,9.1 5.3,3.2 4,1.8 5.5,1.6zM-201.7,-91.1l0.7,0 1.1-1.8-0.5-1-1-0.4-2.2,1.4 0.3,0.9 0.9,0.8zM104.3,-112.3l1.4,0.7 4.9-0.6 0.8-0.7 0.4-1.3 1.3-1.4 3.3-1.2 1.8-1 1.1-0.2 3.4,1.2 1.4,0.1 1.1-0.2 1.2-1.6 1.4,0.1 3.5,1.2 2.1-0.5 1.4,0.2 0.8-0.6 0.4-0.8-1-1.7-5.1-3.2-4-3.1-3.5-1.7-1.8-0.7-0.9,0.3-0.9,1.5-0.8,0.4-1.2,0-4.6-1.2-5.4-3.3-2.5-0.3-0.5,0.6 0.5,2-0.7,0.5-3.3-1.2-1.1,0-0.6,0.8-0.5,2.4-0.7,0.6-2.4,3.5-0.1,2.1 1.1,1.7 2.3,1.6 2.7,0.2 1.9,0.9 0.5,0.6 0.2,1.6zM137.9,-117.3l1,0.2 1.4-0.2-1-0.8-1.4-0.2zM98.4,-131.5l1.8,1.5 0.3-1.1-0.2-0.4-1.3-1.2z" fill="#fff58c"/><path d="M43.8,131.5l19.6,0.6 4.7-0.4 3.2,0.4 11.6-0.3 11.7-2 7.3-0.4 3.3,0.2 13.4-1.9 11.6-2.3 3.8-1.4 9.2-4.6 10.7-3.5 0.8,0.5 0.4,0.9-0.7,1.6 0.1,0.3 1.9-0.6 5.9-3 2-1.6 1.1-1.7 0-1.7-1.2-1.7-0.8-0.5-5-2.1-3.4-0.7-6.4-0.5-4.8-0.8-61.7-1.9-13.6-0.1-12.5,0.5-8.4,0.7-7,1-5.6,1.2-5.7,1.8-2.8,1.3-2.6,1.8-1.7,1.7-4,5-4.2,3.3 0,1.6 3.2,1.6 9.8,3.7 8.3,2.5zM-31.3,123.8l2.4,0.4 7.2-0.1 2.8-0.3 4.7-1.6-7.7-1.6-9.1-0.6-13.7-0.3-1.2,0.2-0.9,0.7 2.7,1.6 3.8,0.1 4,1.2zM200.8,-83.8l4.6,0.9 3,0.2 2.8-0.3 2.4-0.8 2-1.4 1-2.3-0.1-1.8-0.7-1.8-3.1-3.7-2.3-1.7-4.9-2.9-4.4-1.7-5.4-1.3-4.4-0.3-3.4,0.7-1.8,1.1-1,2.1 0.1,2.3 0.7,1.7 2.6,3.7 1.9,1.8 3.5,2.4 2.3,1.3zM108.3,-115.6l1-0.4 1.7-1.3 1.3-1.6 0.8-1.7-1.1-1.6-1.8-1.6-2.5-1.6-5.2-1.9-1.2,0.1-0.4,0.9-0.1,1.5-0.7,1-0.4,1.6 0.3,1.6 3.8,1.7z" fill="#ffe650"/><path d="M60.5,130l12,0.2 13.1-0.6 20.4-2.4 15.3-2.5 11.8-2.4 5-1.5 6.3-2.8 6.7-2.4 3.3-1.6 1.4-1.7-0.9-1.7-3.6-1.8-6-1.1-6.1-0.6-47.9-0.7-21.7,0.6-13.9,1.5-5.6,1.1-5.6,1.6-4.4,1.8-4.2,2.6-3.5,3.3-0.9,1.7 0.3,1.6 1.7,1.6 3,1.6 4.2,1.5 9.3,2.1zM200.4,-87.5l3.8,0.8 4.1-0.4 1.1-0.6 0.8-0.9 0.3-0.7-0.2-1.8-1-1.8-1.9-1.9-2.8-1.7-3.6-1.6-5-1-2.6,0.3-1.2,0.5-1.2,1.8 0.2,1.7 1,1.9 1.7,1.8 2.5,1.8zM103.8,-122.2l1.9,0.8 1.2,0.1 0.8-0.6-0.4-1.9-1.8-1.1-1.6-0.5-0.7,0.6-0.1,1z" fill="#ffcd1e"/><path d="M57,126.9l9.8,1 11.8,0 12.3-0.9 13-1.6 17.4-3.2 14.1-3.3 5.1-1.6 3.5-1.7 1.7-1.6 0-0.3-0.4-1.4-2.7-1.2-3.3-0.8-4.9-0.4-36.6-0.6-18.8,0.5-13.7,1.5-9.8,2.2-5.7,2.1-2.9,1.7-1.9,1.6-1,1.7 0.3,1.6 1.9,1.6 3.8,1.6z" fill="#ffb40a"/><path d="M69.4,125.4l6.9,0.2 7.3-0.2 15.6-1.6 8.9-1.6 13.7-3.3 5.4-1.6 3.2-1.7-0.9-1.6-7.8-1-21.6-0.8-15.7,0.3-12.3,1.3-8,1.8-4.9,2-2.2,1.3-1.1,1.7 0.8,1.6 3.2,1.6 4.9,1z" fill="#ff9600"/><path d="M75.6,122.2l9.8,0.2 9.3-1.1 3.9-0.7 5-1.7 1.1-1.6-3.2-0.9-3.5-0.5-8.8-0.2-6.7,0.6-5.5,0.8-5.1,1.8-0.8,1.7z" fill="#ff7d00"/><path d="M-159.4,150l3.1,0.5 48.8,0 14.6-0.9 4.8,0.6 5.7,0.2 10.9-0.9 6.4,0.8 10,0.2 51.1,0 17.2-0.3 1.8-0.2 1.7-0.7-1.5-3-0.3-1.4 0.1-2.3-0.7-1.3-1.9-0.6-12.4-1.1-4.2-0.8-5.3,0.1-1,0.6-1.2-1.7-1.1-0.1-2,0.8-0.5-1.1-1.1-5.9-0.9-1.8-4.8-0.7-3.6-0.9-4.8-0.2-3.3-1-2.9-0.2-3.5-1.3-6.7-0.9-2.3,0.3-1,0.6-1.7,1.7-1.4-0.6-0.9-1.1-2.1-1.6-3.1-0.4-7.3-0.2-2.4,0.2-1.6,0.4-3.3,1.7-1.2,0-3.4-1.7-6.7-1.2-7.6,1.5-4.2-0.9-12.5-0.4-5.4,0.8-1.6,0.9-2.8,1-1.7,2-3.8,0.9-6.7-1.9-5.6-0.9-7.9-0.7-2.8-1.1-4.4-1.2-2.6,1-1.1,1.2-0.9,0.3-8.1,0.1-1.3,1-1.9,0.3-3.3,0.2-5.1-0.3-10.9,1.5-20.4,0.4 1.9,1.9 4.4,2.8 4.3,2.4 7.3,3.3 18,7.2zM-159.2,134.6l-0.5-0.1-1.7-1.5-0.1-1.5 0.8-1.9 2-1.1 1.9,1.5 0.5,1.5 0.1,1.5-0.2,0.5-1,0.8zM-35.4,137.4l-1-1.5 0.2-1.4 1.1-2.3 1.9-1.6 1-0.2 1.3,0.4 1.2,2.2-0.2,1.5-0.7,1.2-2.6,1.8-1,0.2zM19.9,150l11.4,0.5 17.8,0 17.2-0.5 9,0.5 30.7-0.4 15.4,0.4 35.7-0.1 4.6-1.1 7.6-2.4 17.6-6.8 10.4-4.7 0.3-0.7 5.6-3.2 2.7-1.9-6.6,0.5-7.6,1.1-18.4,4.1-20.9,3.8-13.7,0.6-7.9-0.3 1.5-1.5-0.5-1.1-1.1-0.1-3.6,1.8 3.7-4 3.9-3 3-3 0.4-1.5-2.8,1.6 4.4-4.8 1.1-1.9-15.7,8.6-11.2,4-2.4,0.2-13.5-2.1-6.9,0.2-6.3,1.7-7.8,3.1-2.4,0.3-2.7-0.6-1.7,0.1-1.9,1.3-3.7,3.9-2,0.8-1.4-0.8-0.4-1.2 0.3-4-1.5-1.5-5.8-0.6-5.6,0.1-3.4,0.4-5.9,1.6-2.7,1.3-1.9,1.4-1,1.3-1.9,3.5-1.9,1.4-1.9-0.2-3.8-2.6-0.9-0.2-1.1,0.2-1.1,1.4-2.5,4.4zM171.3,145.8l4.6-2 3.8-1.2-2.1,1.2zM238,89.3l1.1,1 1.3,0.2 3.4-0.6 1.4-0.6 2.1-1.8-0.3-1.4-0.9-0.6-3.4,0.2-3.7,1.8zM183.5,87.5l0.9,0.6 1.2,0.3 3.2-0.4 1.2-0.5 2.1-1.8-0.1-0.4-0.6-1.5-2.6-0.4-1.7,0.3-3.3,2zM162.8,78.3l0.4,0.2 2.1-0.2 3.2-1.8-0.9-0.9-1.2-0.6-3,1.5zM-248.1,63.5l2.7,0.5 1.4-0.2 0.5-0.3 0-1.9-1.9-5.6-0.9-0.6-1.6,0.1-1.4,0.5-2-1.9-0.5-1.8-1.2-1.7-1.5,0.1-1.2,1.6 0.2,1.8 2.5,3.8 0.5,1.8zM-47.9,56l0.6,0.4 1.6-0.2 1.5-0.9 1.1-1.2 0.3-1.8-1-5.6-1-1-5-2.6-1.6-0.1-1.6,1.8 0.5,7.5zM-241.7,54.1l1.4,0.7 0.6-0.7-1.3-1.2zM-287.2,48.5l0.4,1 3-0.5 2.8-1.2 2.5-2 2.1-2.9 0.9-1.8 1.1-3.8 0.6-4.3 1.7,0.4 1.3,2.1 3,2.3 0.8-0.5 0.3-1.8 1.5-3.8 0.2-1.8-3.2-3.8 0.5-1.8-0.4-1.9-3.1-1.2-1.3,1.2-1.4,2.4-0.8-0.5-0.9-1.9-1-3.7-0.5-3.8 0-2.6 1.2,2.6 0.7,0.3 3.6,2.9 3.6,0.6 1.5,1.8-0.9,1.9 1.8,1.9 4.5,1.8 1.2,1.9 0.6,1.9 1.2,0.8 1.6,0.3 1.4-1.1 2.1-3.8 0.7-1.8-0.3-1.9-0.5-0.3-3.3,0.1-1.5-1.7-0.3-1.8 1-3.6 3.4,1.1 3.2-1 1.6,0 5,1.2 1.7,0.1 1.1-1.6 0.7-1.8 1.5-5.6-0.8-1.9-1.7-0.4-3.2,0.9-3.1,3.5-1.6-0.2-2-1.9-0.4-1.9 0.8-1.9 0-1.8 1.2-1 3.3,2.1 1-1.1 0.6-1.9 0.3-1.9 1.4-0.6 1.2,0.6 0.7,1.9 1.4,0.9 1.6,0.2 1.7-0.6 1.7-2.4 1.6-1.2 1.6,0.1 1.7,0.8 3.2,2.5 1.7,0 2.1-2.2 0.4-3.7 1-2.4 8.3-8.8 0.6-1.9-1.4-1.6-1.6-0.4-3.4,1.1-1.6-0.4-0.9-0.5-0.5-1.2-0.5-2.6-0.8-0.5-3.1-0.7-1.2-0.6-1.6-2.4-1.5-0.6-1.8,0.7-1.6,0.2-6.2-2-5,0.9-3.2-0.5-3.6,1.8-2.8-2.2-1.6-0.1-1.3,0.4-0.5,0.6-1.6-0.2-1.5-0.7-1.3,0.3-0.7,1.9-0.3,0 0.2-1.9-1.1-0.4-0.8-1.4-1.6-1.9-1.1-2.7-1.6,0.1-3.3,2.6-1.2,1.9-0.4,2.4-1.1,1.3-2.8,1.9-3.3,0.7-1.8,0.7-1.9,1.5-1.8,0.8-3.2-0.2-1.7,0.6-1.5,1.5-0.6,1.7-0.4,3.9 0.6,1.8 0.7,1 1.6,0.5 3.2,0.4 1.6,0.7 1.6,0.1 1.7-0.4 1.6,0.4 1.9,2.9 0.2,1.9-0.9,5.1-1.7,1.2-3.2-2.7-2.9-1.7-3.6-1.5-3.2-0.9 0,11.7 0.7,9.3 1,7.5 2.4,11.2zM-258.9,13.8l-1.8-1.4-0.7-1.2-0.7-3.7 2.5-3.8-3.3-1.1-1.3-2.6 0.3-1.9 1.2-1.8 1.5-0.9 5-1.2 0.3,0.2 0.1,1.9 0.9,1.8 2.1,1.9 0.5,1.9-3.2,1.8-1.2,1.9 1.1,1.9-1.7,6.9zM-262.2,48.5l1,1.2 1.7,0.4 0.8-2.3 1.4-1.1-2.1-1.2-1.7-0.6-1.4,0.8zM176.9,48.5l1.8-0.1 1.9-1.5 1.6-2.1 0.5-0.3 3.2-0.1 1.1-1.5 0.3-1.8-0.5-1.3-1.3-1.8-1.5-0.9-0.3,0.2-1.8,3.8-0.5,1.9-1.6-0.2-1.4-0.7-1.6,0.8-0.7,1.9-0.1,1.4zM199.5,48.5l1.3,0.7 1.1-0.7 0.4-1.8-0.6-0.9-1.7,0.1-1,0.8zM280,48.5l3.6,0.9 3.2,0.1 2.7-8.4 3.3-13.1 1.6-9.3 1.3-15-0.1-9.8-5-0.8-4.9-0.3-3.3,0.3-8.3-1.7-13.2-1.7-6.6-0.3-3.3,0.4-6.4,2-8.1,3.6-4.1,2.7-1.7,1.9-0.5,1.9 3.8,3.7 7.1,5.3 4.9,1.2 16.1,2.8 3.2,1.3 1.5,1.1 1,1.4 0.5,1.8-0.1,1.9-1.6,9.3 0.3,3.8 0.6,1.8 2.1,3.8 3,3.1 3.9,2.8zM-138.7,46.7l4.6,1.4 3.2,0 1.5-0.5 1.6-0.9 1.5-1.9 0.8-1.9 0.2-3.7-0.9-3.7-1.9-3.8-3.5-5.6-0.6-1.8 0-1.9 0.7-1.9 4.6-5.6 0.9-1.8-0.5-1.9-3.1-3.7-5.1-2.1-4.9-1-6.6-0.8-8.2-0.1-8.2,0.8-6.1,1.3-5,1.9-2.4,1.8-0.6,1.9 1,1.9 2.7,1.8 14.7,5.6 3.6,1.9 2.4,1.9 1.2,1.8 2.3,9.4 1.9,3.7 2.3,3 1.9,1.8zM-250.3,44.8l2.2,0.8 0.9-0.8 0.4-1.9-2.2-0.7-0.9,0.7zM-254.4,39.2l1.7,1 1.4-0.8-0.5-2.1-1.9-1.1-1.1,1.1zM177.2,37.3l0.3,0.5 0.7-0.5 0.8-1.8 0.2-1.9 1.7-5.6-0.2-0.6-1.4-2.1-2.1-1-0.9-1.4-1.3-0.5-1.9,0-3.2-0.8-0.9,0.8-0.7,1.9-0.5,3.7 1.4,1.9 4.3,2.6 2.9,1.1 0.6,1.9zM-245.2,33.6l0.8,0.8 1.7,0.2 1.7-1-2.1-0.8-1.6-0.1zM-75.4,33.6l1,0.8 1.5-0.5-0.4-2.2-3.1-3.2-1.7-1.1-1.7-0.5-1.5,1.6-1.4,3.2 1.7,1.6 3.2-0.1zM212.7,33.6l2.5,1.2 1.5-1.2 0.4-1.9-1.1-1.5-1.4-1.1-1.7,0.3-1.6,2.3zM142.3,31.7l8.5,0.2 6.6-0.6 4.7-1.4 0.2-1.9-2.2-1.9-3.7-1.8-6.2-2.3-11.7-3.3-10.8-2.5-11.4-2.1-24.4-3.4-14.8-1.4-14.7-1-16.4-0.7-14.8-0.2-9.9,0.3-6.5,0.7-4,0.9-1.9,1.9 2,1.9 4.8,1.8 7.6,1.9 7.8,1.3 11.4,1.5 32.6,3.2 45.1,6.8 11.3,1.3zM-234.7,26.1l1.9,0.8 0.8-0.8-1.2-1.7zM187.2,20.5l0.7,0.6 1.6,0.1 1.5-0.7 0.5-3.7-1.5-1-3.3-0.7-1,1.7 0.7,2.7zM182.1,14.9l2.3,0 0.8-0.8 0.2-2.9 1.2-3.7 0.2-1.9-2.8-0.6-1.7,0.1-2.4,2.4 0.1,1.8 1.8,1.9zM-42.8,-7.5l8.3,1.1 8.2,0.6 9.9,0 9.8-0.4 9.9-0.8 33.3-4.2 30.6-3.1 14.7-2 14.6-2.9 12.9-3.8 7.9-3.4 2.8-1.6 3.3-2.4 1.5-1.5 0.9-3.6 1.8-1.4 2-0.4 1-1.2 1.5-2.6 0.5-1.8-1.2-1.7-2.2-2.1-0.2-1.8-1.4-1.9-2.1-1.2-0.5-0.7-0.1-2.2 1.4-1 1.6-0.1 1.7,0.7 2,1.8 1.5-0.4 1.3-1 2.9-1.5 1.8-1.9-1-1.2-1.5,0.3-2.7-0.9-1.3-1.9 0.9-2.9 1.3-2.7 1.7-2.4 0.5-1.3-1.3-1.1-1.3,0.6-1.5,0.1-3.7-1.9-1.4,0.2-2.6,1.6-0.7-1.4 0.8-3.7 1.6-3.1 2.1-2.2 1-2-0.1-1.9-0.9-1.8-3.4-3.6-0.4-1.8 0.6-2.3 0.8-1.3-2.6-1.8-1.6-0.7-1.7-0.5-1.3,0.1-1.6,2.3-0.7,2.3 4.1,1.9 1.2,1.8-0.3,1.8-0.4,0.7-0.9,1.1-1.2,0.6-8.6,0.6-1.2,0.5-1.6-0.1-1.7-3.4-3-1.5-1.5-0.3-1.3,0.4-1.1,0.9-1.4,0.3-4.3-0.1-1.3,0.5-1.1,1.1 0.1,2.3 1.6,3.2 2,1.6 1.4,0.7 0.6,1.9-0.6,1.8-3.8,3.7-1.1,1.9 2.9,1.9 1.6,3.7 1.8,1.7 1.6,0.3 1.5-0.3 2.2,0.1 1.2,1.3 1.1,2.5 1.3,1.8 0.6,0-0.5,0.2-0.4,1.7-0.7,1-1.6-0.3-0.6,1.2 0.2,1.8 1,1.9-0.2,1.9-9,0-6.3,0.5-12.6,2-9.4,2.3-28.6,9.1-9.6,2.3-11.3,2-16.3,2.1-29.3,1.8-14.7,1.6-4.9,1.1-4,1.3-3.8,1.9-2.4,1.8-1.2,1.9 0,1.9 1.3,2 2.4,1.7 4.1,1.8zM110.1,-48.2l-2-2.2-0.5-1.9 0-2.1 1.8,1.3 2.8,2.7 1.1,1.9-1.5,0.8zM112.1,-55.6l-3.5-2.3 2.8-1 1.6-0.2 1.6,0.3 1.1,0.9 0,1.9-0.3,1-1.6,0zM289.7,-13.1l0.5,0.7 1.7,0.9 1.6-1.3 1.3-2.6-0.4-3.4-1-1.7-1.5-3.9-3.3-0.1-4.6,1.6-0.4,0.5-0.2,1.9-0.5,1-1.5,1.5-1.5,0.7-3.3,0-3.5-1.7-2.3,0.3 0.8,1.9 2,1.9 1.7,1 1.7,0 3.1-1 3.2-1.5 1.4-1.4 1.6-0.3 1.7,0.3 0.9,1zM241.5,-14.9l7.6,1 4.9-0.2 6.4-1.9 5.4-2.7 0.8-1.8-1.1-1.9-1.3-3.7-0.7-3.8-0.9-2.7-1.9-1.3-8.5-1.8-8.3-0.7-8,0.1-7.9,0.8-6.2,1.5-5.2,2.3-2.1,1.8-0.9,1.9 0.2,1.9 1.2,1.8 3.9,2.8 5.1,2.3 5.1,1.6 6.7,1.7zM-211.2,-29.9l1.6,0.5 1.6-0.2 3.4-2.1 5.5-2.3 1.7-1.5 1.4-1.8 2.1-3.8 0.4-1.8-2.2-3.8 0.7-0.3 11.2,0.1 1.5,0.5 2.7,2.1 1.6,0.2 1.1,1.2 0,1.8 2.7,3.3 0.7,2.3 1,1.9 1.7,5.6 1.6-0.1 5.1-1.3 1.8-1.7 3.5-1.5 0.9-1-0.5-1.9-2.4-1.8 0.3-1.9 1.4-1.9 1.5-0.4 1.6,0 1.8-0.8 0.6-0.6 0.3-1.9 0.8-1.9 0.6-0.2 1.6,0.3 1.4,1.1 1.2-1.2 2.4-1.1 3.1,0.8 2,2.2 0.2,3.7 0.8,1.9 0.5,0.8 1.6,0.2 3.5-2.4 1.6-2.3 2.2-2 8.8-5.4 3,1.2 1.7-0.3 3.1,0.5 2.9,2.3 3,1 1.7-0.4 2.6-2.5 0.8-1.9-0.5-4.5-0.5-1.1 1.4-1.9 1.4-1.2 0.7-2.5 0.3-3.7-0.5-3.7 1.1-5.6-0.5-1.9-1.4-0.8-1.5,0-3.4,1.1-1.3-2.1 0.2-3.7-4.2-4.5-2.2-1-1.7-0.2-1.2-0.8-0.3-4.4-0.6-1.9-1.3-1.4-1.1-0.6-2,1.1-1.7,2.8-2.2,2.2-4.8,1.4-2.3,1.8 0.5,1.9 4,1.8 0.6,1.3 0,0.5-0.4,0.5-1.7,0.6-1.5,0-4.2-0.8-1.5,0.1-7.2,2.8-1.5,0.2-1.4-0.4-0.5-1.2 0.5-1.8 1.1-1.8 1-3.7 0.9-0.9 2-0.9-0.9-1.2-1.1-2.4 1.9-1.9-0.5-1.3 0.1-0.4-1.3-2.2-1.9-1.4-2.1,3.6-1.3,3.6-1.4,1.8-2.1,3.6-1.2,1.2-2.8-0.1-1.5,0.7-0.7,1.9 0.6,1.8-0.3,1.8-2.1,1.5-2.9,0-1.1-0.8-0.8-1.4-1-0.9-1.3-0.4-1.2,0.2-0.8,1.8-1.1,1-1.4-0.2-1.2-0.6-0.2-0.2 2.5-1.8 1.9-0.3 1.2-1.5 0.3-1.9-0.2-1.5-5.8,0-2.3,1.5-0.8,1.9 0.2,1.8-0.4,1.8-1.2,1.9-2.4,1.8-2.4,0.6-2.5-1-4.5,0-2,2.3-3,4.6-2.6,2.2-1.8,0.5-3.5-2.4 0.3-4.9-0.7-3.7-0.9-2.3-1.2-0.5-1.6,0.9-2.1,3.7 0.3,0.8 1.9,1.1 0.5,1.8-1.5,1-1.7,0.3-6.7,2.5-0.9,1.8-1.1,3.7-0.8,5.6-2.1,1.7-4.4-0.7-0.4-1-2-0.8-2.2,0.8 1.2,1.9 2.6,1.1 1.1,1.4 1.2,1.1 1.5,0.3 0.2,1.7-0.4,1.9-2.4,1.8-1.1,1.6 0.3,2.2 0.6,0.8 1.5,0.8 1.8,0.2 1.1,1.1 1.2,2 1.6,0.7 1,1.8-3.9,1.9-0.4,1.9 0.4,0.3 1.6-0.3 2-1.4 1.6-0.2zM-203.1,-46.5l-1.5-0.4-1-2.4-1.3-1.1-1.1-1.9 0.2-1.8 1.3-2.5 1.9-0.9-0.3,3.4 0.3,1.8 1,1.5 3.2,2.3-1,1.8zM-152.1,-68.9l-0.8-2-0.1-1.9 1.1-1.8 2.3-0.8 0.7,0.8-1.6,3.7 0.4,1.9-0.7,0.6zM-142.9,-52l-1.4-0.6-1.2-1.5 1-1.9 1-0.3 1.7-0.4 1.5,0.1 4.3,2.5-2.1,1.8-3.3,0.6zM-113.6,-63.4l-2.8-1.1-2.6-2.7 2.4-3.7 0.6-0.9 1.7-0.3 1.2,1 1.4,0.5 1.7-0.6 1.4,0.3-0.3,1.9-2.1,1.7-1.5,2-0.7,1.8zM-205.5,-59.3l0.1-0.4 0.6-1.3 0.9,1.3zM-74,-31.7l7.4,0.9 4.9-0.3 3.3-0.6 4.2-1.9 1.6-1.9 0.1-1.8-1.3-1.9-3.6-1.9-3.7-0.9-3.2-0.4-4.8,0-4.8,0.7-2.7,0.6-3.6,1.9-1.4,1.9 0.3,1.8 2.2,1.9zM-285.3,-33.6l0.2,0.4 0.8-0.4 0.1-1.9-0.3-0.2-0.7,0.2zM-121.3,-37.3l0.2,0.5 1.7-1.1 1-1.3 0.7-1.9-0.1-1.8 0.5-3.8-0.8-1.6-1.6,0.3-2.8,3.2-1.1,1.9-0.3,1.8 1.4,2.5zM268.9,-44.8l0.4,0.3 1.5-0.3 5.1-3.7 0-1.9-1.7-3.7-0.8-0.8-1.5,0-1.1,1.2-0.9,1.4-0.4,3.4-1.5,0.3-1.7-0.2-0.2,0.3zM-237.3,-50.4l1.6,0.5 0.8-0.5 0.4-2.9-0.8-2.1-1.5-0.2-1.8,0.5-1.5,1 0.8,0.9 0.1,0.9zM-95,-56l0.2,0.8 1.6,0 0.3-0.8 0.4-1.9-0.1-1.1-1.3-1.3-0.5,0.6-0.5,1.8zM86.5,-78.3l0.6,0.9 1.5-0.3 1.4-0.6-2-1.5-1.2,0.9zM-181.2,-83.8l1.6,0 1.4-1.9-1.4-0.8-1.4-0.1-1.4,0.9zM-91.1,-89.3l1,1.5 1.6-0.5 1.2-1 1.2-3.6 2.1-1.9 0.1-1.7-0.2-0.6-4.3,0.2-0.7,0.4-0.3,1.7-1.9,3.7zM-223.7,-91.1l0.8,0.3 1-0.3 0.8-1.9-0.7-0.7-2,0.8zM8.3,-92.9l11.7,1 12.9-0.3 5.6-0.6 4.2-0.9 3.8-1.1 2.8-1.3 0.7-0.4 1.5-1.8 0.3-1.8-0.8-3.5 0.2-3.5-1.5-1.7 3.1-0.7 1.2-1.1 4.3-2.3 1.1-0.4 3.9-0.1 0.8-1.3-0.2-2.6-0.9-3.3-1-1.6-1.3-1-1.3-0.1-3.3,0.8-2.4,0.1-0.7,1.8 0.2,3.3-0.5,1.7-1.3,1.2-1.2,0.5-1.3-0.2-0.8-1.5 1.1-3.3 0-1.7 0.8-1.6 1.1-0.7 1.9-2.5 1.8-0.5 3.5-0.1 2-0.8 5.5-0.9 0.9-0.4 0.6-0.4-0.9-1.5-2.3-1.5 0.2-1.5 1.4-0.8 4.3-0.2 0.7-0.5-0.2-1.4 0.2-0.2 7.5-0.2 1.1,0.4 2.9,1.9 1.4,0.2 2-0.2 3.5-1.1 2.2,0.1 1.9-0.4 0.7-0.3 0.8-1.4 0.5-0.3 0.3-0.9-0.3-0.4-3.4-1.4-1.8-1.3 0.2-0.5 1.8-0.2 0.6-1.1 0-0.7 0.5-0.4 6.6-0.2 0.6-0.2 0.1-0.6 0.6-0.2 2,0 4.8,1.2 6.3,0.2 4.5,1 1.3-1 0.9-0.1 6.8,0.5 5.9-0.1 1.9,1.2-0.3,1.2 0.7,1.3 2.6,2.7 0.2,0.9-0.4,1.2-1.5,1.3-1.1,0-5.3-2.3-1.1,0-1.4,0.4-0.1,0.9-1.6,0.5 11.7,2.2 9.7,3.8 2.6,1.6 4.7,4.7 9,6 2.5,1.2 1.6,0.3 0.9-0.4 0.2-1-0.2-2.8-1.2-1.7-5.9-4.8-4.4-6.1-0.9-4.4-0.9-1.5-1.9-1.3-10.1-3.9-0.7-1.2 0.3-0.5 3.4-0.7 12.9,2.3 3.4,0.1 3.5,1.2 1.5,1.3 5.9,3.2 4.8,3.9 0.3,0.9 3.5,3 1.2,1.6-1.9,2.1-3.7,0.8-0.1,2.4 2.6,3.3 4.2,2 7.7,2.3 7,1.6 6.4,1 7,0.5 6.1-0.4 3.9-1 1.7-0.8 1.2-1 0.7-0.9 0.1-1.3-0.5-1.2-8.4-5.7-10.1-6.2-8.3-4.5-9.1-4.2-12.3-5.1-11.1-4-9.2-2.7-314.8,0-6.7,1.9-10.7,3.7-12.1,4.8-9.3,4.2-13.8,7.4-15.9,10.4 5.3-2.5 11-6.3 4.7-1.9 5.5-1.2 4.2-0.4 19.3-0.7 26.5,0.7 0.9,0.2-0.4,2.4 0.8,0.2 2.9-0.4 4.5-1.9 1.4-0.3 7.7,0.4-0.5,1.3-3.9,3.1-1.3,1.6 0.6,0.2 6.2-1.8 3-1.5 1.8-1.6-0.1-1.5 0.6-0.4 1.6-0.4 1.5,0.7 4.3-0.8 1,0.1 0.3,0.8-0.8,1.5-1.7,1.6-2.7,1.5-0.7,1.6 0.1,0.3 2.2,1.7 1.2,1.6 1.8,0.9 1.2,0.1 4.1-2.2 2.1,0.4 4.5,2.6 1.2,0.1 1.1-0.6 1-1.7 2.2-2.3 1.5-0.4 2.4-0.1 4.1-2 1.3-1.5-0.5-1.6-0.8-0.6-2-0.5-1.7,1.1-0.7,1.6-1.8,1.5-1.4,0.2-2.5-1.5-4.7-4.8 1.3-1.5 4-2 1.3-0.3 4.2,0.2 4.5-1.2 4.6-0.2 4.4-1.3 2.2,0 0.8,0.3 0.4,0.7 2.1,0.9 0.2,1.4-0.3,1.5 3.2,1.5-0.4,1.5-1.7,1.5 0.2,1.5 2.2,0.1 1.9-1.3 1.5-0.5 1.9,0.8 2.2,2.7 3.7-0.3 1,0.5 0.8,0.9 1.7-1 3.9-3.7 1.3-0.3 1.1,0.1 3,1.3 4.9-2.3 4.2-0.4 2.1,0.4-1.4,1.5-0.5,1.6 0.7,1 1,0.6 1.3-0.1 2.1-3.1 2.3-0.3 2.3,0.3 2.1,0.9 3.4,0.5 1.1,0.8 6.7,0.9 1.5,1.6 0.6,4.2 0.3,0.7 0.8,0.7 2.5-0.4 1.1-0.3 0.2-0.4 0.4-1.3-1.3-1.6-0.5-1.6 0.6-0.8 2.4-0.7 1.2,0.1 3.6,1.1 2.4,1.9 0.6,1.6-1.3,3.3 0,3.3 0.6,1.6 4.3,1.8 2.6,1.8 0.7,1.7-1,1.7-7.1,5.3-0.9,1.8 0.8,1.8 3.1,1.7zM27.4,-102.4l-0.9-1.2 1.1-3.5-2.5-2.4-0.5-1.1 0.2-0.7 1.1-1 1.3-0.3 2.2-2.5 3.3,2.8 1.5,3.5 0.4,1.7-0.6,1.7-1.4,1.3-3.8,2.1zM32.4,-125l-0.5-0.4 1.2-1.4 2.4-0.1 0.5,1.5-1.1,1.1-1.1,0.3zM48.8,-109.8l-0.9-0.8 0.3-1.2 0.6,1.2zM199.5,-117.1l-2-1.8 1.9-0.3 0.7-0.4 0.2-0.8 0.6-0.5 1.3,0 4.3,2 0.5,2.7-2.2,0.3zM-139.9,-132.4l0.1-0.6 4.1-1.5 4.7-0.5-1.2,1-2.8,0.4-2.9,1.4zM109,-92.9l1.5,1.6 0.2-1.6-1.4-1.2zM144.7,-96.5l1.7,0 0.4-1.3 0.5-0.5-1.3-0.7-1.2,0.4zM153.2,-98.3l1.8,0.3 1.7-2.1 0.3-0.9 1.7-0.9 0.6-1.7-1.4-1.8-2-0.7-1.2,3.8-0.6,1-1.2,0.3-0.9,0.6-0.1,0.3zM162.8,-98.3l0.9,0.6 1.3-0.1 0.5-0.5-1.7-1-1,0.4zM70.1,-100.1l2.3,1.4 1.3-0.3 0.8-1.1-0.2-1.8-0.4-0.6-3.5-2.1-2-2-1.3,1.2 0.4,1.8zM76.5,-100.1l1.2,0.6 1.1-0.6-1.5-0.4zM-30.2,-101.9l1.2,1.3 0.6-1.3-0.3-0.5zM-89.1,-103.6l0.1,1.4 1.8-1.4-0.9-0.8zM-167.7,-105.4l2-0.2 2.8-1.5 0.4-1.7-0.5-1.4-0.5-0.4 0-0.6-1.4,0.1-1.1,0.5-2,1.8-0.7,1.7 0.5,1.3zM73.8,-105.4l0.7,0.8 1.2-0.4 1-0.9 2.9,0.6 3.6-1 1.6-0.8 0.3-1.7-0.4-3.5-1-1.7-1.9-1.2-3.5,0.8-3.8,0.2-2.3,0.4-1,0.8 0,0.7 0.9,1.7 2.1,1.8zM27.9,-110.6l1.2,1.5 1.6-1.5-0.7-0.9-1.2,0.2zM-80,-112.3l0.5,0.5 1.6-0.5-1.2-0.5zM-200.6,-115.6l-0.3,0.6 1.2,0.1 1.4-0.7 0.5-0.9zM-214.6,-117.3l1.1,0.3 2.7-1.2 1.5-0.1 1.9,0.5 1.3,0.9 2.2,0.3 3.5-0.9 5.1-2 1,0.6-0.9,1.4 4.1-1.4 1.5-0.2 1,0.2 1.3,1 1.9,0.6 1.6-0.3 4.7-3 3.9-1.6 1-1.6 0-0.8-0.4-0.8 0-0.7-1.1-0.8 0-1.1-0.8-0.2-4.6-0.1-3.3,0.7-1.6-0.5-1.3,0-7.7,2.1-5.3,2zM-152.7,-117.3l1,0.3 1.5-0.3 3.9-1.6 3.8-3.3 1.4-1.6 2-1.1 1,0.2 1.9-0.7 0.1-1.2-0.6-0.6-2.8,0.4-2.3-0.1-4.5,0.9-3.6,0-2.9,0.6-3.8,1.6 1.5,0.3 2,1.3 0.7,1.6-0.5,1.7zM-167.5,-118.9l0.6,0.8 0.8,0.4 2.5,0 2-1.2 1-1.7 2.9-2.6-3-0.6-0.5-0.7-0.9-0.2-4,2.5-1.6,1.6zM166.7,-125.4l3.7,1.6 1.2,0 1.2-1 0.1-2.1-1.5-1.6-1.7-0.5-2.4,0-1.1,0.9zM113.8,-135.9l2.7,0.8 2.2,0-0.1-0.8-6.6-3.5-1,0 1.3,2z" fill="#8ccdf0"/><path d="M-158.6,150l2.9,0.3 10.9,0.1 37.1-0.3 3.8-0.8 1.6-0.8 3.2-0.7 1.5-0.8 1.4-1.1 0.7-1-0.1-1.1-4.3-1.5-1.4-0.9-0.3-1.3 0.3-1.4 1.2-2.8 0.2-1.4-0.4-1.5-2.2-3 1-3.1-0.3-1.5-3.4-1.6-1.3-0.2-4.7,0.2-2.8,0.9-3.7,2.2-1.6,2.5-2.5,1-1,0.1-5.4-1.9-7-1.1-7.1,0-1.9,0.4-2.4,0.9-4.2-0.5-0.7,0.3-0.6,1.4 1.1,3 1.1,1.5 1.7,1.4 3.5,1.5 1,1.3-0.7,0.7-0.2,0.7-2.3,0.8-2.4,0.4-2.5-0.2-5.1-1.6-5.2,0-3.1-0.8 0-0.8-0.7-0.5 0.4-5.9-0.4-0.6-0.1-0.9-3.4-1.5-4.9-1.2-5.5,0.3-6.6,1.1-5.7,0.1-10.4,0.7-1.8,0.3-0.4,0.5 3,2.3 3.2,1.9 8.9,4.2 18.1,7.2zM-57.8,150l5.7,0.1 17.4-0.3 7.4,0.4 16.7,0.1 15.9-0.5 3.4-0.5 1.7-0.7 1.1-1.7 0.4-3.1-0.3-1.2-2.4-1-9.2-1.1-3.1-1-6.3,0.3-0.9,0.9-1.3-1.6-1.1-0.2-1.9,1-1.2-2.5-1.3-6.1-1.2-0.4-7.1-0.9-1,0.5-0.5,1-0.5,3-0.6,1.4-4.2,4.2-0.7,1.3-0.3,3.2-0.4,1.1-0.6,0.6-0.8,0.2-1.1-0.2-1.6-1.4-0.6-1.1-0.8-3.7-0.8-0.9-3.9-1.8-0.4-1.5 3.8-4.4-0.1-1.5-1.3-1.5-1.7-0.9-1.3-0.4-1.2,0-1,0.5-3.2,3.4-2.1,0.4-1.5-0.6-4.1-4.1-6.9-2.1-2.5,0-1.9,0.8-0.8,1.4-0.6,3.1-1,1.5-1.5,1.2-1.8,0.7-1.1-0.4-1.4-1.5-2-4.6-1.2-1.5-3.8-1.3-2.1,1.3 0,3.1-0.6,1.5-3.2,3.7-0.6,1.7-1.8,7.2 0.2,1.2 3.4,4.8 0.8,0.7 3.9,0.6 4.7-0.4 0.6-0.2 1.6-1.5 2.5-1.5 2-0.7 1.8-0.1 1.7,0.4 2.5,2.7 1.1,0.7zM30.5,150l3.8,0.2 20.4-0.2 4.7-0.7 0.7-0.7-2.1-4.5-0.8-4.2-0.8-1.8-1-0.7-1.5-0.5-6.2-0.4-5.3,0.9-3.3,1.3-1.9,1.4-1.2,1.3-2.7,4.5-1.6,1.5-2.9,1.9zM72.9,150l18.6,0 6.8-0.7 2.7-0.7 2-1.7 1.3-2 2.6-5.6 0.2-1.9-0.8-1.5-4.3-1.4-8.1-1-2.4,0.1-3.4,0.9-2.3,1.4-2.5,4.2-0.6,0.3-5.9,0.7-4.1,0.1-1.3,0.2-1.8,1.2-1.4,2.3 0.1,1.5 1.6,2.9zM118.9,150l19.8,0.3 19.5-0.3 4.7-1.4 2.8-1.5 3.2-7.9-0.4-0.8-1.3-0.4-3.4,0.1-11,1.9-20.4,1-1.9,0.4-3.7,1.6-1.9,0 0.5-0.9-0.8-0.8-0.4-0.3-1.4,0.2 1-1.3 1.2-2.5 1.7-1.5 2.4-1.2 4.4-3.2 1.4-1.5-2.3,1 0.7-1 6.3-6.9-2,0.8-6.4,4.1-10.1,5-2.3,1.5-0.9,2.2 0,1.5 1.4,4.5 0.5,0.3-1,1.9-3.3,3.8 0.1,0.6zM183.2,140.1l0.3,0.5 1.8-0.5 5.3-2.6 0.8-0.8-0.3-0.8 4.5-3.1-1.3-0.5-3,0.4-6.4,1.8-0.9,1.4 0.3,2-0.5,0.8-0.1,1zM-289.5,41.1l0.3,1 2.9-1 2.5-1.9 1.3-1.9 1.2-3.7-0.2-5.6-0.9-3.7-1.4-3.8-3.8-7.4-2.7-3.8-1.9-1.8-3.4-2 0.7,9.4 1.3,9.4zM281.7,41.1l4.3,1.1 3.2-0.1 2.8-10.4 1.6-7.4 1.3-9.4 0.7-9.4-3.2-0.9-3.3,0.1-3.2,0.9-1.9,1.7-3,9.5-4.7,9.3-1.1,3.8-0.1,1.8 0.8,3.8 1,1.8 1.8,1.9zM-262.4,22.4l1.2,0.5 0.6-0.5-0.8-1.2zM-268.4,14.9l1.5,0.9 1.2-0.9-0.8-1.8-0.3-1.9-2.3-1.9-1.2-1.8-0.5-1.9 1.4-1.6 1.6,0.1 1.8-0.4 0.1-1.8-0.3-0.7-1.7-0.9-1.4,1.6-0.2,0.8-1.6,0.8-2.2,0.2-1,1.9 1.6,5.6 0.5,0.7 2.6,1.2zM-276.3,-1.9l0.6,0 1.1-1.8-0.3-1.9 2.4-2.1 5-2.1 1.7,0.3 1.5,2.1 3.3-0.8 1.8-1.1 0.6-1.9-0.5-0.2-1-1.7-0.5-0.4-1.4-3.3-0.3-1.9 0.9-2.5 1.7-0.3 1.5,0.6 3.2,0.5 1.5,1.7 1.9,5.6-0.8,3.8 0.6,1.8 1.2,1.9 2.5,1.3 1.7,0 1.7-1 1.7-2.4 1.7-1.1 1.8-0.5 1.6-1.2 0.1-0.9-3.2-1.1-0.5-0.6-0.5-1.8 0.2-1.9-0.4-0.9-2.8-2.8 1.8-2.4 2.9,2.8 4.1,1.4 1.3,1.9 0.1,1.9 1.5,1.8 2.1,1.6 1.8,0.3 1.9,1.9-0.6,0.7-1.7,0.6-0.4,0.5 0.8,1.9 2.7,2 1-2-0.1-1.9 2-3.7 0.3-1.9 0.6-0.8 1.9-1 0.8-1.9-2.3-2-2.8-3.8-3.2-0.7-3-1.6-5,0.4-2.9-2-1.6-0.4-1.7,0.5-3.3,0.2-3.4,1.2-1.7,0.3-1.7,0.2-3.1-0.6-5.2,1.6-5,0.6-1.6-0.2-1.5-0.7-1.4-1.6-1.5-0.3-1.7,0.3-2.7,1.1-2.1,1.9-1,1.9 1.5,2.2 0.5,1.5-1.3,1.9-0.8,1.8 2.1,5.6 0.2,3.8zM-292,-14.9l2,0.4 3.3,0 1.2-0.4-0.2-1.9-2.1-2.4-1.6-0.6-1.6,0-1.1,1.1-0.4,1.9zM-32.4,-14.9l6.2,1.4 8.2,0.2 4.9-0.5 6.5-1.1 3.9-1.9-1.8-1.9-2-0.3-6.6-0.8-8.2,0-8.7,1.1-3.5,1.9zM46.7,-22.4l3.9,0.9 5,0.6 11.4,0.3 11.4-0.8 11.4-1.9 10-2.8 4.5-1.9 3.5-1.9 2.5-1.8 1.7-1.9 0.8-1.9 0-1.8-1.1-1.9-2.5-1.9-4.8-1.7-3.3-0.5-4.8-0.4-6.4,0.2-11.1,1.7-7.9,2.2-6.2,2.3-8,3.7-6.5,3.7-4.8,3.8-0.9,1.8zM-170.4,-33.6l0.2,0.7 1.6,0.6 1.7-0.6 0.7-0.7 1.5-3.7 0.9-3.8 0.7-1.8-1.5-4.2-0.9-1.4-0.4-1.9 1.4-1.9 1.3-0.8 2.9,1 3.3-0.5 1.5,0.3 2.8,1.4 1.7-0.3 1.9-1.5 0.9-1.4 0.3-1.9-0.2-1.9-2.3-2-2.8-5.8-3.7-2.7-2.6-1.2-1.2,0.6-3.8,4.4-1.8,0.9-1.4-0.5-0.9-1.1 0.9-1.9 4.1-1.8 2.8-1.9-0.6-1.9-1.5-1.8-0.5-0.3-2.2,0.3-3.1,1.8-2,1.9-0.9,1.9-3.1,2.8-1.8,0.6-1.4-0.3-2.5-1.6-3,0-0.6-2.4-0.8-1.5-1.6,0.2-1.4-0.4-1-1-1.4-0.2-6.1,7.5-1.4,3.7-3.4,3.7-1.7,3.8 0.7,1.8 1.7,1.5 1.5,0.5 0.6-0.1 1.1-0.6 1-1.3-0.1-1.8 0.8-2.3 2-1.1 1.3,0.7 0.6,0.8 0.2,1.9-0.9,1.8-0.3,2.1 1.4,0.8 3.1,0.1 3.1,0.5 3.3-0.4 2.8,1.8 3,0.8 1.1,1.8-0.2,3.7 1.6,1.9 0.7,1.8zM-208.1,-35.5l1,1 1.5,0.3 5.7-1.3 1.2-0.8 2.1-2.7 1-2.1-0.1-1.8-3-2-4.8-0.1-1.6,0.4-2.5,1.7-1.1,1.8 0,3.8zM122.1,-39.2l0.4,0.4 1.6,0.1 0.6-0.5-0.7-0.9-1.6,0.5zM-216.7,-41.1l1.1,0.5 0.6-0.5 1.2-3.7 2.8-3.7 0.7-1.9-0.3-3.7 2.2-3.8 1.5-7.4-0.9-2.9-1.2-0.7-1.6,0.1-2.1,1.6 0,1.9-0.5,1.8-1.6,1.9-0.7,1.9 1.1,3.7-0.2,5.6-2.1,3.7-0.1,1.9-0.6,1.9 0.3,1.5zM-135.7,-46.7l1.1,1.7 1.8-1.2 0.3-0.5 0.2-2.6-2.1,0.8zM119.6,-52.3l1.2,0.9 0.6-0.9 0.3-1.8-1.8-1.6-0.6,1.6zM-118.8,-56l0.4,0.3 1.6-0.2 0.2-2-3.6-4-0.7,0.3-0.8,1.9 0.6,1.8zM-135.6,-57.9l1.5,0 0.6-0.5 0.6-1.3-1.3-2-1.9,1.1-0.6,0.9zM122,-59.7l0.4,0.5 1.7,0.8 4.4-1.3-1.1-1.9-5.4-3.7-1.6-1.9-0.7-3.7 1.1-3.7-1.7-1.8-5.2,2.8-3.4,0.8-1.8,1.9 0.1,0.7-1.7-0.6-2.9,0.8-1-0.9-1.7-3.7-1.7,0-1.1,1.8 0.3,3.8 1.1,1.1 1.5-0.3 1.6,0.3 0.5,0.7 1.3,0.5 1.7,0.4 1.5,0 0.9-0.9 0.1-1.3 2.5,3.8 3.2,0.3 1.9,1.5 1.7,0.8 1.7,0.4zM-145.6,-69l0.8,1 1.5,0.3 6.3-0.5 2.6-3.2 1.9-1 1.9-0.4 0.6-1.8 0.2-1.9-0.7-1.6-1.2-0.6-2.9-0.2-8.1,2.4-1.3,1.9 0.1,1.8zM-123.3,-74.6l0.5,0.2 3.3-0.5 2.3-1.6-0.6-1.8-3.8-3.5-1.3-0.3-0.9,1.9-0.6,3.7 0.4,1.5zM123.2,-83.8l0.6,0.2 1-0.2-0.1-1.9-0.7,0-0.7,0.9zM40.8,-114l0.5,0.5 1.4,0.4 1.2-0.9 0.1-3.3 1.2-3.3-0.3-1.6-1.2-0.9-1.3-0.4-2.4,0.1-0.9,1.2 1.2,4.9 0,1.7zM58.2,-117.3l1.2,0.4 1.2-0.1 0.3-0.3 0.1-1.6-1.5-1.2-1.1,0.4-0.6,0.8zM12.5,-118.9l1.3,1.2 2.6,0.2 1.1-0.9 1-2.1 2.4-0.7 1.1-0.8-0.4-1.8-1.1-1.6 0.5-1.5 1.3-0.8 3.5-0.3 1-0.8 2.2-0.5 3.6,0.7 2.3-0.2 9.4,0.3 1.1-0.3 3.4-2.9 2.7-1.5 11.3-3.3 3.9-0.6 1.3-1.1 11.3-0.4 8.4-1 0.4-0.6-0.9-1.2-0.1-0.6 0.4-1.3 2.9-0.1 1-1.4 0.6-0.3 6.3-0.3 0.8-0.7 1.5-0.3 2.2,0.2 3.3,0.8 6,0.2 4.2,0.7 1.4-0.8 9.1,0.2 4.2-0.3 0.9-0.9 11.4,0 8.5,1.1 5.8,1.2 5.8,0.4 3.5,1 2,2.5 9.6,5.6 2.4,2.3 0.2,0.7 1.5,1.5 3.8,3.1 3,3.1 6.1,1.6 0.6-1.3 1-0.3-0.7-1.6-3.2-3.1-2.5-3-0.9-1.5-0.3-1.3 0.7-0.8 1.1-0.5 4.4-0.5-15-6.5-16.6-6-4.2-1.3-10.3-0.6-264.9,0-16.8,0.9-13.4,0.3-14.4-0.6-9.4,3-8.4,3.1-18,7.7 31.2,0.8 23.9,0.1 3.8-0.3 8.7-1.5 0.9,0.1-0.1,1.6 0.9,0.1 20.9,0 2.6-0.3 3.2-0.9 5.5-0.2 4.2-0.9 4.5-0.1 2.9-0.9 3.4-0.2 0.8,0.2 1.3,0.9 3.7,0.8 0.8,1.8 13.9,0.6 20.4,1.8 1,0.2 1.9,1.3 5.5,0.8 7.5,2.9 7,0.9 1.2-0.1 1.3-0.8 1.1,0 2.3,0.9 7.1,0.5 1.2,0.5 1.2,0.9 2.4,0.7 1.2,0.9 7.5,1.9 0.8,0.5zM-203.9,-120.6l3,1.6 1.6-0.3 2.6-1.3 2-1.6 0.9-1.6-0.4-0.3-1.3,0.1-4.3,1.3-1.4,0.5zM-185.5,-120.6l1.1,0.3 4.8-1.9 1.6-1.6-1-1.8-0.6-0.4-1.1-0.1-2.2,0.7-3.3,3.2zM-145.5,-123.8l0,0.5 1.3-0.1 0.5-0.4-0.9-0.4zM-116.9,-123.8l0.5,0.5 1.4-0.3 2.3-1.3 2.5-0.1 3.3,0.3 1.2-0.7-0.4-0.3 0-1.2-1.3-1.6-2.2-0.1-1.4,0.3-5.3,2.9zM-106.7,-123.8l1.3,0.3 0.9-0.3-1.3-0.7zM149.6,-131.5l0.8,0.1 0.4-0.5 0-1.6 0.3-1-0.3-0.5 0.7-0.9-2.9-1.1-1,0-0.8,0.9-0.2,1.3-0.5,0.3 0.3,1.1-0.6,0.4z" fill="#50c3f0"/><path d="M-155.7,150l16.8,0 14.1-0.7 0.4-0.5-1.8-1.9-2-3.6-0.5-1.3 0.2-0.5 1.5-1 6.8-0.3 1.5-0.3 1.1-0.7 1.5-3.3-0.1-0.5 0.5-0.5 1.4-0.7 5.4-0.2 0.4-4.2 1.3-2.9-0.3-1.5-3.6,0-3.2,1.5-1.4,1.6-0.7,1.5-0.1,2.2-0.8,0.8 0.1,0.5-0.8,0.4-0.9,0.2-2.6-0.4-5.3-1.6-5.3,0.3-4.9-1.3-2.2,0.1-1.2,0.3-0.9,1.5 1.7,2.9 0.4,1.6 0.1,2-0.7,1.4-1.3,0.9-2.9,1.1-17.8,4.3-2.3-0.3-1.8-1-6.6-2.1-2.5-1.2-0.3-1.2 0.9-1.3 3.7-3.4 1.1-1.8 0.6-1.9-0.3-1.5-1.4-1.5-2.9-1.5-5.3-0.3-1.9,0.3-3.9,1.3-9.1,0.1-5.3,1-2.1,0.7 0,0.6 3.4,2.3 11.3,5.3 18.7,7.1 7.7,2.4zM-115.7,150l5.5,0 2.7-0.7 1.5-5.5-0.5-2.4-1.2-0.4-1.8,0.2-3.7,1-1.6,0.8-2.5,3.9-2.9,2.4zM131.9,150l17.8,0 9.5-0.7 1.3-0.7 1.4-1.7 0.8-2 0.3-2.4-0.5-1.2-2.5-0.8-3.7,0.9-2.8,1.3-3.9-1.1-3.5-0.3-2.4,0.2-5,1-4.3,0.2-3.1,1.1-2.2,2.1-2.1,1-4.5,0.9-1.2,0.8 0.1,0.7 0.6,0.1zM-55.5,149.3l4.4,0.2 4.8-0.7 3.1,0.5 2.2,0 1.8-0.7-0.8-1.1-4.4-3.7-1.5,0-1.1,0.6-1.2-0.3-2-1.5-0.9-1.2-1.1-2.7-1.4-1.2-1,1.2-0.5,1.4 0,2.5-1,6zM-30.7,149.3l4,0.4 8.8-0.1 6.4,0.4 8.3-0.7 2.3-2.1 0.9-0.2 2.8,0.8 1.8-0.2 2.1-1.7 0.8-1 0-1.1-1.8-1.2-8.8-2.3-2.1,0-4,1-0.7,2-1.4-2.5-1.1-0.3-1.8,1.3-2.1-3.1-1.5-4.5-4.6-0.9-1,0.3-0.9,0.8-2.2,4-3,3-0.7,4.5-0.9,2.7zM32.4,149.3l2.3,0.5 6-0.8 5.7,0.6 6.5-0.3 2.3-0.7 0.4-0.8 0-0.9-1.3-4.4-0.9-1.6-1.3-1.1-2.4-1.1-5.3-0.1-2.4,0.6-1.7,0.9-1.3,1.3-0.6,1.2-0.7,3.3-3.4,1.8zM75,148.6l4,0.2 1.9-0.2-0.3-0.8-1.2-0.9-3.8-1.1-1,0.1-0.5,1zM86.9,148.6l1,0.3 2-0.1 3.4-1.4 5.8-1.5 1.5-1 1.2-2.3 0.1-1.8-0.5-1.3-1.5-1.3-5.6-2.8-2.1-0.2-2.7,0.7-1.3,1.5-0.6,1.3-0.2,3 0.6,4.2zM-86.9,141.4l1.2,0 4.1-1.9 0.9-1.3 0.5-1.7 0-2-0.5-1.5-0.9-1-1.4-0.4-1.9,1.4-2.3,2.9-0.7,2.8 0.1,1.4zM-69.5,138.7l1.8,1.1 0.8-0.2 3-1.7 1.2-1.2 1-1.9 0.8-3.3-0.7-1.5-2.6-1.6-1.3-0.3-0.9,0.6-1,2.8-2.2,4.4zM-291.5,33.6l0.3,1.1 1.4-0.8 1.2-1.8 0.4-2.2-0.2-1.9-0.6-1.9-1.4-2.5-2-2-1.8-0.9zM284.4,33.6l1.9,1.3 1.6,0.3 1.6,0 1.7-0.5 1.6-6.7 1.4-7.3-1.6-0.4-1.7,0.3-1.7,0.8-1.9,1.3-2,2.1-1.8,3.2-0.4,1.9 0.2,1.8zM-275.8,-13.1l0.4,0.5 1.6,0.2 1.7-0.8 1.6,0.8 1.6-0.1 3.4-1.5 1.1-0.9-0.5-1.9-1.7-1.9-1.6-0.5-1.7,0.5-1.6-0.1-1-1.7-0.2-1.4-1.8,0.9 0,4.2zM-229.7,-14.9l0.3,0.2 2.1-0.2 1.6-1.9-0.1-1.5-1.6-0.5-1.7,1.3-0.5,0.7zM67.7,-28l3.9,1.2 5,0.4 4.8-0.2 6.5-1 6.3-1.9 4.3-2.2 2-1.9 0.5-1.9-1.1-1.8-4.8-1.7-6.5-0.2-6.4,0.9-6.3,1.8-2.7,1-3.3,1.9-2.3,1.9-0.9,1.8zM-205.1,-37.3l1.8-0.2 2.6-1.7 0.2-1.9-1.8-1.7-1.8-0.1-1.6,0.8-0.8,1-0.2,1.9 0.3,0.9zM-171.1,-39.2l1.7,1.4 1.7-0.3 0.3-1.1 0.2-2.3-1.2-2.2-1.5-0.9-1.6,0.1-1.9,1.6 0.3,1.8 0.8,1.1zM-161.1,-57.9l0.6,0.6 1.5,0.3 1.3-0.9-0.1-1.8-1.7-1-1.8,0.5-0.4,0.5zM-169.6,-59.7l0.3,0.2 2.1-0.2-2-0.2zM3.5,-125.4l4.9,1.2 4.9,0.3 2.4-0.4 3.1-2.6 2.1-2.5 3-0.6 1.3-1.5 0.2-1.5-2-4.4 0-1.3 0.9-1.4 2.6-1.3 3.4-0.8 5.6-0.9 26.2-2.8 5.2-1 2.5-0.9 0.1-0.8-2.6-0.8-9.5-1.1-81,0-9,0.9-17.5,2.5-19.1,1.1-28.9,0.8-44.9,0.2-20.2,0.8-17.2,1.6-5,1.7 0.8,0.8 8.3,1.4 20.2,0.9 21.5-0.2 8.3-0.5 3.8,0.3 29.2-0.6 9.1-0.6 3.8-0.6 10.6,0.9 21.2-0.3 11.4,0.4 7,0.9 3.9,1.3 1.6,0.9 1.1,1.1 2.1,3.3 1.5,1.5 3.3,1.2 1.1,0.2 2.5-0.7 1.1,0.1 2.2,1.1 7.1,0.5zM182.3,-141.4l0.8,0.2 1.9,0.3-3.3-1.3z" fill="#0ac3fa"/><path d="M-153.5,149.3l9,0.4 7.3-0.3 0.9-0.1 1.1-0.7 0.1-0.8-0.4-0.9-1.4-1-4.9-1-3.7,0.9-7.8,2.8zM-115.1,149.3l4.5,0 0.4-0.7-0.4-0.8-1.4-0.5-0.7,0.1-1.2,0.4-1.1,0.8zM-12.2,149.3l1.4,0 1.1-0.7-2.1-2.7-0.7-0.4-1.9,0-0.7,1.4 0.5,1.7zM133.2,149.3l6.2,0.3 8.6-0.2 1.5-0.1 0.3-0.7-1.3-1.3-1.5-2.6-1.4-0.9-1.1-0.2-1.5,0.2-8.3,3.1-1.9,1.7zM-188.1,138.7l2.8,0.7-0.3-0.7 0-3.5-0.5-1.4-0.4-0.8-2.2-1.5-2.9-0.3-2,0.2-0.9,0.1-3,1.5-0.2,0.5 0.7,1zM-180,137.4l2.6,0.3 1.9-0.3 0.4-0.7 1.4-0.8 1-1.4 0.5-1.5-0.4-1.5-1.5-1.5-1.7-0.4-2.3,0-1.7,0.4-0.9,1.5-0.2,2 0,1.9z" fill="#14aaf8"/>
<use href="#grid"/><use href="#coast"/><use href="#lakes"/>
<path d="M-123.1-75.3h0m9.5,0h0m9.6,0h0m-71.5,4.8h0m9.5,0h0m28.6,0h0m9.6,0h0m9.5,0h0m9.5,0h0m9.6,0h0m-81.1,4.7h0m9.6,0h0m19,0h0m9.6,0h0m9.5,0h0m19,0h0m247.8,0h0m9.6,0h0m-328.8,4.7h0m9.5,0h0m38.1,0h0m9.6,0h0m9.5,0h0m28.6,0h0m209.6,0h0m19.1,0h0m9.5,0h0m-328.8,4.7h0m38.2,0h0m19,0h0m9.5,0h0m9.6,0h0m9.5,0h0m-61.9,4.7h0m19,0h0m9.6,0h0m38.1,0h0m-52.4,4.8h0m19,0h0m19.1,0h0m219.2,0h0m9.5,0h0m-338.3,4.7h0m57.2,0h0m9.5,0h0m9.5,0h0m9.6,0h0m9.5,0h0m171.5,0h0m47.7,0h0m9.5,0h0m19.1,0h0m-347.9,4.7h0m76.3,0h0m9.5,0h0m171.5,0h0m9.6,0h0m9.5,0h0m38.1,0h0m9.5,0h0m9.6,0h0m9.5,0h0m9.5,0h0m-357.3,4.7h0m9.5,0h0m257.3,0h0m9.5,0h0m9.6,0h0m9.5,0h0m9.5,0h0m9.6,0h0m9.5,0h0m9.5,0h0m9.5,0h0m9.6,0h0m-100.1,4.7h0m9.5,0h0m9.6,0h0m9.5,0h0m9.5,0h0m9.5,0h0m9.6,0h0m9.5,0h0m9.5,0h0m9.6,0h0m142.9,0h0m9.5,0h0m-528.9,4.8h0m9.6,0h0m9.5,0h0m9.5,0h0m238.3,0h0m9.5,0h0m9.5,0h0m9.6,0h0m9.5,0h0m9.5,0h0m9.6,0h0m9.5,0h0m9.5,0h0m9.6,0h0m9.5,0h0m9.5,0h0m9.5,0h0m123.9,0h0m19.1,0h0m9.5,0h0m9.6,0h0m-567.1,4.7h0m9.5,0h0m9.6,0h0m9.5,0h0m9.5,0h0m19.1,0h0m228.7,0h0m9.5,0h0m9.6,0h0m9.5,0h0m9.5,0h0m9.6,0h0m9.5,0h0m9.5,0h0m9.5,0h0m9.6,0h0m9.5,0h0m152.5,0h0m9.5,0h0m9.5,0h0m9.6,0h0m9.5,0h0m-576.5,4.7h0m9.5,0h0m19,0h0m9.6,0h0m9.5,0h0m9.5,0h0m9.6,0h0m9.5,0h0m209.6,0h0m9.6,0h0m9.5,0h0m9.5,0h0m9.6,0h0m9.5,0h0m9.5,0h0m9.6,0h0m200.1,0h0m9.5,0h0m-557.5,4.7h0m38.1,0h0m9.6,0h0m9.5,0h0m9.5,0h0m266.9,0h0m-309.8,4.7h0m19.1,0h0m9.5,0h0m-33.3,14.2h0m114.3,0h0m9.6,0h0m9.5,0h0m9.5,0h0m9.5,0h0m9.6,0h0m162,0h0m9.5,0h0m9.5,0h0m9.6,0h0m9.5,0h0m-366.9,4.7h0m9.5,0h0m133.5,0h0m9.5,0h0m9.5,0h0m162,0h0m9.6,0h0m9.5,0h0m9.5,0h0m9.6,0h0m9.5,0h0m9.5,0h0m9.5,0h0m9.6,0h0m9.5,0h0m-414.6,4.7h0m9.6,0h0m9.5,0h0m333.5,0h0m9.6,0h0m9.5,0h0m9.5,0h0m9.6,0h0m9.5,0h0m9.5,0h0m9.6,0h0m9.5,0h0m95.3,0h0m9.5,0h0m9.5,0h0m9.6,0h0m9.5,0h0m-557.5,4.8h0m19.1,0h0m343.1,0h0m9.5,0h0m9.5,0h0m9.5,0h0m9.6,0h0m9.5,0h0m9.5,0h0m9.6,0h0m9.5,0h0m9.5,0h0m9.5,0h0m47.7,0h0m9.5,0h0m9.6,0h0m9.5,0h0m9.5,0h0m9.6,0h0m9.5,0h0m-567.1,4.7h0m9.6,0h0m9.5,0h0m9.5,0h0m352.6,0h0m9.6,0h0m9.5,0h0m9.5,0h0m9.6,0h0m9.5,0h0m9.5,0h0m9.5,0h0m9.6,0h0m66.7,0h0m9.5,0h0m9.5,0h0m9.6,0h0m9.5,0h0m-567,4.7h0m9.5,0h0m19.1,0h0m419.3,0h0m9.5,0h0m-433.6,4.7h0m9.5,0h0m419.3,0h0m9.6,0h0m-452.7,4.7h0m9.5,0h0m-4.7,4.8h0m9.5,0h0m9.5,0h0m114.4,0h0m314.5,0h0m-452.7,4.7h0m9.5,0h0m-4.7,4.7h0m9.5,0h0m9.5,0h0m23.9,23.6h0m9.5,0h0m162,0h0m-176.3,4.7h0m9.5,0h0m9.5,0h0m390.8,0h0m-395.5,4.7h0m295.4,9.5h0m123.9,0h0m9.5,0h0m-147.7,4.7h0m9.5,0h0m9.6,0h0m9.5,0h0m9.5,0h0m9.6,0h0m-338.3,4.7h0m247.7,0h0m9.6,0h0m28.6,0h0m9.5,0h0m9.5,0h0m9.6,0h0m9.5,0h0m9.5,0h0m9.5,0h0m9.6,0h0m-109.6,4.7h0m9.5,0h0m9.5,0h0m9.6,0h0m9.5,0h0m9.5,0h0m9.5,0h0m9.6,0h0m9.5,0h0m9.5,0h0m9.6,0h0m9.5,0h0m-281.1,4.8h0m9.5,0h0m9.5,0h0m28.6,0h0m9.6,0h0m9.5,0h0m9.5,0h0m9.5,0h0m9.6,0h0m9.5,0h0m9.5,0h0m9.6,0h0m47.6,0h0m9.5,0h0m9.6,0h0m9.5,0h0m9.5,0h0m9.6,0h0m9.5,0h0m9.5,0h0m9.6,0h0m9.5,0h0m9.5,0h0m9.5,0h0m9.6,0h0m-319.3,4.7h0m28.6,0h0m9.5,0h0m9.6,0h0m9.5,0h0m9.5,0h0m9.5,0h0m9.6,0h0m9.5,0h0m9.5,0h0m9.6,0h0m9.5,0h0m9.5,0h0m9.5,0h0m9.6,0h0m9.5,0h0m9.5,0h0m38.2,0h0m9.5,0h0m9.5,0h0m9.6,0h0m9.5,0h0m9.5,0h0m9.5,0h0m9.6,0h0m9.5,0h0m9.5,0h0m9.6,0h0m9.5,0h0m-309.7,4.7h0m9.5,0h0m9.5,0h0m9.6,0h0m9.5,0h0m9.5,0h0m9.6,0h0m9.5,0h0m9.5,0h0m9.6,0h0m9.5,0h0m9.5,0h0m9.5,0h0m9.6,0h0m9.5,0h0m9.5,0h0m9.6,0h0m9.5,0h0m9.5,0h0m9.5,0h0m9.6,0h0m9.5,0h0m9.5,0h0m9.6,0h0m9.5,0h0m9.5,0h0m9.6,0h0m9.5,0h0m9.5,0h0m9.6,0h0m9.5,0h0m9.5,0h0m9.5,0h0m9.6,0h0m57.1,0h0m9.6,0h0m-376.5,4.7h0m9.6,0h0m9.5,0h0m9.5,0h0m9.6,0h0m9.5,0h0m9.5,0h0m9.5,0h0m9.6,0h0m9.5,0h0m9.5,0h0m9.6,0h0m9.5,0h0m9.5,0h0m9.5,0h0m9.6,0h0m9.5,0h0m9.5,0h0m9.6,0h0m9.5,0h0m9.5,0h0m9.6,0h0m9.5,0h0m38.1,0h0m9.5,0h0m28.6,0h0m9.6,0h0m66.7,0h0m9.5,0h0m9.5,0h0m-385.9,4.7h0m9.5,0h0m9.5,0h0m9.6,0h0m9.5,0h0m9.5,0h0m9.6,0h0m9.5,0h0m9.5,0h0m9.6,0h0m9.5,0h0m9.5,0h0m9.5,0h0m9.6,0h0m9.5,0h0m9.5,0h0m9.6,0h0m9.5,0h0m38.1,0h0m9.5,0h0m152.5,0h0m9.5,0h0m-328.7,4.8h0m9.5,0h0m9.5,0h0m9.5,0h0m9.6,0h0m9.5,0h0m9.5,0h0m38.1,0h0m9.6,0h0m9.5,0h0m9.5,0h0m-14.2,4.7h0m9.5,0h0" stroke="#000" stroke-width="2.2" stroke-linecap="round" fill="none"/>
</g><use href="#outl"/></g>
<text x="1046.3" y="820.4" font-size="13.8" text-anchor="middle" xml:space="preserve">TREFHT: CESM3dev_235pi: Change vs CESM2_1 GM=-0.48</text>
<rect x="784.4" y="1148.3" width="23.81" height="8.6" fill="#0a0aff" stroke="#000" stroke-width="1.2"/><rect x="808.21" y="1148.3" width="23.81" height="8.6" fill="#1e3cf5" stroke="#000" stroke-width="1.2"/><rect x="832.02" y="1148.3" width="23.81" height="8.6" fill="#3250eb" stroke="#000" stroke-width="1.2"/><rect x="855.83" y="1148.3" width="23.81" height="8.6" fill="#3c6ee1" stroke="#000" stroke-width="1.2"/><rect x="879.64" y="1148.3" width="23.81" height="8.6" fill="#2d82eb" stroke="#000" stroke-width="1.2"/><rect x="903.45" y="1148.3" width="23.81" height="8.6" fill="#1e96f5" stroke="#000" stroke-width="1.2"/><rect x="927.26" y="1148.3" width="23.81" height="8.6" fill="#14aaf8" stroke="#000" stroke-width="1.2"/><rect x="951.07" y="1148.3" width="23.81" height="8.6" fill="#0ac3fa" stroke="#000" stroke-width="1.2"/><rect x="974.88" y="1148.3" width="23.81" height="8.6" fill="#50c3f0" stroke="#000" stroke-width="1.2"/><rect x="998.69" y="1148.3" width="23.81" height="8.6" fill="#8ccdf0" stroke="#000" stroke-width="1.2"/><rect x="1022.5" y="1148.3" width="23.81" height="8.6" fill="#ffffff" stroke="#000" stroke-width="1.2"/><rect x="1046.31" y="1148.3" width="23.81" height="8.6" fill="#ffffff" stroke="#000" stroke-width="1.2"/><rect x="1070.12" y="1148.3" width="23.81" height="8.6" fill="#fff58c" stroke="#000" stroke-width="1.2"/><rect x="1093.93" y="1148.3" width="23.81" height="8.6" fill="#ffe650" stroke="#000" stroke-width="1.2"/><rect x="1117.74" y="1148.3" width="23.81" height="8.6" fill="#ffcd1e" stroke="#000" stroke-width="1.2"/><rect x="1141.55" y="1148.3" width="23.81" height="8.6" fill="#ffb40a" stroke="#000" stroke-width="1.2"/><rect x="1165.36" y="1148.3" width="23.81" height="8.6" fill="#ff9600" stroke="#000" stroke-width="1.2"/><rect x="1189.17" y="1148.3" width="23.81" height="8.6" fill="#ff7d00" stroke="#000" stroke-width="1.2"/><rect x="1212.98" y="1148.3" width="23.81" height="8.6" fill="#ff5500" stroke="#000" stroke-width="1.2"/><rect x="1236.79" y="1148.3" width="23.81" height="8.6" fill="#ff1e0a" stroke="#000" stroke-width="1.2"/><rect x="1260.6" y="1148.3" width="23.81" height="8.6" fill="#f00000" stroke="#000" stroke-width="1.2"/><rect x="1284.41" y="1148.3" width="23.81" height="8.6" fill="#d20000" stroke="#000" stroke-width="1.2"/><text transform="translate(808.21,1180.4) scale(1,1.075)" font-size="21" text-anchor="middle">-10</text><text transform="translate(855.83,1180.4) scale(1,1.075)" font-size="21" text-anchor="middle">-8</text><text transform="translate(903.45,1180.4) scale(1,1.075)" font-size="21" text-anchor="middle">-6</text><text transform="translate(951.07,1180.4) scale(1,1.075)" font-size="21" text-anchor="middle">-4</text><text transform="translate(998.69,1180.4) scale(1,1.075)" font-size="21" text-anchor="middle">-2</text><text transform="translate(1046.31,1180.4) scale(1,1.075)" font-size="21" text-anchor="middle">0</text><text transform="translate(1093.93,1180.4) scale(1,1.075)" font-size="21" text-anchor="middle">2</text><text transform="translate(1141.55,1180.4) scale(1,1.075)" font-size="21" text-anchor="middle">4</text><text transform="translate(1189.17,1180.4) scale(1,1.075)" font-size="21" text-anchor="middle">6</text><text transform="translate(1236.79,1180.4) scale(1,1.075)" font-size="21" text-anchor="middle">8</text><text transform="translate(1284.41,1180.4) scale(1,1.075)" font-size="21" text-anchor="middle">10</text>
<path d="M1413.3,828.4V1128.8" stroke="#000" stroke-width="1" fill="none"/><path d="M1342.1,828.4H1442.4V1128.8H1342.1M1361.5,829.4v-10.4M1361.5,1127.8v10.6M1387.4,829.4v-10.4M1387.4,1127.8v10.6M1413.3,829.4v-10.4M1413.3,1127.8v10.6M1439.2,829.4v-10.4M1439.2,1127.8v10.6M1441.4,867.44h10.4M1441.4,922.01h10.4M1441.4,978h10.4M1441.4,1033.99h10.4M1441.4,1088.56h10.4" stroke="#000" stroke-width="2" fill="none" stroke-linecap="butt"/><text x="1460" y="872.74" font-size="14.5">60N</text><text x="1460" y="927.31" font-size="14.5">30N</text><text x="1460" y="983.3" font-size="14.5">0</text><text x="1460" y="1039.29" font-size="14.5">30S</text><text x="1460" y="1093.86" font-size="14.5">60S</text><text x="1361.5" y="1154.6" font-size="12" text-anchor="middle">-4.0</text><text x="1413.3" y="1154.6" font-size="12" text-anchor="middle">0.0</text><text x="1392.25" y="817.4" font-size="9" text-anchor="middle">K</text>
<path d="M1401.6,833.5 1399,833.6 1397,833.7 1396.1,833.9 1394.7,834.2 1393.7,834.6 1392.9,835.1 1392.3,835.6 1391.6,836.1 1391.7,836.8 1392.2,838 1392.3,839.3 1392.3,840.7 1392.4,841.8 1392.2,842.9 1391.3,844 1390.4,845.1 1389.4,846.1 1389.1,847.1 1388.4,848.2 1387.5,849.2 1386.9,850.1 1386.6,851.1 1386.8,851.9 1386.8,852.8 1387.3,853.6 1387.9,854.3 1388.8,855.1 1389.8,855.9 1390.8,856.6 1392.5,857.3 1393.8,858 1394.7,858.7 1395.7,859.4 1396.8,860.1 1398.2,860.8 1399.5,861.4 1400.3,862 1401,862.6 1402.3,863.2 1403.4,863.7 1404.3,864.3 1405.5,864.9 1406.9,865.5 1408.1,866.1 1409.1,866.7 1410,867.4 1410.6,868.1 1411.5,868.9 1412.7,869.7 1413.3,870.7 1414,871.8 1414.6,872.9 1415.3,874.1 1415.9,875.2 1416,876.2 1415.7,877.2 1415.4,878.1 1414.5,879 1413.1,879.8 1412,880.7 1411.1,881.5 1410.1,882.4 1408.9,883.3 1408.4,884.3 1408.2,885.3 1407.7,886.4 1406.4,887.5 1405.6,888.7 1405.5,889.8 1405,890.9 1404.7,892.1 1405,893.3 1404.7,894.5 1403.9,895.7 1403.8,896.9 1403.6,898.1 1403.1,899.1 1402.4,900 1401.4,900.9 1400.6,901.6 1399,902.3 1397.4,903.1 1397.1,903.8 1397,904.7 1396.4,905.6 1395.9,906.7 1395.8,907.9 1395.6,909.1 1395.5,910.4 1396,911.7 1396,913 1395.9,914.2 1395.9,915.4 1395.8,916.6 1396.2,917.8 1396,919 1395.8,920.2 1396.2,921.4 1396.5,922.6 1397.1,923.8 1397.4,925 1397,926.2 1397,927.4 1397.5,928.5 1397.7,929.7 1398.7,930.8 1399.1,931.9 1399.2,933.1 1399.7,934.2 1400.3,935.3 1401,936.4 1401.2,937.6 1401.6,938.8 1402.3,940 1402.6,941.2 1402.5,942.3 1402.4,943.2 1402.4,944 1401.9,944.7 1400.4,945.4 1399.2,946.1 1398.6,946.7 1397.4,947.4 1395.8,948.1 1394.8,948.8 1393.6,949.5 1392.3,950.3 1391,951.1 1389.9,951.9 1388.5,952.7 1388.2,953.5 1388.4,954.3 1387.9,955.1 1388,955.9 1388.4,956.8 1389.5,957.6 1390.6,958.5 1391.6,959.4 1392.5,960.2 1393.6,961.1 1395.3,962 1396.1,962.8 1396.7,963.7 1397.7,964.5 1398.7,965.3 1399.8,966.1 1400.6,966.9 1401.1,967.8 1402,968.6 1403,969.5 1403.5,970.4 1404.3,971.3 1405.1,972.3 1405.4,973.4 1405.7,974.5 1407,975.6 1407.6,976.8 1407.5,977.9 1408.3,979.1 1408.7,980.2 1408.2,981.3 1408.3,982.4 1408.8,983.6 1409.4,984.8 1410.2,986 1409.9,987.2 1410.2,988.4 1410.5,989.6 1410.5,990.9 1410.9,992 1411,993.2 1410.9,994.3 1410.7,995.5 1410.1,996.6 1409.6,997.7 1409.4,998.9 1408.8,999.9 1408.4,1001 1407.6,1002 1406.4,1002.9 1405.7,1003.7 1404.6,1004.4 1402.7,1005 1400.8,1005.6 1400.1,1006.1 1399.7,1006.8 1399.1,1007.5 1399,1008.4 1398.9,1009.4 1399.3,1010.6 1399.3,1011.9 1398.7,1013.2 1398.5,1014.6 1399,1015.9 1398.9,1017.1 1398.1,1018.3 1398.1,1019.4 1398.8,1020.4 1400,1021.5 1401.1,1022.5 1401.6,1023.5 1402.1,1024.5 1403,1025.5 1403.9,1026.5 1404.6,1027.5 1405.3,1028.5 1406,1029.4 1407.1,1030.4 1407.6,1031.3 1408,1032.2 1409.1,1033.2 1410,1034.1 1411,1034.9 1411.8,1035.8 1412.9,1036.6 1413.7,1037.4 1414.7,1038.3 1415.2,1039.1 1416,1040 1417,1040.9 1417.6,1041.9 1418.6,1042.9 1419.4,1044 1420.1,1045 1420,1046.1 1420,1047.1 1421.2,1048.2 1421.7,1049.3 1422,1050.5 1423.2,1051.6 1424,1052.8 1423.9,1054 1424.2,1055.1 1424.7,1056.1 1424.5,1057.1 1423.9,1058 1423.1,1058.9 1421.8,1059.8 1420.7,1060.6 1419.6,1061.4 1418.7,1062.1 1417.8,1062.8 1416.3,1063.4 1414.9,1063.9 1413.8,1064.5 1412.3,1065 1411.3,1065.5 1410.5,1066.1 1410,1066.7 1410.2,1067.4 1410.8,1068.2 1411.8,1069.1 1412.5,1069.9 1413.4,1070.8 1414.6,1071.6 1415.7,1072.3 1417.1,1073 1418.2,1073.6 1419.4,1074.3 1420.5,1074.9 1420.8,1075.5 1421.5,1076.1 1423.4,1076.7 1425,1077.3 1425.8,1077.8 1426.3,1078.3 1427.9,1078.8 1428.9,1079.3 1429.7,1079.7" stroke="#ff0000" stroke-width="4" fill="none" stroke-linejoin="round" stroke-linecap="round"/>
<path d="M1427,1094.9 1428.8,1095.2 1430,1095.6 1430.9,1096.1 1431.8,1096.7 1432.6,1097.3 1432.4,1098.2 1431.5,1099.4 1430.7,1100.5 1429.4,1101.2 1428.8,1101.6 1427.8,1101.9 1426.4,1102.2 1425.8,1102.5 1424.5,1102.7 1422.9,1102.9 1421.6,1103 1420.4,1103.2 1418.9,1103.3 1417.4,1103.5 1416.7,1103.6 1415.5,1103.8 1413.9,1103.9 1412.6,1104.1 1411.5,1104.3 1410.2,1104.5 1409,1104.7 1407.3,1104.9 1405.8,1105.1 1404.4,1105.3 1402.9,1105.5 1401.4,1105.7 1399.5,1105.9 1398,1106.1 1396.6,1106.4 1395.4,1106.6 1394.4,1106.9 1393.4,1107.2 1392.5,1107.5 1392,1107.9 1391.9,1108.3 1392.1,1108.9 1393.4,1109.8 1394,1110.7 1393.8,1111.5 1393.4,1112.2 1392.5,1112.9 1391.7,1113.5 1390.4,1114.1 1388.8,1114.8 1387,1115.3 1385.3,1115.9 1384,1116.5 1382.8,1117.1 1381.5,1117.7 1380.5,1118.4 1380,1119 1379.5,1119.7 1379.8,1120.5 1381.4,1121.2 1382.8,1122 1383.3,1122.8 1383.3,1123.6 1382.7,1124.5 1381.3,1125.3 1380,1126 1378.9,1126.4 1377.8,1126.7 1376.7,1127.1 1375.7,1127.4 1374.8,1127.7 1373.5,1128 1372.1,1128.3 1370.9,1128.5 1369.5,1128.7 1368.3,1128.8 1367.3,1128.9 1365.8,1129 1364.4,1129" stroke="#ff0000" stroke-width="4" fill="none" stroke-linejoin="round" stroke-linecap="round"/>
<path d="M1383.6,829.8 1382.8,831 1382.3,832.1 1381.7,833.2 1381.3,834.4 1381,835.5 1380.7,836.7 1380.5,837.8 1380.5,839 1380.5,840.1 1380.8,841.4 1380.9,842.8 1381.2,844.1 1381.7,845.4 1382.2,846.4 1382.7,847.2 1383.3,847.7 1384,848.2 1384.9,848.5 1385.9,848.8 1386.9,849.1 1388.1,849.3 1389.5,849.5 1391,849.7 1392.5,849.9 1393.9,850.1 1395.2,850.3 1396.6,850.5 1397.9,850.8 1399.1,851.1 1400.3,851.4 1401.3,851.9 1402.2,852.3 1403.1,853.2 1404,854.5 1404.7,855.7 1405.2,856.7 1405.3,857.2 1404,857.4 1402.2,857.5 1400.7,857.7 1400.3,858 1400.5,858.5 1400.9,859.3 1401.2,860.4 1401.8,861.6 1402.4,862.9 1403,864.2 1403.6,865.6 1404.2,866.9 1404.8,868.2 1405.4,869.3 1405.9,870.3 1406.6,871.3 1407.4,872.3 1408.1,873.3 1408.8,874.3 1409.4,875.3 1410,876.2 1410.8,877.2 1411.4,878.3 1412,879.3 1412.7,880.3 1413.3,881.4 1413.7,882.5 1414.3,883.6 1415,884.6 1415.4,885.7 1415.8,886.8 1416.2,887.9 1416.8,889 1417.2,890.1 1417.8,891.3 1418.3,892.4 1418.9,893.5 1419.5,894.7 1419.8,895.8 1420.1,897 1420.3,898.1 1420.5,899.2 1420.4,900.4 1420.3,901.5 1420.1,902.7 1419.6,903.8 1419.3,905 1419,906.1 1418.5,907.2 1417.9,908.4 1417.4,909.5 1416.7,910.6 1416.1,911.7 1415.7,912.8 1415,913.8 1414.3,914.9 1413.7,915.9 1412.9,916.9 1412.3,917.9 1411.6,918.8 1410.9,919.8 1410.2,920.8 1409.4,921.7 1408.7,922.7 1408.1,923.6 1407.3,924.6 1406.6,925.6 1405.8,926.6 1404.9,927.5 1403.9,928.5 1402.9,929.5 1402.1,930.4 1401.4,931.4 1400.6,932.4 1399.9,933.4 1399.3,934.4 1398.7,935.4 1398.3,936.4 1398,937.5 1398,938.6 1398.2,939.7 1398.4,940.8 1398.6,942 1398.9,943.2 1399.3,944.4 1399.6,945.6 1399.8,946.8 1400.2,948 1400.5,949.2 1400.8,950.4 1401,951.6 1401.2,952.7 1401.4,953.9 1401.7,955.1 1402,956.3 1402.1,957.5 1402,958.7 1401.9,959.9 1402,961.1 1401.9,962.3 1401.8,963.5 1401.7,964.7 1401.5,965.9 1401.3,967.1 1401.3,968.3 1401.3,969.5 1401.2,970.7 1401.2,971.9 1401.2,973.1 1401.2,974.3 1401.3,975.5 1401.3,976.7 1401.3,977.9 1401.3,979.1 1401.4,980.3 1401.3,981.5 1401.2,982.7 1401.2,983.9 1401.1,985.1 1401.1,986.3 1401.2,987.6 1401.3,988.8 1401.2,990.1 1401.3,991.3 1401.5,992.6 1401.5,993.8 1401.5,995.1 1401.6,996.3 1401.6,997.5 1401.8,998.7 1401.9,999.8 1401.9,1000.9 1402,1002 1402.3,1003 1402.7,1004 1403.5,1004.9 1404.4,1005.8 1405.3,1006.6 1406.3,1007.5 1407.4,1008.4 1408.3,1009.3 1409.1,1010.2 1409.8,1011.2 1410.3,1012.2 1410.7,1013.3 1411.2,1014.4 1411.7,1015.6 1412,1016.7 1412.4,1017.9 1412.7,1019.1 1412.8,1020.3 1413,1021.5 1413.2,1022.7 1413.4,1023.9 1413.5,1025.1 1413.7,1026.3 1413.8,1027.5 1413.9,1028.7 1413.8,1029.9 1413.9,1031.1 1414,1032.3 1414,1033.5 1414,1034.7 1414.1,1035.9 1414.1,1037.1 1414.1,1038.3 1414.4,1039.5 1414.4,1040.7 1414.3,1041.9 1414.2,1043.1 1414.4,1044.3 1414.4,1045.5 1414.3,1046.7 1414.4,1047.9 1414.4,1049.1 1414.5,1050.3 1414.5,1051.5 1414.5,1052.8 1414.6,1054 1414.6,1055.2 1414.6,1056.4 1414.6,1057.6 1414.8,1058.8 1414.7,1060 1414.7,1061.2 1414.9,1062.4 1415,1063.6 1415.1,1064.8 1415.4,1065.9 1416,1067 1416.6,1068 1417.2,1069.1 1417.8,1070.2 1418.5,1071.3 1419,1072.4 1419.2,1073.5 1419.6,1074.7 1420.1,1075.8 1420.4,1077 1420.7,1078.1 1421.1,1079.3 1421.4,1080.5 1421.6,1081.7 1421.7,1083 1421.8,1084.4 1421.8,1085.7 1422,1086.8 1422.3,1087.9 1422.5,1088.7 1423,1089.3 1423.9,1089.9 1425,1090.4 1426.1,1090.9 1427.3,1091.3 1428.7,1091.8 1430.1,1092.2 1431.4,1092.7 1432.5,1093.3 1433.5,1093.9 1434.6,1094.6 1435.9,1095.3 1437.1,1096 1438.5,1096.8 1439.7,1097.6 1440.6,1098.3 1441.5,1099.1 1442.3,1099.9 1442.8,1100.7 1442.9,1101.5 1442.7,1102.4 1442.2,1103.3 1441.4,1104.2 1440.5,1105.1 1439.5,1106 1438.3,1106.9 1437.1,1107.6 1436,1108.3 1435,1108.8 1434.1,1109.4 1433,1109.8 1431.9,1110.3 1430.6,1110.7 1429.3,1111.1 1428.2,1111.5 1427.1,1111.8 1426,1112.2 1424.7,1112.4 1423.5,1112.7 1422.5,1113 1421.3,1113.2 1420.1,1113.5 1418.9,1113.7 1417.6,1113.9 1416.4,1114.2 1415.3,1114.4 1414.2,1114.6 1413.1,1114.7 1411.8,1114.9 1410.6,1115.1 1409.4,1115.2 1408.3,1115.3 1407,1115.4 1405.8,1115.5 1404.6,1115.5 1403.4,1115.6 1402.1,1115.7 1401,1115.8 1399.8,1115.8 1398.6,1115.9 1397.4,1116 1396.3,1116 1395.1,1116.1 1393.9,1116.1 1392.7,1116.2 1391.5,1116.2 1390.1,1116.3 1389,1116.3 1387.7,1116.4 1386.4,1116.4 1385.2,1116.4 1384.1,1116.5 1383,1116.5 1381.6,1116.5 1380.6,1116.5 1379.4,1116.5 1378.1,1116.5 1376.9,1116.5 1375.7,1116.5 1374.5,1116.5 1373.3,1116.5 1372.1,1116.5 1370.9,1116.5 1369.7,1116.5 1368.5,1116.5 1367.2,1116.5 1366,1116.5 1364.9,1116.5 1363.7,1116.5 1362.5,1116.5 1361.2,1116.5 1360.1,1116.5 1358.9,1116.5 1357.6,1116.5 1356.4,1116.5 1355.2,1116.5 1354.1,1116.5 1352.9,1116.5 1351.7,1116.5 1350.5,1116.5 1349.3,1116.5 1348,1116.5 1346.7,1116.5 1345.5,1116.5 1344.2,1116.5 1343.1,1116.5 1342,1116.5" stroke="#0000ff" stroke-width="4" fill="none" stroke-linejoin="round" stroke-linecap="round"/>
<path d="M1383.6,828.7 1384.9,829.5 1386,830.4 1386.7,831.3 1387,832.3 1386.7,833.3 1386.3,834.4 1385.7,835.6 1385,836.8 1384.6,838 1384.4,839.2 1384.4,840.3 1384.5,841.6 1384.7,842.8 1384.9,844.1 1385,845.3 1385.2,846.4 1385.5,847.4 1385.8,848.4 1386.5,849.3 1387.3,850.3 1388.1,851.2 1389.1,852 1390.1,852.9 1391.1,853.7 1392.1,854.6 1393.1,855.4 1394,856.2 1394.9,857 1395.8,857.8 1396.8,858.6 1397.8,859.3 1398.8,860 1399.9,860.7 1400.7,861.4 1401.6,862.2 1402.8,862.9 1403.8,863.6 1404.7,864.4 1405.6,865.2 1406.4,866 1407.1,866.9 1407.9,867.8 1408.8,868.8 1409.7,869.8 1410.5,870.8 1411.2,871.8 1411.9,872.9 1412.4,874 1412.5,875.1 1412.4,876.2 1412.4,877.3 1412.3,878.5 1412.1,879.7 1411.9,881 1411.9,882.2 1411.8,883.4 1411.7,884.7 1411.6,885.9 1411.5,887.1 1411.6,888.3 1411.6,889.5 1411.4,890.8 1411.4,892 1411.3,893.2 1411.2,894.4 1411.1,895.6 1411.1,896.8 1410.9,898 1410.9,899.1 1410.7,900.3 1410.3,901.4 1409.8,902.4 1409.2,903.5 1408.6,904.5 1407.7,905.6 1407.1,906.7 1406.9,907.8 1406.5,909 1406.1,910.1 1405.8,911.3 1405.5,912.5 1405.2,913.7 1405,914.9 1404.9,916 1404.5,917.2 1404,918.3 1403.7,919.5 1403.4,920.6 1403,921.8 1402.5,922.9 1402.2,924.1 1401.8,925.2 1401.4,926.4 1401,927.5 1400.6,928.7 1400.4,929.9 1399.9,931 1399.5,932.2 1399.3,933.4 1399,934.6 1398.9,935.8 1398.8,937 1398.8,938.2 1398.9,939.4 1398.9,940.6 1398.8,941.8 1398.8,943 1398.9,944.2 1398.9,945.4 1398.8,946.6 1398.8,947.8 1398.9,949 1398.9,950.2 1399,951.4 1399.1,952.6 1399.2,953.9 1399.3,955.1 1399.4,956.3 1399.5,957.5 1399.6,958.7 1399.9,959.8 1400,961 1400.3,962.2 1400.6,963.4 1400.8,964.6 1401,965.7 1401.2,966.9 1401.5,968.1 1401.9,969.3 1402.2,970.5 1402.5,971.6 1402.8,972.8 1403,974 1403,975.2 1403.2,976.4 1403.4,977.6 1403.5,978.8 1403.6,980 1403.7,981.2 1403.6,982.4 1403.6,983.6 1403.6,984.8 1403.6,986 1403.6,987.2 1403.7,988.4 1403.8,989.7 1403.7,990.9 1403.7,992.1 1403.6,993.3 1403.6,994.5 1403.4,995.7 1403.1,996.9 1403,998.2 1402.9,999.4 1402.9,1000.5 1402.9,1001.7 1402.8,1002.9 1403.1,1004 1403.5,1005.1 1404.1,1006.2 1404.7,1007.3 1405.4,1008.4 1406,1009.5 1406.4,1010.6 1406.9,1011.8 1407.4,1012.9 1407.8,1014 1408.1,1015.2 1408.5,1016.3 1408.9,1017.5 1409.2,1018.6 1409.6,1019.8 1410.1,1020.9 1410.2,1022.1 1410.6,1023.2 1411,1024.4 1411.3,1025.6 1411.6,1026.7 1411.9,1027.9 1412,1029.1 1412.2,1030.3 1412.6,1031.5 1412.8,1032.6 1413,1033.8 1413.1,1035 1413.4,1036.2 1413.8,1037.4 1413.8,1038.6 1413.9,1039.8 1414.1,1041 1414.3,1042.2 1414.4,1043.4 1414.5,1044.6 1414.6,1045.8 1414.6,1047 1414.6,1048.2 1414.7,1049.4 1414.8,1050.6 1414.9,1051.8 1415,1053 1415,1054.3 1415.1,1055.5 1415,1056.7 1415,1057.9 1414.9,1059.2 1414.8,1060.4 1414.9,1061.6 1414.9,1062.8 1414.9,1063.9 1414.9,1065.1 1415.1,1066.2 1415.6,1067.3 1416.4,1068.3 1417.2,1069.4 1417.8,1070.4 1418.5,1071.5 1418.9,1072.6 1419.3,1073.7 1419.7,1074.9 1420.1,1076 1420.6,1077.2 1420.8,1078.4 1421.1,1079.5 1421.3,1080.7 1421.4,1082 1421.6,1083.3 1421.8,1084.7 1421.7,1086 1421.8,1087.1 1422.1,1088.1 1422.3,1088.9 1422.8,1089.5 1423.6,1090.1 1424.7,1090.6 1425.9,1091.1 1427.3,1091.5 1428.7,1091.9 1430,1092.4 1431.4,1092.8 1432.5,1093.3 1433.7,1093.8 1435.2,1094.2 1436.7,1094.7 1438,1095.1 1439.3,1095.6 1440.3,1096.1 1441,1096.7 1441.3,1097.3 1441.1,1098.3 1440.6,1099.6 1439.9,1100.8 1439.2,1101.8 1438.5,1102.4 1437.4,1102.8 1436.5,1103.2 1435.4,1103.5 1434.2,1103.8 1433,1104 1431.6,1104.2 1430.3,1104.5 1429,1104.7 1427.8,1104.9 1426.5,1105.2 1425.2,1105.5 1424,1105.8 1423,1106.1 1421.9,1106.4 1420.6,1106.6 1419.4,1106.9 1418.3,1107.2 1417.1,1107.5 1415.9,1107.8 1414.8,1108.1 1413.7,1108.4 1412.5,1108.7 1411.2,1109 1410.1,1109.3 1408.8,1109.6 1407.6,1109.9 1406.6,1110.3 1405.4,1110.6 1404.3,1110.9 1403.2,1111.3 1401.9,1111.6 1400.8,1112 1399.8,1112.3 1398.5,1112.7 1397.3,1113 1396.2,1113.4 1395,1113.8 1393.8,1114.2 1392.7,1114.5 1391.3,1114.9 1389.8,1115.3 1388.3,1115.7 1386.9,1116.1 1385.4,1116.5 1384,1116.9 1382.7,1117.3 1381.6,1117.8 1380.7,1118.3 1380.1,1118.8 1379.7,1119.3 1379.7,1119.9 1380.4,1120.6 1381.8,1121.4 1383.2,1122.2 1383.6,1123 1383.1,1123.8 1382.3,1124.7 1381,1125.5 1379.8,1126.1 1378.8,1126.4 1377.7,1126.8 1376.8,1127.1 1375.6,1127.5 1374.4,1127.8 1373.3,1128 1372,1128.3 1370.8,1128.5 1369.6,1128.7 1368.5,1128.8 1367.3,1128.9 1365.9,1129 1364.4,1129" stroke="#000000" stroke-width="4" fill="none" stroke-linejoin="round" stroke-linecap="round"/>
<text x="242.3" y="1198.9" font-size="16.5">hatching = diffs &gt; internal var+obs uncertainty (left column only); stippling = diffs &gt; internal var only (both columns)</text><text x="242.3" y="1217.8" font-size="16.5">GM=global mean, NHM=0-90N mean, SHM=0-90S mean, OM=ocean mean, LM=land mean; zonal avgs: red=land, blue=ocean, black=all</text>
</svg></body></html>
